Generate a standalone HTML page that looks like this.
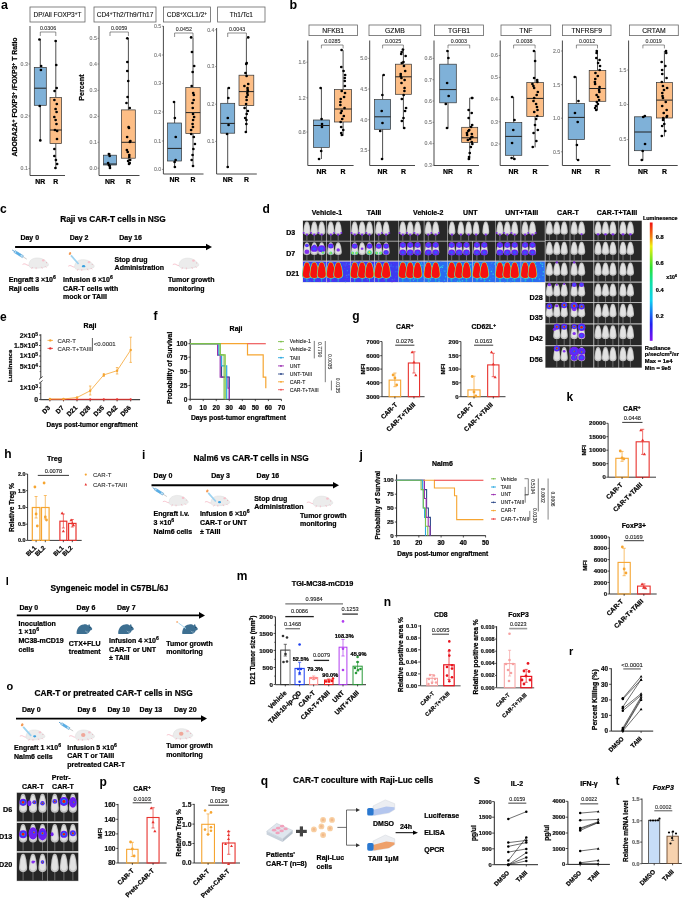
<!DOCTYPE html>
<html><head><meta charset="utf-8"><style>
html,body{margin:0;padding:0;background:#fff;}
svg{display:block;font-family:"Liberation Sans", sans-serif;filter:blur(0.4px);}
</style></head><body>
<svg width="685" height="898" viewBox="0 0 685 898">
<rect width="685" height="898" fill="#fff"/>
<text x="1.00" y="8.80" font-size="12.5" font-weight="bold">a</text>
<text x="289.50" y="8.80" font-size="12.5" font-weight="bold">b</text>
<rect x="30.00" y="7.00" width="55.00" height="15.00" fill="#fff" stroke="#666" stroke-width="0.8"/>
<text x="57.50" y="16.84" font-size="6.5" text-anchor="middle" fill="#111" stroke="#111" stroke-width="0.12">DP/All FOXP3<tspan font-size="72%" baseline-shift="super">+</tspan>T</text>
<line x1="30.00" y1="26.00" x2="30.00" y2="175.50" stroke="#333" stroke-width="0.9"/>
<line x1="30.00" y1="175.50" x2="65.00" y2="175.50" stroke="#333" stroke-width="0.9"/>
<line x1="28.50" y1="64.00" x2="30.00" y2="64.00" stroke="#555" stroke-width="0.6"/>
<text x="27.80" y="65.87" font-size="5.2" text-anchor="end" fill="#777" stroke="#777" stroke-width="0.12">0.3</text>
<line x1="28.50" y1="116.00" x2="30.00" y2="116.00" stroke="#555" stroke-width="0.6"/>
<text x="27.80" y="117.87" font-size="5.2" text-anchor="end" fill="#777" stroke="#777" stroke-width="0.12">0.2</text>
<line x1="28.50" y1="168.60" x2="30.00" y2="168.60" stroke="#555" stroke-width="0.6"/>
<text x="27.80" y="170.47" font-size="5.2" text-anchor="end" fill="#777" stroke="#777" stroke-width="0.12">0.1</text>
<line x1="40.30" y1="39.40" x2="40.30" y2="67.40" stroke="#222" stroke-width="0.8"/>
<line x1="40.30" y1="105.30" x2="40.30" y2="140.40" stroke="#222" stroke-width="0.8"/>
<rect x="34.30" y="67.40" width="12.00" height="37.90" fill="#7fb1d8" stroke="#333" stroke-width="0.7"/>
<line x1="34.30" y1="88.20" x2="46.30" y2="88.20" stroke="#222" stroke-width="1.0"/>
<circle cx="39.42" cy="39.50" r="1.35" fill="#000"/>
<circle cx="41.13" cy="66.00" r="1.35" fill="#000"/>
<circle cx="40.93" cy="70.00" r="1.35" fill="#000"/>
<circle cx="39.71" cy="106.00" r="1.35" fill="#000"/>
<circle cx="40.29" cy="140.40" r="1.35" fill="#000"/>
<line x1="55.80" y1="41.00" x2="55.80" y2="97.40" stroke="#222" stroke-width="0.8"/>
<line x1="55.80" y1="143.60" x2="55.80" y2="168.60" stroke="#222" stroke-width="0.8"/>
<rect x="50.00" y="97.40" width="11.60" height="46.20" fill="#fdbe86" stroke="#333" stroke-width="0.7"/>
<line x1="50.00" y1="130.00" x2="61.60" y2="130.00" stroke="#222" stroke-width="1.0"/>
<circle cx="55.65" cy="41.00" r="1.35" fill="#000"/>
<circle cx="56.25" cy="65.00" r="1.35" fill="#000"/>
<circle cx="56.67" cy="88.00" r="1.35" fill="#000"/>
<circle cx="54.58" cy="91.00" r="1.35" fill="#000"/>
<circle cx="54.39" cy="100.00" r="1.35" fill="#000"/>
<circle cx="56.81" cy="104.00" r="1.35" fill="#000"/>
<circle cx="55.60" cy="109.00" r="1.35" fill="#000"/>
<circle cx="56.59" cy="112.00" r="1.35" fill="#000"/>
<circle cx="54.31" cy="117.00" r="1.35" fill="#000"/>
<circle cx="55.64" cy="120.00" r="1.35" fill="#000"/>
<circle cx="56.46" cy="124.00" r="1.35" fill="#000"/>
<circle cx="54.99" cy="130.00" r="1.35" fill="#000"/>
<circle cx="57.14" cy="131.00" r="1.35" fill="#000"/>
<circle cx="57.00" cy="139.00" r="1.35" fill="#000"/>
<circle cx="54.39" cy="149.00" r="1.35" fill="#000"/>
<circle cx="54.38" cy="156.00" r="1.35" fill="#000"/>
<circle cx="55.92" cy="160.00" r="1.35" fill="#000"/>
<circle cx="57.12" cy="164.00" r="1.35" fill="#000"/>
<circle cx="55.44" cy="168.00" r="1.35" fill="#000"/>
<path d="M40.30,36.00V32.00H55.80V36.00" fill="none" stroke="#444" stroke-width="0.6"/>
<text x="48.05" y="29.71" font-size="5.3" text-anchor="middle" fill="#333" stroke="#333" stroke-width="0.12">0.0306</text>
<text x="40.30" y="183.78" font-size="6.9" font-weight="bold" text-anchor="middle" fill="#000" stroke="#000" stroke-width="0.22">NR</text>
<text x="55.80" y="183.78" font-size="6.9" font-weight="bold" text-anchor="middle" fill="#000" stroke="#000" stroke-width="0.22">R</text>
<rect x="94.00" y="7.00" width="62.00" height="15.00" fill="#fff" stroke="#666" stroke-width="0.8"/>
<text x="125.00" y="16.84" font-size="6.5" text-anchor="middle" fill="#111" stroke="#111" stroke-width="0.12">CD4<tspan font-size="72%" baseline-shift="super">+</tspan>Th2/Th9/Th17</text>
<line x1="99.00" y1="26.00" x2="99.00" y2="175.50" stroke="#333" stroke-width="0.9"/>
<line x1="99.00" y1="175.50" x2="139.50" y2="175.50" stroke="#333" stroke-width="0.9"/>
<line x1="97.50" y1="38.30" x2="99.00" y2="38.30" stroke="#555" stroke-width="0.6"/>
<text x="96.80" y="40.17" font-size="5.2" text-anchor="end" fill="#777" stroke="#777" stroke-width="0.12">0.5</text>
<line x1="97.50" y1="64.00" x2="99.00" y2="64.00" stroke="#555" stroke-width="0.6"/>
<text x="96.80" y="65.87" font-size="5.2" text-anchor="end" fill="#777" stroke="#777" stroke-width="0.12">0.4</text>
<line x1="97.50" y1="90.40" x2="99.00" y2="90.40" stroke="#555" stroke-width="0.6"/>
<text x="96.80" y="92.27" font-size="5.2" text-anchor="end" fill="#777" stroke="#777" stroke-width="0.12">0.3</text>
<line x1="97.50" y1="116.30" x2="99.00" y2="116.30" stroke="#555" stroke-width="0.6"/>
<text x="96.80" y="118.17" font-size="5.2" text-anchor="end" fill="#777" stroke="#777" stroke-width="0.12">0.2</text>
<line x1="97.50" y1="142.30" x2="99.00" y2="142.30" stroke="#555" stroke-width="0.6"/>
<text x="96.80" y="144.17" font-size="5.2" text-anchor="end" fill="#777" stroke="#777" stroke-width="0.12">0.1</text>
<line x1="97.50" y1="168.20" x2="99.00" y2="168.20" stroke="#555" stroke-width="0.6"/>
<text x="96.80" y="170.07" font-size="5.2" text-anchor="end" fill="#777" stroke="#777" stroke-width="0.12">0.0</text>
<line x1="110.00" y1="153.00" x2="110.00" y2="155.20" stroke="#222" stroke-width="0.8"/>
<line x1="110.00" y1="165.00" x2="110.00" y2="168.00" stroke="#222" stroke-width="0.8"/>
<rect x="103.50" y="155.20" width="13.00" height="9.80" fill="#7fb1d8" stroke="#333" stroke-width="0.7"/>
<line x1="103.50" y1="164.00" x2="116.50" y2="164.00" stroke="#222" stroke-width="1.0"/>
<circle cx="108.87" cy="154.00" r="1.35" fill="#000"/>
<circle cx="109.69" cy="156.00" r="1.35" fill="#000"/>
<circle cx="108.12" cy="163.00" r="1.35" fill="#000"/>
<circle cx="108.89" cy="165.00" r="1.35" fill="#000"/>
<circle cx="109.75" cy="166.00" r="1.35" fill="#000"/>
<circle cx="109.98" cy="168.00" r="1.35" fill="#000"/>
<line x1="128.40" y1="38.30" x2="128.40" y2="109.90" stroke="#222" stroke-width="0.8"/>
<line x1="128.40" y1="158.20" x2="128.40" y2="165.00" stroke="#222" stroke-width="0.8"/>
<rect x="121.50" y="109.90" width="13.80" height="48.30" fill="#fdbe86" stroke="#333" stroke-width="0.7"/>
<line x1="121.50" y1="142.30" x2="135.30" y2="142.30" stroke="#222" stroke-width="1.0"/>
<circle cx="127.33" cy="38.30" r="1.35" fill="#000"/>
<circle cx="127.32" cy="62.00" r="1.35" fill="#000"/>
<circle cx="127.28" cy="71.00" r="1.35" fill="#000"/>
<circle cx="128.24" cy="81.00" r="1.35" fill="#000"/>
<circle cx="127.56" cy="97.00" r="1.35" fill="#000"/>
<circle cx="126.49" cy="103.00" r="1.35" fill="#000"/>
<circle cx="129.75" cy="108.00" r="1.35" fill="#000"/>
<circle cx="128.63" cy="127.00" r="1.35" fill="#000"/>
<circle cx="128.97" cy="128.00" r="1.35" fill="#000"/>
<circle cx="127.14" cy="137.00" r="1.35" fill="#000"/>
<circle cx="130.37" cy="141.00" r="1.35" fill="#000"/>
<circle cx="129.84" cy="142.00" r="1.35" fill="#000"/>
<circle cx="126.88" cy="150.00" r="1.35" fill="#000"/>
<circle cx="127.73" cy="152.00" r="1.35" fill="#000"/>
<circle cx="129.29" cy="155.00" r="1.35" fill="#000"/>
<circle cx="129.24" cy="157.00" r="1.35" fill="#000"/>
<circle cx="130.15" cy="160.00" r="1.35" fill="#000"/>
<circle cx="128.09" cy="161.00" r="1.35" fill="#000"/>
<circle cx="129.72" cy="163.00" r="1.35" fill="#000"/>
<circle cx="129.08" cy="164.00" r="1.35" fill="#000"/>
<path d="M110.00,36.00V32.00H128.40V36.00" fill="none" stroke="#444" stroke-width="0.6"/>
<text x="119.20" y="29.71" font-size="5.3" text-anchor="middle" fill="#333" stroke="#333" stroke-width="0.12">0.0059</text>
<text x="110.00" y="183.78" font-size="6.9" font-weight="bold" text-anchor="middle" fill="#000" stroke="#000" stroke-width="0.22">NR</text>
<text x="128.40" y="183.78" font-size="6.9" font-weight="bold" text-anchor="middle" fill="#000" stroke="#000" stroke-width="0.22">R</text>
<rect x="163.40" y="7.00" width="47.10" height="15.00" fill="#fff" stroke="#666" stroke-width="0.8"/>
<text x="186.95" y="16.84" font-size="6.5" text-anchor="middle" fill="#111" stroke="#111" stroke-width="0.12">CD8<tspan font-size="72%" baseline-shift="super">+</tspan>XCL1/2<tspan font-size="72%" baseline-shift="super">+</tspan></text>
<line x1="163.40" y1="26.00" x2="163.40" y2="174.00" stroke="#333" stroke-width="0.9"/>
<line x1="163.40" y1="174.00" x2="203.50" y2="174.00" stroke="#333" stroke-width="0.9"/>
<line x1="161.90" y1="26.20" x2="163.40" y2="26.20" stroke="#555" stroke-width="0.6"/>
<text x="161.20" y="28.07" font-size="5.2" text-anchor="end" fill="#777" stroke="#777" stroke-width="0.12">0.5</text>
<line x1="161.90" y1="55.00" x2="163.40" y2="55.00" stroke="#555" stroke-width="0.6"/>
<text x="161.20" y="56.87" font-size="5.2" text-anchor="end" fill="#777" stroke="#777" stroke-width="0.12">0.4</text>
<line x1="161.90" y1="83.40" x2="163.40" y2="83.40" stroke="#555" stroke-width="0.6"/>
<text x="161.20" y="85.27" font-size="5.2" text-anchor="end" fill="#777" stroke="#777" stroke-width="0.12">0.3</text>
<line x1="161.90" y1="112.00" x2="163.40" y2="112.00" stroke="#555" stroke-width="0.6"/>
<text x="161.20" y="113.87" font-size="5.2" text-anchor="end" fill="#777" stroke="#777" stroke-width="0.12">0.2</text>
<line x1="161.90" y1="141.00" x2="163.40" y2="141.00" stroke="#555" stroke-width="0.6"/>
<text x="161.20" y="142.87" font-size="5.2" text-anchor="end" fill="#777" stroke="#777" stroke-width="0.12">0.1</text>
<line x1="161.90" y1="169.40" x2="163.40" y2="169.40" stroke="#555" stroke-width="0.6"/>
<text x="161.20" y="171.27" font-size="5.2" text-anchor="end" fill="#777" stroke="#777" stroke-width="0.12">0.0</text>
<line x1="174.60" y1="102.00" x2="174.60" y2="123.00" stroke="#222" stroke-width="0.8"/>
<line x1="174.60" y1="161.00" x2="174.60" y2="167.00" stroke="#222" stroke-width="0.8"/>
<rect x="167.60" y="123.00" width="14.00" height="38.00" fill="#7fb1d8" stroke="#333" stroke-width="0.7"/>
<line x1="167.60" y1="148.40" x2="181.60" y2="148.40" stroke="#222" stroke-width="1.0"/>
<circle cx="174.01" cy="102.00" r="1.35" fill="#000"/>
<circle cx="174.86" cy="118.00" r="1.35" fill="#000"/>
<circle cx="175.75" cy="137.00" r="1.35" fill="#000"/>
<circle cx="175.64" cy="160.00" r="1.35" fill="#000"/>
<circle cx="174.62" cy="162.00" r="1.35" fill="#000"/>
<circle cx="174.87" cy="167.00" r="1.35" fill="#000"/>
<line x1="193.00" y1="37.40" x2="193.00" y2="87.60" stroke="#222" stroke-width="0.8"/>
<line x1="193.00" y1="133.60" x2="193.00" y2="166.40" stroke="#222" stroke-width="0.8"/>
<rect x="185.80" y="87.60" width="14.40" height="46.00" fill="#fdbe86" stroke="#333" stroke-width="0.7"/>
<line x1="185.80" y1="112.60" x2="200.20" y2="112.60" stroke="#222" stroke-width="1.0"/>
<circle cx="191.14" cy="37.40" r="1.35" fill="#000"/>
<circle cx="191.97" cy="52.00" r="1.35" fill="#000"/>
<circle cx="194.19" cy="66.00" r="1.35" fill="#000"/>
<circle cx="192.66" cy="72.00" r="1.35" fill="#000"/>
<circle cx="191.69" cy="86.00" r="1.35" fill="#000"/>
<circle cx="193.20" cy="93.00" r="1.35" fill="#000"/>
<circle cx="193.81" cy="95.00" r="1.35" fill="#000"/>
<circle cx="193.70" cy="100.00" r="1.35" fill="#000"/>
<circle cx="192.50" cy="103.00" r="1.35" fill="#000"/>
<circle cx="192.76" cy="108.00" r="1.35" fill="#000"/>
<circle cx="193.03" cy="114.00" r="1.35" fill="#000"/>
<circle cx="194.11" cy="117.00" r="1.35" fill="#000"/>
<circle cx="193.08" cy="120.00" r="1.35" fill="#000"/>
<circle cx="192.57" cy="124.00" r="1.35" fill="#000"/>
<circle cx="192.96" cy="127.00" r="1.35" fill="#000"/>
<circle cx="191.12" cy="130.00" r="1.35" fill="#000"/>
<circle cx="191.17" cy="134.00" r="1.35" fill="#000"/>
<circle cx="193.81" cy="137.00" r="1.35" fill="#000"/>
<circle cx="194.93" cy="144.00" r="1.35" fill="#000"/>
<circle cx="193.37" cy="149.00" r="1.35" fill="#000"/>
<circle cx="192.57" cy="155.00" r="1.35" fill="#000"/>
<circle cx="191.68" cy="160.00" r="1.35" fill="#000"/>
<circle cx="193.01" cy="166.00" r="1.35" fill="#000"/>
<path d="M174.60,37.00V33.00H193.00V37.00" fill="none" stroke="#444" stroke-width="0.6"/>
<text x="183.80" y="30.71" font-size="5.3" text-anchor="middle" fill="#333" stroke="#333" stroke-width="0.12">0.0452</text>
<text x="174.60" y="182.28" font-size="6.9" font-weight="bold" text-anchor="middle" fill="#000" stroke="#000" stroke-width="0.22">NR</text>
<text x="193.00" y="182.28" font-size="6.9" font-weight="bold" text-anchor="middle" fill="#000" stroke="#000" stroke-width="0.22">R</text>
<rect x="217.60" y="7.00" width="47.40" height="15.00" fill="#fff" stroke="#666" stroke-width="0.8"/>
<text x="241.30" y="16.84" font-size="6.5" text-anchor="middle" fill="#111" stroke="#111" stroke-width="0.12">Th1/Tc1</text>
<line x1="216.60" y1="28.00" x2="216.60" y2="174.00" stroke="#333" stroke-width="0.9"/>
<line x1="216.60" y1="174.00" x2="256.80" y2="174.00" stroke="#333" stroke-width="0.9"/>
<line x1="215.10" y1="29.70" x2="216.60" y2="29.70" stroke="#555" stroke-width="0.6"/>
<text x="214.40" y="31.57" font-size="5.2" text-anchor="end" fill="#777" stroke="#777" stroke-width="0.12">0.4</text>
<line x1="215.10" y1="66.60" x2="216.60" y2="66.60" stroke="#555" stroke-width="0.6"/>
<text x="214.40" y="68.47" font-size="5.2" text-anchor="end" fill="#777" stroke="#777" stroke-width="0.12">0.3</text>
<line x1="215.10" y1="104.20" x2="216.60" y2="104.20" stroke="#555" stroke-width="0.6"/>
<text x="214.40" y="106.07" font-size="5.2" text-anchor="end" fill="#777" stroke="#777" stroke-width="0.12">0.2</text>
<line x1="215.10" y1="141.40" x2="216.60" y2="141.40" stroke="#555" stroke-width="0.6"/>
<text x="214.40" y="143.27" font-size="5.2" text-anchor="end" fill="#777" stroke="#777" stroke-width="0.12">0.1</text>
<line x1="227.70" y1="87.60" x2="227.70" y2="103.30" stroke="#222" stroke-width="0.8"/>
<line x1="227.70" y1="133.20" x2="227.70" y2="167.00" stroke="#222" stroke-width="0.8"/>
<rect x="220.70" y="103.30" width="14.00" height="29.90" fill="#7fb1d8" stroke="#333" stroke-width="0.7"/>
<line x1="220.70" y1="123.40" x2="234.70" y2="123.40" stroke="#222" stroke-width="1.0"/>
<circle cx="228.86" cy="88.00" r="1.35" fill="#000"/>
<circle cx="228.35" cy="98.00" r="1.35" fill="#000"/>
<circle cx="227.80" cy="118.00" r="1.35" fill="#000"/>
<circle cx="228.56" cy="125.00" r="1.35" fill="#000"/>
<circle cx="227.06" cy="134.00" r="1.35" fill="#000"/>
<circle cx="227.73" cy="167.00" r="1.35" fill="#000"/>
<line x1="246.40" y1="37.40" x2="246.40" y2="75.20" stroke="#222" stroke-width="0.8"/>
<line x1="246.40" y1="105.60" x2="246.40" y2="132.50" stroke="#222" stroke-width="0.8"/>
<rect x="239.00" y="75.20" width="14.80" height="30.40" fill="#fdbe86" stroke="#333" stroke-width="0.7"/>
<line x1="239.00" y1="91.60" x2="253.80" y2="91.60" stroke="#222" stroke-width="1.0"/>
<circle cx="248.21" cy="37.40" r="1.35" fill="#000"/>
<circle cx="246.71" cy="63.00" r="1.35" fill="#000"/>
<circle cx="246.24" cy="64.00" r="1.35" fill="#000"/>
<circle cx="245.48" cy="73.00" r="1.35" fill="#000"/>
<circle cx="246.59" cy="76.00" r="1.35" fill="#000"/>
<circle cx="248.23" cy="84.00" r="1.35" fill="#000"/>
<circle cx="244.42" cy="86.00" r="1.35" fill="#000"/>
<circle cx="247.53" cy="88.00" r="1.35" fill="#000"/>
<circle cx="247.68" cy="90.00" r="1.35" fill="#000"/>
<circle cx="247.94" cy="91.00" r="1.35" fill="#000"/>
<circle cx="247.36" cy="93.00" r="1.35" fill="#000"/>
<circle cx="247.64" cy="95.00" r="1.35" fill="#000"/>
<circle cx="246.47" cy="97.00" r="1.35" fill="#000"/>
<circle cx="246.65" cy="100.00" r="1.35" fill="#000"/>
<circle cx="246.10" cy="104.00" r="1.35" fill="#000"/>
<circle cx="244.62" cy="108.00" r="1.35" fill="#000"/>
<circle cx="247.88" cy="111.00" r="1.35" fill="#000"/>
<circle cx="246.68" cy="114.00" r="1.35" fill="#000"/>
<circle cx="245.20" cy="118.00" r="1.35" fill="#000"/>
<circle cx="246.42" cy="120.00" r="1.35" fill="#000"/>
<circle cx="246.34" cy="124.00" r="1.35" fill="#000"/>
<circle cx="245.83" cy="132.00" r="1.35" fill="#000"/>
<path d="M227.70,37.00V33.00H246.40V37.00" fill="none" stroke="#444" stroke-width="0.6"/>
<text x="237.05" y="30.71" font-size="5.3" text-anchor="middle" fill="#333" stroke="#333" stroke-width="0.12">0.0043</text>
<text x="227.70" y="182.28" font-size="6.9" font-weight="bold" text-anchor="middle" fill="#000" stroke="#000" stroke-width="0.22">NR</text>
<text x="246.40" y="182.28" font-size="6.9" font-weight="bold" text-anchor="middle" fill="#000" stroke="#000" stroke-width="0.22">R</text>
<rect x="309.00" y="25.00" width="48.40" height="10.60" fill="#fff" stroke="#666" stroke-width="0.8"/>
<text x="333.20" y="32.75" font-size="6.8" text-anchor="middle" fill="#111" stroke="#111" stroke-width="0.12">NFKB1</text>
<line x1="307.80" y1="40.50" x2="307.80" y2="165.50" stroke="#333" stroke-width="0.9"/>
<line x1="307.80" y1="165.50" x2="353.60" y2="165.50" stroke="#333" stroke-width="0.9"/>
<line x1="306.30" y1="62.20" x2="307.80" y2="62.20" stroke="#555" stroke-width="0.6"/>
<text x="305.60" y="64.07" font-size="5.2" text-anchor="end" fill="#777" stroke="#777" stroke-width="0.12">1.6</text>
<line x1="306.30" y1="97.80" x2="307.80" y2="97.80" stroke="#555" stroke-width="0.6"/>
<text x="305.60" y="99.67" font-size="5.2" text-anchor="end" fill="#777" stroke="#777" stroke-width="0.12">1.2</text>
<line x1="306.30" y1="132.00" x2="307.80" y2="132.00" stroke="#555" stroke-width="0.6"/>
<text x="305.60" y="133.87" font-size="5.2" text-anchor="end" fill="#777" stroke="#777" stroke-width="0.12">0.8</text>
<line x1="321.40" y1="87.60" x2="321.40" y2="120.00" stroke="#222" stroke-width="0.8"/>
<line x1="321.40" y1="147.40" x2="321.40" y2="159.00" stroke="#222" stroke-width="0.8"/>
<rect x="313.40" y="120.00" width="16.00" height="27.40" fill="#7fb1d8" stroke="#333" stroke-width="0.7"/>
<line x1="313.40" y1="125.50" x2="329.40" y2="125.50" stroke="#222" stroke-width="1.0"/>
<circle cx="320.63" cy="88.00" r="1.35" fill="#000"/>
<circle cx="321.59" cy="119.00" r="1.35" fill="#000"/>
<circle cx="322.02" cy="124.00" r="1.35" fill="#000"/>
<circle cx="321.96" cy="127.00" r="1.35" fill="#000"/>
<circle cx="321.19" cy="151.00" r="1.35" fill="#000"/>
<circle cx="319.04" cy="159.00" r="1.35" fill="#000"/>
<line x1="343.10" y1="50.20" x2="343.10" y2="89.60" stroke="#222" stroke-width="0.8"/>
<line x1="343.10" y1="122.00" x2="343.10" y2="135.80" stroke="#222" stroke-width="0.8"/>
<rect x="334.60" y="89.60" width="17.00" height="32.40" fill="#fdbe86" stroke="#333" stroke-width="0.7"/>
<line x1="334.60" y1="109.00" x2="351.60" y2="109.00" stroke="#222" stroke-width="1.0"/>
<circle cx="341.59" cy="50.00" r="1.35" fill="#000"/>
<circle cx="341.29" cy="67.00" r="1.35" fill="#000"/>
<circle cx="343.57" cy="71.00" r="1.35" fill="#000"/>
<circle cx="345.12" cy="75.00" r="1.35" fill="#000"/>
<circle cx="344.77" cy="78.00" r="1.35" fill="#000"/>
<circle cx="344.76" cy="81.00" r="1.35" fill="#000"/>
<circle cx="344.87" cy="86.00" r="1.35" fill="#000"/>
<circle cx="341.73" cy="91.00" r="1.35" fill="#000"/>
<circle cx="345.01" cy="93.00" r="1.35" fill="#000"/>
<circle cx="344.07" cy="97.00" r="1.35" fill="#000"/>
<circle cx="340.77" cy="99.00" r="1.35" fill="#000"/>
<circle cx="340.39" cy="102.00" r="1.35" fill="#000"/>
<circle cx="340.38" cy="105.00" r="1.35" fill="#000"/>
<circle cx="344.53" cy="108.00" r="1.35" fill="#000"/>
<circle cx="341.70" cy="111.00" r="1.35" fill="#000"/>
<circle cx="340.91" cy="113.00" r="1.35" fill="#000"/>
<circle cx="343.80" cy="116.00" r="1.35" fill="#000"/>
<circle cx="342.23" cy="119.00" r="1.35" fill="#000"/>
<circle cx="340.69" cy="122.00" r="1.35" fill="#000"/>
<circle cx="341.19" cy="127.00" r="1.35" fill="#000"/>
<circle cx="343.25" cy="130.00" r="1.35" fill="#000"/>
<circle cx="341.24" cy="133.00" r="1.35" fill="#000"/>
<circle cx="341.83" cy="135.00" r="1.35" fill="#000"/>
<path d="M321.40,48.40V45.00H343.10V48.40" fill="none" stroke="#444" stroke-width="0.6"/>
<text x="332.25" y="42.71" font-size="5.3" text-anchor="middle" fill="#333" stroke="#333" stroke-width="0.12"></text>
<text x="321.40" y="173.78" font-size="6.9" font-weight="bold" text-anchor="middle" fill="#000" stroke="#000" stroke-width="0.22">NR</text>
<text x="343.10" y="173.78" font-size="6.9" font-weight="bold" text-anchor="middle" fill="#000" stroke="#000" stroke-width="0.22">R</text>
<rect x="369.00" y="25.00" width="51.80" height="10.60" fill="#fff" stroke="#666" stroke-width="0.8"/>
<text x="394.90" y="32.75" font-size="6.8" text-anchor="middle" fill="#111" stroke="#111" stroke-width="0.12">GZMB</text>
<line x1="369.70" y1="40.50" x2="369.70" y2="165.50" stroke="#333" stroke-width="0.9"/>
<line x1="369.70" y1="165.50" x2="415.00" y2="165.50" stroke="#333" stroke-width="0.9"/>
<line x1="368.20" y1="58.40" x2="369.70" y2="58.40" stroke="#555" stroke-width="0.6"/>
<text x="367.50" y="60.27" font-size="5.2" text-anchor="end" fill="#777" stroke="#777" stroke-width="0.12">5.0</text>
<line x1="368.20" y1="89.00" x2="369.70" y2="89.00" stroke="#555" stroke-width="0.6"/>
<text x="367.50" y="90.87" font-size="5.2" text-anchor="end" fill="#777" stroke="#777" stroke-width="0.12">4.5</text>
<line x1="368.20" y1="119.70" x2="369.70" y2="119.70" stroke="#555" stroke-width="0.6"/>
<text x="367.50" y="121.57" font-size="5.2" text-anchor="end" fill="#777" stroke="#777" stroke-width="0.12">4.0</text>
<line x1="368.20" y1="150.40" x2="369.70" y2="150.40" stroke="#555" stroke-width="0.6"/>
<text x="367.50" y="152.27" font-size="5.2" text-anchor="end" fill="#777" stroke="#777" stroke-width="0.12">3.5</text>
<line x1="382.60" y1="75.00" x2="382.60" y2="99.60" stroke="#222" stroke-width="0.8"/>
<line x1="382.60" y1="129.30" x2="382.60" y2="159.00" stroke="#222" stroke-width="0.8"/>
<rect x="374.60" y="99.60" width="16.00" height="29.70" fill="#7fb1d8" stroke="#333" stroke-width="0.7"/>
<line x1="374.60" y1="116.80" x2="390.60" y2="116.80" stroke="#222" stroke-width="1.0"/>
<circle cx="383.66" cy="75.00" r="1.35" fill="#000"/>
<circle cx="382.37" cy="95.00" r="1.35" fill="#000"/>
<circle cx="381.71" cy="111.00" r="1.35" fill="#000"/>
<circle cx="382.47" cy="123.00" r="1.35" fill="#000"/>
<circle cx="380.22" cy="131.00" r="1.35" fill="#000"/>
<circle cx="382.03" cy="159.00" r="1.35" fill="#000"/>
<line x1="403.40" y1="49.60" x2="403.40" y2="64.20" stroke="#222" stroke-width="0.8"/>
<line x1="403.40" y1="94.30" x2="403.40" y2="128.80" stroke="#222" stroke-width="0.8"/>
<rect x="395.40" y="64.20" width="16.00" height="30.10" fill="#fdbe86" stroke="#333" stroke-width="0.7"/>
<line x1="395.40" y1="76.80" x2="411.40" y2="76.80" stroke="#222" stroke-width="1.0"/>
<circle cx="402.96" cy="49.60" r="1.35" fill="#000"/>
<circle cx="401.65" cy="52.00" r="1.35" fill="#000"/>
<circle cx="401.21" cy="54.00" r="1.35" fill="#000"/>
<circle cx="405.64" cy="56.00" r="1.35" fill="#000"/>
<circle cx="403.46" cy="62.00" r="1.35" fill="#000"/>
<circle cx="401.77" cy="63.00" r="1.35" fill="#000"/>
<circle cx="403.99" cy="66.00" r="1.35" fill="#000"/>
<circle cx="405.18" cy="71.00" r="1.35" fill="#000"/>
<circle cx="400.72" cy="74.00" r="1.35" fill="#000"/>
<circle cx="400.70" cy="76.00" r="1.35" fill="#000"/>
<circle cx="401.42" cy="78.00" r="1.35" fill="#000"/>
<circle cx="404.63" cy="80.00" r="1.35" fill="#000"/>
<circle cx="401.50" cy="83.00" r="1.35" fill="#000"/>
<circle cx="404.55" cy="88.00" r="1.35" fill="#000"/>
<circle cx="404.40" cy="91.00" r="1.35" fill="#000"/>
<circle cx="403.65" cy="95.00" r="1.35" fill="#000"/>
<circle cx="401.84" cy="99.00" r="1.35" fill="#000"/>
<circle cx="406.06" cy="108.00" r="1.35" fill="#000"/>
<circle cx="405.07" cy="111.00" r="1.35" fill="#000"/>
<circle cx="403.49" cy="118.00" r="1.35" fill="#000"/>
<circle cx="401.85" cy="121.00" r="1.35" fill="#000"/>
<circle cx="404.23" cy="128.00" r="1.35" fill="#000"/>
<path d="M382.60,48.40V45.00H403.40V48.40" fill="none" stroke="#444" stroke-width="0.6"/>
<text x="393.00" y="42.71" font-size="5.3" text-anchor="middle" fill="#333" stroke="#333" stroke-width="0.12"></text>
<text x="382.60" y="173.78" font-size="6.9" font-weight="bold" text-anchor="middle" fill="#000" stroke="#000" stroke-width="0.22">NR</text>
<text x="403.40" y="173.78" font-size="6.9" font-weight="bold" text-anchor="middle" fill="#000" stroke="#000" stroke-width="0.22">R</text>
<rect x="434.50" y="25.00" width="49.00" height="10.60" fill="#fff" stroke="#666" stroke-width="0.8"/>
<text x="459.00" y="32.75" font-size="6.8" text-anchor="middle" fill="#111" stroke="#111" stroke-width="0.12">TGFB1</text>
<line x1="434.00" y1="40.50" x2="434.00" y2="165.50" stroke="#333" stroke-width="0.9"/>
<line x1="434.00" y1="165.50" x2="479.00" y2="165.50" stroke="#333" stroke-width="0.9"/>
<line x1="432.50" y1="58.40" x2="434.00" y2="58.40" stroke="#555" stroke-width="0.6"/>
<text x="431.80" y="60.27" font-size="5.2" text-anchor="end" fill="#777" stroke="#777" stroke-width="0.12">0.8</text>
<line x1="432.50" y1="79.70" x2="434.00" y2="79.70" stroke="#555" stroke-width="0.6"/>
<text x="431.80" y="81.57" font-size="5.2" text-anchor="end" fill="#777" stroke="#777" stroke-width="0.12">0.7</text>
<line x1="432.50" y1="101.00" x2="434.00" y2="101.00" stroke="#555" stroke-width="0.6"/>
<text x="431.80" y="102.87" font-size="5.2" text-anchor="end" fill="#777" stroke="#777" stroke-width="0.12">0.6</text>
<line x1="432.50" y1="122.30" x2="434.00" y2="122.30" stroke="#555" stroke-width="0.6"/>
<text x="431.80" y="124.17" font-size="5.2" text-anchor="end" fill="#777" stroke="#777" stroke-width="0.12">0.5</text>
<line x1="432.50" y1="143.60" x2="434.00" y2="143.60" stroke="#555" stroke-width="0.6"/>
<text x="431.80" y="145.47" font-size="5.2" text-anchor="end" fill="#777" stroke="#777" stroke-width="0.12">0.4</text>
<line x1="432.50" y1="165.30" x2="434.00" y2="165.30" stroke="#555" stroke-width="0.6"/>
<text x="431.80" y="167.17" font-size="5.2" text-anchor="end" fill="#777" stroke="#777" stroke-width="0.12">0.3</text>
<line x1="448.00" y1="51.00" x2="448.00" y2="64.20" stroke="#222" stroke-width="0.8"/>
<line x1="448.00" y1="102.80" x2="448.00" y2="128.50" stroke="#222" stroke-width="0.8"/>
<rect x="439.70" y="64.20" width="16.60" height="38.60" fill="#7fb1d8" stroke="#333" stroke-width="0.7"/>
<line x1="439.70" y1="89.60" x2="456.30" y2="89.60" stroke="#222" stroke-width="1.0"/>
<circle cx="447.47" cy="51.00" r="1.35" fill="#000"/>
<circle cx="448.38" cy="58.00" r="1.35" fill="#000"/>
<circle cx="447.11" cy="83.00" r="1.35" fill="#000"/>
<circle cx="448.65" cy="96.00" r="1.35" fill="#000"/>
<circle cx="445.79" cy="104.00" r="1.35" fill="#000"/>
<circle cx="446.99" cy="128.00" r="1.35" fill="#000"/>
<line x1="469.70" y1="97.80" x2="469.70" y2="127.30" stroke="#222" stroke-width="0.8"/>
<line x1="469.70" y1="142.50" x2="469.70" y2="159.70" stroke="#222" stroke-width="0.8"/>
<rect x="461.70" y="127.30" width="16.00" height="15.20" fill="#fdbe86" stroke="#333" stroke-width="0.7"/>
<line x1="461.70" y1="137.80" x2="477.70" y2="137.80" stroke="#222" stroke-width="1.0"/>
<circle cx="472.32" cy="98.00" r="1.35" fill="#000"/>
<circle cx="471.80" cy="98.00" r="1.35" fill="#000"/>
<circle cx="468.62" cy="110.00" r="1.35" fill="#000"/>
<circle cx="471.71" cy="113.00" r="1.35" fill="#000"/>
<circle cx="468.64" cy="118.00" r="1.35" fill="#000"/>
<circle cx="472.16" cy="125.00" r="1.35" fill="#000"/>
<circle cx="471.07" cy="127.00" r="1.35" fill="#000"/>
<circle cx="469.23" cy="130.00" r="1.35" fill="#000"/>
<circle cx="468.31" cy="131.00" r="1.35" fill="#000"/>
<circle cx="466.95" cy="133.00" r="1.35" fill="#000"/>
<circle cx="471.82" cy="134.00" r="1.35" fill="#000"/>
<circle cx="467.11" cy="135.00" r="1.35" fill="#000"/>
<circle cx="471.49" cy="137.00" r="1.35" fill="#000"/>
<circle cx="472.29" cy="137.00" r="1.35" fill="#000"/>
<circle cx="470.09" cy="139.00" r="1.35" fill="#000"/>
<circle cx="467.86" cy="140.00" r="1.35" fill="#000"/>
<circle cx="471.76" cy="142.00" r="1.35" fill="#000"/>
<circle cx="472.35" cy="144.00" r="1.35" fill="#000"/>
<circle cx="470.84" cy="147.00" r="1.35" fill="#000"/>
<circle cx="469.75" cy="153.00" r="1.35" fill="#000"/>
<circle cx="469.02" cy="157.00" r="1.35" fill="#000"/>
<circle cx="468.84" cy="159.00" r="1.35" fill="#000"/>
<path d="M448.00,48.40V45.00H469.70V48.40" fill="none" stroke="#444" stroke-width="0.6"/>
<text x="458.85" y="42.71" font-size="5.3" text-anchor="middle" fill="#333" stroke="#333" stroke-width="0.12"></text>
<text x="448.00" y="173.78" font-size="6.9" font-weight="bold" text-anchor="middle" fill="#000" stroke="#000" stroke-width="0.22">NR</text>
<text x="469.70" y="173.78" font-size="6.9" font-weight="bold" text-anchor="middle" fill="#000" stroke="#000" stroke-width="0.22">R</text>
<rect x="501.00" y="25.00" width="49.70" height="10.60" fill="#fff" stroke="#666" stroke-width="0.8"/>
<text x="525.85" y="32.75" font-size="6.8" text-anchor="middle" fill="#111" stroke="#111" stroke-width="0.12">TNF</text>
<line x1="500.20" y1="40.50" x2="500.20" y2="165.50" stroke="#333" stroke-width="0.9"/>
<line x1="500.20" y1="165.50" x2="548.60" y2="165.50" stroke="#333" stroke-width="0.9"/>
<line x1="498.70" y1="55.50" x2="500.20" y2="55.50" stroke="#555" stroke-width="0.6"/>
<text x="498.00" y="57.37" font-size="5.2" text-anchor="end" fill="#777" stroke="#777" stroke-width="0.12">0.6</text>
<line x1="498.70" y1="77.40" x2="500.20" y2="77.40" stroke="#555" stroke-width="0.6"/>
<text x="498.00" y="79.27" font-size="5.2" text-anchor="end" fill="#777" stroke="#777" stroke-width="0.12">0.5</text>
<line x1="498.70" y1="99.60" x2="500.20" y2="99.60" stroke="#555" stroke-width="0.6"/>
<text x="498.00" y="101.47" font-size="5.2" text-anchor="end" fill="#777" stroke="#777" stroke-width="0.12">0.4</text>
<line x1="498.70" y1="121.80" x2="500.20" y2="121.80" stroke="#555" stroke-width="0.6"/>
<text x="498.00" y="123.67" font-size="5.2" text-anchor="end" fill="#777" stroke="#777" stroke-width="0.12">0.3</text>
<line x1="498.70" y1="144.00" x2="500.20" y2="144.00" stroke="#555" stroke-width="0.6"/>
<text x="498.00" y="145.87" font-size="5.2" text-anchor="end" fill="#777" stroke="#777" stroke-width="0.12">0.2</text>
<line x1="513.60" y1="97.00" x2="513.60" y2="122.60" stroke="#222" stroke-width="0.8"/>
<line x1="513.60" y1="155.30" x2="513.60" y2="160.00" stroke="#222" stroke-width="0.8"/>
<rect x="505.40" y="122.60" width="16.40" height="32.70" fill="#7fb1d8" stroke="#333" stroke-width="0.7"/>
<line x1="505.40" y1="136.40" x2="521.80" y2="136.40" stroke="#222" stroke-width="1.0"/>
<circle cx="512.13" cy="97.00" r="1.35" fill="#000"/>
<circle cx="514.47" cy="120.00" r="1.35" fill="#000"/>
<circle cx="513.26" cy="130.00" r="1.35" fill="#000"/>
<circle cx="512.07" cy="143.00" r="1.35" fill="#000"/>
<circle cx="511.62" cy="158.00" r="1.35" fill="#000"/>
<circle cx="514.43" cy="159.00" r="1.35" fill="#000"/>
<line x1="535.10" y1="51.00" x2="535.10" y2="82.60" stroke="#222" stroke-width="0.8"/>
<line x1="535.10" y1="116.50" x2="535.10" y2="147.40" stroke="#222" stroke-width="0.8"/>
<rect x="526.80" y="82.60" width="16.60" height="33.90" fill="#fdbe86" stroke="#333" stroke-width="0.7"/>
<line x1="526.80" y1="98.40" x2="543.40" y2="98.40" stroke="#222" stroke-width="1.0"/>
<circle cx="533.96" cy="51.00" r="1.35" fill="#000"/>
<circle cx="535.10" cy="61.00" r="1.35" fill="#000"/>
<circle cx="534.12" cy="78.00" r="1.35" fill="#000"/>
<circle cx="537.18" cy="80.00" r="1.35" fill="#000"/>
<circle cx="537.34" cy="82.00" r="1.35" fill="#000"/>
<circle cx="532.40" cy="84.00" r="1.35" fill="#000"/>
<circle cx="533.42" cy="86.00" r="1.35" fill="#000"/>
<circle cx="534.14" cy="88.00" r="1.35" fill="#000"/>
<circle cx="537.83" cy="92.00" r="1.35" fill="#000"/>
<circle cx="536.68" cy="95.00" r="1.35" fill="#000"/>
<circle cx="534.20" cy="98.00" r="1.35" fill="#000"/>
<circle cx="533.49" cy="101.00" r="1.35" fill="#000"/>
<circle cx="536.08" cy="104.00" r="1.35" fill="#000"/>
<circle cx="536.99" cy="107.00" r="1.35" fill="#000"/>
<circle cx="537.52" cy="110.00" r="1.35" fill="#000"/>
<circle cx="534.23" cy="112.00" r="1.35" fill="#000"/>
<circle cx="537.24" cy="116.00" r="1.35" fill="#000"/>
<circle cx="536.15" cy="119.00" r="1.35" fill="#000"/>
<circle cx="535.01" cy="125.00" r="1.35" fill="#000"/>
<circle cx="537.82" cy="130.00" r="1.35" fill="#000"/>
<circle cx="533.61" cy="133.00" r="1.35" fill="#000"/>
<circle cx="536.36" cy="141.00" r="1.35" fill="#000"/>
<circle cx="532.77" cy="147.00" r="1.35" fill="#000"/>
<path d="M513.60,48.40V45.00H535.10V48.40" fill="none" stroke="#444" stroke-width="0.6"/>
<text x="524.35" y="42.71" font-size="5.3" text-anchor="middle" fill="#333" stroke="#333" stroke-width="0.12"></text>
<text x="513.60" y="173.78" font-size="6.9" font-weight="bold" text-anchor="middle" fill="#000" stroke="#000" stroke-width="0.22">NR</text>
<text x="535.10" y="173.78" font-size="6.9" font-weight="bold" text-anchor="middle" fill="#000" stroke="#000" stroke-width="0.22">R</text>
<rect x="562.40" y="25.00" width="48.60" height="10.60" fill="#fff" stroke="#666" stroke-width="0.8"/>
<text x="586.70" y="32.75" font-size="6.8" text-anchor="middle" fill="#111" stroke="#111" stroke-width="0.12">TNFRSF9</text>
<line x1="562.40" y1="40.50" x2="562.40" y2="165.50" stroke="#333" stroke-width="0.9"/>
<line x1="562.40" y1="165.50" x2="610.50" y2="165.50" stroke="#333" stroke-width="0.9"/>
<line x1="560.90" y1="51.00" x2="562.40" y2="51.00" stroke="#555" stroke-width="0.6"/>
<text x="560.20" y="52.87" font-size="5.2" text-anchor="end" fill="#777" stroke="#777" stroke-width="0.12">2.0</text>
<line x1="560.90" y1="84.70" x2="562.40" y2="84.70" stroke="#555" stroke-width="0.6"/>
<text x="560.20" y="86.57" font-size="5.2" text-anchor="end" fill="#777" stroke="#777" stroke-width="0.12">1.5</text>
<line x1="560.90" y1="118.20" x2="562.40" y2="118.20" stroke="#555" stroke-width="0.6"/>
<text x="560.20" y="120.07" font-size="5.2" text-anchor="end" fill="#777" stroke="#777" stroke-width="0.12">1.0</text>
<line x1="560.90" y1="151.80" x2="562.40" y2="151.80" stroke="#555" stroke-width="0.6"/>
<text x="560.20" y="153.67" font-size="5.2" text-anchor="end" fill="#777" stroke="#777" stroke-width="0.12">0.5</text>
<line x1="576.40" y1="76.50" x2="576.40" y2="103.60" stroke="#222" stroke-width="0.8"/>
<line x1="576.40" y1="139.60" x2="576.40" y2="160.00" stroke="#222" stroke-width="0.8"/>
<rect x="568.20" y="103.60" width="16.40" height="36.00" fill="#7fb1d8" stroke="#333" stroke-width="0.7"/>
<line x1="568.20" y1="117.40" x2="584.60" y2="117.40" stroke="#222" stroke-width="1.0"/>
<circle cx="574.75" cy="77.00" r="1.35" fill="#000"/>
<circle cx="578.45" cy="101.00" r="1.35" fill="#000"/>
<circle cx="574.96" cy="113.00" r="1.35" fill="#000"/>
<circle cx="577.70" cy="122.00" r="1.35" fill="#000"/>
<circle cx="576.90" cy="145.00" r="1.35" fill="#000"/>
<circle cx="578.11" cy="160.00" r="1.35" fill="#000"/>
<line x1="597.50" y1="51.00" x2="597.50" y2="70.40" stroke="#222" stroke-width="0.8"/>
<line x1="597.50" y1="101.30" x2="597.50" y2="110.40" stroke="#222" stroke-width="0.8"/>
<rect x="589.20" y="70.40" width="16.60" height="30.90" fill="#fdbe86" stroke="#333" stroke-width="0.7"/>
<line x1="589.20" y1="88.50" x2="605.80" y2="88.50" stroke="#222" stroke-width="1.0"/>
<circle cx="596.76" cy="51.00" r="1.35" fill="#000"/>
<circle cx="596.61" cy="53.00" r="1.35" fill="#000"/>
<circle cx="596.33" cy="58.00" r="1.35" fill="#000"/>
<circle cx="599.56" cy="60.00" r="1.35" fill="#000"/>
<circle cx="598.08" cy="63.00" r="1.35" fill="#000"/>
<circle cx="600.04" cy="66.00" r="1.35" fill="#000"/>
<circle cx="599.67" cy="70.00" r="1.35" fill="#000"/>
<circle cx="595.46" cy="73.00" r="1.35" fill="#000"/>
<circle cx="597.79" cy="76.00" r="1.35" fill="#000"/>
<circle cx="595.28" cy="79.00" r="1.35" fill="#000"/>
<circle cx="594.92" cy="82.00" r="1.35" fill="#000"/>
<circle cx="595.11" cy="84.00" r="1.35" fill="#000"/>
<circle cx="599.55" cy="87.00" r="1.35" fill="#000"/>
<circle cx="599.11" cy="90.00" r="1.35" fill="#000"/>
<circle cx="599.34" cy="92.00" r="1.35" fill="#000"/>
<circle cx="596.61" cy="95.00" r="1.35" fill="#000"/>
<circle cx="598.15" cy="97.00" r="1.35" fill="#000"/>
<circle cx="599.08" cy="100.00" r="1.35" fill="#000"/>
<circle cx="596.82" cy="102.00" r="1.35" fill="#000"/>
<circle cx="597.90" cy="104.00" r="1.35" fill="#000"/>
<circle cx="595.95" cy="106.00" r="1.35" fill="#000"/>
<circle cx="595.16" cy="108.00" r="1.35" fill="#000"/>
<circle cx="596.19" cy="110.00" r="1.35" fill="#000"/>
<path d="M576.40,48.40V45.00H597.50V48.40" fill="none" stroke="#444" stroke-width="0.6"/>
<text x="586.95" y="42.71" font-size="5.3" text-anchor="middle" fill="#333" stroke="#333" stroke-width="0.12"></text>
<text x="576.40" y="173.78" font-size="6.9" font-weight="bold" text-anchor="middle" fill="#000" stroke="#000" stroke-width="0.22">NR</text>
<text x="597.50" y="173.78" font-size="6.9" font-weight="bold" text-anchor="middle" fill="#000" stroke="#000" stroke-width="0.22">R</text>
<rect x="629.50" y="25.00" width="48.80" height="10.60" fill="#fff" stroke="#666" stroke-width="0.8"/>
<text x="653.90" y="32.75" font-size="6.8" text-anchor="middle" fill="#111" stroke="#111" stroke-width="0.12">CRTAM</text>
<line x1="628.60" y1="40.50" x2="628.60" y2="165.50" stroke="#333" stroke-width="0.9"/>
<line x1="628.60" y1="165.50" x2="677.70" y2="165.50" stroke="#333" stroke-width="0.9"/>
<line x1="627.10" y1="70.00" x2="628.60" y2="70.00" stroke="#555" stroke-width="0.6"/>
<text x="626.40" y="71.87" font-size="5.2" text-anchor="end" fill="#777" stroke="#777" stroke-width="0.12">1.5</text>
<line x1="627.10" y1="104.50" x2="628.60" y2="104.50" stroke="#555" stroke-width="0.6"/>
<text x="626.40" y="106.37" font-size="5.2" text-anchor="end" fill="#777" stroke="#777" stroke-width="0.12">1.0</text>
<line x1="627.10" y1="139.60" x2="628.60" y2="139.60" stroke="#555" stroke-width="0.6"/>
<text x="626.40" y="141.47" font-size="5.2" text-anchor="end" fill="#777" stroke="#777" stroke-width="0.12">0.5</text>
<line x1="642.90" y1="116.00" x2="642.90" y2="116.80" stroke="#222" stroke-width="0.8"/>
<line x1="642.90" y1="150.70" x2="642.90" y2="160.60" stroke="#222" stroke-width="0.8"/>
<rect x="634.50" y="116.80" width="16.80" height="33.90" fill="#7fb1d8" stroke="#333" stroke-width="0.7"/>
<line x1="634.50" y1="132.00" x2="651.30" y2="132.00" stroke="#222" stroke-width="1.0"/>
<circle cx="644.85" cy="116.00" r="1.35" fill="#000"/>
<circle cx="643.22" cy="117.00" r="1.35" fill="#000"/>
<circle cx="645.03" cy="144.00" r="1.35" fill="#000"/>
<circle cx="642.69" cy="151.00" r="1.35" fill="#000"/>
<circle cx="641.79" cy="160.00" r="1.35" fill="#000"/>
<line x1="664.40" y1="51.00" x2="664.40" y2="82.60" stroke="#222" stroke-width="0.8"/>
<line x1="664.40" y1="118.00" x2="664.40" y2="136.40" stroke="#222" stroke-width="0.8"/>
<rect x="656.40" y="82.60" width="16.00" height="35.40" fill="#fdbe86" stroke="#333" stroke-width="0.7"/>
<line x1="656.40" y1="100.10" x2="672.40" y2="100.10" stroke="#222" stroke-width="1.0"/>
<circle cx="666.01" cy="51.00" r="1.35" fill="#000"/>
<circle cx="666.24" cy="53.00" r="1.35" fill="#000"/>
<circle cx="661.67" cy="62.00" r="1.35" fill="#000"/>
<circle cx="665.35" cy="66.00" r="1.35" fill="#000"/>
<circle cx="662.11" cy="70.00" r="1.35" fill="#000"/>
<circle cx="662.24" cy="74.00" r="1.35" fill="#000"/>
<circle cx="666.56" cy="78.00" r="1.35" fill="#000"/>
<circle cx="661.82" cy="82.00" r="1.35" fill="#000"/>
<circle cx="662.94" cy="86.00" r="1.35" fill="#000"/>
<circle cx="667.13" cy="88.00" r="1.35" fill="#000"/>
<circle cx="663.96" cy="90.00" r="1.35" fill="#000"/>
<circle cx="662.25" cy="93.00" r="1.35" fill="#000"/>
<circle cx="662.54" cy="96.00" r="1.35" fill="#000"/>
<circle cx="662.95" cy="98.00" r="1.35" fill="#000"/>
<circle cx="665.77" cy="102.00" r="1.35" fill="#000"/>
<circle cx="662.18" cy="106.00" r="1.35" fill="#000"/>
<circle cx="666.70" cy="110.00" r="1.35" fill="#000"/>
<circle cx="663.72" cy="113.00" r="1.35" fill="#000"/>
<circle cx="667.03" cy="116.00" r="1.35" fill="#000"/>
<circle cx="666.69" cy="117.00" r="1.35" fill="#000"/>
<circle cx="663.25" cy="118.00" r="1.35" fill="#000"/>
<circle cx="663.02" cy="120.00" r="1.35" fill="#000"/>
<circle cx="664.27" cy="124.00" r="1.35" fill="#000"/>
<circle cx="662.16" cy="126.00" r="1.35" fill="#000"/>
<circle cx="665.25" cy="131.00" r="1.35" fill="#000"/>
<circle cx="661.82" cy="136.00" r="1.35" fill="#000"/>
<path d="M642.90,48.40V45.00H664.40V48.40" fill="none" stroke="#444" stroke-width="0.6"/>
<text x="653.65" y="42.71" font-size="5.3" text-anchor="middle" fill="#333" stroke="#333" stroke-width="0.12"></text>
<text x="642.90" y="173.78" font-size="6.9" font-weight="bold" text-anchor="middle" fill="#000" stroke="#000" stroke-width="0.22">NR</text>
<text x="664.40" y="173.78" font-size="6.9" font-weight="bold" text-anchor="middle" fill="#000" stroke="#000" stroke-width="0.22">R</text>
<text x="332.30" y="43.11" font-size="5.3" text-anchor="middle" fill="#333" stroke="#333" stroke-width="0.12">0.0285</text>
<text x="393.00" y="43.11" font-size="5.3" text-anchor="middle" fill="#333" stroke="#333" stroke-width="0.12">0.0025</text>
<text x="458.90" y="43.11" font-size="5.3" text-anchor="middle" fill="#333" stroke="#333" stroke-width="0.12">0.0003</text>
<text x="524.40" y="43.11" font-size="5.3" text-anchor="middle" fill="#333" stroke="#333" stroke-width="0.12">0.0038</text>
<text x="587.00" y="43.11" font-size="5.3" text-anchor="middle" fill="#333" stroke="#333" stroke-width="0.12">0.0012</text>
<text x="653.70" y="43.11" font-size="5.3" text-anchor="middle" fill="#333" stroke="#333" stroke-width="0.12">0.0019</text>
<text x="0" y="2.48" font-size="6.9" font-weight="bold" text-anchor="middle" fill="#000" transform="translate(14.50,97.00) rotate(-90)" stroke="#000" stroke-width="0.22">ADORA2A<tspan font-size="72%" baseline-shift="super">+</tspan> FOXP3<tspan font-size="72%" baseline-shift="super">+</tspan> /FOXP3<tspan font-size="72%" baseline-shift="super">+</tspan> T Ratio</text>
<text x="0" y="2.59" font-size="7.2" font-weight="bold" text-anchor="middle" fill="#000" transform="translate(81.00,87.60) rotate(-90)" stroke="#000" stroke-width="0.22">Percent</text>
<text x="0.00" y="212.70" font-size="12" font-weight="bold">c</text>
<text x="60.20" y="222.39" font-size="8.3" font-weight="bold" text-anchor="start" fill="#000" stroke="#000" stroke-width="0.22">Raji vs CAR-T cells in NSG</text>
<text x="20.40" y="239.82" font-size="7.0" font-weight="bold" text-anchor="start" fill="#000" stroke="#000" stroke-width="0.22">Day 0</text>
<text x="69.70" y="239.82" font-size="7.0" font-weight="bold" text-anchor="start" fill="#000" stroke="#000" stroke-width="0.22">Day 2</text>
<text x="119.30" y="239.82" font-size="7.0" font-weight="bold" text-anchor="start" fill="#000" stroke="#000" stroke-width="0.22">Day 16</text>
<line x1="15.10" y1="247.00" x2="206.50" y2="247.00" stroke="#000" stroke-width="1.9"/>
<path d="M212.00,247.00L206.00,243.70L206.00,250.30Z" fill="#000"/>
<g transform="translate(25.30,257.30) scale(0.9)">
<path d="M4,9 C1,9 0,6 -3,8" fill="none" stroke="#f2a0b0" stroke-width="0.7"/>
<path d="M4,9 C4,2.5 9,0.3 15,0.8 C19.5,1.2 22.5,3.5 25,6.5 C26.5,8 26,9.5 24,10 C20,12 14,12.5 9,12 C6,11.7 4,11 4,9 Z" fill="#ececec" stroke="#dadada" stroke-width="0.5"/>
<ellipse cx="20" cy="3.5" rx="1.6" ry="1.2" fill="#f6c2cc"/>
<path d="M8,11 l-1,2 M12,11.2 l0,2 M18,10.6 l1,2 M22,10 l1.5,1.5" stroke="#f2a0b0" stroke-width="0.6"/>
<circle cx="23.5" cy="6" r="0.5" fill="#e08090"/>
</g>
<g transform="translate(14.50,251.45) scale(0.9) rotate(32)">
<rect x="0" y="-1.2" width="11" height="2.4" fill="#bfe3f7" stroke="#3a8cc8" stroke-width="0.5"/>
<rect x="2" y="-1.2" width="6" height="2.4" fill="#58aee6"/>
<line x1="-3" y1="0" x2="0" y2="0" stroke="#3a8cc8" stroke-width="0.8"/>
<line x1="11" y1="0" x2="16" y2="0" stroke="#777" stroke-width="0.4"/>
</g>
<g transform="translate(71.00,259.00) scale(0.9)">
<path d="M4,9 C1,9 0,6 -3,8" fill="none" stroke="#f2a0b0" stroke-width="0.7"/>
<path d="M4,9 C4,2.5 9,0.3 15,0.8 C19.5,1.2 22.5,3.5 25,6.5 C26.5,8 26,9.5 24,10 C20,12 14,12.5 9,12 C6,11.7 4,11 4,9 Z" fill="#ececec" stroke="#dadada" stroke-width="0.5"/>
<ellipse cx="20" cy="3.5" rx="1.6" ry="1.2" fill="#f6c2cc"/>
<path d="M8,11 l-1,2 M12,11.2 l0,2 M18,10.6 l1,2 M22,10 l1.5,1.5" stroke="#f2a0b0" stroke-width="0.6"/>
<circle cx="23.5" cy="6" r="0.5" fill="#e08090"/>
<ellipse cx="14" cy="8" rx="1.8" ry="1.3" fill="#3aa0e0"/>
</g>
<g transform="translate(70.00,253.50) scale(0.95)">
<ellipse cx="0" cy="0" rx="1.2" ry="1.6" fill="#f39a55" transform="rotate(30)"/>
<line x1="1" y1="2" x2="9" y2="11" stroke="#9cd2f0" stroke-width="1.8"/>
</g>
<g transform="translate(175.50,257.50) scale(0.9)">
<path d="M4,9 C1,9 0,6 -3,8" fill="none" stroke="#f2a0b0" stroke-width="0.7"/>
<path d="M4,9 C4,2.5 9,0.3 15,0.8 C19.5,1.2 22.5,3.5 25,6.5 C26.5,8 26,9.5 24,10 C20,12 14,12.5 9,12 C6,11.7 4,11 4,9 Z" fill="#ececec" stroke="#dadada" stroke-width="0.5"/>
<ellipse cx="20" cy="3.5" rx="1.6" ry="1.2" fill="#f6c2cc"/>
<path d="M8,11 l-1,2 M12,11.2 l0,2 M18,10.6 l1,2 M22,10 l1.5,1.5" stroke="#f2a0b0" stroke-width="0.6"/>
<circle cx="23.5" cy="6" r="0.5" fill="#e08090"/>
</g>
<text x="114.60" y="261.52" font-size="7.0" font-weight="bold" text-anchor="start" fill="#000" stroke="#000" stroke-width="0.22">Stop drug</text>
<text x="114.60" y="270.12" font-size="7.0" font-weight="bold" text-anchor="start" fill="#000" stroke="#000" stroke-width="0.22">Administration</text>
<text x="8.80" y="281.82" font-size="7.0" font-weight="bold" text-anchor="start" fill="#000" stroke="#000" stroke-width="0.22">Engraft 3 ×10<tspan font-size="72%" baseline-shift="super">6</tspan></text>
<text x="8.80" y="290.52" font-size="7.0" font-weight="bold" text-anchor="start" fill="#000" stroke="#000" stroke-width="0.22">Raji cells</text>
<text x="63.00" y="281.82" font-size="7.0" font-weight="bold" text-anchor="start" fill="#000" stroke="#000" stroke-width="0.22">Infusion 6 ×10<tspan font-size="72%" baseline-shift="super">6</tspan></text>
<text x="63.00" y="290.52" font-size="7.0" font-weight="bold" text-anchor="start" fill="#000" stroke="#000" stroke-width="0.22">CAR-T cells with</text>
<text x="63.00" y="299.02" font-size="7.0" font-weight="bold" text-anchor="start" fill="#000" stroke="#000" stroke-width="0.22">mock or TAIII</text>
<text x="167.90" y="282.22" font-size="7.0" font-weight="bold" text-anchor="start" fill="#000" stroke="#000" stroke-width="0.22">Tumor growth</text>
<text x="167.90" y="291.12" font-size="7.0" font-weight="bold" text-anchor="start" fill="#000" stroke="#000" stroke-width="0.22">monitoring</text>
<text x="262.50" y="212.70" font-size="12" font-weight="bold">d</text>
<text x="327.00" y="215.32" font-size="7.0" font-weight="bold" text-anchor="middle" fill="#000" stroke="#000" stroke-width="0.22">Vehicle-1</text>
<text x="374.00" y="215.32" font-size="7.0" font-weight="bold" text-anchor="middle" fill="#000" stroke="#000" stroke-width="0.22">TAIII</text>
<text x="428.30" y="215.32" font-size="7.0" font-weight="bold" text-anchor="middle" fill="#000" stroke="#000" stroke-width="0.22">Vehicle-2</text>
<text x="470.30" y="215.32" font-size="7.0" font-weight="bold" text-anchor="middle" fill="#000" stroke="#000" stroke-width="0.22">UNT</text>
<text x="521.70" y="215.32" font-size="7.0" font-weight="bold" text-anchor="middle" fill="#000" stroke="#000" stroke-width="0.22">UNT+TAIII</text>
<text x="568.00" y="215.32" font-size="7.0" font-weight="bold" text-anchor="middle" fill="#000" stroke="#000" stroke-width="0.22">CAR-T</text>
<text x="617.00" y="215.32" font-size="7.0" font-weight="bold" text-anchor="middle" fill="#000" stroke="#000" stroke-width="0.22">CAR-T+TAIII</text>
<text x="643.00" y="220.24" font-size="5.4" font-weight="bold" text-anchor="start" fill="#000" stroke="#000" stroke-width="0.22">Luminesence</text>
<text x="286.30" y="235.12" font-size="7" font-weight="bold" text-anchor="start" fill="#000" stroke="#000" stroke-width="0.22">D3</text>
<text x="286.30" y="255.92" font-size="7" font-weight="bold" text-anchor="start" fill="#000" stroke="#000" stroke-width="0.22">D7</text>
<text x="286.30" y="276.22" font-size="7" font-weight="bold" text-anchor="start" fill="#000" stroke="#000" stroke-width="0.22">D21</text>
<text x="529.60" y="299.59" font-size="7.2" font-weight="bold" text-anchor="start" fill="#000" stroke="#000" stroke-width="0.22">D28</text>
<text x="529.60" y="320.29" font-size="7.2" font-weight="bold" text-anchor="start" fill="#000" stroke="#000" stroke-width="0.22">D35</text>
<text x="529.60" y="341.29" font-size="7.2" font-weight="bold" text-anchor="start" fill="#000" stroke="#000" stroke-width="0.22">D42</text>
<text x="529.60" y="362.19" font-size="7.2" font-weight="bold" text-anchor="start" fill="#000" stroke="#000" stroke-width="0.22">D56</text>
<rect x="302.50" y="220.30" width="242.80" height="62.30" fill="#d8d8d8" stroke="none" stroke-width="0.8"/>
<rect x="545.00" y="220.30" width="97.00" height="147.60" fill="#d8d8d8" stroke="none" stroke-width="0.8"/>
<rect x="303.00" y="220.80" width="23.30" height="20.00" fill="#282828" stroke="none" stroke-width="0.8"/>
<line x1="306.90" y1="233.90" x2="306.90" y2="240.60" stroke="#8a8a8a" stroke-width="0.7"/>
<path d="M0.5,0 C0.68,0 0.74,0.08 0.78,0.18 L0.86,0.32 L0.95,0.72 C0.99,0.9 0.82,1 0.5,1 C0.18,1 0.01,0.9 0.05,0.72 L0.14,0.32 L0.22,0.18 C0.26,0.08 0.32,0 0.5,0 Z" fill="#c2c2c2" transform="translate(302.90,221.60) scale(8.00,13.30)"/>
<path d="M0.5,0 C0.68,0 0.74,0.08 0.78,0.18 L0.86,0.32 L0.95,0.72 C0.99,0.9 0.82,1 0.5,1 C0.18,1 0.01,0.9 0.05,0.72 L0.14,0.32 L0.22,0.18 C0.26,0.08 0.32,0 0.5,0 Z" fill="#e2e2e2" transform="translate(304.02,222.93) scale(5.76,10.64)"/>
<ellipse cx="306.90" cy="234.63" rx="1.21" ry="1.10" fill="#7a1ef0" opacity="0.9"/>
<ellipse cx="303.70" cy="232.91" rx="0.99" ry="0.90" fill="#7a1ef0" opacity="0.9"/>
<line x1="314.30" y1="233.90" x2="314.30" y2="240.60" stroke="#8a8a8a" stroke-width="0.7"/>
<path d="M0.5,0 C0.68,0 0.74,0.08 0.78,0.18 L0.86,0.32 L0.95,0.72 C0.99,0.9 0.82,1 0.5,1 C0.18,1 0.01,0.9 0.05,0.72 L0.14,0.32 L0.22,0.18 C0.26,0.08 0.32,0 0.5,0 Z" fill="#c2c2c2" transform="translate(310.30,221.60) scale(8.00,13.30)"/>
<path d="M0.5,0 C0.68,0 0.74,0.08 0.78,0.18 L0.86,0.32 L0.95,0.72 C0.99,0.9 0.82,1 0.5,1 C0.18,1 0.01,0.9 0.05,0.72 L0.14,0.32 L0.22,0.18 C0.26,0.08 0.32,0 0.5,0 Z" fill="#e2e2e2" transform="translate(311.42,222.93) scale(5.76,10.64)"/>
<ellipse cx="314.30" cy="234.63" rx="1.21" ry="1.10" fill="#7a1ef0" opacity="0.9"/>
<ellipse cx="311.10" cy="232.91" rx="0.99" ry="0.90" fill="#7a1ef0" opacity="0.9"/>
<line x1="321.70" y1="233.90" x2="321.70" y2="240.60" stroke="#8a8a8a" stroke-width="0.7"/>
<path d="M0.5,0 C0.68,0 0.74,0.08 0.78,0.18 L0.86,0.32 L0.95,0.72 C0.99,0.9 0.82,1 0.5,1 C0.18,1 0.01,0.9 0.05,0.72 L0.14,0.32 L0.22,0.18 C0.26,0.08 0.32,0 0.5,0 Z" fill="#c2c2c2" transform="translate(317.70,221.60) scale(8.00,13.30)"/>
<path d="M0.5,0 C0.68,0 0.74,0.08 0.78,0.18 L0.86,0.32 L0.95,0.72 C0.99,0.9 0.82,1 0.5,1 C0.18,1 0.01,0.9 0.05,0.72 L0.14,0.32 L0.22,0.18 C0.26,0.08 0.32,0 0.5,0 Z" fill="#e2e2e2" transform="translate(318.82,222.93) scale(5.76,10.64)"/>
<ellipse cx="321.70" cy="234.63" rx="1.21" ry="1.10" fill="#7a1ef0" opacity="0.9"/>
<ellipse cx="318.50" cy="232.91" rx="0.99" ry="0.90" fill="#7a1ef0" opacity="0.9"/>
<rect x="326.90" y="220.80" width="23.30" height="20.00" fill="#282828" stroke="none" stroke-width="0.8"/>
<line x1="330.80" y1="233.90" x2="330.80" y2="240.60" stroke="#8a8a8a" stroke-width="0.7"/>
<path d="M0.5,0 C0.68,0 0.74,0.08 0.78,0.18 L0.86,0.32 L0.95,0.72 C0.99,0.9 0.82,1 0.5,1 C0.18,1 0.01,0.9 0.05,0.72 L0.14,0.32 L0.22,0.18 C0.26,0.08 0.32,0 0.5,0 Z" fill="#c2c2c2" transform="translate(326.80,221.60) scale(8.00,13.30)"/>
<path d="M0.5,0 C0.68,0 0.74,0.08 0.78,0.18 L0.86,0.32 L0.95,0.72 C0.99,0.9 0.82,1 0.5,1 C0.18,1 0.01,0.9 0.05,0.72 L0.14,0.32 L0.22,0.18 C0.26,0.08 0.32,0 0.5,0 Z" fill="#e2e2e2" transform="translate(327.92,222.93) scale(5.76,10.64)"/>
<ellipse cx="330.80" cy="234.63" rx="1.21" ry="1.10" fill="#7a1ef0" opacity="0.9"/>
<ellipse cx="334.00" cy="232.91" rx="0.99" ry="0.90" fill="#7a1ef0" opacity="0.9"/>
<line x1="338.20" y1="233.90" x2="338.20" y2="240.60" stroke="#8a8a8a" stroke-width="0.7"/>
<path d="M0.5,0 C0.68,0 0.74,0.08 0.78,0.18 L0.86,0.32 L0.95,0.72 C0.99,0.9 0.82,1 0.5,1 C0.18,1 0.01,0.9 0.05,0.72 L0.14,0.32 L0.22,0.18 C0.26,0.08 0.32,0 0.5,0 Z" fill="#c2c2c2" transform="translate(334.20,221.60) scale(8.00,13.30)"/>
<path d="M0.5,0 C0.68,0 0.74,0.08 0.78,0.18 L0.86,0.32 L0.95,0.72 C0.99,0.9 0.82,1 0.5,1 C0.18,1 0.01,0.9 0.05,0.72 L0.14,0.32 L0.22,0.18 C0.26,0.08 0.32,0 0.5,0 Z" fill="#e2e2e2" transform="translate(335.32,222.93) scale(5.76,10.64)"/>
<ellipse cx="338.20" cy="234.63" rx="1.21" ry="1.10" fill="#7a1ef0" opacity="0.9"/>
<ellipse cx="341.40" cy="232.91" rx="0.99" ry="0.90" fill="#7a1ef0" opacity="0.9"/>
<rect x="303.00" y="241.50" width="23.30" height="19.10" fill="#282828" stroke="none" stroke-width="0.8"/>
<line x1="306.90" y1="253.97" x2="306.90" y2="260.40" stroke="#8a8a8a" stroke-width="0.7"/>
<path d="M0.5,0 C0.68,0 0.74,0.08 0.78,0.18 L0.86,0.32 L0.95,0.72 C0.99,0.9 0.82,1 0.5,1 C0.18,1 0.01,0.9 0.05,0.72 L0.14,0.32 L0.22,0.18 C0.26,0.08 0.32,0 0.5,0 Z" fill="#c2c2c2" transform="translate(302.90,242.30) scale(8.00,12.67)"/>
<path d="M0.5,0 C0.68,0 0.74,0.08 0.78,0.18 L0.86,0.32 L0.95,0.72 C0.99,0.9 0.82,1 0.5,1 C0.18,1 0.01,0.9 0.05,0.72 L0.14,0.32 L0.22,0.18 C0.26,0.08 0.32,0 0.5,0 Z" fill="#e2e2e2" transform="translate(304.02,243.57) scale(5.76,10.14)"/>
<ellipse cx="306.90" cy="245.47" rx="1.98" ry="1.80" fill="#6a22f2"/>
<ellipse cx="306.90" cy="245.47" rx="1.08" ry="0.99" fill="#3a50ff"/>
<ellipse cx="306.90" cy="251.80" rx="2.42" ry="2.20" fill="#7a1ef0" opacity="0.9"/>
<line x1="314.30" y1="253.97" x2="314.30" y2="260.40" stroke="#8a8a8a" stroke-width="0.7"/>
<path d="M0.5,0 C0.68,0 0.74,0.08 0.78,0.18 L0.86,0.32 L0.95,0.72 C0.99,0.9 0.82,1 0.5,1 C0.18,1 0.01,0.9 0.05,0.72 L0.14,0.32 L0.22,0.18 C0.26,0.08 0.32,0 0.5,0 Z" fill="#c2c2c2" transform="translate(310.30,242.30) scale(8.00,12.67)"/>
<path d="M0.5,0 C0.68,0 0.74,0.08 0.78,0.18 L0.86,0.32 L0.95,0.72 C0.99,0.9 0.82,1 0.5,1 C0.18,1 0.01,0.9 0.05,0.72 L0.14,0.32 L0.22,0.18 C0.26,0.08 0.32,0 0.5,0 Z" fill="#e2e2e2" transform="translate(311.42,243.57) scale(5.76,10.14)"/>
<ellipse cx="314.30" cy="248.64" rx="3.52" ry="3.20" fill="#6a22f2"/>
<ellipse cx="314.30" cy="248.64" rx="1.92" ry="1.76" fill="#3a50ff"/>
<ellipse cx="314.30" cy="246.10" rx="1.65" ry="1.50" fill="#6a22f2"/>
<ellipse cx="314.30" cy="246.10" rx="0.90" ry="0.83" fill="#3a50ff"/>
<line x1="321.70" y1="253.97" x2="321.70" y2="260.40" stroke="#8a8a8a" stroke-width="0.7"/>
<path d="M0.5,0 C0.68,0 0.74,0.08 0.78,0.18 L0.86,0.32 L0.95,0.72 C0.99,0.9 0.82,1 0.5,1 C0.18,1 0.01,0.9 0.05,0.72 L0.14,0.32 L0.22,0.18 C0.26,0.08 0.32,0 0.5,0 Z" fill="#c2c2c2" transform="translate(317.70,242.30) scale(8.00,12.67)"/>
<path d="M0.5,0 C0.68,0 0.74,0.08 0.78,0.18 L0.86,0.32 L0.95,0.72 C0.99,0.9 0.82,1 0.5,1 C0.18,1 0.01,0.9 0.05,0.72 L0.14,0.32 L0.22,0.18 C0.26,0.08 0.32,0 0.5,0 Z" fill="#e2e2e2" transform="translate(318.82,243.57) scale(5.76,10.14)"/>
<ellipse cx="321.70" cy="248.64" rx="3.85" ry="3.50" fill="#6a22f2"/>
<ellipse cx="321.70" cy="248.64" rx="2.10" ry="1.93" fill="#3a50ff"/>
<circle cx="322.90" cy="252.44" r="1.30" fill="#30e0a0"/>
<circle cx="322.90" cy="252.44" r="0.65" fill="#f0e020"/>
<rect x="326.90" y="241.50" width="23.30" height="19.10" fill="#282828" stroke="none" stroke-width="0.8"/>
<line x1="330.80" y1="253.97" x2="330.80" y2="260.40" stroke="#8a8a8a" stroke-width="0.7"/>
<path d="M0.5,0 C0.68,0 0.74,0.08 0.78,0.18 L0.86,0.32 L0.95,0.72 C0.99,0.9 0.82,1 0.5,1 C0.18,1 0.01,0.9 0.05,0.72 L0.14,0.32 L0.22,0.18 C0.26,0.08 0.32,0 0.5,0 Z" fill="#c2c2c2" transform="translate(326.80,242.30) scale(8.00,12.67)"/>
<path d="M0.5,0 C0.68,0 0.74,0.08 0.78,0.18 L0.86,0.32 L0.95,0.72 C0.99,0.9 0.82,1 0.5,1 C0.18,1 0.01,0.9 0.05,0.72 L0.14,0.32 L0.22,0.18 C0.26,0.08 0.32,0 0.5,0 Z" fill="#e2e2e2" transform="translate(327.92,243.57) scale(5.76,10.14)"/>
<ellipse cx="330.80" cy="246.10" rx="2.75" ry="2.50" fill="#6a22f2"/>
<ellipse cx="330.80" cy="246.10" rx="1.50" ry="1.38" fill="#3a50ff"/>
<circle cx="330.80" cy="253.07" r="1.50" fill="#30e0a0"/>
<circle cx="330.80" cy="253.07" r="0.75" fill="#f0e020"/>
<line x1="338.20" y1="253.97" x2="338.20" y2="260.40" stroke="#8a8a8a" stroke-width="0.7"/>
<path d="M0.5,0 C0.68,0 0.74,0.08 0.78,0.18 L0.86,0.32 L0.95,0.72 C0.99,0.9 0.82,1 0.5,1 C0.18,1 0.01,0.9 0.05,0.72 L0.14,0.32 L0.22,0.18 C0.26,0.08 0.32,0 0.5,0 Z" fill="#c2c2c2" transform="translate(334.20,242.30) scale(8.00,12.67)"/>
<path d="M0.5,0 C0.68,0 0.74,0.08 0.78,0.18 L0.86,0.32 L0.95,0.72 C0.99,0.9 0.82,1 0.5,1 C0.18,1 0.01,0.9 0.05,0.72 L0.14,0.32 L0.22,0.18 C0.26,0.08 0.32,0 0.5,0 Z" fill="#e2e2e2" transform="translate(335.32,243.57) scale(5.76,10.14)"/>
<ellipse cx="338.20" cy="249.90" rx="1.76" ry="1.60" fill="#7a1ef0" opacity="0.9"/>
<rect x="303.00" y="261.60" width="23.30" height="20.40" fill="#3c3cf0" stroke="none" stroke-width="0.8"/>
<rect x="310.22" y="264.53" width="1.30" height="1.30" fill="#3a5af2" stroke="none" stroke-width="0.8"/>
<rect x="304.62" y="272.00" width="1.30" height="1.30" fill="#3a70f0" stroke="none" stroke-width="0.8"/>
<rect x="316.00" y="279.25" width="1.30" height="1.30" fill="#5a30f0" stroke="none" stroke-width="0.8"/>
<rect x="303.84" y="270.01" width="1.30" height="1.30" fill="#3a5af2" stroke="none" stroke-width="0.8"/>
<rect x="308.37" y="272.29" width="1.30" height="1.30" fill="#3a5af2" stroke="none" stroke-width="0.8"/>
<rect x="321.44" y="264.00" width="1.30" height="1.30" fill="#5a30f0" stroke="none" stroke-width="0.8"/>
<rect x="317.06" y="272.91" width="1.30" height="1.30" fill="#3a5af2" stroke="none" stroke-width="0.8"/>
<rect x="315.87" y="269.30" width="1.30" height="1.30" fill="#5a30f0" stroke="none" stroke-width="0.8"/>
<rect x="304.04" y="278.25" width="1.30" height="1.30" fill="#3a70f0" stroke="none" stroke-width="0.8"/>
<rect x="312.35" y="272.09" width="1.30" height="1.30" fill="#3a70f0" stroke="none" stroke-width="0.8"/>
<rect x="315.49" y="274.83" width="1.30" height="1.30" fill="#3a5af2" stroke="none" stroke-width="0.8"/>
<rect x="315.97" y="273.99" width="1.30" height="1.30" fill="#3a70f0" stroke="none" stroke-width="0.8"/>
<rect x="305.17" y="275.41" width="1.30" height="1.30" fill="#3a5af2" stroke="none" stroke-width="0.8"/>
<rect x="316.80" y="271.23" width="1.30" height="1.30" fill="#6030f0" stroke="none" stroke-width="0.8"/>
<rect x="320.33" y="270.63" width="1.30" height="1.30" fill="#6030f0" stroke="none" stroke-width="0.8"/>
<rect x="311.06" y="266.42" width="1.30" height="1.30" fill="#5a30f0" stroke="none" stroke-width="0.8"/>
<rect x="318.59" y="266.34" width="1.30" height="1.30" fill="#3a70f0" stroke="none" stroke-width="0.8"/>
<rect x="314.71" y="278.58" width="1.30" height="1.30" fill="#6030f0" stroke="none" stroke-width="0.8"/>
<rect x="309.42" y="280.62" width="1.30" height="1.30" fill="#3a5af2" stroke="none" stroke-width="0.8"/>
<rect x="314.42" y="264.80" width="1.30" height="1.30" fill="#3a70f0" stroke="none" stroke-width="0.8"/>
<rect x="306.39" y="271.09" width="1.30" height="1.30" fill="#3a5af2" stroke="none" stroke-width="0.8"/>
<rect x="324.45" y="263.11" width="1.30" height="1.30" fill="#3a70f0" stroke="none" stroke-width="0.8"/>
<rect x="310.58" y="268.39" width="1.30" height="1.30" fill="#6030f0" stroke="none" stroke-width="0.8"/>
<rect x="315.93" y="270.45" width="1.30" height="1.30" fill="#3a5af2" stroke="none" stroke-width="0.8"/>
<rect x="324.07" y="270.80" width="1.30" height="1.30" fill="#3a5af2" stroke="none" stroke-width="0.8"/>
<rect x="304.35" y="275.21" width="1.30" height="1.30" fill="#6030f0" stroke="none" stroke-width="0.8"/>
<rect x="309.35" y="269.08" width="1.30" height="1.30" fill="#3a70f0" stroke="none" stroke-width="0.8"/>
<rect x="303.50" y="270.56" width="1.30" height="1.30" fill="#5a30f0" stroke="none" stroke-width="0.8"/>
<rect x="316.62" y="271.18" width="1.30" height="1.30" fill="#5a30f0" stroke="none" stroke-width="0.8"/>
<rect x="320.13" y="264.11" width="1.30" height="1.30" fill="#5a30f0" stroke="none" stroke-width="0.8"/>
<rect x="311.87" y="279.39" width="1.30" height="1.30" fill="#6030f0" stroke="none" stroke-width="0.8"/>
<rect x="304.80" y="270.31" width="1.30" height="1.30" fill="#3a70f0" stroke="none" stroke-width="0.8"/>
<rect x="322.70" y="277.49" width="1.30" height="1.30" fill="#3a70f0" stroke="none" stroke-width="0.8"/>
<rect x="318.75" y="280.74" width="1.30" height="1.30" fill="#6030f0" stroke="none" stroke-width="0.8"/>
<rect x="324.36" y="264.53" width="1.30" height="1.30" fill="#5a30f0" stroke="none" stroke-width="0.8"/>
<rect x="306.37" y="274.38" width="1.30" height="1.30" fill="#3a5af2" stroke="none" stroke-width="0.8"/>
<rect x="313.81" y="273.03" width="1.30" height="1.30" fill="#3a70f0" stroke="none" stroke-width="0.8"/>
<rect x="309.29" y="264.43" width="1.30" height="1.30" fill="#3a70f0" stroke="none" stroke-width="0.8"/>
<rect x="316.60" y="267.78" width="1.30" height="1.30" fill="#5a30f0" stroke="none" stroke-width="0.8"/>
<rect x="318.40" y="271.60" width="1.30" height="1.30" fill="#3a5af2" stroke="none" stroke-width="0.8"/>
<rect x="313.18" y="278.50" width="1.30" height="1.30" fill="#6030f0" stroke="none" stroke-width="0.8"/>
<rect x="311.88" y="269.25" width="1.30" height="1.30" fill="#6030f0" stroke="none" stroke-width="0.8"/>
<rect x="317.14" y="262.81" width="1.30" height="1.30" fill="#3a5af2" stroke="none" stroke-width="0.8"/>
<rect x="324.96" y="270.15" width="1.30" height="1.30" fill="#3a5af2" stroke="none" stroke-width="0.8"/>
<rect x="310.58" y="262.62" width="1.30" height="1.30" fill="#3a5af2" stroke="none" stroke-width="0.8"/>
<rect x="315.64" y="272.01" width="1.30" height="1.30" fill="#3a70f0" stroke="none" stroke-width="0.8"/>
<rect x="316.69" y="262.96" width="1.30" height="1.30" fill="#5a30f0" stroke="none" stroke-width="0.8"/>
<rect x="316.69" y="264.48" width="1.30" height="1.30" fill="#3a70f0" stroke="none" stroke-width="0.8"/>
<rect x="324.31" y="273.28" width="1.30" height="1.30" fill="#6030f0" stroke="none" stroke-width="0.8"/>
<rect x="305.74" y="278.07" width="1.30" height="1.30" fill="#6030f0" stroke="none" stroke-width="0.8"/>
<rect x="313.71" y="267.65" width="1.30" height="1.30" fill="#5a30f0" stroke="none" stroke-width="0.8"/>
<rect x="305.28" y="268.25" width="1.30" height="1.30" fill="#3a70f0" stroke="none" stroke-width="0.8"/>
<rect x="313.67" y="275.03" width="1.30" height="1.30" fill="#3a5af2" stroke="none" stroke-width="0.8"/>
<rect x="307.58" y="280.07" width="1.30" height="1.30" fill="#3a70f0" stroke="none" stroke-width="0.8"/>
<rect x="306.27" y="272.14" width="1.30" height="1.30" fill="#3a5af2" stroke="none" stroke-width="0.8"/>
<rect x="319.91" y="267.38" width="1.30" height="1.30" fill="#3a5af2" stroke="none" stroke-width="0.8"/>
<rect x="318.53" y="266.67" width="1.30" height="1.30" fill="#3a70f0" stroke="none" stroke-width="0.8"/>
<rect x="323.25" y="268.50" width="1.30" height="1.30" fill="#5a30f0" stroke="none" stroke-width="0.8"/>
<rect x="314.88" y="276.71" width="1.30" height="1.30" fill="#3a70f0" stroke="none" stroke-width="0.8"/>
<rect x="317.19" y="273.50" width="1.30" height="1.30" fill="#5a30f0" stroke="none" stroke-width="0.8"/>
<rect x="320.98" y="277.48" width="1.30" height="1.30" fill="#5a30f0" stroke="none" stroke-width="0.8"/>
<rect x="307.46" y="271.16" width="1.30" height="1.30" fill="#3a5af2" stroke="none" stroke-width="0.8"/>
<rect x="325.07" y="276.93" width="1.30" height="1.30" fill="#6030f0" stroke="none" stroke-width="0.8"/>
<rect x="308.78" y="275.03" width="1.30" height="1.30" fill="#3a70f0" stroke="none" stroke-width="0.8"/>
<rect x="312.97" y="279.78" width="1.30" height="1.30" fill="#3a70f0" stroke="none" stroke-width="0.8"/>
<rect x="324.30" y="268.67" width="1.30" height="1.30" fill="#5a30f0" stroke="none" stroke-width="0.8"/>
<rect x="305.28" y="270.72" width="1.30" height="1.30" fill="#3a70f0" stroke="none" stroke-width="0.8"/>
<line x1="306.90" y1="277.92" x2="306.90" y2="281.80" stroke="#20b8d0" stroke-width="0.9"/>
<path d="M0.5,0 C0.68,0 0.74,0.08 0.78,0.18 L0.86,0.32 L0.95,0.72 C0.99,0.9 0.82,1 0.5,1 C0.18,1 0.01,0.9 0.05,0.72 L0.14,0.32 L0.22,0.18 C0.26,0.08 0.32,0 0.5,0 Z" fill="#30c8e0" transform="translate(301.50,262.00) scale(10.80,16.72)"/>
<path d="M0.5,0 C0.68,0 0.74,0.08 0.78,0.18 L0.86,0.32 L0.95,0.72 C0.99,0.9 0.82,1 0.5,1 C0.18,1 0.01,0.9 0.05,0.72 L0.14,0.32 L0.22,0.18 C0.26,0.08 0.32,0 0.5,0 Z" fill="#c8e830" transform="translate(301.95,262.30) scale(9.90,16.02)"/>
<path d="M0.5,0 C0.68,0 0.74,0.08 0.78,0.18 L0.86,0.32 L0.95,0.72 C0.99,0.9 0.82,1 0.5,1 C0.18,1 0.01,0.9 0.05,0.72 L0.14,0.32 L0.22,0.18 C0.26,0.08 0.32,0 0.5,0 Z" fill="#f51010" transform="translate(302.40,262.60) scale(9.00,15.52)"/>
<line x1="314.30" y1="277.92" x2="314.30" y2="281.80" stroke="#20b8d0" stroke-width="0.9"/>
<path d="M0.5,0 C0.68,0 0.74,0.08 0.78,0.18 L0.86,0.32 L0.95,0.72 C0.99,0.9 0.82,1 0.5,1 C0.18,1 0.01,0.9 0.05,0.72 L0.14,0.32 L0.22,0.18 C0.26,0.08 0.32,0 0.5,0 Z" fill="#30c8e0" transform="translate(308.90,262.00) scale(10.80,16.72)"/>
<path d="M0.5,0 C0.68,0 0.74,0.08 0.78,0.18 L0.86,0.32 L0.95,0.72 C0.99,0.9 0.82,1 0.5,1 C0.18,1 0.01,0.9 0.05,0.72 L0.14,0.32 L0.22,0.18 C0.26,0.08 0.32,0 0.5,0 Z" fill="#c8e830" transform="translate(309.35,262.30) scale(9.90,16.02)"/>
<path d="M0.5,0 C0.68,0 0.74,0.08 0.78,0.18 L0.86,0.32 L0.95,0.72 C0.99,0.9 0.82,1 0.5,1 C0.18,1 0.01,0.9 0.05,0.72 L0.14,0.32 L0.22,0.18 C0.26,0.08 0.32,0 0.5,0 Z" fill="#f51010" transform="translate(309.80,262.60) scale(9.00,15.52)"/>
<line x1="321.70" y1="277.92" x2="321.70" y2="281.80" stroke="#20b8d0" stroke-width="0.9"/>
<path d="M0.5,0 C0.68,0 0.74,0.08 0.78,0.18 L0.86,0.32 L0.95,0.72 C0.99,0.9 0.82,1 0.5,1 C0.18,1 0.01,0.9 0.05,0.72 L0.14,0.32 L0.22,0.18 C0.26,0.08 0.32,0 0.5,0 Z" fill="#30c8e0" transform="translate(316.30,262.00) scale(10.80,16.72)"/>
<path d="M0.5,0 C0.68,0 0.74,0.08 0.78,0.18 L0.86,0.32 L0.95,0.72 C0.99,0.9 0.82,1 0.5,1 C0.18,1 0.01,0.9 0.05,0.72 L0.14,0.32 L0.22,0.18 C0.26,0.08 0.32,0 0.5,0 Z" fill="#c8e830" transform="translate(316.75,262.30) scale(9.90,16.02)"/>
<path d="M0.5,0 C0.68,0 0.74,0.08 0.78,0.18 L0.86,0.32 L0.95,0.72 C0.99,0.9 0.82,1 0.5,1 C0.18,1 0.01,0.9 0.05,0.72 L0.14,0.32 L0.22,0.18 C0.26,0.08 0.32,0 0.5,0 Z" fill="#f51010" transform="translate(317.20,262.60) scale(9.00,15.52)"/>
<rect x="326.90" y="261.60" width="23.30" height="20.40" fill="#3c3cf0" stroke="none" stroke-width="0.8"/>
<rect x="331.46" y="273.71" width="1.30" height="1.30" fill="#3a5af2" stroke="none" stroke-width="0.8"/>
<rect x="337.59" y="274.27" width="1.30" height="1.30" fill="#3a5af2" stroke="none" stroke-width="0.8"/>
<rect x="345.51" y="263.93" width="1.30" height="1.30" fill="#6030f0" stroke="none" stroke-width="0.8"/>
<rect x="344.35" y="276.15" width="1.30" height="1.30" fill="#6030f0" stroke="none" stroke-width="0.8"/>
<rect x="346.72" y="270.02" width="1.30" height="1.30" fill="#3a70f0" stroke="none" stroke-width="0.8"/>
<rect x="328.83" y="279.96" width="1.30" height="1.30" fill="#6030f0" stroke="none" stroke-width="0.8"/>
<rect x="337.23" y="276.02" width="1.30" height="1.30" fill="#3a5af2" stroke="none" stroke-width="0.8"/>
<rect x="343.06" y="264.90" width="1.30" height="1.30" fill="#5a30f0" stroke="none" stroke-width="0.8"/>
<rect x="327.51" y="273.06" width="1.30" height="1.30" fill="#6030f0" stroke="none" stroke-width="0.8"/>
<rect x="344.88" y="264.44" width="1.30" height="1.30" fill="#6030f0" stroke="none" stroke-width="0.8"/>
<rect x="341.56" y="268.40" width="1.30" height="1.30" fill="#5a30f0" stroke="none" stroke-width="0.8"/>
<rect x="327.38" y="277.11" width="1.30" height="1.30" fill="#3a5af2" stroke="none" stroke-width="0.8"/>
<rect x="338.64" y="279.71" width="1.30" height="1.30" fill="#6030f0" stroke="none" stroke-width="0.8"/>
<rect x="348.90" y="265.38" width="1.30" height="1.30" fill="#5a30f0" stroke="none" stroke-width="0.8"/>
<rect x="327.52" y="265.73" width="1.30" height="1.30" fill="#5a30f0" stroke="none" stroke-width="0.8"/>
<rect x="343.93" y="267.92" width="1.30" height="1.30" fill="#6030f0" stroke="none" stroke-width="0.8"/>
<rect x="345.50" y="262.78" width="1.30" height="1.30" fill="#3a70f0" stroke="none" stroke-width="0.8"/>
<rect x="346.92" y="274.45" width="1.30" height="1.30" fill="#6030f0" stroke="none" stroke-width="0.8"/>
<rect x="345.35" y="278.64" width="1.30" height="1.30" fill="#5a30f0" stroke="none" stroke-width="0.8"/>
<rect x="338.76" y="271.76" width="1.30" height="1.30" fill="#3a5af2" stroke="none" stroke-width="0.8"/>
<rect x="346.36" y="276.66" width="1.30" height="1.30" fill="#3a5af2" stroke="none" stroke-width="0.8"/>
<rect x="344.21" y="264.51" width="1.30" height="1.30" fill="#5a30f0" stroke="none" stroke-width="0.8"/>
<rect x="337.46" y="275.67" width="1.30" height="1.30" fill="#3a5af2" stroke="none" stroke-width="0.8"/>
<rect x="334.17" y="271.66" width="1.30" height="1.30" fill="#6030f0" stroke="none" stroke-width="0.8"/>
<rect x="344.39" y="263.66" width="1.30" height="1.30" fill="#3a5af2" stroke="none" stroke-width="0.8"/>
<rect x="332.44" y="266.97" width="1.30" height="1.30" fill="#3a5af2" stroke="none" stroke-width="0.8"/>
<rect x="338.22" y="272.50" width="1.30" height="1.30" fill="#3a5af2" stroke="none" stroke-width="0.8"/>
<rect x="336.78" y="273.48" width="1.30" height="1.30" fill="#5a30f0" stroke="none" stroke-width="0.8"/>
<rect x="342.35" y="270.38" width="1.30" height="1.30" fill="#6030f0" stroke="none" stroke-width="0.8"/>
<rect x="338.22" y="266.40" width="1.30" height="1.30" fill="#3a70f0" stroke="none" stroke-width="0.8"/>
<rect x="347.48" y="278.92" width="1.30" height="1.30" fill="#5a30f0" stroke="none" stroke-width="0.8"/>
<rect x="345.63" y="264.26" width="1.30" height="1.30" fill="#3a5af2" stroke="none" stroke-width="0.8"/>
<rect x="335.65" y="267.73" width="1.30" height="1.30" fill="#5a30f0" stroke="none" stroke-width="0.8"/>
<rect x="336.45" y="265.73" width="1.30" height="1.30" fill="#3a70f0" stroke="none" stroke-width="0.8"/>
<rect x="344.38" y="279.00" width="1.30" height="1.30" fill="#5a30f0" stroke="none" stroke-width="0.8"/>
<rect x="347.85" y="274.08" width="1.30" height="1.30" fill="#3a70f0" stroke="none" stroke-width="0.8"/>
<rect x="330.09" y="278.73" width="1.30" height="1.30" fill="#6030f0" stroke="none" stroke-width="0.8"/>
<rect x="331.80" y="280.08" width="1.30" height="1.30" fill="#6030f0" stroke="none" stroke-width="0.8"/>
<rect x="346.63" y="264.76" width="1.30" height="1.30" fill="#5a30f0" stroke="none" stroke-width="0.8"/>
<rect x="330.50" y="269.97" width="1.30" height="1.30" fill="#6030f0" stroke="none" stroke-width="0.8"/>
<rect x="334.46" y="265.40" width="1.30" height="1.30" fill="#3a70f0" stroke="none" stroke-width="0.8"/>
<rect x="328.96" y="268.70" width="1.30" height="1.30" fill="#3a70f0" stroke="none" stroke-width="0.8"/>
<rect x="339.26" y="270.14" width="1.30" height="1.30" fill="#3a5af2" stroke="none" stroke-width="0.8"/>
<rect x="335.47" y="271.64" width="1.30" height="1.30" fill="#3a70f0" stroke="none" stroke-width="0.8"/>
<rect x="338.32" y="262.85" width="1.30" height="1.30" fill="#5a30f0" stroke="none" stroke-width="0.8"/>
<rect x="348.57" y="263.63" width="1.30" height="1.30" fill="#3a70f0" stroke="none" stroke-width="0.8"/>
<rect x="332.96" y="279.17" width="1.30" height="1.30" fill="#5a30f0" stroke="none" stroke-width="0.8"/>
<rect x="332.93" y="264.11" width="1.30" height="1.30" fill="#6030f0" stroke="none" stroke-width="0.8"/>
<rect x="345.85" y="274.71" width="1.30" height="1.30" fill="#3a70f0" stroke="none" stroke-width="0.8"/>
<rect x="335.95" y="272.01" width="1.30" height="1.30" fill="#6030f0" stroke="none" stroke-width="0.8"/>
<rect x="342.52" y="263.34" width="1.30" height="1.30" fill="#3a5af2" stroke="none" stroke-width="0.8"/>
<rect x="344.73" y="265.16" width="1.30" height="1.30" fill="#3a5af2" stroke="none" stroke-width="0.8"/>
<rect x="332.90" y="261.93" width="1.30" height="1.30" fill="#3a5af2" stroke="none" stroke-width="0.8"/>
<rect x="344.78" y="263.22" width="1.30" height="1.30" fill="#5a30f0" stroke="none" stroke-width="0.8"/>
<rect x="328.39" y="278.34" width="1.30" height="1.30" fill="#6030f0" stroke="none" stroke-width="0.8"/>
<rect x="327.16" y="280.89" width="1.30" height="1.30" fill="#6030f0" stroke="none" stroke-width="0.8"/>
<rect x="347.56" y="266.80" width="1.30" height="1.30" fill="#5a30f0" stroke="none" stroke-width="0.8"/>
<rect x="327.86" y="275.37" width="1.30" height="1.30" fill="#3a5af2" stroke="none" stroke-width="0.8"/>
<rect x="348.51" y="266.68" width="1.30" height="1.30" fill="#5a30f0" stroke="none" stroke-width="0.8"/>
<rect x="331.40" y="267.65" width="1.30" height="1.30" fill="#3a70f0" stroke="none" stroke-width="0.8"/>
<rect x="338.74" y="265.59" width="1.30" height="1.30" fill="#6030f0" stroke="none" stroke-width="0.8"/>
<rect x="338.05" y="265.05" width="1.30" height="1.30" fill="#3a70f0" stroke="none" stroke-width="0.8"/>
<rect x="344.82" y="280.89" width="1.30" height="1.30" fill="#3a5af2" stroke="none" stroke-width="0.8"/>
<rect x="327.24" y="275.82" width="1.30" height="1.30" fill="#5a30f0" stroke="none" stroke-width="0.8"/>
<rect x="338.37" y="266.37" width="1.30" height="1.30" fill="#6030f0" stroke="none" stroke-width="0.8"/>
<rect x="329.27" y="277.49" width="1.30" height="1.30" fill="#6030f0" stroke="none" stroke-width="0.8"/>
<rect x="341.54" y="272.19" width="1.30" height="1.30" fill="#6030f0" stroke="none" stroke-width="0.8"/>
<line x1="330.80" y1="277.92" x2="330.80" y2="281.80" stroke="#20b8d0" stroke-width="0.9"/>
<path d="M0.5,0 C0.68,0 0.74,0.08 0.78,0.18 L0.86,0.32 L0.95,0.72 C0.99,0.9 0.82,1 0.5,1 C0.18,1 0.01,0.9 0.05,0.72 L0.14,0.32 L0.22,0.18 C0.26,0.08 0.32,0 0.5,0 Z" fill="#30c8e0" transform="translate(325.40,262.00) scale(10.80,16.72)"/>
<path d="M0.5,0 C0.68,0 0.74,0.08 0.78,0.18 L0.86,0.32 L0.95,0.72 C0.99,0.9 0.82,1 0.5,1 C0.18,1 0.01,0.9 0.05,0.72 L0.14,0.32 L0.22,0.18 C0.26,0.08 0.32,0 0.5,0 Z" fill="#c8e830" transform="translate(325.85,262.30) scale(9.90,16.02)"/>
<path d="M0.5,0 C0.68,0 0.74,0.08 0.78,0.18 L0.86,0.32 L0.95,0.72 C0.99,0.9 0.82,1 0.5,1 C0.18,1 0.01,0.9 0.05,0.72 L0.14,0.32 L0.22,0.18 C0.26,0.08 0.32,0 0.5,0 Z" fill="#f51010" transform="translate(326.30,262.60) scale(9.00,15.52)"/>
<line x1="338.20" y1="277.92" x2="338.20" y2="281.80" stroke="#20b8d0" stroke-width="0.9"/>
<path d="M0.5,0 C0.68,0 0.74,0.08 0.78,0.18 L0.86,0.32 L0.95,0.72 C0.99,0.9 0.82,1 0.5,1 C0.18,1 0.01,0.9 0.05,0.72 L0.14,0.32 L0.22,0.18 C0.26,0.08 0.32,0 0.5,0 Z" fill="#30c8e0" transform="translate(332.80,262.00) scale(10.80,16.72)"/>
<path d="M0.5,0 C0.68,0 0.74,0.08 0.78,0.18 L0.86,0.32 L0.95,0.72 C0.99,0.9 0.82,1 0.5,1 C0.18,1 0.01,0.9 0.05,0.72 L0.14,0.32 L0.22,0.18 C0.26,0.08 0.32,0 0.5,0 Z" fill="#c8e830" transform="translate(333.25,262.30) scale(9.90,16.02)"/>
<path d="M0.5,0 C0.68,0 0.74,0.08 0.78,0.18 L0.86,0.32 L0.95,0.72 C0.99,0.9 0.82,1 0.5,1 C0.18,1 0.01,0.9 0.05,0.72 L0.14,0.32 L0.22,0.18 C0.26,0.08 0.32,0 0.5,0 Z" fill="#f51010" transform="translate(333.70,262.60) scale(9.00,15.52)"/>
<rect x="350.80" y="220.80" width="23.40" height="20.00" fill="#282828" stroke="none" stroke-width="0.8"/>
<line x1="354.70" y1="233.90" x2="354.70" y2="240.60" stroke="#8a8a8a" stroke-width="0.7"/>
<path d="M0.5,0 C0.68,0 0.74,0.08 0.78,0.18 L0.86,0.32 L0.95,0.72 C0.99,0.9 0.82,1 0.5,1 C0.18,1 0.01,0.9 0.05,0.72 L0.14,0.32 L0.22,0.18 C0.26,0.08 0.32,0 0.5,0 Z" fill="#c2c2c2" transform="translate(350.70,221.60) scale(8.00,13.30)"/>
<path d="M0.5,0 C0.68,0 0.74,0.08 0.78,0.18 L0.86,0.32 L0.95,0.72 C0.99,0.9 0.82,1 0.5,1 C0.18,1 0.01,0.9 0.05,0.72 L0.14,0.32 L0.22,0.18 C0.26,0.08 0.32,0 0.5,0 Z" fill="#e2e2e2" transform="translate(351.82,222.93) scale(5.76,10.64)"/>
<ellipse cx="354.70" cy="234.63" rx="1.21" ry="1.10" fill="#7a1ef0" opacity="0.9"/>
<ellipse cx="351.50" cy="232.91" rx="0.99" ry="0.90" fill="#7a1ef0" opacity="0.9"/>
<line x1="362.10" y1="233.90" x2="362.10" y2="240.60" stroke="#8a8a8a" stroke-width="0.7"/>
<path d="M0.5,0 C0.68,0 0.74,0.08 0.78,0.18 L0.86,0.32 L0.95,0.72 C0.99,0.9 0.82,1 0.5,1 C0.18,1 0.01,0.9 0.05,0.72 L0.14,0.32 L0.22,0.18 C0.26,0.08 0.32,0 0.5,0 Z" fill="#c2c2c2" transform="translate(358.10,221.60) scale(8.00,13.30)"/>
<path d="M0.5,0 C0.68,0 0.74,0.08 0.78,0.18 L0.86,0.32 L0.95,0.72 C0.99,0.9 0.82,1 0.5,1 C0.18,1 0.01,0.9 0.05,0.72 L0.14,0.32 L0.22,0.18 C0.26,0.08 0.32,0 0.5,0 Z" fill="#e2e2e2" transform="translate(359.22,222.93) scale(5.76,10.64)"/>
<ellipse cx="362.10" cy="234.63" rx="1.21" ry="1.10" fill="#7a1ef0" opacity="0.9"/>
<ellipse cx="358.90" cy="232.91" rx="0.99" ry="0.90" fill="#7a1ef0" opacity="0.9"/>
<line x1="369.50" y1="233.90" x2="369.50" y2="240.60" stroke="#8a8a8a" stroke-width="0.7"/>
<path d="M0.5,0 C0.68,0 0.74,0.08 0.78,0.18 L0.86,0.32 L0.95,0.72 C0.99,0.9 0.82,1 0.5,1 C0.18,1 0.01,0.9 0.05,0.72 L0.14,0.32 L0.22,0.18 C0.26,0.08 0.32,0 0.5,0 Z" fill="#c2c2c2" transform="translate(365.50,221.60) scale(8.00,13.30)"/>
<path d="M0.5,0 C0.68,0 0.74,0.08 0.78,0.18 L0.86,0.32 L0.95,0.72 C0.99,0.9 0.82,1 0.5,1 C0.18,1 0.01,0.9 0.05,0.72 L0.14,0.32 L0.22,0.18 C0.26,0.08 0.32,0 0.5,0 Z" fill="#e2e2e2" transform="translate(366.62,222.93) scale(5.76,10.64)"/>
<ellipse cx="369.50" cy="234.63" rx="1.21" ry="1.10" fill="#7a1ef0" opacity="0.9"/>
<ellipse cx="366.30" cy="232.91" rx="0.99" ry="0.90" fill="#7a1ef0" opacity="0.9"/>
<rect x="374.80" y="220.80" width="23.60" height="20.00" fill="#282828" stroke="none" stroke-width="0.8"/>
<line x1="378.70" y1="233.90" x2="378.70" y2="240.60" stroke="#8a8a8a" stroke-width="0.7"/>
<path d="M0.5,0 C0.68,0 0.74,0.08 0.78,0.18 L0.86,0.32 L0.95,0.72 C0.99,0.9 0.82,1 0.5,1 C0.18,1 0.01,0.9 0.05,0.72 L0.14,0.32 L0.22,0.18 C0.26,0.08 0.32,0 0.5,0 Z" fill="#c2c2c2" transform="translate(374.70,221.60) scale(8.00,13.30)"/>
<path d="M0.5,0 C0.68,0 0.74,0.08 0.78,0.18 L0.86,0.32 L0.95,0.72 C0.99,0.9 0.82,1 0.5,1 C0.18,1 0.01,0.9 0.05,0.72 L0.14,0.32 L0.22,0.18 C0.26,0.08 0.32,0 0.5,0 Z" fill="#e2e2e2" transform="translate(375.82,222.93) scale(5.76,10.64)"/>
<ellipse cx="378.70" cy="234.63" rx="1.21" ry="1.10" fill="#7a1ef0" opacity="0.9"/>
<ellipse cx="381.90" cy="232.91" rx="0.99" ry="0.90" fill="#7a1ef0" opacity="0.9"/>
<line x1="386.10" y1="233.90" x2="386.10" y2="240.60" stroke="#8a8a8a" stroke-width="0.7"/>
<path d="M0.5,0 C0.68,0 0.74,0.08 0.78,0.18 L0.86,0.32 L0.95,0.72 C0.99,0.9 0.82,1 0.5,1 C0.18,1 0.01,0.9 0.05,0.72 L0.14,0.32 L0.22,0.18 C0.26,0.08 0.32,0 0.5,0 Z" fill="#c2c2c2" transform="translate(382.10,221.60) scale(8.00,13.30)"/>
<path d="M0.5,0 C0.68,0 0.74,0.08 0.78,0.18 L0.86,0.32 L0.95,0.72 C0.99,0.9 0.82,1 0.5,1 C0.18,1 0.01,0.9 0.05,0.72 L0.14,0.32 L0.22,0.18 C0.26,0.08 0.32,0 0.5,0 Z" fill="#e2e2e2" transform="translate(383.22,222.93) scale(5.76,10.64)"/>
<ellipse cx="386.10" cy="234.63" rx="1.21" ry="1.10" fill="#7a1ef0" opacity="0.9"/>
<ellipse cx="389.30" cy="232.91" rx="0.99" ry="0.90" fill="#7a1ef0" opacity="0.9"/>
<rect x="350.80" y="241.50" width="23.40" height="19.10" fill="#282828" stroke="none" stroke-width="0.8"/>
<line x1="354.70" y1="253.97" x2="354.70" y2="260.40" stroke="#8a8a8a" stroke-width="0.7"/>
<path d="M0.5,0 C0.68,0 0.74,0.08 0.78,0.18 L0.86,0.32 L0.95,0.72 C0.99,0.9 0.82,1 0.5,1 C0.18,1 0.01,0.9 0.05,0.72 L0.14,0.32 L0.22,0.18 C0.26,0.08 0.32,0 0.5,0 Z" fill="#c2c2c2" transform="translate(350.70,242.30) scale(8.00,12.67)"/>
<path d="M0.5,0 C0.68,0 0.74,0.08 0.78,0.18 L0.86,0.32 L0.95,0.72 C0.99,0.9 0.82,1 0.5,1 C0.18,1 0.01,0.9 0.05,0.72 L0.14,0.32 L0.22,0.18 C0.26,0.08 0.32,0 0.5,0 Z" fill="#e2e2e2" transform="translate(351.82,243.57) scale(5.76,10.14)"/>
<ellipse cx="354.70" cy="246.10" rx="2.86" ry="2.60" fill="#6a22f2"/>
<ellipse cx="354.70" cy="246.10" rx="1.56" ry="1.43" fill="#3a50ff"/>
<circle cx="352.70" cy="253.07" r="1.50" fill="#30e0a0"/>
<circle cx="352.70" cy="253.07" r="0.75" fill="#f0e020"/>
<circle cx="356.70" cy="253.07" r="1.50" fill="#30e0a0"/>
<circle cx="356.70" cy="253.07" r="0.75" fill="#f0e020"/>
<line x1="362.10" y1="253.97" x2="362.10" y2="260.40" stroke="#8a8a8a" stroke-width="0.7"/>
<path d="M0.5,0 C0.68,0 0.74,0.08 0.78,0.18 L0.86,0.32 L0.95,0.72 C0.99,0.9 0.82,1 0.5,1 C0.18,1 0.01,0.9 0.05,0.72 L0.14,0.32 L0.22,0.18 C0.26,0.08 0.32,0 0.5,0 Z" fill="#c2c2c2" transform="translate(358.10,242.30) scale(8.00,12.67)"/>
<path d="M0.5,0 C0.68,0 0.74,0.08 0.78,0.18 L0.86,0.32 L0.95,0.72 C0.99,0.9 0.82,1 0.5,1 C0.18,1 0.01,0.9 0.05,0.72 L0.14,0.32 L0.22,0.18 C0.26,0.08 0.32,0 0.5,0 Z" fill="#e2e2e2" transform="translate(359.22,243.57) scale(5.76,10.14)"/>
<ellipse cx="362.10" cy="248.64" rx="1.32" ry="1.20" fill="#7a1ef0" opacity="0.9"/>
<line x1="369.50" y1="253.97" x2="369.50" y2="260.40" stroke="#8a8a8a" stroke-width="0.7"/>
<path d="M0.5,0 C0.68,0 0.74,0.08 0.78,0.18 L0.86,0.32 L0.95,0.72 C0.99,0.9 0.82,1 0.5,1 C0.18,1 0.01,0.9 0.05,0.72 L0.14,0.32 L0.22,0.18 C0.26,0.08 0.32,0 0.5,0 Z" fill="#c2c2c2" transform="translate(365.50,242.30) scale(8.00,12.67)"/>
<path d="M0.5,0 C0.68,0 0.74,0.08 0.78,0.18 L0.86,0.32 L0.95,0.72 C0.99,0.9 0.82,1 0.5,1 C0.18,1 0.01,0.9 0.05,0.72 L0.14,0.32 L0.22,0.18 C0.26,0.08 0.32,0 0.5,0 Z" fill="#e2e2e2" transform="translate(366.62,243.57) scale(5.76,10.14)"/>
<ellipse cx="369.50" cy="246.10" rx="2.86" ry="2.60" fill="#6a22f2"/>
<ellipse cx="369.50" cy="246.10" rx="1.56" ry="1.43" fill="#3a50ff"/>
<circle cx="369.50" cy="252.44" r="2.20" fill="#30e0a0"/>
<circle cx="369.50" cy="252.44" r="1.10" fill="#f0e020"/>
<rect x="374.80" y="241.50" width="23.60" height="19.10" fill="#282828" stroke="none" stroke-width="0.8"/>
<line x1="378.70" y1="253.97" x2="378.70" y2="260.40" stroke="#8a8a8a" stroke-width="0.7"/>
<path d="M0.5,0 C0.68,0 0.74,0.08 0.78,0.18 L0.86,0.32 L0.95,0.72 C0.99,0.9 0.82,1 0.5,1 C0.18,1 0.01,0.9 0.05,0.72 L0.14,0.32 L0.22,0.18 C0.26,0.08 0.32,0 0.5,0 Z" fill="#c2c2c2" transform="translate(374.70,242.30) scale(8.00,12.67)"/>
<path d="M0.5,0 C0.68,0 0.74,0.08 0.78,0.18 L0.86,0.32 L0.95,0.72 C0.99,0.9 0.82,1 0.5,1 C0.18,1 0.01,0.9 0.05,0.72 L0.14,0.32 L0.22,0.18 C0.26,0.08 0.32,0 0.5,0 Z" fill="#e2e2e2" transform="translate(375.82,243.57) scale(5.76,10.14)"/>
<ellipse cx="378.70" cy="246.10" rx="2.86" ry="2.60" fill="#6a22f2"/>
<ellipse cx="378.70" cy="246.10" rx="1.56" ry="1.43" fill="#3a50ff"/>
<circle cx="376.70" cy="253.07" r="1.50" fill="#30e0a0"/>
<circle cx="376.70" cy="253.07" r="0.75" fill="#f0e020"/>
<circle cx="380.70" cy="253.07" r="1.50" fill="#30e0a0"/>
<circle cx="380.70" cy="253.07" r="0.75" fill="#f0e020"/>
<line x1="386.10" y1="253.97" x2="386.10" y2="260.40" stroke="#8a8a8a" stroke-width="0.7"/>
<path d="M0.5,0 C0.68,0 0.74,0.08 0.78,0.18 L0.86,0.32 L0.95,0.72 C0.99,0.9 0.82,1 0.5,1 C0.18,1 0.01,0.9 0.05,0.72 L0.14,0.32 L0.22,0.18 C0.26,0.08 0.32,0 0.5,0 Z" fill="#c2c2c2" transform="translate(382.10,242.30) scale(8.00,12.67)"/>
<path d="M0.5,0 C0.68,0 0.74,0.08 0.78,0.18 L0.86,0.32 L0.95,0.72 C0.99,0.9 0.82,1 0.5,1 C0.18,1 0.01,0.9 0.05,0.72 L0.14,0.32 L0.22,0.18 C0.26,0.08 0.32,0 0.5,0 Z" fill="#e2e2e2" transform="translate(383.22,243.57) scale(5.76,10.14)"/>
<ellipse cx="386.10" cy="246.10" rx="2.86" ry="2.60" fill="#6a22f2"/>
<ellipse cx="386.10" cy="246.10" rx="1.56" ry="1.43" fill="#3a50ff"/>
<ellipse cx="386.10" cy="252.44" rx="2.64" ry="2.40" fill="#6a22f2"/>
<ellipse cx="386.10" cy="252.44" rx="1.44" ry="1.32" fill="#3a50ff"/>
<rect x="350.80" y="261.60" width="23.40" height="20.40" fill="#3c3cf0" stroke="none" stroke-width="0.8"/>
<rect x="372.53" y="267.57" width="1.30" height="1.30" fill="#5a30f0" stroke="none" stroke-width="0.8"/>
<rect x="372.81" y="268.25" width="1.30" height="1.30" fill="#5a30f0" stroke="none" stroke-width="0.8"/>
<rect x="359.87" y="268.34" width="1.30" height="1.30" fill="#3a5af2" stroke="none" stroke-width="0.8"/>
<rect x="369.55" y="261.88" width="1.30" height="1.30" fill="#3a70f0" stroke="none" stroke-width="0.8"/>
<rect x="360.45" y="262.67" width="1.30" height="1.30" fill="#6030f0" stroke="none" stroke-width="0.8"/>
<rect x="370.30" y="274.61" width="1.30" height="1.30" fill="#3a70f0" stroke="none" stroke-width="0.8"/>
<rect x="364.21" y="275.04" width="1.30" height="1.30" fill="#3a5af2" stroke="none" stroke-width="0.8"/>
<rect x="361.09" y="264.66" width="1.30" height="1.30" fill="#6030f0" stroke="none" stroke-width="0.8"/>
<rect x="350.88" y="268.66" width="1.30" height="1.30" fill="#3a70f0" stroke="none" stroke-width="0.8"/>
<rect x="372.59" y="272.21" width="1.30" height="1.30" fill="#5a30f0" stroke="none" stroke-width="0.8"/>
<rect x="351.57" y="278.72" width="1.30" height="1.30" fill="#5a30f0" stroke="none" stroke-width="0.8"/>
<rect x="358.79" y="261.62" width="1.30" height="1.30" fill="#6030f0" stroke="none" stroke-width="0.8"/>
<rect x="352.68" y="267.01" width="1.30" height="1.30" fill="#5a30f0" stroke="none" stroke-width="0.8"/>
<rect x="356.36" y="276.66" width="1.30" height="1.30" fill="#3a5af2" stroke="none" stroke-width="0.8"/>
<rect x="356.72" y="263.34" width="1.30" height="1.30" fill="#6030f0" stroke="none" stroke-width="0.8"/>
<rect x="363.94" y="269.24" width="1.30" height="1.30" fill="#3a70f0" stroke="none" stroke-width="0.8"/>
<rect x="357.62" y="266.12" width="1.30" height="1.30" fill="#5a30f0" stroke="none" stroke-width="0.8"/>
<rect x="365.53" y="275.49" width="1.30" height="1.30" fill="#6030f0" stroke="none" stroke-width="0.8"/>
<rect x="367.92" y="275.58" width="1.30" height="1.30" fill="#6030f0" stroke="none" stroke-width="0.8"/>
<rect x="354.15" y="275.65" width="1.30" height="1.30" fill="#5a30f0" stroke="none" stroke-width="0.8"/>
<rect x="351.78" y="277.80" width="1.30" height="1.30" fill="#6030f0" stroke="none" stroke-width="0.8"/>
<rect x="367.24" y="277.36" width="1.30" height="1.30" fill="#5a30f0" stroke="none" stroke-width="0.8"/>
<rect x="371.18" y="276.21" width="1.30" height="1.30" fill="#3a5af2" stroke="none" stroke-width="0.8"/>
<rect x="369.31" y="272.93" width="1.30" height="1.30" fill="#5a30f0" stroke="none" stroke-width="0.8"/>
<rect x="352.71" y="262.41" width="1.30" height="1.30" fill="#3a70f0" stroke="none" stroke-width="0.8"/>
<rect x="372.29" y="268.91" width="1.30" height="1.30" fill="#6030f0" stroke="none" stroke-width="0.8"/>
<rect x="363.31" y="273.78" width="1.30" height="1.30" fill="#5a30f0" stroke="none" stroke-width="0.8"/>
<rect x="361.76" y="261.66" width="1.30" height="1.30" fill="#3a5af2" stroke="none" stroke-width="0.8"/>
<rect x="367.56" y="271.36" width="1.30" height="1.30" fill="#3a5af2" stroke="none" stroke-width="0.8"/>
<rect x="365.57" y="262.88" width="1.30" height="1.30" fill="#6030f0" stroke="none" stroke-width="0.8"/>
<rect x="356.45" y="263.04" width="1.30" height="1.30" fill="#3a70f0" stroke="none" stroke-width="0.8"/>
<rect x="356.06" y="276.27" width="1.30" height="1.30" fill="#5a30f0" stroke="none" stroke-width="0.8"/>
<rect x="367.37" y="280.53" width="1.30" height="1.30" fill="#6030f0" stroke="none" stroke-width="0.8"/>
<rect x="369.74" y="263.09" width="1.30" height="1.30" fill="#3a70f0" stroke="none" stroke-width="0.8"/>
<rect x="367.98" y="273.57" width="1.30" height="1.30" fill="#5a30f0" stroke="none" stroke-width="0.8"/>
<rect x="352.54" y="264.46" width="1.30" height="1.30" fill="#3a70f0" stroke="none" stroke-width="0.8"/>
<rect x="365.39" y="275.04" width="1.30" height="1.30" fill="#5a30f0" stroke="none" stroke-width="0.8"/>
<rect x="351.08" y="262.78" width="1.30" height="1.30" fill="#3a70f0" stroke="none" stroke-width="0.8"/>
<rect x="372.58" y="263.53" width="1.30" height="1.30" fill="#5a30f0" stroke="none" stroke-width="0.8"/>
<rect x="365.94" y="267.24" width="1.30" height="1.30" fill="#3a70f0" stroke="none" stroke-width="0.8"/>
<rect x="361.21" y="270.65" width="1.30" height="1.30" fill="#3a5af2" stroke="none" stroke-width="0.8"/>
<rect x="373.05" y="272.25" width="1.30" height="1.30" fill="#3a70f0" stroke="none" stroke-width="0.8"/>
<rect x="372.71" y="279.76" width="1.30" height="1.30" fill="#3a5af2" stroke="none" stroke-width="0.8"/>
<rect x="357.29" y="263.08" width="1.30" height="1.30" fill="#6030f0" stroke="none" stroke-width="0.8"/>
<rect x="373.06" y="269.10" width="1.30" height="1.30" fill="#5a30f0" stroke="none" stroke-width="0.8"/>
<rect x="352.47" y="263.35" width="1.30" height="1.30" fill="#3a70f0" stroke="none" stroke-width="0.8"/>
<rect x="372.14" y="264.17" width="1.30" height="1.30" fill="#3a70f0" stroke="none" stroke-width="0.8"/>
<rect x="370.67" y="275.24" width="1.30" height="1.30" fill="#5a30f0" stroke="none" stroke-width="0.8"/>
<rect x="361.95" y="278.60" width="1.30" height="1.30" fill="#6030f0" stroke="none" stroke-width="0.8"/>
<rect x="351.36" y="261.67" width="1.30" height="1.30" fill="#6030f0" stroke="none" stroke-width="0.8"/>
<rect x="366.07" y="269.47" width="1.30" height="1.30" fill="#5a30f0" stroke="none" stroke-width="0.8"/>
<rect x="360.12" y="268.90" width="1.30" height="1.30" fill="#3a5af2" stroke="none" stroke-width="0.8"/>
<rect x="369.62" y="261.63" width="1.30" height="1.30" fill="#3a70f0" stroke="none" stroke-width="0.8"/>
<rect x="369.60" y="263.93" width="1.30" height="1.30" fill="#5a30f0" stroke="none" stroke-width="0.8"/>
<rect x="366.77" y="279.09" width="1.30" height="1.30" fill="#3a70f0" stroke="none" stroke-width="0.8"/>
<rect x="356.47" y="262.86" width="1.30" height="1.30" fill="#6030f0" stroke="none" stroke-width="0.8"/>
<rect x="373.17" y="273.03" width="1.30" height="1.30" fill="#3a70f0" stroke="none" stroke-width="0.8"/>
<rect x="371.53" y="276.26" width="1.30" height="1.30" fill="#3a5af2" stroke="none" stroke-width="0.8"/>
<rect x="357.09" y="262.60" width="1.30" height="1.30" fill="#3a70f0" stroke="none" stroke-width="0.8"/>
<rect x="365.02" y="264.49" width="1.30" height="1.30" fill="#3a70f0" stroke="none" stroke-width="0.8"/>
<rect x="360.57" y="267.72" width="1.30" height="1.30" fill="#3a70f0" stroke="none" stroke-width="0.8"/>
<rect x="368.39" y="269.90" width="1.30" height="1.30" fill="#3a5af2" stroke="none" stroke-width="0.8"/>
<rect x="368.99" y="273.84" width="1.30" height="1.30" fill="#5a30f0" stroke="none" stroke-width="0.8"/>
<rect x="366.92" y="262.56" width="1.30" height="1.30" fill="#6030f0" stroke="none" stroke-width="0.8"/>
<rect x="360.90" y="276.20" width="1.30" height="1.30" fill="#3a70f0" stroke="none" stroke-width="0.8"/>
<rect x="361.68" y="279.29" width="1.30" height="1.30" fill="#5a30f0" stroke="none" stroke-width="0.8"/>
<rect x="354.63" y="269.65" width="1.30" height="1.30" fill="#3a70f0" stroke="none" stroke-width="0.8"/>
<rect x="357.47" y="275.94" width="1.30" height="1.30" fill="#3a70f0" stroke="none" stroke-width="0.8"/>
<line x1="354.70" y1="277.92" x2="354.70" y2="281.80" stroke="#20b8d0" stroke-width="0.9"/>
<path d="M0.5,0 C0.68,0 0.74,0.08 0.78,0.18 L0.86,0.32 L0.95,0.72 C0.99,0.9 0.82,1 0.5,1 C0.18,1 0.01,0.9 0.05,0.72 L0.14,0.32 L0.22,0.18 C0.26,0.08 0.32,0 0.5,0 Z" fill="#30c8e0" transform="translate(349.30,262.00) scale(10.80,16.72)"/>
<path d="M0.5,0 C0.68,0 0.74,0.08 0.78,0.18 L0.86,0.32 L0.95,0.72 C0.99,0.9 0.82,1 0.5,1 C0.18,1 0.01,0.9 0.05,0.72 L0.14,0.32 L0.22,0.18 C0.26,0.08 0.32,0 0.5,0 Z" fill="#c8e830" transform="translate(349.75,262.30) scale(9.90,16.02)"/>
<path d="M0.5,0 C0.68,0 0.74,0.08 0.78,0.18 L0.86,0.32 L0.95,0.72 C0.99,0.9 0.82,1 0.5,1 C0.18,1 0.01,0.9 0.05,0.72 L0.14,0.32 L0.22,0.18 C0.26,0.08 0.32,0 0.5,0 Z" fill="#f51010" transform="translate(350.20,262.60) scale(9.00,15.52)"/>
<line x1="362.10" y1="277.92" x2="362.10" y2="281.80" stroke="#20b8d0" stroke-width="0.9"/>
<path d="M0.5,0 C0.68,0 0.74,0.08 0.78,0.18 L0.86,0.32 L0.95,0.72 C0.99,0.9 0.82,1 0.5,1 C0.18,1 0.01,0.9 0.05,0.72 L0.14,0.32 L0.22,0.18 C0.26,0.08 0.32,0 0.5,0 Z" fill="#30c8e0" transform="translate(356.70,262.00) scale(10.80,16.72)"/>
<path d="M0.5,0 C0.68,0 0.74,0.08 0.78,0.18 L0.86,0.32 L0.95,0.72 C0.99,0.9 0.82,1 0.5,1 C0.18,1 0.01,0.9 0.05,0.72 L0.14,0.32 L0.22,0.18 C0.26,0.08 0.32,0 0.5,0 Z" fill="#c8e830" transform="translate(357.15,262.30) scale(9.90,16.02)"/>
<path d="M0.5,0 C0.68,0 0.74,0.08 0.78,0.18 L0.86,0.32 L0.95,0.72 C0.99,0.9 0.82,1 0.5,1 C0.18,1 0.01,0.9 0.05,0.72 L0.14,0.32 L0.22,0.18 C0.26,0.08 0.32,0 0.5,0 Z" fill="#f51010" transform="translate(357.60,262.60) scale(9.00,15.52)"/>
<line x1="369.50" y1="277.92" x2="369.50" y2="281.80" stroke="#20b8d0" stroke-width="0.9"/>
<path d="M0.5,0 C0.68,0 0.74,0.08 0.78,0.18 L0.86,0.32 L0.95,0.72 C0.99,0.9 0.82,1 0.5,1 C0.18,1 0.01,0.9 0.05,0.72 L0.14,0.32 L0.22,0.18 C0.26,0.08 0.32,0 0.5,0 Z" fill="#30c8e0" transform="translate(364.10,262.00) scale(10.80,16.72)"/>
<path d="M0.5,0 C0.68,0 0.74,0.08 0.78,0.18 L0.86,0.32 L0.95,0.72 C0.99,0.9 0.82,1 0.5,1 C0.18,1 0.01,0.9 0.05,0.72 L0.14,0.32 L0.22,0.18 C0.26,0.08 0.32,0 0.5,0 Z" fill="#c8e830" transform="translate(364.55,262.30) scale(9.90,16.02)"/>
<path d="M0.5,0 C0.68,0 0.74,0.08 0.78,0.18 L0.86,0.32 L0.95,0.72 C0.99,0.9 0.82,1 0.5,1 C0.18,1 0.01,0.9 0.05,0.72 L0.14,0.32 L0.22,0.18 C0.26,0.08 0.32,0 0.5,0 Z" fill="#f51010" transform="translate(365.00,262.60) scale(9.00,15.52)"/>
<rect x="374.80" y="261.60" width="23.60" height="20.40" fill="#3c3cf0" stroke="none" stroke-width="0.8"/>
<rect x="383.98" y="266.23" width="1.30" height="1.30" fill="#6030f0" stroke="none" stroke-width="0.8"/>
<rect x="387.40" y="269.25" width="1.30" height="1.30" fill="#5a30f0" stroke="none" stroke-width="0.8"/>
<rect x="389.34" y="263.06" width="1.30" height="1.30" fill="#6030f0" stroke="none" stroke-width="0.8"/>
<rect x="387.24" y="270.39" width="1.30" height="1.30" fill="#3a70f0" stroke="none" stroke-width="0.8"/>
<rect x="397.32" y="270.33" width="1.30" height="1.30" fill="#5a30f0" stroke="none" stroke-width="0.8"/>
<rect x="387.18" y="266.34" width="1.30" height="1.30" fill="#5a30f0" stroke="none" stroke-width="0.8"/>
<rect x="382.53" y="263.37" width="1.30" height="1.30" fill="#5a30f0" stroke="none" stroke-width="0.8"/>
<rect x="383.12" y="277.30" width="1.30" height="1.30" fill="#5a30f0" stroke="none" stroke-width="0.8"/>
<rect x="394.85" y="276.14" width="1.30" height="1.30" fill="#6030f0" stroke="none" stroke-width="0.8"/>
<rect x="383.45" y="276.07" width="1.30" height="1.30" fill="#5a30f0" stroke="none" stroke-width="0.8"/>
<rect x="383.32" y="268.16" width="1.30" height="1.30" fill="#3a5af2" stroke="none" stroke-width="0.8"/>
<rect x="386.06" y="272.74" width="1.30" height="1.30" fill="#3a70f0" stroke="none" stroke-width="0.8"/>
<rect x="377.64" y="271.37" width="1.30" height="1.30" fill="#5a30f0" stroke="none" stroke-width="0.8"/>
<rect x="376.89" y="279.00" width="1.30" height="1.30" fill="#6030f0" stroke="none" stroke-width="0.8"/>
<rect x="383.83" y="270.25" width="1.30" height="1.30" fill="#3a70f0" stroke="none" stroke-width="0.8"/>
<rect x="393.98" y="278.53" width="1.30" height="1.30" fill="#3a5af2" stroke="none" stroke-width="0.8"/>
<rect x="377.68" y="269.85" width="1.30" height="1.30" fill="#6030f0" stroke="none" stroke-width="0.8"/>
<rect x="396.68" y="271.10" width="1.30" height="1.30" fill="#3a5af2" stroke="none" stroke-width="0.8"/>
<rect x="383.65" y="279.58" width="1.30" height="1.30" fill="#6030f0" stroke="none" stroke-width="0.8"/>
<rect x="396.77" y="266.42" width="1.30" height="1.30" fill="#3a5af2" stroke="none" stroke-width="0.8"/>
<rect x="379.86" y="264.55" width="1.30" height="1.30" fill="#3a5af2" stroke="none" stroke-width="0.8"/>
<rect x="396.08" y="275.60" width="1.30" height="1.30" fill="#6030f0" stroke="none" stroke-width="0.8"/>
<rect x="376.72" y="276.67" width="1.30" height="1.30" fill="#3a5af2" stroke="none" stroke-width="0.8"/>
<rect x="392.48" y="266.11" width="1.30" height="1.30" fill="#3a5af2" stroke="none" stroke-width="0.8"/>
<rect x="389.39" y="267.49" width="1.30" height="1.30" fill="#5a30f0" stroke="none" stroke-width="0.8"/>
<rect x="388.96" y="271.85" width="1.30" height="1.30" fill="#6030f0" stroke="none" stroke-width="0.8"/>
<rect x="390.59" y="263.78" width="1.30" height="1.30" fill="#3a5af2" stroke="none" stroke-width="0.8"/>
<rect x="381.59" y="279.90" width="1.30" height="1.30" fill="#5a30f0" stroke="none" stroke-width="0.8"/>
<rect x="383.57" y="265.94" width="1.30" height="1.30" fill="#3a5af2" stroke="none" stroke-width="0.8"/>
<rect x="375.04" y="267.45" width="1.30" height="1.30" fill="#6030f0" stroke="none" stroke-width="0.8"/>
<rect x="381.10" y="267.74" width="1.30" height="1.30" fill="#5a30f0" stroke="none" stroke-width="0.8"/>
<rect x="385.54" y="266.15" width="1.30" height="1.30" fill="#5a30f0" stroke="none" stroke-width="0.8"/>
<rect x="375.46" y="269.59" width="1.30" height="1.30" fill="#3a70f0" stroke="none" stroke-width="0.8"/>
<rect x="376.05" y="265.37" width="1.30" height="1.30" fill="#6030f0" stroke="none" stroke-width="0.8"/>
<rect x="376.63" y="266.02" width="1.30" height="1.30" fill="#6030f0" stroke="none" stroke-width="0.8"/>
<rect x="395.71" y="266.00" width="1.30" height="1.30" fill="#3a5af2" stroke="none" stroke-width="0.8"/>
<rect x="390.53" y="275.54" width="1.30" height="1.30" fill="#3a70f0" stroke="none" stroke-width="0.8"/>
<rect x="390.23" y="265.44" width="1.30" height="1.30" fill="#3a70f0" stroke="none" stroke-width="0.8"/>
<rect x="391.50" y="271.39" width="1.30" height="1.30" fill="#5a30f0" stroke="none" stroke-width="0.8"/>
<rect x="386.00" y="265.49" width="1.30" height="1.30" fill="#5a30f0" stroke="none" stroke-width="0.8"/>
<rect x="380.02" y="265.90" width="1.30" height="1.30" fill="#3a70f0" stroke="none" stroke-width="0.8"/>
<rect x="377.26" y="273.70" width="1.30" height="1.30" fill="#5a30f0" stroke="none" stroke-width="0.8"/>
<rect x="395.06" y="271.01" width="1.30" height="1.30" fill="#3a5af2" stroke="none" stroke-width="0.8"/>
<rect x="396.24" y="264.44" width="1.30" height="1.30" fill="#6030f0" stroke="none" stroke-width="0.8"/>
<rect x="376.03" y="262.06" width="1.30" height="1.30" fill="#5a30f0" stroke="none" stroke-width="0.8"/>
<rect x="384.19" y="275.37" width="1.30" height="1.30" fill="#5a30f0" stroke="none" stroke-width="0.8"/>
<rect x="383.69" y="279.02" width="1.30" height="1.30" fill="#3a70f0" stroke="none" stroke-width="0.8"/>
<rect x="391.36" y="280.95" width="1.30" height="1.30" fill="#5a30f0" stroke="none" stroke-width="0.8"/>
<rect x="382.24" y="265.20" width="1.30" height="1.30" fill="#6030f0" stroke="none" stroke-width="0.8"/>
<rect x="375.52" y="274.49" width="1.30" height="1.30" fill="#6030f0" stroke="none" stroke-width="0.8"/>
<rect x="393.76" y="280.71" width="1.30" height="1.30" fill="#6030f0" stroke="none" stroke-width="0.8"/>
<rect x="378.63" y="261.66" width="1.30" height="1.30" fill="#3a70f0" stroke="none" stroke-width="0.8"/>
<rect x="376.63" y="269.75" width="1.30" height="1.30" fill="#3a5af2" stroke="none" stroke-width="0.8"/>
<rect x="387.48" y="276.32" width="1.30" height="1.30" fill="#6030f0" stroke="none" stroke-width="0.8"/>
<rect x="382.86" y="277.54" width="1.30" height="1.30" fill="#6030f0" stroke="none" stroke-width="0.8"/>
<rect x="376.78" y="275.28" width="1.30" height="1.30" fill="#5a30f0" stroke="none" stroke-width="0.8"/>
<rect x="383.22" y="279.44" width="1.30" height="1.30" fill="#5a30f0" stroke="none" stroke-width="0.8"/>
<rect x="382.11" y="275.90" width="1.30" height="1.30" fill="#6030f0" stroke="none" stroke-width="0.8"/>
<rect x="375.48" y="269.57" width="1.30" height="1.30" fill="#6030f0" stroke="none" stroke-width="0.8"/>
<rect x="375.72" y="262.28" width="1.30" height="1.30" fill="#3a5af2" stroke="none" stroke-width="0.8"/>
<rect x="392.96" y="262.80" width="1.30" height="1.30" fill="#5a30f0" stroke="none" stroke-width="0.8"/>
<rect x="391.69" y="279.03" width="1.30" height="1.30" fill="#3a70f0" stroke="none" stroke-width="0.8"/>
<rect x="383.00" y="268.10" width="1.30" height="1.30" fill="#3a5af2" stroke="none" stroke-width="0.8"/>
<rect x="380.73" y="275.50" width="1.30" height="1.30" fill="#3a70f0" stroke="none" stroke-width="0.8"/>
<rect x="395.69" y="267.37" width="1.30" height="1.30" fill="#3a5af2" stroke="none" stroke-width="0.8"/>
<rect x="375.35" y="266.14" width="1.30" height="1.30" fill="#6030f0" stroke="none" stroke-width="0.8"/>
<rect x="390.97" y="270.64" width="1.30" height="1.30" fill="#6030f0" stroke="none" stroke-width="0.8"/>
<rect x="392.65" y="279.32" width="1.30" height="1.30" fill="#6030f0" stroke="none" stroke-width="0.8"/>
<line x1="378.70" y1="277.92" x2="378.70" y2="281.80" stroke="#20b8d0" stroke-width="0.9"/>
<path d="M0.5,0 C0.68,0 0.74,0.08 0.78,0.18 L0.86,0.32 L0.95,0.72 C0.99,0.9 0.82,1 0.5,1 C0.18,1 0.01,0.9 0.05,0.72 L0.14,0.32 L0.22,0.18 C0.26,0.08 0.32,0 0.5,0 Z" fill="#30c8e0" transform="translate(373.30,262.00) scale(10.80,16.72)"/>
<path d="M0.5,0 C0.68,0 0.74,0.08 0.78,0.18 L0.86,0.32 L0.95,0.72 C0.99,0.9 0.82,1 0.5,1 C0.18,1 0.01,0.9 0.05,0.72 L0.14,0.32 L0.22,0.18 C0.26,0.08 0.32,0 0.5,0 Z" fill="#c8e830" transform="translate(373.75,262.30) scale(9.90,16.02)"/>
<path d="M0.5,0 C0.68,0 0.74,0.08 0.78,0.18 L0.86,0.32 L0.95,0.72 C0.99,0.9 0.82,1 0.5,1 C0.18,1 0.01,0.9 0.05,0.72 L0.14,0.32 L0.22,0.18 C0.26,0.08 0.32,0 0.5,0 Z" fill="#f51010" transform="translate(374.20,262.60) scale(9.00,15.52)"/>
<line x1="386.10" y1="277.92" x2="386.10" y2="281.80" stroke="#20b8d0" stroke-width="0.9"/>
<path d="M0.5,0 C0.68,0 0.74,0.08 0.78,0.18 L0.86,0.32 L0.95,0.72 C0.99,0.9 0.82,1 0.5,1 C0.18,1 0.01,0.9 0.05,0.72 L0.14,0.32 L0.22,0.18 C0.26,0.08 0.32,0 0.5,0 Z" fill="#30c8e0" transform="translate(380.70,262.00) scale(10.80,16.72)"/>
<path d="M0.5,0 C0.68,0 0.74,0.08 0.78,0.18 L0.86,0.32 L0.95,0.72 C0.99,0.9 0.82,1 0.5,1 C0.18,1 0.01,0.9 0.05,0.72 L0.14,0.32 L0.22,0.18 C0.26,0.08 0.32,0 0.5,0 Z" fill="#c8e830" transform="translate(381.15,262.30) scale(9.90,16.02)"/>
<path d="M0.5,0 C0.68,0 0.74,0.08 0.78,0.18 L0.86,0.32 L0.95,0.72 C0.99,0.9 0.82,1 0.5,1 C0.18,1 0.01,0.9 0.05,0.72 L0.14,0.32 L0.22,0.18 C0.26,0.08 0.32,0 0.5,0 Z" fill="#f51010" transform="translate(381.60,262.60) scale(9.00,15.52)"/>
<rect x="398.90" y="220.80" width="24.90" height="20.00" fill="#282828" stroke="none" stroke-width="0.8"/>
<line x1="402.80" y1="233.90" x2="402.80" y2="240.60" stroke="#8a8a8a" stroke-width="0.7"/>
<path d="M0.5,0 C0.68,0 0.74,0.08 0.78,0.18 L0.86,0.32 L0.95,0.72 C0.99,0.9 0.82,1 0.5,1 C0.18,1 0.01,0.9 0.05,0.72 L0.14,0.32 L0.22,0.18 C0.26,0.08 0.32,0 0.5,0 Z" fill="#c2c2c2" transform="translate(398.80,221.60) scale(8.00,13.30)"/>
<path d="M0.5,0 C0.68,0 0.74,0.08 0.78,0.18 L0.86,0.32 L0.95,0.72 C0.99,0.9 0.82,1 0.5,1 C0.18,1 0.01,0.9 0.05,0.72 L0.14,0.32 L0.22,0.18 C0.26,0.08 0.32,0 0.5,0 Z" fill="#e2e2e2" transform="translate(399.92,222.93) scale(5.76,10.64)"/>
<ellipse cx="402.80" cy="234.63" rx="1.21" ry="1.10" fill="#7a1ef0" opacity="0.9"/>
<ellipse cx="399.60" cy="232.91" rx="0.99" ry="0.90" fill="#7a1ef0" opacity="0.9"/>
<line x1="410.20" y1="233.90" x2="410.20" y2="240.60" stroke="#8a8a8a" stroke-width="0.7"/>
<path d="M0.5,0 C0.68,0 0.74,0.08 0.78,0.18 L0.86,0.32 L0.95,0.72 C0.99,0.9 0.82,1 0.5,1 C0.18,1 0.01,0.9 0.05,0.72 L0.14,0.32 L0.22,0.18 C0.26,0.08 0.32,0 0.5,0 Z" fill="#c2c2c2" transform="translate(406.20,221.60) scale(8.00,13.30)"/>
<path d="M0.5,0 C0.68,0 0.74,0.08 0.78,0.18 L0.86,0.32 L0.95,0.72 C0.99,0.9 0.82,1 0.5,1 C0.18,1 0.01,0.9 0.05,0.72 L0.14,0.32 L0.22,0.18 C0.26,0.08 0.32,0 0.5,0 Z" fill="#e2e2e2" transform="translate(407.32,222.93) scale(5.76,10.64)"/>
<ellipse cx="410.20" cy="234.63" rx="1.21" ry="1.10" fill="#7a1ef0" opacity="0.9"/>
<ellipse cx="407.00" cy="232.91" rx="0.99" ry="0.90" fill="#7a1ef0" opacity="0.9"/>
<line x1="417.60" y1="233.90" x2="417.60" y2="240.60" stroke="#8a8a8a" stroke-width="0.7"/>
<path d="M0.5,0 C0.68,0 0.74,0.08 0.78,0.18 L0.86,0.32 L0.95,0.72 C0.99,0.9 0.82,1 0.5,1 C0.18,1 0.01,0.9 0.05,0.72 L0.14,0.32 L0.22,0.18 C0.26,0.08 0.32,0 0.5,0 Z" fill="#c2c2c2" transform="translate(413.60,221.60) scale(8.00,13.30)"/>
<path d="M0.5,0 C0.68,0 0.74,0.08 0.78,0.18 L0.86,0.32 L0.95,0.72 C0.99,0.9 0.82,1 0.5,1 C0.18,1 0.01,0.9 0.05,0.72 L0.14,0.32 L0.22,0.18 C0.26,0.08 0.32,0 0.5,0 Z" fill="#e2e2e2" transform="translate(414.72,222.93) scale(5.76,10.64)"/>
<ellipse cx="417.60" cy="234.63" rx="1.21" ry="1.10" fill="#7a1ef0" opacity="0.9"/>
<ellipse cx="414.40" cy="232.91" rx="0.99" ry="0.90" fill="#7a1ef0" opacity="0.9"/>
<rect x="424.40" y="220.80" width="22.90" height="20.00" fill="#282828" stroke="none" stroke-width="0.8"/>
<line x1="428.30" y1="233.90" x2="428.30" y2="240.60" stroke="#8a8a8a" stroke-width="0.7"/>
<path d="M0.5,0 C0.68,0 0.74,0.08 0.78,0.18 L0.86,0.32 L0.95,0.72 C0.99,0.9 0.82,1 0.5,1 C0.18,1 0.01,0.9 0.05,0.72 L0.14,0.32 L0.22,0.18 C0.26,0.08 0.32,0 0.5,0 Z" fill="#c2c2c2" transform="translate(424.30,221.60) scale(8.00,13.30)"/>
<path d="M0.5,0 C0.68,0 0.74,0.08 0.78,0.18 L0.86,0.32 L0.95,0.72 C0.99,0.9 0.82,1 0.5,1 C0.18,1 0.01,0.9 0.05,0.72 L0.14,0.32 L0.22,0.18 C0.26,0.08 0.32,0 0.5,0 Z" fill="#e2e2e2" transform="translate(425.42,222.93) scale(5.76,10.64)"/>
<ellipse cx="428.30" cy="234.63" rx="1.21" ry="1.10" fill="#7a1ef0" opacity="0.9"/>
<ellipse cx="431.50" cy="232.91" rx="0.99" ry="0.90" fill="#7a1ef0" opacity="0.9"/>
<line x1="435.70" y1="233.90" x2="435.70" y2="240.60" stroke="#8a8a8a" stroke-width="0.7"/>
<path d="M0.5,0 C0.68,0 0.74,0.08 0.78,0.18 L0.86,0.32 L0.95,0.72 C0.99,0.9 0.82,1 0.5,1 C0.18,1 0.01,0.9 0.05,0.72 L0.14,0.32 L0.22,0.18 C0.26,0.08 0.32,0 0.5,0 Z" fill="#c2c2c2" transform="translate(431.70,221.60) scale(8.00,13.30)"/>
<path d="M0.5,0 C0.68,0 0.74,0.08 0.78,0.18 L0.86,0.32 L0.95,0.72 C0.99,0.9 0.82,1 0.5,1 C0.18,1 0.01,0.9 0.05,0.72 L0.14,0.32 L0.22,0.18 C0.26,0.08 0.32,0 0.5,0 Z" fill="#e2e2e2" transform="translate(432.82,222.93) scale(5.76,10.64)"/>
<ellipse cx="435.70" cy="234.63" rx="1.21" ry="1.10" fill="#7a1ef0" opacity="0.9"/>
<ellipse cx="438.90" cy="232.91" rx="0.99" ry="0.90" fill="#7a1ef0" opacity="0.9"/>
<rect x="398.90" y="241.50" width="24.90" height="19.10" fill="#282828" stroke="none" stroke-width="0.8"/>
<line x1="402.80" y1="253.97" x2="402.80" y2="260.40" stroke="#8a8a8a" stroke-width="0.7"/>
<path d="M0.5,0 C0.68,0 0.74,0.08 0.78,0.18 L0.86,0.32 L0.95,0.72 C0.99,0.9 0.82,1 0.5,1 C0.18,1 0.01,0.9 0.05,0.72 L0.14,0.32 L0.22,0.18 C0.26,0.08 0.32,0 0.5,0 Z" fill="#c2c2c2" transform="translate(398.80,242.30) scale(8.00,12.67)"/>
<path d="M0.5,0 C0.68,0 0.74,0.08 0.78,0.18 L0.86,0.32 L0.95,0.72 C0.99,0.9 0.82,1 0.5,1 C0.18,1 0.01,0.9 0.05,0.72 L0.14,0.32 L0.22,0.18 C0.26,0.08 0.32,0 0.5,0 Z" fill="#e2e2e2" transform="translate(399.92,243.57) scale(5.76,10.14)"/>
<ellipse cx="402.80" cy="245.09" rx="3.08" ry="2.80" fill="#6a22f2"/>
<ellipse cx="402.80" cy="245.09" rx="1.68" ry="1.54" fill="#3a50ff"/>
<ellipse cx="402.80" cy="252.44" rx="3.30" ry="3.00" fill="#6a22f2"/>
<ellipse cx="402.80" cy="252.44" rx="1.80" ry="1.65" fill="#3a50ff"/>
<circle cx="400.80" cy="253.70" r="1.00" fill="#6a1cf2"/>
<circle cx="400.80" cy="253.70" r="0.72" fill="#2a3cff"/>
<circle cx="400.80" cy="253.70" r="0.45" fill="#20c8e0"/>
<circle cx="400.80" cy="253.70" r="0.36" fill="#f01010"/>
<circle cx="404.80" cy="253.70" r="1.00" fill="#6a1cf2"/>
<circle cx="404.80" cy="253.70" r="0.72" fill="#2a3cff"/>
<circle cx="404.80" cy="253.70" r="0.45" fill="#20c8e0"/>
<circle cx="404.80" cy="253.70" r="0.36" fill="#f01010"/>
<line x1="410.20" y1="253.97" x2="410.20" y2="260.40" stroke="#8a8a8a" stroke-width="0.7"/>
<path d="M0.5,0 C0.68,0 0.74,0.08 0.78,0.18 L0.86,0.32 L0.95,0.72 C0.99,0.9 0.82,1 0.5,1 C0.18,1 0.01,0.9 0.05,0.72 L0.14,0.32 L0.22,0.18 C0.26,0.08 0.32,0 0.5,0 Z" fill="#c2c2c2" transform="translate(406.20,242.30) scale(8.00,12.67)"/>
<path d="M0.5,0 C0.68,0 0.74,0.08 0.78,0.18 L0.86,0.32 L0.95,0.72 C0.99,0.9 0.82,1 0.5,1 C0.18,1 0.01,0.9 0.05,0.72 L0.14,0.32 L0.22,0.18 C0.26,0.08 0.32,0 0.5,0 Z" fill="#e2e2e2" transform="translate(407.32,243.57) scale(5.76,10.14)"/>
<ellipse cx="410.20" cy="245.09" rx="3.08" ry="2.80" fill="#6a22f2"/>
<ellipse cx="410.20" cy="245.09" rx="1.68" ry="1.54" fill="#3a50ff"/>
<ellipse cx="410.20" cy="252.44" rx="3.30" ry="3.00" fill="#6a22f2"/>
<ellipse cx="410.20" cy="252.44" rx="1.80" ry="1.65" fill="#3a50ff"/>
<circle cx="408.20" cy="253.70" r="1.00" fill="#6a1cf2"/>
<circle cx="408.20" cy="253.70" r="0.72" fill="#2a3cff"/>
<circle cx="408.20" cy="253.70" r="0.45" fill="#20c8e0"/>
<circle cx="408.20" cy="253.70" r="0.36" fill="#f01010"/>
<circle cx="412.20" cy="253.70" r="1.00" fill="#6a1cf2"/>
<circle cx="412.20" cy="253.70" r="0.72" fill="#2a3cff"/>
<circle cx="412.20" cy="253.70" r="0.45" fill="#20c8e0"/>
<circle cx="412.20" cy="253.70" r="0.36" fill="#f01010"/>
<line x1="417.60" y1="253.97" x2="417.60" y2="260.40" stroke="#8a8a8a" stroke-width="0.7"/>
<path d="M0.5,0 C0.68,0 0.74,0.08 0.78,0.18 L0.86,0.32 L0.95,0.72 C0.99,0.9 0.82,1 0.5,1 C0.18,1 0.01,0.9 0.05,0.72 L0.14,0.32 L0.22,0.18 C0.26,0.08 0.32,0 0.5,0 Z" fill="#c2c2c2" transform="translate(413.60,242.30) scale(8.00,12.67)"/>
<path d="M0.5,0 C0.68,0 0.74,0.08 0.78,0.18 L0.86,0.32 L0.95,0.72 C0.99,0.9 0.82,1 0.5,1 C0.18,1 0.01,0.9 0.05,0.72 L0.14,0.32 L0.22,0.18 C0.26,0.08 0.32,0 0.5,0 Z" fill="#e2e2e2" transform="translate(414.72,243.57) scale(5.76,10.14)"/>
<ellipse cx="417.60" cy="245.09" rx="3.08" ry="2.80" fill="#6a22f2"/>
<ellipse cx="417.60" cy="245.09" rx="1.68" ry="1.54" fill="#3a50ff"/>
<ellipse cx="417.60" cy="252.44" rx="3.30" ry="3.00" fill="#6a22f2"/>
<ellipse cx="417.60" cy="252.44" rx="1.80" ry="1.65" fill="#3a50ff"/>
<circle cx="415.60" cy="253.70" r="1.00" fill="#6a1cf2"/>
<circle cx="415.60" cy="253.70" r="0.72" fill="#2a3cff"/>
<circle cx="415.60" cy="253.70" r="0.45" fill="#20c8e0"/>
<circle cx="415.60" cy="253.70" r="0.36" fill="#f01010"/>
<circle cx="419.60" cy="253.70" r="1.00" fill="#6a1cf2"/>
<circle cx="419.60" cy="253.70" r="0.72" fill="#2a3cff"/>
<circle cx="419.60" cy="253.70" r="0.45" fill="#20c8e0"/>
<circle cx="419.60" cy="253.70" r="0.36" fill="#f01010"/>
<rect x="424.40" y="241.50" width="22.90" height="19.10" fill="#282828" stroke="none" stroke-width="0.8"/>
<line x1="428.30" y1="253.97" x2="428.30" y2="260.40" stroke="#8a8a8a" stroke-width="0.7"/>
<path d="M0.5,0 C0.68,0 0.74,0.08 0.78,0.18 L0.86,0.32 L0.95,0.72 C0.99,0.9 0.82,1 0.5,1 C0.18,1 0.01,0.9 0.05,0.72 L0.14,0.32 L0.22,0.18 C0.26,0.08 0.32,0 0.5,0 Z" fill="#c2c2c2" transform="translate(424.30,242.30) scale(8.00,12.67)"/>
<path d="M0.5,0 C0.68,0 0.74,0.08 0.78,0.18 L0.86,0.32 L0.95,0.72 C0.99,0.9 0.82,1 0.5,1 C0.18,1 0.01,0.9 0.05,0.72 L0.14,0.32 L0.22,0.18 C0.26,0.08 0.32,0 0.5,0 Z" fill="#e2e2e2" transform="translate(425.42,243.57) scale(5.76,10.14)"/>
<ellipse cx="428.30" cy="245.09" rx="3.08" ry="2.80" fill="#6a22f2"/>
<ellipse cx="428.30" cy="245.09" rx="1.68" ry="1.54" fill="#3a50ff"/>
<ellipse cx="428.30" cy="252.44" rx="3.30" ry="3.00" fill="#6a22f2"/>
<ellipse cx="428.30" cy="252.44" rx="1.80" ry="1.65" fill="#3a50ff"/>
<circle cx="426.30" cy="253.70" r="1.00" fill="#6a1cf2"/>
<circle cx="426.30" cy="253.70" r="0.72" fill="#2a3cff"/>
<circle cx="426.30" cy="253.70" r="0.45" fill="#20c8e0"/>
<circle cx="426.30" cy="253.70" r="0.36" fill="#f01010"/>
<circle cx="430.30" cy="253.70" r="1.00" fill="#6a1cf2"/>
<circle cx="430.30" cy="253.70" r="0.72" fill="#2a3cff"/>
<circle cx="430.30" cy="253.70" r="0.45" fill="#20c8e0"/>
<circle cx="430.30" cy="253.70" r="0.36" fill="#f01010"/>
<line x1="435.70" y1="253.97" x2="435.70" y2="260.40" stroke="#8a8a8a" stroke-width="0.7"/>
<path d="M0.5,0 C0.68,0 0.74,0.08 0.78,0.18 L0.86,0.32 L0.95,0.72 C0.99,0.9 0.82,1 0.5,1 C0.18,1 0.01,0.9 0.05,0.72 L0.14,0.32 L0.22,0.18 C0.26,0.08 0.32,0 0.5,0 Z" fill="#c2c2c2" transform="translate(431.70,242.30) scale(8.00,12.67)"/>
<path d="M0.5,0 C0.68,0 0.74,0.08 0.78,0.18 L0.86,0.32 L0.95,0.72 C0.99,0.9 0.82,1 0.5,1 C0.18,1 0.01,0.9 0.05,0.72 L0.14,0.32 L0.22,0.18 C0.26,0.08 0.32,0 0.5,0 Z" fill="#e2e2e2" transform="translate(432.82,243.57) scale(5.76,10.14)"/>
<ellipse cx="435.70" cy="245.09" rx="3.08" ry="2.80" fill="#6a22f2"/>
<ellipse cx="435.70" cy="245.09" rx="1.68" ry="1.54" fill="#3a50ff"/>
<ellipse cx="435.70" cy="252.44" rx="3.30" ry="3.00" fill="#6a22f2"/>
<ellipse cx="435.70" cy="252.44" rx="1.80" ry="1.65" fill="#3a50ff"/>
<circle cx="433.70" cy="253.70" r="1.00" fill="#6a1cf2"/>
<circle cx="433.70" cy="253.70" r="0.72" fill="#2a3cff"/>
<circle cx="433.70" cy="253.70" r="0.45" fill="#20c8e0"/>
<circle cx="433.70" cy="253.70" r="0.36" fill="#f01010"/>
<circle cx="437.70" cy="253.70" r="1.00" fill="#6a1cf2"/>
<circle cx="437.70" cy="253.70" r="0.72" fill="#2a3cff"/>
<circle cx="437.70" cy="253.70" r="0.45" fill="#20c8e0"/>
<circle cx="437.70" cy="253.70" r="0.36" fill="#f01010"/>
<rect x="398.90" y="261.60" width="24.90" height="20.40" fill="#2a6cf0" stroke="none" stroke-width="0.8"/>
<rect x="402.07" y="271.23" width="1.30" height="1.30" fill="#3a5af2" stroke="none" stroke-width="0.8"/>
<rect x="418.08" y="275.93" width="1.30" height="1.30" fill="#2a80f0" stroke="none" stroke-width="0.8"/>
<rect x="413.41" y="267.96" width="1.30" height="1.30" fill="#30b0e8" stroke="none" stroke-width="0.8"/>
<rect x="409.91" y="276.81" width="1.30" height="1.30" fill="#30c8e0" stroke="none" stroke-width="0.8"/>
<rect x="400.79" y="265.43" width="1.30" height="1.30" fill="#2a80f0" stroke="none" stroke-width="0.8"/>
<rect x="404.81" y="262.86" width="1.30" height="1.30" fill="#3a5af2" stroke="none" stroke-width="0.8"/>
<rect x="410.41" y="272.17" width="1.30" height="1.30" fill="#2a80f0" stroke="none" stroke-width="0.8"/>
<rect x="422.33" y="278.74" width="1.30" height="1.30" fill="#3a5af2" stroke="none" stroke-width="0.8"/>
<rect x="405.23" y="263.23" width="1.30" height="1.30" fill="#3a5af2" stroke="none" stroke-width="0.8"/>
<rect x="408.96" y="280.78" width="1.30" height="1.30" fill="#3a70f0" stroke="none" stroke-width="0.8"/>
<rect x="403.04" y="264.18" width="1.30" height="1.30" fill="#3a70f0" stroke="none" stroke-width="0.8"/>
<rect x="413.73" y="274.68" width="1.30" height="1.30" fill="#30c8e0" stroke="none" stroke-width="0.8"/>
<rect x="419.14" y="274.49" width="1.30" height="1.30" fill="#3a5af2" stroke="none" stroke-width="0.8"/>
<rect x="417.54" y="267.30" width="1.30" height="1.30" fill="#30b0e8" stroke="none" stroke-width="0.8"/>
<rect x="412.45" y="268.84" width="1.30" height="1.30" fill="#30b0e8" stroke="none" stroke-width="0.8"/>
<rect x="403.66" y="266.40" width="1.30" height="1.30" fill="#2a80f0" stroke="none" stroke-width="0.8"/>
<rect x="404.53" y="267.06" width="1.30" height="1.30" fill="#30c8e0" stroke="none" stroke-width="0.8"/>
<rect x="403.40" y="262.86" width="1.30" height="1.30" fill="#30b0e8" stroke="none" stroke-width="0.8"/>
<rect x="422.62" y="271.44" width="1.30" height="1.30" fill="#2a80f0" stroke="none" stroke-width="0.8"/>
<rect x="414.43" y="263.55" width="1.30" height="1.30" fill="#3a70f0" stroke="none" stroke-width="0.8"/>
<rect x="422.58" y="263.59" width="1.30" height="1.30" fill="#3a70f0" stroke="none" stroke-width="0.8"/>
<rect x="420.00" y="266.08" width="1.30" height="1.30" fill="#3a70f0" stroke="none" stroke-width="0.8"/>
<rect x="420.75" y="262.38" width="1.30" height="1.30" fill="#30b0e8" stroke="none" stroke-width="0.8"/>
<rect x="404.47" y="262.58" width="1.30" height="1.30" fill="#30c8e0" stroke="none" stroke-width="0.8"/>
<rect x="422.15" y="272.91" width="1.30" height="1.30" fill="#3a5af2" stroke="none" stroke-width="0.8"/>
<rect x="407.80" y="278.40" width="1.30" height="1.30" fill="#3a70f0" stroke="none" stroke-width="0.8"/>
<rect x="413.31" y="276.63" width="1.30" height="1.30" fill="#3a5af2" stroke="none" stroke-width="0.8"/>
<rect x="401.43" y="273.17" width="1.30" height="1.30" fill="#30c8e0" stroke="none" stroke-width="0.8"/>
<rect x="407.26" y="262.33" width="1.30" height="1.30" fill="#30b0e8" stroke="none" stroke-width="0.8"/>
<rect x="402.28" y="265.56" width="1.30" height="1.30" fill="#30b0e8" stroke="none" stroke-width="0.8"/>
<rect x="399.81" y="275.81" width="1.30" height="1.30" fill="#2a80f0" stroke="none" stroke-width="0.8"/>
<rect x="418.37" y="277.49" width="1.30" height="1.30" fill="#3a70f0" stroke="none" stroke-width="0.8"/>
<rect x="415.11" y="265.19" width="1.30" height="1.30" fill="#30b0e8" stroke="none" stroke-width="0.8"/>
<rect x="400.76" y="262.21" width="1.30" height="1.30" fill="#3a70f0" stroke="none" stroke-width="0.8"/>
<rect x="412.00" y="262.83" width="1.30" height="1.30" fill="#3a5af2" stroke="none" stroke-width="0.8"/>
<rect x="417.92" y="274.48" width="1.30" height="1.30" fill="#2a80f0" stroke="none" stroke-width="0.8"/>
<rect x="414.18" y="263.37" width="1.30" height="1.30" fill="#2a80f0" stroke="none" stroke-width="0.8"/>
<rect x="408.41" y="266.86" width="1.30" height="1.30" fill="#30b0e8" stroke="none" stroke-width="0.8"/>
<rect x="414.86" y="269.71" width="1.30" height="1.30" fill="#3a5af2" stroke="none" stroke-width="0.8"/>
<rect x="406.37" y="272.59" width="1.30" height="1.30" fill="#30b0e8" stroke="none" stroke-width="0.8"/>
<rect x="408.80" y="261.95" width="1.30" height="1.30" fill="#30b0e8" stroke="none" stroke-width="0.8"/>
<rect x="414.30" y="269.18" width="1.30" height="1.30" fill="#3a70f0" stroke="none" stroke-width="0.8"/>
<rect x="403.77" y="261.71" width="1.30" height="1.30" fill="#2a80f0" stroke="none" stroke-width="0.8"/>
<rect x="409.03" y="277.52" width="1.30" height="1.30" fill="#3a70f0" stroke="none" stroke-width="0.8"/>
<rect x="412.71" y="268.68" width="1.30" height="1.30" fill="#2a80f0" stroke="none" stroke-width="0.8"/>
<rect x="402.01" y="262.60" width="1.30" height="1.30" fill="#2a80f0" stroke="none" stroke-width="0.8"/>
<rect x="414.21" y="279.25" width="1.30" height="1.30" fill="#3a5af2" stroke="none" stroke-width="0.8"/>
<rect x="412.59" y="279.59" width="1.30" height="1.30" fill="#30c8e0" stroke="none" stroke-width="0.8"/>
<rect x="403.00" y="268.35" width="1.30" height="1.30" fill="#2a80f0" stroke="none" stroke-width="0.8"/>
<rect x="411.36" y="279.55" width="1.30" height="1.30" fill="#3a5af2" stroke="none" stroke-width="0.8"/>
<rect x="408.07" y="276.22" width="1.30" height="1.30" fill="#2a80f0" stroke="none" stroke-width="0.8"/>
<rect x="406.11" y="277.84" width="1.30" height="1.30" fill="#3a5af2" stroke="none" stroke-width="0.8"/>
<rect x="422.22" y="270.97" width="1.30" height="1.30" fill="#3a5af2" stroke="none" stroke-width="0.8"/>
<rect x="413.42" y="273.95" width="1.30" height="1.30" fill="#3a5af2" stroke="none" stroke-width="0.8"/>
<rect x="420.51" y="273.63" width="1.30" height="1.30" fill="#2a80f0" stroke="none" stroke-width="0.8"/>
<rect x="414.20" y="278.22" width="1.30" height="1.30" fill="#30c8e0" stroke="none" stroke-width="0.8"/>
<rect x="408.57" y="278.02" width="1.30" height="1.30" fill="#3a70f0" stroke="none" stroke-width="0.8"/>
<rect x="403.27" y="265.83" width="1.30" height="1.30" fill="#3a70f0" stroke="none" stroke-width="0.8"/>
<rect x="421.33" y="264.64" width="1.30" height="1.30" fill="#30b0e8" stroke="none" stroke-width="0.8"/>
<rect x="401.84" y="266.39" width="1.30" height="1.30" fill="#2a80f0" stroke="none" stroke-width="0.8"/>
<rect x="399.88" y="272.51" width="1.30" height="1.30" fill="#3a5af2" stroke="none" stroke-width="0.8"/>
<rect x="414.86" y="267.89" width="1.30" height="1.30" fill="#3a70f0" stroke="none" stroke-width="0.8"/>
<rect x="413.23" y="272.27" width="1.30" height="1.30" fill="#30b0e8" stroke="none" stroke-width="0.8"/>
<rect x="414.41" y="267.58" width="1.30" height="1.30" fill="#2a80f0" stroke="none" stroke-width="0.8"/>
<rect x="409.08" y="274.38" width="1.30" height="1.30" fill="#3a70f0" stroke="none" stroke-width="0.8"/>
<rect x="410.94" y="265.07" width="1.30" height="1.30" fill="#3a5af2" stroke="none" stroke-width="0.8"/>
<rect x="413.69" y="271.10" width="1.30" height="1.30" fill="#2a80f0" stroke="none" stroke-width="0.8"/>
<rect x="409.58" y="273.60" width="1.30" height="1.30" fill="#3a70f0" stroke="none" stroke-width="0.8"/>
<rect x="418.89" y="277.32" width="1.30" height="1.30" fill="#3a70f0" stroke="none" stroke-width="0.8"/>
<rect x="401.46" y="264.09" width="1.30" height="1.30" fill="#3a70f0" stroke="none" stroke-width="0.8"/>
<rect x="407.63" y="277.16" width="1.30" height="1.30" fill="#30c8e0" stroke="none" stroke-width="0.8"/>
<rect x="411.09" y="262.39" width="1.30" height="1.30" fill="#2a80f0" stroke="none" stroke-width="0.8"/>
<line x1="402.80" y1="277.92" x2="402.80" y2="281.80" stroke="#20b8d0" stroke-width="0.9"/>
<path d="M0.5,0 C0.68,0 0.74,0.08 0.78,0.18 L0.86,0.32 L0.95,0.72 C0.99,0.9 0.82,1 0.5,1 C0.18,1 0.01,0.9 0.05,0.72 L0.14,0.32 L0.22,0.18 C0.26,0.08 0.32,0 0.5,0 Z" fill="#30c8e0" transform="translate(397.40,262.00) scale(10.80,16.72)"/>
<path d="M0.5,0 C0.68,0 0.74,0.08 0.78,0.18 L0.86,0.32 L0.95,0.72 C0.99,0.9 0.82,1 0.5,1 C0.18,1 0.01,0.9 0.05,0.72 L0.14,0.32 L0.22,0.18 C0.26,0.08 0.32,0 0.5,0 Z" fill="#c8e830" transform="translate(397.85,262.30) scale(9.90,16.02)"/>
<path d="M0.5,0 C0.68,0 0.74,0.08 0.78,0.18 L0.86,0.32 L0.95,0.72 C0.99,0.9 0.82,1 0.5,1 C0.18,1 0.01,0.9 0.05,0.72 L0.14,0.32 L0.22,0.18 C0.26,0.08 0.32,0 0.5,0 Z" fill="#f51010" transform="translate(398.30,262.60) scale(9.00,15.52)"/>
<line x1="410.20" y1="277.92" x2="410.20" y2="281.80" stroke="#20b8d0" stroke-width="0.9"/>
<path d="M0.5,0 C0.68,0 0.74,0.08 0.78,0.18 L0.86,0.32 L0.95,0.72 C0.99,0.9 0.82,1 0.5,1 C0.18,1 0.01,0.9 0.05,0.72 L0.14,0.32 L0.22,0.18 C0.26,0.08 0.32,0 0.5,0 Z" fill="#30c8e0" transform="translate(404.80,262.00) scale(10.80,16.72)"/>
<path d="M0.5,0 C0.68,0 0.74,0.08 0.78,0.18 L0.86,0.32 L0.95,0.72 C0.99,0.9 0.82,1 0.5,1 C0.18,1 0.01,0.9 0.05,0.72 L0.14,0.32 L0.22,0.18 C0.26,0.08 0.32,0 0.5,0 Z" fill="#c8e830" transform="translate(405.25,262.30) scale(9.90,16.02)"/>
<path d="M0.5,0 C0.68,0 0.74,0.08 0.78,0.18 L0.86,0.32 L0.95,0.72 C0.99,0.9 0.82,1 0.5,1 C0.18,1 0.01,0.9 0.05,0.72 L0.14,0.32 L0.22,0.18 C0.26,0.08 0.32,0 0.5,0 Z" fill="#f51010" transform="translate(405.70,262.60) scale(9.00,15.52)"/>
<line x1="417.60" y1="277.92" x2="417.60" y2="281.80" stroke="#20b8d0" stroke-width="0.9"/>
<path d="M0.5,0 C0.68,0 0.74,0.08 0.78,0.18 L0.86,0.32 L0.95,0.72 C0.99,0.9 0.82,1 0.5,1 C0.18,1 0.01,0.9 0.05,0.72 L0.14,0.32 L0.22,0.18 C0.26,0.08 0.32,0 0.5,0 Z" fill="#30c8e0" transform="translate(412.20,262.00) scale(10.80,16.72)"/>
<path d="M0.5,0 C0.68,0 0.74,0.08 0.78,0.18 L0.86,0.32 L0.95,0.72 C0.99,0.9 0.82,1 0.5,1 C0.18,1 0.01,0.9 0.05,0.72 L0.14,0.32 L0.22,0.18 C0.26,0.08 0.32,0 0.5,0 Z" fill="#c8e830" transform="translate(412.65,262.30) scale(9.90,16.02)"/>
<path d="M0.5,0 C0.68,0 0.74,0.08 0.78,0.18 L0.86,0.32 L0.95,0.72 C0.99,0.9 0.82,1 0.5,1 C0.18,1 0.01,0.9 0.05,0.72 L0.14,0.32 L0.22,0.18 C0.26,0.08 0.32,0 0.5,0 Z" fill="#f51010" transform="translate(413.10,262.60) scale(9.00,15.52)"/>
<rect x="424.40" y="261.60" width="22.90" height="20.40" fill="#2a6cf0" stroke="none" stroke-width="0.8"/>
<rect x="426.20" y="275.83" width="1.30" height="1.30" fill="#30c8e0" stroke="none" stroke-width="0.8"/>
<rect x="426.15" y="276.19" width="1.30" height="1.30" fill="#3a70f0" stroke="none" stroke-width="0.8"/>
<rect x="438.70" y="276.81" width="1.30" height="1.30" fill="#3a5af2" stroke="none" stroke-width="0.8"/>
<rect x="443.17" y="280.92" width="1.30" height="1.30" fill="#3a5af2" stroke="none" stroke-width="0.8"/>
<rect x="428.64" y="280.65" width="1.30" height="1.30" fill="#3a70f0" stroke="none" stroke-width="0.8"/>
<rect x="430.70" y="277.33" width="1.30" height="1.30" fill="#2a80f0" stroke="none" stroke-width="0.8"/>
<rect x="439.43" y="275.59" width="1.30" height="1.30" fill="#2a80f0" stroke="none" stroke-width="0.8"/>
<rect x="425.83" y="268.41" width="1.30" height="1.30" fill="#30b0e8" stroke="none" stroke-width="0.8"/>
<rect x="427.88" y="278.99" width="1.30" height="1.30" fill="#30b0e8" stroke="none" stroke-width="0.8"/>
<rect x="444.22" y="270.45" width="1.30" height="1.30" fill="#30b0e8" stroke="none" stroke-width="0.8"/>
<rect x="435.40" y="279.45" width="1.30" height="1.30" fill="#2a80f0" stroke="none" stroke-width="0.8"/>
<rect x="437.36" y="273.55" width="1.30" height="1.30" fill="#2a80f0" stroke="none" stroke-width="0.8"/>
<rect x="431.39" y="262.31" width="1.30" height="1.30" fill="#2a80f0" stroke="none" stroke-width="0.8"/>
<rect x="433.24" y="273.95" width="1.30" height="1.30" fill="#30b0e8" stroke="none" stroke-width="0.8"/>
<rect x="439.28" y="278.97" width="1.30" height="1.30" fill="#2a80f0" stroke="none" stroke-width="0.8"/>
<rect x="441.75" y="266.73" width="1.30" height="1.30" fill="#30c8e0" stroke="none" stroke-width="0.8"/>
<rect x="425.46" y="278.25" width="1.30" height="1.30" fill="#3a70f0" stroke="none" stroke-width="0.8"/>
<rect x="436.56" y="272.85" width="1.30" height="1.30" fill="#3a5af2" stroke="none" stroke-width="0.8"/>
<rect x="429.92" y="271.99" width="1.30" height="1.30" fill="#3a70f0" stroke="none" stroke-width="0.8"/>
<rect x="440.56" y="268.81" width="1.30" height="1.30" fill="#3a70f0" stroke="none" stroke-width="0.8"/>
<rect x="446.09" y="272.80" width="1.30" height="1.30" fill="#30b0e8" stroke="none" stroke-width="0.8"/>
<rect x="431.65" y="263.18" width="1.30" height="1.30" fill="#2a80f0" stroke="none" stroke-width="0.8"/>
<rect x="428.27" y="276.03" width="1.30" height="1.30" fill="#3a5af2" stroke="none" stroke-width="0.8"/>
<rect x="430.89" y="271.61" width="1.30" height="1.30" fill="#30b0e8" stroke="none" stroke-width="0.8"/>
<rect x="438.40" y="280.69" width="1.30" height="1.30" fill="#30c8e0" stroke="none" stroke-width="0.8"/>
<rect x="444.73" y="278.98" width="1.30" height="1.30" fill="#3a5af2" stroke="none" stroke-width="0.8"/>
<rect x="440.76" y="265.90" width="1.30" height="1.30" fill="#30b0e8" stroke="none" stroke-width="0.8"/>
<rect x="437.89" y="269.99" width="1.30" height="1.30" fill="#30c8e0" stroke="none" stroke-width="0.8"/>
<rect x="432.37" y="262.53" width="1.30" height="1.30" fill="#3a70f0" stroke="none" stroke-width="0.8"/>
<rect x="429.38" y="274.27" width="1.30" height="1.30" fill="#3a5af2" stroke="none" stroke-width="0.8"/>
<rect x="425.59" y="272.60" width="1.30" height="1.30" fill="#30b0e8" stroke="none" stroke-width="0.8"/>
<rect x="426.73" y="268.53" width="1.30" height="1.30" fill="#2a80f0" stroke="none" stroke-width="0.8"/>
<rect x="433.45" y="267.44" width="1.30" height="1.30" fill="#2a80f0" stroke="none" stroke-width="0.8"/>
<rect x="428.87" y="273.70" width="1.30" height="1.30" fill="#3a70f0" stroke="none" stroke-width="0.8"/>
<rect x="427.87" y="261.87" width="1.30" height="1.30" fill="#2a80f0" stroke="none" stroke-width="0.8"/>
<rect x="439.89" y="270.35" width="1.30" height="1.30" fill="#3a5af2" stroke="none" stroke-width="0.8"/>
<rect x="438.38" y="278.50" width="1.30" height="1.30" fill="#30b0e8" stroke="none" stroke-width="0.8"/>
<rect x="433.20" y="266.73" width="1.30" height="1.30" fill="#3a5af2" stroke="none" stroke-width="0.8"/>
<rect x="425.63" y="277.53" width="1.30" height="1.30" fill="#30b0e8" stroke="none" stroke-width="0.8"/>
<rect x="437.42" y="272.82" width="1.30" height="1.30" fill="#30c8e0" stroke="none" stroke-width="0.8"/>
<rect x="444.92" y="275.83" width="1.30" height="1.30" fill="#2a80f0" stroke="none" stroke-width="0.8"/>
<rect x="428.02" y="261.61" width="1.30" height="1.30" fill="#3a5af2" stroke="none" stroke-width="0.8"/>
<rect x="436.04" y="269.48" width="1.30" height="1.30" fill="#2a80f0" stroke="none" stroke-width="0.8"/>
<rect x="427.89" y="279.29" width="1.30" height="1.30" fill="#3a5af2" stroke="none" stroke-width="0.8"/>
<rect x="424.67" y="272.29" width="1.30" height="1.30" fill="#2a80f0" stroke="none" stroke-width="0.8"/>
<rect x="427.52" y="265.47" width="1.30" height="1.30" fill="#30c8e0" stroke="none" stroke-width="0.8"/>
<rect x="438.47" y="274.16" width="1.30" height="1.30" fill="#3a70f0" stroke="none" stroke-width="0.8"/>
<rect x="442.21" y="264.99" width="1.30" height="1.30" fill="#30b0e8" stroke="none" stroke-width="0.8"/>
<rect x="425.80" y="273.74" width="1.30" height="1.30" fill="#3a70f0" stroke="none" stroke-width="0.8"/>
<rect x="440.07" y="261.72" width="1.30" height="1.30" fill="#3a70f0" stroke="none" stroke-width="0.8"/>
<rect x="440.72" y="270.63" width="1.30" height="1.30" fill="#3a70f0" stroke="none" stroke-width="0.8"/>
<rect x="428.24" y="280.93" width="1.30" height="1.30" fill="#30b0e8" stroke="none" stroke-width="0.8"/>
<rect x="429.49" y="262.35" width="1.30" height="1.30" fill="#30b0e8" stroke="none" stroke-width="0.8"/>
<rect x="443.92" y="279.55" width="1.30" height="1.30" fill="#30b0e8" stroke="none" stroke-width="0.8"/>
<rect x="439.99" y="266.76" width="1.30" height="1.30" fill="#30c8e0" stroke="none" stroke-width="0.8"/>
<rect x="439.28" y="274.90" width="1.30" height="1.30" fill="#30c8e0" stroke="none" stroke-width="0.8"/>
<rect x="445.68" y="267.33" width="1.30" height="1.30" fill="#2a80f0" stroke="none" stroke-width="0.8"/>
<rect x="426.27" y="271.44" width="1.30" height="1.30" fill="#2a80f0" stroke="none" stroke-width="0.8"/>
<rect x="430.10" y="266.18" width="1.30" height="1.30" fill="#2a80f0" stroke="none" stroke-width="0.8"/>
<rect x="445.09" y="276.08" width="1.30" height="1.30" fill="#30b0e8" stroke="none" stroke-width="0.8"/>
<rect x="428.60" y="269.14" width="1.30" height="1.30" fill="#30c8e0" stroke="none" stroke-width="0.8"/>
<rect x="429.64" y="279.21" width="1.30" height="1.30" fill="#30c8e0" stroke="none" stroke-width="0.8"/>
<rect x="434.68" y="277.89" width="1.30" height="1.30" fill="#3a5af2" stroke="none" stroke-width="0.8"/>
<rect x="443.18" y="270.08" width="1.30" height="1.30" fill="#2a80f0" stroke="none" stroke-width="0.8"/>
<rect x="436.89" y="267.57" width="1.30" height="1.30" fill="#2a80f0" stroke="none" stroke-width="0.8"/>
<rect x="432.98" y="272.96" width="1.30" height="1.30" fill="#30c8e0" stroke="none" stroke-width="0.8"/>
<line x1="428.30" y1="277.92" x2="428.30" y2="281.80" stroke="#20b8d0" stroke-width="0.9"/>
<path d="M0.5,0 C0.68,0 0.74,0.08 0.78,0.18 L0.86,0.32 L0.95,0.72 C0.99,0.9 0.82,1 0.5,1 C0.18,1 0.01,0.9 0.05,0.72 L0.14,0.32 L0.22,0.18 C0.26,0.08 0.32,0 0.5,0 Z" fill="#30c8e0" transform="translate(422.90,262.00) scale(10.80,16.72)"/>
<path d="M0.5,0 C0.68,0 0.74,0.08 0.78,0.18 L0.86,0.32 L0.95,0.72 C0.99,0.9 0.82,1 0.5,1 C0.18,1 0.01,0.9 0.05,0.72 L0.14,0.32 L0.22,0.18 C0.26,0.08 0.32,0 0.5,0 Z" fill="#c8e830" transform="translate(423.35,262.30) scale(9.90,16.02)"/>
<path d="M0.5,0 C0.68,0 0.74,0.08 0.78,0.18 L0.86,0.32 L0.95,0.72 C0.99,0.9 0.82,1 0.5,1 C0.18,1 0.01,0.9 0.05,0.72 L0.14,0.32 L0.22,0.18 C0.26,0.08 0.32,0 0.5,0 Z" fill="#f51010" transform="translate(423.80,262.60) scale(9.00,15.52)"/>
<line x1="435.70" y1="277.92" x2="435.70" y2="281.80" stroke="#20b8d0" stroke-width="0.9"/>
<path d="M0.5,0 C0.68,0 0.74,0.08 0.78,0.18 L0.86,0.32 L0.95,0.72 C0.99,0.9 0.82,1 0.5,1 C0.18,1 0.01,0.9 0.05,0.72 L0.14,0.32 L0.22,0.18 C0.26,0.08 0.32,0 0.5,0 Z" fill="#30c8e0" transform="translate(430.30,262.00) scale(10.80,16.72)"/>
<path d="M0.5,0 C0.68,0 0.74,0.08 0.78,0.18 L0.86,0.32 L0.95,0.72 C0.99,0.9 0.82,1 0.5,1 C0.18,1 0.01,0.9 0.05,0.72 L0.14,0.32 L0.22,0.18 C0.26,0.08 0.32,0 0.5,0 Z" fill="#c8e830" transform="translate(430.75,262.30) scale(9.90,16.02)"/>
<path d="M0.5,0 C0.68,0 0.74,0.08 0.78,0.18 L0.86,0.32 L0.95,0.72 C0.99,0.9 0.82,1 0.5,1 C0.18,1 0.01,0.9 0.05,0.72 L0.14,0.32 L0.22,0.18 C0.26,0.08 0.32,0 0.5,0 Z" fill="#f51010" transform="translate(431.20,262.60) scale(9.00,15.52)"/>
<rect x="447.80" y="220.80" width="47.70" height="20.00" fill="#282828" stroke="none" stroke-width="0.8"/>
<line x1="452.00" y1="233.90" x2="452.00" y2="240.60" stroke="#8a8a8a" stroke-width="0.7"/>
<path d="M0.5,0 C0.68,0 0.74,0.08 0.78,0.18 L0.86,0.32 L0.95,0.72 C0.99,0.9 0.82,1 0.5,1 C0.18,1 0.01,0.9 0.05,0.72 L0.14,0.32 L0.22,0.18 C0.26,0.08 0.32,0 0.5,0 Z" fill="#c2c2c2" transform="translate(448.20,221.60) scale(7.60,13.30)"/>
<path d="M0.5,0 C0.68,0 0.74,0.08 0.78,0.18 L0.86,0.32 L0.95,0.72 C0.99,0.9 0.82,1 0.5,1 C0.18,1 0.01,0.9 0.05,0.72 L0.14,0.32 L0.22,0.18 C0.26,0.08 0.32,0 0.5,0 Z" fill="#e2e2e2" transform="translate(449.26,222.93) scale(5.47,10.64)"/>
<ellipse cx="452.00" cy="234.63" rx="1.21" ry="1.10" fill="#7a1ef0" opacity="0.9"/>
<line x1="460.90" y1="233.90" x2="460.90" y2="240.60" stroke="#8a8a8a" stroke-width="0.7"/>
<path d="M0.5,0 C0.68,0 0.74,0.08 0.78,0.18 L0.86,0.32 L0.95,0.72 C0.99,0.9 0.82,1 0.5,1 C0.18,1 0.01,0.9 0.05,0.72 L0.14,0.32 L0.22,0.18 C0.26,0.08 0.32,0 0.5,0 Z" fill="#c2c2c2" transform="translate(457.10,221.60) scale(7.60,13.30)"/>
<path d="M0.5,0 C0.68,0 0.74,0.08 0.78,0.18 L0.86,0.32 L0.95,0.72 C0.99,0.9 0.82,1 0.5,1 C0.18,1 0.01,0.9 0.05,0.72 L0.14,0.32 L0.22,0.18 C0.26,0.08 0.32,0 0.5,0 Z" fill="#e2e2e2" transform="translate(458.16,222.93) scale(5.47,10.64)"/>
<ellipse cx="460.90" cy="234.63" rx="1.21" ry="1.10" fill="#7a1ef0" opacity="0.9"/>
<line x1="468.60" y1="233.90" x2="468.60" y2="240.60" stroke="#8a8a8a" stroke-width="0.7"/>
<path d="M0.5,0 C0.68,0 0.74,0.08 0.78,0.18 L0.86,0.32 L0.95,0.72 C0.99,0.9 0.82,1 0.5,1 C0.18,1 0.01,0.9 0.05,0.72 L0.14,0.32 L0.22,0.18 C0.26,0.08 0.32,0 0.5,0 Z" fill="#c2c2c2" transform="translate(464.80,221.60) scale(7.60,13.30)"/>
<path d="M0.5,0 C0.68,0 0.74,0.08 0.78,0.18 L0.86,0.32 L0.95,0.72 C0.99,0.9 0.82,1 0.5,1 C0.18,1 0.01,0.9 0.05,0.72 L0.14,0.32 L0.22,0.18 C0.26,0.08 0.32,0 0.5,0 Z" fill="#e2e2e2" transform="translate(465.86,222.93) scale(5.47,10.64)"/>
<ellipse cx="468.60" cy="234.63" rx="1.21" ry="1.10" fill="#7a1ef0" opacity="0.9"/>
<line x1="476.10" y1="233.90" x2="476.10" y2="240.60" stroke="#8a8a8a" stroke-width="0.7"/>
<path d="M0.5,0 C0.68,0 0.74,0.08 0.78,0.18 L0.86,0.32 L0.95,0.72 C0.99,0.9 0.82,1 0.5,1 C0.18,1 0.01,0.9 0.05,0.72 L0.14,0.32 L0.22,0.18 C0.26,0.08 0.32,0 0.5,0 Z" fill="#c2c2c2" transform="translate(472.30,221.60) scale(7.60,13.30)"/>
<path d="M0.5,0 C0.68,0 0.74,0.08 0.78,0.18 L0.86,0.32 L0.95,0.72 C0.99,0.9 0.82,1 0.5,1 C0.18,1 0.01,0.9 0.05,0.72 L0.14,0.32 L0.22,0.18 C0.26,0.08 0.32,0 0.5,0 Z" fill="#e2e2e2" transform="translate(473.36,222.93) scale(5.47,10.64)"/>
<ellipse cx="476.10" cy="234.63" rx="1.21" ry="1.10" fill="#7a1ef0" opacity="0.9"/>
<line x1="485.80" y1="233.90" x2="485.80" y2="240.60" stroke="#8a8a8a" stroke-width="0.7"/>
<path d="M0.5,0 C0.68,0 0.74,0.08 0.78,0.18 L0.86,0.32 L0.95,0.72 C0.99,0.9 0.82,1 0.5,1 C0.18,1 0.01,0.9 0.05,0.72 L0.14,0.32 L0.22,0.18 C0.26,0.08 0.32,0 0.5,0 Z" fill="#c2c2c2" transform="translate(482.00,221.60) scale(7.60,13.30)"/>
<path d="M0.5,0 C0.68,0 0.74,0.08 0.78,0.18 L0.86,0.32 L0.95,0.72 C0.99,0.9 0.82,1 0.5,1 C0.18,1 0.01,0.9 0.05,0.72 L0.14,0.32 L0.22,0.18 C0.26,0.08 0.32,0 0.5,0 Z" fill="#e2e2e2" transform="translate(483.06,222.93) scale(5.47,10.64)"/>
<ellipse cx="485.80" cy="234.63" rx="1.21" ry="1.10" fill="#7a1ef0" opacity="0.9"/>
<rect x="447.80" y="241.50" width="24.60" height="19.10" fill="#282828" stroke="none" stroke-width="0.8"/>
<line x1="451.70" y1="253.97" x2="451.70" y2="260.40" stroke="#8a8a8a" stroke-width="0.7"/>
<path d="M0.5,0 C0.68,0 0.74,0.08 0.78,0.18 L0.86,0.32 L0.95,0.72 C0.99,0.9 0.82,1 0.5,1 C0.18,1 0.01,0.9 0.05,0.72 L0.14,0.32 L0.22,0.18 C0.26,0.08 0.32,0 0.5,0 Z" fill="#c2c2c2" transform="translate(447.70,242.30) scale(8.00,12.67)"/>
<path d="M0.5,0 C0.68,0 0.74,0.08 0.78,0.18 L0.86,0.32 L0.95,0.72 C0.99,0.9 0.82,1 0.5,1 C0.18,1 0.01,0.9 0.05,0.72 L0.14,0.32 L0.22,0.18 C0.26,0.08 0.32,0 0.5,0 Z" fill="#e2e2e2" transform="translate(448.82,243.57) scale(5.76,10.14)"/>
<ellipse cx="451.70" cy="245.09" rx="3.08" ry="2.80" fill="#6a22f2"/>
<ellipse cx="451.70" cy="245.09" rx="1.68" ry="1.54" fill="#3a50ff"/>
<ellipse cx="451.70" cy="252.44" rx="3.30" ry="3.00" fill="#6a22f2"/>
<ellipse cx="451.70" cy="252.44" rx="1.80" ry="1.65" fill="#3a50ff"/>
<circle cx="449.70" cy="253.70" r="1.00" fill="#6a1cf2"/>
<circle cx="449.70" cy="253.70" r="0.72" fill="#2a3cff"/>
<circle cx="449.70" cy="253.70" r="0.45" fill="#20c8e0"/>
<circle cx="449.70" cy="253.70" r="0.36" fill="#f01010"/>
<circle cx="453.70" cy="253.70" r="1.00" fill="#6a1cf2"/>
<circle cx="453.70" cy="253.70" r="0.72" fill="#2a3cff"/>
<circle cx="453.70" cy="253.70" r="0.45" fill="#20c8e0"/>
<circle cx="453.70" cy="253.70" r="0.36" fill="#f01010"/>
<line x1="459.10" y1="253.97" x2="459.10" y2="260.40" stroke="#8a8a8a" stroke-width="0.7"/>
<path d="M0.5,0 C0.68,0 0.74,0.08 0.78,0.18 L0.86,0.32 L0.95,0.72 C0.99,0.9 0.82,1 0.5,1 C0.18,1 0.01,0.9 0.05,0.72 L0.14,0.32 L0.22,0.18 C0.26,0.08 0.32,0 0.5,0 Z" fill="#c2c2c2" transform="translate(455.10,242.30) scale(8.00,12.67)"/>
<path d="M0.5,0 C0.68,0 0.74,0.08 0.78,0.18 L0.86,0.32 L0.95,0.72 C0.99,0.9 0.82,1 0.5,1 C0.18,1 0.01,0.9 0.05,0.72 L0.14,0.32 L0.22,0.18 C0.26,0.08 0.32,0 0.5,0 Z" fill="#e2e2e2" transform="translate(456.22,243.57) scale(5.76,10.14)"/>
<ellipse cx="459.10" cy="245.09" rx="3.08" ry="2.80" fill="#6a22f2"/>
<ellipse cx="459.10" cy="245.09" rx="1.68" ry="1.54" fill="#3a50ff"/>
<ellipse cx="459.10" cy="252.44" rx="3.30" ry="3.00" fill="#6a22f2"/>
<ellipse cx="459.10" cy="252.44" rx="1.80" ry="1.65" fill="#3a50ff"/>
<circle cx="457.10" cy="253.70" r="1.00" fill="#6a1cf2"/>
<circle cx="457.10" cy="253.70" r="0.72" fill="#2a3cff"/>
<circle cx="457.10" cy="253.70" r="0.45" fill="#20c8e0"/>
<circle cx="457.10" cy="253.70" r="0.36" fill="#f01010"/>
<circle cx="461.10" cy="253.70" r="1.00" fill="#6a1cf2"/>
<circle cx="461.10" cy="253.70" r="0.72" fill="#2a3cff"/>
<circle cx="461.10" cy="253.70" r="0.45" fill="#20c8e0"/>
<circle cx="461.10" cy="253.70" r="0.36" fill="#f01010"/>
<line x1="466.50" y1="253.97" x2="466.50" y2="260.40" stroke="#8a8a8a" stroke-width="0.7"/>
<path d="M0.5,0 C0.68,0 0.74,0.08 0.78,0.18 L0.86,0.32 L0.95,0.72 C0.99,0.9 0.82,1 0.5,1 C0.18,1 0.01,0.9 0.05,0.72 L0.14,0.32 L0.22,0.18 C0.26,0.08 0.32,0 0.5,0 Z" fill="#c2c2c2" transform="translate(462.50,242.30) scale(8.00,12.67)"/>
<path d="M0.5,0 C0.68,0 0.74,0.08 0.78,0.18 L0.86,0.32 L0.95,0.72 C0.99,0.9 0.82,1 0.5,1 C0.18,1 0.01,0.9 0.05,0.72 L0.14,0.32 L0.22,0.18 C0.26,0.08 0.32,0 0.5,0 Z" fill="#e2e2e2" transform="translate(463.62,243.57) scale(5.76,10.14)"/>
<ellipse cx="466.50" cy="245.09" rx="3.08" ry="2.80" fill="#6a22f2"/>
<ellipse cx="466.50" cy="245.09" rx="1.68" ry="1.54" fill="#3a50ff"/>
<ellipse cx="466.50" cy="252.44" rx="3.30" ry="3.00" fill="#6a22f2"/>
<ellipse cx="466.50" cy="252.44" rx="1.80" ry="1.65" fill="#3a50ff"/>
<circle cx="464.50" cy="253.70" r="1.00" fill="#6a1cf2"/>
<circle cx="464.50" cy="253.70" r="0.72" fill="#2a3cff"/>
<circle cx="464.50" cy="253.70" r="0.45" fill="#20c8e0"/>
<circle cx="464.50" cy="253.70" r="0.36" fill="#f01010"/>
<circle cx="468.50" cy="253.70" r="1.00" fill="#6a1cf2"/>
<circle cx="468.50" cy="253.70" r="0.72" fill="#2a3cff"/>
<circle cx="468.50" cy="253.70" r="0.45" fill="#20c8e0"/>
<circle cx="468.50" cy="253.70" r="0.36" fill="#f01010"/>
<rect x="473.00" y="241.50" width="22.50" height="19.10" fill="#282828" stroke="none" stroke-width="0.8"/>
<line x1="476.90" y1="253.97" x2="476.90" y2="260.40" stroke="#8a8a8a" stroke-width="0.7"/>
<path d="M0.5,0 C0.68,0 0.74,0.08 0.78,0.18 L0.86,0.32 L0.95,0.72 C0.99,0.9 0.82,1 0.5,1 C0.18,1 0.01,0.9 0.05,0.72 L0.14,0.32 L0.22,0.18 C0.26,0.08 0.32,0 0.5,0 Z" fill="#c2c2c2" transform="translate(472.90,242.30) scale(8.00,12.67)"/>
<path d="M0.5,0 C0.68,0 0.74,0.08 0.78,0.18 L0.86,0.32 L0.95,0.72 C0.99,0.9 0.82,1 0.5,1 C0.18,1 0.01,0.9 0.05,0.72 L0.14,0.32 L0.22,0.18 C0.26,0.08 0.32,0 0.5,0 Z" fill="#e2e2e2" transform="translate(474.02,243.57) scale(5.76,10.14)"/>
<ellipse cx="476.90" cy="245.09" rx="3.08" ry="2.80" fill="#6a22f2"/>
<ellipse cx="476.90" cy="245.09" rx="1.68" ry="1.54" fill="#3a50ff"/>
<ellipse cx="476.90" cy="252.44" rx="3.30" ry="3.00" fill="#6a22f2"/>
<ellipse cx="476.90" cy="252.44" rx="1.80" ry="1.65" fill="#3a50ff"/>
<circle cx="474.90" cy="253.70" r="1.00" fill="#6a1cf2"/>
<circle cx="474.90" cy="253.70" r="0.72" fill="#2a3cff"/>
<circle cx="474.90" cy="253.70" r="0.45" fill="#20c8e0"/>
<circle cx="474.90" cy="253.70" r="0.36" fill="#f01010"/>
<circle cx="478.90" cy="253.70" r="1.00" fill="#6a1cf2"/>
<circle cx="478.90" cy="253.70" r="0.72" fill="#2a3cff"/>
<circle cx="478.90" cy="253.70" r="0.45" fill="#20c8e0"/>
<circle cx="478.90" cy="253.70" r="0.36" fill="#f01010"/>
<line x1="484.30" y1="253.97" x2="484.30" y2="260.40" stroke="#8a8a8a" stroke-width="0.7"/>
<path d="M0.5,0 C0.68,0 0.74,0.08 0.78,0.18 L0.86,0.32 L0.95,0.72 C0.99,0.9 0.82,1 0.5,1 C0.18,1 0.01,0.9 0.05,0.72 L0.14,0.32 L0.22,0.18 C0.26,0.08 0.32,0 0.5,0 Z" fill="#c2c2c2" transform="translate(480.30,242.30) scale(8.00,12.67)"/>
<path d="M0.5,0 C0.68,0 0.74,0.08 0.78,0.18 L0.86,0.32 L0.95,0.72 C0.99,0.9 0.82,1 0.5,1 C0.18,1 0.01,0.9 0.05,0.72 L0.14,0.32 L0.22,0.18 C0.26,0.08 0.32,0 0.5,0 Z" fill="#e2e2e2" transform="translate(481.42,243.57) scale(5.76,10.14)"/>
<ellipse cx="484.30" cy="245.09" rx="3.08" ry="2.80" fill="#6a22f2"/>
<ellipse cx="484.30" cy="245.09" rx="1.68" ry="1.54" fill="#3a50ff"/>
<ellipse cx="484.30" cy="252.44" rx="3.30" ry="3.00" fill="#6a22f2"/>
<ellipse cx="484.30" cy="252.44" rx="1.80" ry="1.65" fill="#3a50ff"/>
<circle cx="482.30" cy="253.70" r="1.00" fill="#6a1cf2"/>
<circle cx="482.30" cy="253.70" r="0.72" fill="#2a3cff"/>
<circle cx="482.30" cy="253.70" r="0.45" fill="#20c8e0"/>
<circle cx="482.30" cy="253.70" r="0.36" fill="#f01010"/>
<circle cx="486.30" cy="253.70" r="1.00" fill="#6a1cf2"/>
<circle cx="486.30" cy="253.70" r="0.72" fill="#2a3cff"/>
<circle cx="486.30" cy="253.70" r="0.45" fill="#20c8e0"/>
<circle cx="486.30" cy="253.70" r="0.36" fill="#f01010"/>
<rect x="447.80" y="261.60" width="24.60" height="20.40" fill="#2a6cf0" stroke="none" stroke-width="0.8"/>
<rect x="469.29" y="264.41" width="1.30" height="1.30" fill="#3a5af2" stroke="none" stroke-width="0.8"/>
<rect x="450.44" y="273.67" width="1.30" height="1.30" fill="#2a80f0" stroke="none" stroke-width="0.8"/>
<rect x="455.94" y="264.35" width="1.30" height="1.30" fill="#3a5af2" stroke="none" stroke-width="0.8"/>
<rect x="448.53" y="264.29" width="1.30" height="1.30" fill="#3a5af2" stroke="none" stroke-width="0.8"/>
<rect x="464.25" y="275.89" width="1.30" height="1.30" fill="#3a5af2" stroke="none" stroke-width="0.8"/>
<rect x="468.01" y="276.38" width="1.30" height="1.30" fill="#2a80f0" stroke="none" stroke-width="0.8"/>
<rect x="467.09" y="277.50" width="1.30" height="1.30" fill="#3a5af2" stroke="none" stroke-width="0.8"/>
<rect x="468.56" y="276.26" width="1.30" height="1.30" fill="#3a70f0" stroke="none" stroke-width="0.8"/>
<rect x="450.33" y="265.59" width="1.30" height="1.30" fill="#3a5af2" stroke="none" stroke-width="0.8"/>
<rect x="448.60" y="280.02" width="1.30" height="1.30" fill="#3a5af2" stroke="none" stroke-width="0.8"/>
<rect x="467.27" y="273.85" width="1.30" height="1.30" fill="#30b0e8" stroke="none" stroke-width="0.8"/>
<rect x="459.06" y="264.17" width="1.30" height="1.30" fill="#2a80f0" stroke="none" stroke-width="0.8"/>
<rect x="454.75" y="268.13" width="1.30" height="1.30" fill="#30b0e8" stroke="none" stroke-width="0.8"/>
<rect x="448.29" y="266.58" width="1.30" height="1.30" fill="#30b0e8" stroke="none" stroke-width="0.8"/>
<rect x="448.94" y="276.34" width="1.30" height="1.30" fill="#30b0e8" stroke="none" stroke-width="0.8"/>
<rect x="465.95" y="273.28" width="1.30" height="1.30" fill="#3a70f0" stroke="none" stroke-width="0.8"/>
<rect x="467.89" y="273.59" width="1.30" height="1.30" fill="#3a5af2" stroke="none" stroke-width="0.8"/>
<rect x="466.42" y="262.21" width="1.30" height="1.30" fill="#30c8e0" stroke="none" stroke-width="0.8"/>
<rect x="466.04" y="268.33" width="1.30" height="1.30" fill="#3a5af2" stroke="none" stroke-width="0.8"/>
<rect x="460.49" y="265.80" width="1.30" height="1.30" fill="#3a5af2" stroke="none" stroke-width="0.8"/>
<rect x="461.36" y="267.17" width="1.30" height="1.30" fill="#3a70f0" stroke="none" stroke-width="0.8"/>
<rect x="447.83" y="265.52" width="1.30" height="1.30" fill="#3a5af2" stroke="none" stroke-width="0.8"/>
<rect x="447.90" y="271.12" width="1.30" height="1.30" fill="#3a70f0" stroke="none" stroke-width="0.8"/>
<rect x="464.21" y="277.61" width="1.30" height="1.30" fill="#3a70f0" stroke="none" stroke-width="0.8"/>
<rect x="461.78" y="280.17" width="1.30" height="1.30" fill="#30c8e0" stroke="none" stroke-width="0.8"/>
<rect x="453.95" y="279.91" width="1.30" height="1.30" fill="#30b0e8" stroke="none" stroke-width="0.8"/>
<rect x="467.04" y="279.80" width="1.30" height="1.30" fill="#2a80f0" stroke="none" stroke-width="0.8"/>
<rect x="459.56" y="263.73" width="1.30" height="1.30" fill="#3a5af2" stroke="none" stroke-width="0.8"/>
<rect x="459.37" y="280.83" width="1.30" height="1.30" fill="#30c8e0" stroke="none" stroke-width="0.8"/>
<rect x="466.37" y="273.78" width="1.30" height="1.30" fill="#30b0e8" stroke="none" stroke-width="0.8"/>
<rect x="450.05" y="279.61" width="1.30" height="1.30" fill="#3a5af2" stroke="none" stroke-width="0.8"/>
<rect x="457.76" y="274.13" width="1.30" height="1.30" fill="#30b0e8" stroke="none" stroke-width="0.8"/>
<rect x="452.66" y="266.71" width="1.30" height="1.30" fill="#30c8e0" stroke="none" stroke-width="0.8"/>
<rect x="459.63" y="268.96" width="1.30" height="1.30" fill="#2a80f0" stroke="none" stroke-width="0.8"/>
<rect x="470.08" y="264.06" width="1.30" height="1.30" fill="#30c8e0" stroke="none" stroke-width="0.8"/>
<rect x="465.61" y="276.21" width="1.30" height="1.30" fill="#3a5af2" stroke="none" stroke-width="0.8"/>
<rect x="456.02" y="267.94" width="1.30" height="1.30" fill="#2a80f0" stroke="none" stroke-width="0.8"/>
<rect x="468.28" y="270.34" width="1.30" height="1.30" fill="#30c8e0" stroke="none" stroke-width="0.8"/>
<rect x="465.31" y="264.89" width="1.30" height="1.30" fill="#3a70f0" stroke="none" stroke-width="0.8"/>
<rect x="464.06" y="266.59" width="1.30" height="1.30" fill="#2a80f0" stroke="none" stroke-width="0.8"/>
<rect x="450.77" y="270.56" width="1.30" height="1.30" fill="#2a80f0" stroke="none" stroke-width="0.8"/>
<rect x="459.78" y="266.79" width="1.30" height="1.30" fill="#30c8e0" stroke="none" stroke-width="0.8"/>
<rect x="451.45" y="264.63" width="1.30" height="1.30" fill="#2a80f0" stroke="none" stroke-width="0.8"/>
<rect x="464.87" y="273.30" width="1.30" height="1.30" fill="#30b0e8" stroke="none" stroke-width="0.8"/>
<rect x="451.60" y="267.96" width="1.30" height="1.30" fill="#2a80f0" stroke="none" stroke-width="0.8"/>
<rect x="453.91" y="280.13" width="1.30" height="1.30" fill="#3a5af2" stroke="none" stroke-width="0.8"/>
<rect x="451.68" y="274.36" width="1.30" height="1.30" fill="#2a80f0" stroke="none" stroke-width="0.8"/>
<rect x="456.87" y="280.69" width="1.30" height="1.30" fill="#30b0e8" stroke="none" stroke-width="0.8"/>
<rect x="465.11" y="270.04" width="1.30" height="1.30" fill="#2a80f0" stroke="none" stroke-width="0.8"/>
<rect x="450.38" y="279.28" width="1.30" height="1.30" fill="#30b0e8" stroke="none" stroke-width="0.8"/>
<rect x="452.67" y="269.13" width="1.30" height="1.30" fill="#3a5af2" stroke="none" stroke-width="0.8"/>
<rect x="448.10" y="278.17" width="1.30" height="1.30" fill="#3a70f0" stroke="none" stroke-width="0.8"/>
<rect x="464.17" y="271.31" width="1.30" height="1.30" fill="#30b0e8" stroke="none" stroke-width="0.8"/>
<rect x="458.73" y="264.35" width="1.30" height="1.30" fill="#30c8e0" stroke="none" stroke-width="0.8"/>
<rect x="465.22" y="261.71" width="1.30" height="1.30" fill="#2a80f0" stroke="none" stroke-width="0.8"/>
<rect x="469.23" y="269.94" width="1.30" height="1.30" fill="#30c8e0" stroke="none" stroke-width="0.8"/>
<rect x="461.66" y="274.16" width="1.30" height="1.30" fill="#2a80f0" stroke="none" stroke-width="0.8"/>
<rect x="463.56" y="274.26" width="1.30" height="1.30" fill="#30c8e0" stroke="none" stroke-width="0.8"/>
<rect x="467.92" y="274.78" width="1.30" height="1.30" fill="#3a5af2" stroke="none" stroke-width="0.8"/>
<rect x="458.51" y="267.67" width="1.30" height="1.30" fill="#3a5af2" stroke="none" stroke-width="0.8"/>
<rect x="468.92" y="266.30" width="1.30" height="1.30" fill="#3a70f0" stroke="none" stroke-width="0.8"/>
<rect x="464.63" y="273.81" width="1.30" height="1.30" fill="#30b0e8" stroke="none" stroke-width="0.8"/>
<rect x="467.85" y="270.97" width="1.30" height="1.30" fill="#3a5af2" stroke="none" stroke-width="0.8"/>
<rect x="462.47" y="269.54" width="1.30" height="1.30" fill="#2a80f0" stroke="none" stroke-width="0.8"/>
<rect x="468.91" y="267.96" width="1.30" height="1.30" fill="#3a5af2" stroke="none" stroke-width="0.8"/>
<rect x="456.97" y="271.10" width="1.30" height="1.30" fill="#3a5af2" stroke="none" stroke-width="0.8"/>
<rect x="448.70" y="272.14" width="1.30" height="1.30" fill="#2a80f0" stroke="none" stroke-width="0.8"/>
<rect x="464.70" y="280.06" width="1.30" height="1.30" fill="#2a80f0" stroke="none" stroke-width="0.8"/>
<rect x="460.05" y="263.56" width="1.30" height="1.30" fill="#30c8e0" stroke="none" stroke-width="0.8"/>
<rect x="458.58" y="265.58" width="1.30" height="1.30" fill="#3a70f0" stroke="none" stroke-width="0.8"/>
<rect x="459.89" y="274.00" width="1.30" height="1.30" fill="#30b0e8" stroke="none" stroke-width="0.8"/>
<line x1="451.70" y1="277.92" x2="451.70" y2="281.80" stroke="#20b8d0" stroke-width="0.9"/>
<path d="M0.5,0 C0.68,0 0.74,0.08 0.78,0.18 L0.86,0.32 L0.95,0.72 C0.99,0.9 0.82,1 0.5,1 C0.18,1 0.01,0.9 0.05,0.72 L0.14,0.32 L0.22,0.18 C0.26,0.08 0.32,0 0.5,0 Z" fill="#30c8e0" transform="translate(446.30,262.00) scale(10.80,16.72)"/>
<path d="M0.5,0 C0.68,0 0.74,0.08 0.78,0.18 L0.86,0.32 L0.95,0.72 C0.99,0.9 0.82,1 0.5,1 C0.18,1 0.01,0.9 0.05,0.72 L0.14,0.32 L0.22,0.18 C0.26,0.08 0.32,0 0.5,0 Z" fill="#c8e830" transform="translate(446.75,262.30) scale(9.90,16.02)"/>
<path d="M0.5,0 C0.68,0 0.74,0.08 0.78,0.18 L0.86,0.32 L0.95,0.72 C0.99,0.9 0.82,1 0.5,1 C0.18,1 0.01,0.9 0.05,0.72 L0.14,0.32 L0.22,0.18 C0.26,0.08 0.32,0 0.5,0 Z" fill="#f51010" transform="translate(447.20,262.60) scale(9.00,15.52)"/>
<line x1="459.10" y1="277.92" x2="459.10" y2="281.80" stroke="#20b8d0" stroke-width="0.9"/>
<path d="M0.5,0 C0.68,0 0.74,0.08 0.78,0.18 L0.86,0.32 L0.95,0.72 C0.99,0.9 0.82,1 0.5,1 C0.18,1 0.01,0.9 0.05,0.72 L0.14,0.32 L0.22,0.18 C0.26,0.08 0.32,0 0.5,0 Z" fill="#30c8e0" transform="translate(453.70,262.00) scale(10.80,16.72)"/>
<path d="M0.5,0 C0.68,0 0.74,0.08 0.78,0.18 L0.86,0.32 L0.95,0.72 C0.99,0.9 0.82,1 0.5,1 C0.18,1 0.01,0.9 0.05,0.72 L0.14,0.32 L0.22,0.18 C0.26,0.08 0.32,0 0.5,0 Z" fill="#c8e830" transform="translate(454.15,262.30) scale(9.90,16.02)"/>
<path d="M0.5,0 C0.68,0 0.74,0.08 0.78,0.18 L0.86,0.32 L0.95,0.72 C0.99,0.9 0.82,1 0.5,1 C0.18,1 0.01,0.9 0.05,0.72 L0.14,0.32 L0.22,0.18 C0.26,0.08 0.32,0 0.5,0 Z" fill="#f51010" transform="translate(454.60,262.60) scale(9.00,15.52)"/>
<line x1="466.50" y1="277.92" x2="466.50" y2="281.80" stroke="#20b8d0" stroke-width="0.9"/>
<path d="M0.5,0 C0.68,0 0.74,0.08 0.78,0.18 L0.86,0.32 L0.95,0.72 C0.99,0.9 0.82,1 0.5,1 C0.18,1 0.01,0.9 0.05,0.72 L0.14,0.32 L0.22,0.18 C0.26,0.08 0.32,0 0.5,0 Z" fill="#30c8e0" transform="translate(461.10,262.00) scale(10.80,16.72)"/>
<path d="M0.5,0 C0.68,0 0.74,0.08 0.78,0.18 L0.86,0.32 L0.95,0.72 C0.99,0.9 0.82,1 0.5,1 C0.18,1 0.01,0.9 0.05,0.72 L0.14,0.32 L0.22,0.18 C0.26,0.08 0.32,0 0.5,0 Z" fill="#c8e830" transform="translate(461.55,262.30) scale(9.90,16.02)"/>
<path d="M0.5,0 C0.68,0 0.74,0.08 0.78,0.18 L0.86,0.32 L0.95,0.72 C0.99,0.9 0.82,1 0.5,1 C0.18,1 0.01,0.9 0.05,0.72 L0.14,0.32 L0.22,0.18 C0.26,0.08 0.32,0 0.5,0 Z" fill="#f51010" transform="translate(462.00,262.60) scale(9.00,15.52)"/>
<rect x="473.00" y="261.60" width="22.50" height="20.40" fill="#2a6cf0" stroke="none" stroke-width="0.8"/>
<rect x="484.22" y="269.56" width="1.30" height="1.30" fill="#3a70f0" stroke="none" stroke-width="0.8"/>
<rect x="477.52" y="274.88" width="1.30" height="1.30" fill="#3a70f0" stroke="none" stroke-width="0.8"/>
<rect x="484.05" y="279.69" width="1.30" height="1.30" fill="#30c8e0" stroke="none" stroke-width="0.8"/>
<rect x="480.64" y="262.70" width="1.30" height="1.30" fill="#30b0e8" stroke="none" stroke-width="0.8"/>
<rect x="481.21" y="262.79" width="1.30" height="1.30" fill="#3a5af2" stroke="none" stroke-width="0.8"/>
<rect x="482.00" y="269.76" width="1.30" height="1.30" fill="#30b0e8" stroke="none" stroke-width="0.8"/>
<rect x="485.47" y="263.72" width="1.30" height="1.30" fill="#30b0e8" stroke="none" stroke-width="0.8"/>
<rect x="488.94" y="279.83" width="1.30" height="1.30" fill="#30c8e0" stroke="none" stroke-width="0.8"/>
<rect x="493.89" y="280.89" width="1.30" height="1.30" fill="#3a70f0" stroke="none" stroke-width="0.8"/>
<rect x="482.94" y="264.79" width="1.30" height="1.30" fill="#3a5af2" stroke="none" stroke-width="0.8"/>
<rect x="490.41" y="273.91" width="1.30" height="1.30" fill="#3a70f0" stroke="none" stroke-width="0.8"/>
<rect x="486.81" y="275.58" width="1.30" height="1.30" fill="#2a80f0" stroke="none" stroke-width="0.8"/>
<rect x="480.59" y="273.99" width="1.30" height="1.30" fill="#3a70f0" stroke="none" stroke-width="0.8"/>
<rect x="483.06" y="267.31" width="1.30" height="1.30" fill="#30c8e0" stroke="none" stroke-width="0.8"/>
<rect x="486.97" y="276.73" width="1.30" height="1.30" fill="#3a70f0" stroke="none" stroke-width="0.8"/>
<rect x="480.63" y="278.10" width="1.30" height="1.30" fill="#30b0e8" stroke="none" stroke-width="0.8"/>
<rect x="488.14" y="274.94" width="1.30" height="1.30" fill="#3a70f0" stroke="none" stroke-width="0.8"/>
<rect x="487.59" y="270.94" width="1.30" height="1.30" fill="#30b0e8" stroke="none" stroke-width="0.8"/>
<rect x="480.70" y="274.30" width="1.30" height="1.30" fill="#30b0e8" stroke="none" stroke-width="0.8"/>
<rect x="483.31" y="269.91" width="1.30" height="1.30" fill="#3a5af2" stroke="none" stroke-width="0.8"/>
<rect x="487.17" y="268.63" width="1.30" height="1.30" fill="#30b0e8" stroke="none" stroke-width="0.8"/>
<rect x="491.37" y="262.71" width="1.30" height="1.30" fill="#30c8e0" stroke="none" stroke-width="0.8"/>
<rect x="492.47" y="276.81" width="1.30" height="1.30" fill="#2a80f0" stroke="none" stroke-width="0.8"/>
<rect x="484.41" y="268.30" width="1.30" height="1.30" fill="#30c8e0" stroke="none" stroke-width="0.8"/>
<rect x="473.32" y="261.82" width="1.30" height="1.30" fill="#3a5af2" stroke="none" stroke-width="0.8"/>
<rect x="487.10" y="266.45" width="1.30" height="1.30" fill="#3a5af2" stroke="none" stroke-width="0.8"/>
<rect x="485.44" y="278.17" width="1.30" height="1.30" fill="#2a80f0" stroke="none" stroke-width="0.8"/>
<rect x="489.69" y="268.32" width="1.30" height="1.30" fill="#2a80f0" stroke="none" stroke-width="0.8"/>
<rect x="477.48" y="269.41" width="1.30" height="1.30" fill="#30c8e0" stroke="none" stroke-width="0.8"/>
<rect x="476.61" y="278.89" width="1.30" height="1.30" fill="#30c8e0" stroke="none" stroke-width="0.8"/>
<rect x="494.01" y="263.35" width="1.30" height="1.30" fill="#30c8e0" stroke="none" stroke-width="0.8"/>
<rect x="489.94" y="277.87" width="1.30" height="1.30" fill="#2a80f0" stroke="none" stroke-width="0.8"/>
<rect x="483.63" y="265.73" width="1.30" height="1.30" fill="#3a5af2" stroke="none" stroke-width="0.8"/>
<rect x="488.95" y="270.11" width="1.30" height="1.30" fill="#3a5af2" stroke="none" stroke-width="0.8"/>
<rect x="484.93" y="266.73" width="1.30" height="1.30" fill="#2a80f0" stroke="none" stroke-width="0.8"/>
<rect x="490.78" y="270.78" width="1.30" height="1.30" fill="#30c8e0" stroke="none" stroke-width="0.8"/>
<rect x="474.26" y="270.66" width="1.30" height="1.30" fill="#2a80f0" stroke="none" stroke-width="0.8"/>
<rect x="488.06" y="266.38" width="1.30" height="1.30" fill="#2a80f0" stroke="none" stroke-width="0.8"/>
<rect x="484.60" y="278.34" width="1.30" height="1.30" fill="#3a5af2" stroke="none" stroke-width="0.8"/>
<rect x="476.45" y="267.82" width="1.30" height="1.30" fill="#30c8e0" stroke="none" stroke-width="0.8"/>
<rect x="483.70" y="267.36" width="1.30" height="1.30" fill="#3a70f0" stroke="none" stroke-width="0.8"/>
<rect x="481.06" y="269.73" width="1.30" height="1.30" fill="#3a5af2" stroke="none" stroke-width="0.8"/>
<rect x="476.88" y="268.59" width="1.30" height="1.30" fill="#3a5af2" stroke="none" stroke-width="0.8"/>
<rect x="473.44" y="262.49" width="1.30" height="1.30" fill="#30b0e8" stroke="none" stroke-width="0.8"/>
<rect x="490.38" y="263.42" width="1.30" height="1.30" fill="#3a70f0" stroke="none" stroke-width="0.8"/>
<rect x="483.42" y="279.01" width="1.30" height="1.30" fill="#3a5af2" stroke="none" stroke-width="0.8"/>
<rect x="477.59" y="269.66" width="1.30" height="1.30" fill="#2a80f0" stroke="none" stroke-width="0.8"/>
<rect x="480.28" y="278.32" width="1.30" height="1.30" fill="#30b0e8" stroke="none" stroke-width="0.8"/>
<rect x="480.34" y="276.70" width="1.30" height="1.30" fill="#30c8e0" stroke="none" stroke-width="0.8"/>
<rect x="489.57" y="265.69" width="1.30" height="1.30" fill="#3a70f0" stroke="none" stroke-width="0.8"/>
<rect x="480.35" y="266.48" width="1.30" height="1.30" fill="#3a5af2" stroke="none" stroke-width="0.8"/>
<rect x="490.77" y="267.28" width="1.30" height="1.30" fill="#3a70f0" stroke="none" stroke-width="0.8"/>
<rect x="481.68" y="271.37" width="1.30" height="1.30" fill="#30b0e8" stroke="none" stroke-width="0.8"/>
<rect x="491.77" y="268.29" width="1.30" height="1.30" fill="#2a80f0" stroke="none" stroke-width="0.8"/>
<rect x="487.07" y="276.96" width="1.30" height="1.30" fill="#30b0e8" stroke="none" stroke-width="0.8"/>
<rect x="477.13" y="275.44" width="1.30" height="1.30" fill="#2a80f0" stroke="none" stroke-width="0.8"/>
<rect x="485.61" y="273.92" width="1.30" height="1.30" fill="#3a5af2" stroke="none" stroke-width="0.8"/>
<rect x="481.58" y="272.35" width="1.30" height="1.30" fill="#3a70f0" stroke="none" stroke-width="0.8"/>
<rect x="484.73" y="262.56" width="1.30" height="1.30" fill="#30b0e8" stroke="none" stroke-width="0.8"/>
<rect x="475.33" y="262.50" width="1.30" height="1.30" fill="#3a70f0" stroke="none" stroke-width="0.8"/>
<rect x="486.09" y="274.37" width="1.30" height="1.30" fill="#30c8e0" stroke="none" stroke-width="0.8"/>
<rect x="492.56" y="273.47" width="1.30" height="1.30" fill="#30c8e0" stroke="none" stroke-width="0.8"/>
<rect x="476.16" y="274.67" width="1.30" height="1.30" fill="#30c8e0" stroke="none" stroke-width="0.8"/>
<rect x="491.84" y="263.21" width="1.30" height="1.30" fill="#3a5af2" stroke="none" stroke-width="0.8"/>
<rect x="487.34" y="270.48" width="1.30" height="1.30" fill="#2a80f0" stroke="none" stroke-width="0.8"/>
<line x1="476.90" y1="277.92" x2="476.90" y2="281.80" stroke="#20b8d0" stroke-width="0.9"/>
<path d="M0.5,0 C0.68,0 0.74,0.08 0.78,0.18 L0.86,0.32 L0.95,0.72 C0.99,0.9 0.82,1 0.5,1 C0.18,1 0.01,0.9 0.05,0.72 L0.14,0.32 L0.22,0.18 C0.26,0.08 0.32,0 0.5,0 Z" fill="#30c8e0" transform="translate(471.50,262.00) scale(10.80,16.72)"/>
<path d="M0.5,0 C0.68,0 0.74,0.08 0.78,0.18 L0.86,0.32 L0.95,0.72 C0.99,0.9 0.82,1 0.5,1 C0.18,1 0.01,0.9 0.05,0.72 L0.14,0.32 L0.22,0.18 C0.26,0.08 0.32,0 0.5,0 Z" fill="#c8e830" transform="translate(471.95,262.30) scale(9.90,16.02)"/>
<path d="M0.5,0 C0.68,0 0.74,0.08 0.78,0.18 L0.86,0.32 L0.95,0.72 C0.99,0.9 0.82,1 0.5,1 C0.18,1 0.01,0.9 0.05,0.72 L0.14,0.32 L0.22,0.18 C0.26,0.08 0.32,0 0.5,0 Z" fill="#f51010" transform="translate(472.40,262.60) scale(9.00,15.52)"/>
<line x1="484.30" y1="277.92" x2="484.30" y2="281.80" stroke="#20b8d0" stroke-width="0.9"/>
<path d="M0.5,0 C0.68,0 0.74,0.08 0.78,0.18 L0.86,0.32 L0.95,0.72 C0.99,0.9 0.82,1 0.5,1 C0.18,1 0.01,0.9 0.05,0.72 L0.14,0.32 L0.22,0.18 C0.26,0.08 0.32,0 0.5,0 Z" fill="#30c8e0" transform="translate(478.90,262.00) scale(10.80,16.72)"/>
<path d="M0.5,0 C0.68,0 0.74,0.08 0.78,0.18 L0.86,0.32 L0.95,0.72 C0.99,0.9 0.82,1 0.5,1 C0.18,1 0.01,0.9 0.05,0.72 L0.14,0.32 L0.22,0.18 C0.26,0.08 0.32,0 0.5,0 Z" fill="#c8e830" transform="translate(479.35,262.30) scale(9.90,16.02)"/>
<path d="M0.5,0 C0.68,0 0.74,0.08 0.78,0.18 L0.86,0.32 L0.95,0.72 C0.99,0.9 0.82,1 0.5,1 C0.18,1 0.01,0.9 0.05,0.72 L0.14,0.32 L0.22,0.18 C0.26,0.08 0.32,0 0.5,0 Z" fill="#f51010" transform="translate(479.80,262.60) scale(9.00,15.52)"/>
<rect x="496.00" y="220.80" width="24.60" height="20.00" fill="#282828" stroke="none" stroke-width="0.8"/>
<line x1="499.90" y1="233.90" x2="499.90" y2="240.60" stroke="#8a8a8a" stroke-width="0.7"/>
<path d="M0.5,0 C0.68,0 0.74,0.08 0.78,0.18 L0.86,0.32 L0.95,0.72 C0.99,0.9 0.82,1 0.5,1 C0.18,1 0.01,0.9 0.05,0.72 L0.14,0.32 L0.22,0.18 C0.26,0.08 0.32,0 0.5,0 Z" fill="#c2c2c2" transform="translate(495.90,221.60) scale(8.00,13.30)"/>
<path d="M0.5,0 C0.68,0 0.74,0.08 0.78,0.18 L0.86,0.32 L0.95,0.72 C0.99,0.9 0.82,1 0.5,1 C0.18,1 0.01,0.9 0.05,0.72 L0.14,0.32 L0.22,0.18 C0.26,0.08 0.32,0 0.5,0 Z" fill="#e2e2e2" transform="translate(497.02,222.93) scale(5.76,10.64)"/>
<ellipse cx="499.90" cy="234.63" rx="1.21" ry="1.10" fill="#7a1ef0" opacity="0.9"/>
<ellipse cx="496.70" cy="232.91" rx="0.99" ry="0.90" fill="#7a1ef0" opacity="0.9"/>
<line x1="507.30" y1="233.90" x2="507.30" y2="240.60" stroke="#8a8a8a" stroke-width="0.7"/>
<path d="M0.5,0 C0.68,0 0.74,0.08 0.78,0.18 L0.86,0.32 L0.95,0.72 C0.99,0.9 0.82,1 0.5,1 C0.18,1 0.01,0.9 0.05,0.72 L0.14,0.32 L0.22,0.18 C0.26,0.08 0.32,0 0.5,0 Z" fill="#c2c2c2" transform="translate(503.30,221.60) scale(8.00,13.30)"/>
<path d="M0.5,0 C0.68,0 0.74,0.08 0.78,0.18 L0.86,0.32 L0.95,0.72 C0.99,0.9 0.82,1 0.5,1 C0.18,1 0.01,0.9 0.05,0.72 L0.14,0.32 L0.22,0.18 C0.26,0.08 0.32,0 0.5,0 Z" fill="#e2e2e2" transform="translate(504.42,222.93) scale(5.76,10.64)"/>
<ellipse cx="507.30" cy="234.63" rx="1.21" ry="1.10" fill="#7a1ef0" opacity="0.9"/>
<ellipse cx="504.10" cy="232.91" rx="0.99" ry="0.90" fill="#7a1ef0" opacity="0.9"/>
<line x1="514.70" y1="233.90" x2="514.70" y2="240.60" stroke="#8a8a8a" stroke-width="0.7"/>
<path d="M0.5,0 C0.68,0 0.74,0.08 0.78,0.18 L0.86,0.32 L0.95,0.72 C0.99,0.9 0.82,1 0.5,1 C0.18,1 0.01,0.9 0.05,0.72 L0.14,0.32 L0.22,0.18 C0.26,0.08 0.32,0 0.5,0 Z" fill="#c2c2c2" transform="translate(510.70,221.60) scale(8.00,13.30)"/>
<path d="M0.5,0 C0.68,0 0.74,0.08 0.78,0.18 L0.86,0.32 L0.95,0.72 C0.99,0.9 0.82,1 0.5,1 C0.18,1 0.01,0.9 0.05,0.72 L0.14,0.32 L0.22,0.18 C0.26,0.08 0.32,0 0.5,0 Z" fill="#e2e2e2" transform="translate(511.82,222.93) scale(5.76,10.64)"/>
<ellipse cx="514.70" cy="234.63" rx="1.21" ry="1.10" fill="#7a1ef0" opacity="0.9"/>
<ellipse cx="511.50" cy="232.91" rx="0.99" ry="0.90" fill="#7a1ef0" opacity="0.9"/>
<rect x="521.20" y="220.80" width="23.60" height="20.00" fill="#282828" stroke="none" stroke-width="0.8"/>
<line x1="525.10" y1="233.90" x2="525.10" y2="240.60" stroke="#8a8a8a" stroke-width="0.7"/>
<path d="M0.5,0 C0.68,0 0.74,0.08 0.78,0.18 L0.86,0.32 L0.95,0.72 C0.99,0.9 0.82,1 0.5,1 C0.18,1 0.01,0.9 0.05,0.72 L0.14,0.32 L0.22,0.18 C0.26,0.08 0.32,0 0.5,0 Z" fill="#c2c2c2" transform="translate(521.10,221.60) scale(8.00,13.30)"/>
<path d="M0.5,0 C0.68,0 0.74,0.08 0.78,0.18 L0.86,0.32 L0.95,0.72 C0.99,0.9 0.82,1 0.5,1 C0.18,1 0.01,0.9 0.05,0.72 L0.14,0.32 L0.22,0.18 C0.26,0.08 0.32,0 0.5,0 Z" fill="#e2e2e2" transform="translate(522.22,222.93) scale(5.76,10.64)"/>
<ellipse cx="525.10" cy="234.63" rx="1.21" ry="1.10" fill="#7a1ef0" opacity="0.9"/>
<ellipse cx="528.30" cy="232.91" rx="0.99" ry="0.90" fill="#7a1ef0" opacity="0.9"/>
<line x1="532.50" y1="233.90" x2="532.50" y2="240.60" stroke="#8a8a8a" stroke-width="0.7"/>
<path d="M0.5,0 C0.68,0 0.74,0.08 0.78,0.18 L0.86,0.32 L0.95,0.72 C0.99,0.9 0.82,1 0.5,1 C0.18,1 0.01,0.9 0.05,0.72 L0.14,0.32 L0.22,0.18 C0.26,0.08 0.32,0 0.5,0 Z" fill="#c2c2c2" transform="translate(528.50,221.60) scale(8.00,13.30)"/>
<path d="M0.5,0 C0.68,0 0.74,0.08 0.78,0.18 L0.86,0.32 L0.95,0.72 C0.99,0.9 0.82,1 0.5,1 C0.18,1 0.01,0.9 0.05,0.72 L0.14,0.32 L0.22,0.18 C0.26,0.08 0.32,0 0.5,0 Z" fill="#e2e2e2" transform="translate(529.62,222.93) scale(5.76,10.64)"/>
<ellipse cx="532.50" cy="234.63" rx="1.21" ry="1.10" fill="#7a1ef0" opacity="0.9"/>
<ellipse cx="535.70" cy="232.91" rx="0.99" ry="0.90" fill="#7a1ef0" opacity="0.9"/>
<rect x="496.00" y="241.50" width="24.60" height="19.10" fill="#282828" stroke="none" stroke-width="0.8"/>
<line x1="499.90" y1="253.97" x2="499.90" y2="260.40" stroke="#8a8a8a" stroke-width="0.7"/>
<path d="M0.5,0 C0.68,0 0.74,0.08 0.78,0.18 L0.86,0.32 L0.95,0.72 C0.99,0.9 0.82,1 0.5,1 C0.18,1 0.01,0.9 0.05,0.72 L0.14,0.32 L0.22,0.18 C0.26,0.08 0.32,0 0.5,0 Z" fill="#c2c2c2" transform="translate(495.90,242.30) scale(8.00,12.67)"/>
<path d="M0.5,0 C0.68,0 0.74,0.08 0.78,0.18 L0.86,0.32 L0.95,0.72 C0.99,0.9 0.82,1 0.5,1 C0.18,1 0.01,0.9 0.05,0.72 L0.14,0.32 L0.22,0.18 C0.26,0.08 0.32,0 0.5,0 Z" fill="#e2e2e2" transform="translate(497.02,243.57) scale(5.76,10.14)"/>
<ellipse cx="499.90" cy="245.09" rx="3.08" ry="2.80" fill="#6a22f2"/>
<ellipse cx="499.90" cy="245.09" rx="1.68" ry="1.54" fill="#3a50ff"/>
<ellipse cx="499.90" cy="252.44" rx="3.30" ry="3.00" fill="#6a22f2"/>
<ellipse cx="499.90" cy="252.44" rx="1.80" ry="1.65" fill="#3a50ff"/>
<circle cx="497.90" cy="253.70" r="1.00" fill="#6a1cf2"/>
<circle cx="497.90" cy="253.70" r="0.72" fill="#2a3cff"/>
<circle cx="497.90" cy="253.70" r="0.45" fill="#20c8e0"/>
<circle cx="497.90" cy="253.70" r="0.36" fill="#f01010"/>
<circle cx="501.90" cy="253.70" r="1.00" fill="#6a1cf2"/>
<circle cx="501.90" cy="253.70" r="0.72" fill="#2a3cff"/>
<circle cx="501.90" cy="253.70" r="0.45" fill="#20c8e0"/>
<circle cx="501.90" cy="253.70" r="0.36" fill="#f01010"/>
<line x1="507.30" y1="253.97" x2="507.30" y2="260.40" stroke="#8a8a8a" stroke-width="0.7"/>
<path d="M0.5,0 C0.68,0 0.74,0.08 0.78,0.18 L0.86,0.32 L0.95,0.72 C0.99,0.9 0.82,1 0.5,1 C0.18,1 0.01,0.9 0.05,0.72 L0.14,0.32 L0.22,0.18 C0.26,0.08 0.32,0 0.5,0 Z" fill="#c2c2c2" transform="translate(503.30,242.30) scale(8.00,12.67)"/>
<path d="M0.5,0 C0.68,0 0.74,0.08 0.78,0.18 L0.86,0.32 L0.95,0.72 C0.99,0.9 0.82,1 0.5,1 C0.18,1 0.01,0.9 0.05,0.72 L0.14,0.32 L0.22,0.18 C0.26,0.08 0.32,0 0.5,0 Z" fill="#e2e2e2" transform="translate(504.42,243.57) scale(5.76,10.14)"/>
<ellipse cx="507.30" cy="245.09" rx="3.08" ry="2.80" fill="#6a22f2"/>
<ellipse cx="507.30" cy="245.09" rx="1.68" ry="1.54" fill="#3a50ff"/>
<ellipse cx="507.30" cy="252.44" rx="3.30" ry="3.00" fill="#6a22f2"/>
<ellipse cx="507.30" cy="252.44" rx="1.80" ry="1.65" fill="#3a50ff"/>
<circle cx="505.30" cy="253.70" r="1.00" fill="#6a1cf2"/>
<circle cx="505.30" cy="253.70" r="0.72" fill="#2a3cff"/>
<circle cx="505.30" cy="253.70" r="0.45" fill="#20c8e0"/>
<circle cx="505.30" cy="253.70" r="0.36" fill="#f01010"/>
<circle cx="509.30" cy="253.70" r="1.00" fill="#6a1cf2"/>
<circle cx="509.30" cy="253.70" r="0.72" fill="#2a3cff"/>
<circle cx="509.30" cy="253.70" r="0.45" fill="#20c8e0"/>
<circle cx="509.30" cy="253.70" r="0.36" fill="#f01010"/>
<line x1="514.70" y1="253.97" x2="514.70" y2="260.40" stroke="#8a8a8a" stroke-width="0.7"/>
<path d="M0.5,0 C0.68,0 0.74,0.08 0.78,0.18 L0.86,0.32 L0.95,0.72 C0.99,0.9 0.82,1 0.5,1 C0.18,1 0.01,0.9 0.05,0.72 L0.14,0.32 L0.22,0.18 C0.26,0.08 0.32,0 0.5,0 Z" fill="#c2c2c2" transform="translate(510.70,242.30) scale(8.00,12.67)"/>
<path d="M0.5,0 C0.68,0 0.74,0.08 0.78,0.18 L0.86,0.32 L0.95,0.72 C0.99,0.9 0.82,1 0.5,1 C0.18,1 0.01,0.9 0.05,0.72 L0.14,0.32 L0.22,0.18 C0.26,0.08 0.32,0 0.5,0 Z" fill="#e2e2e2" transform="translate(511.82,243.57) scale(5.76,10.14)"/>
<ellipse cx="514.70" cy="245.09" rx="3.08" ry="2.80" fill="#6a22f2"/>
<ellipse cx="514.70" cy="245.09" rx="1.68" ry="1.54" fill="#3a50ff"/>
<ellipse cx="514.70" cy="252.44" rx="3.30" ry="3.00" fill="#6a22f2"/>
<ellipse cx="514.70" cy="252.44" rx="1.80" ry="1.65" fill="#3a50ff"/>
<circle cx="512.70" cy="253.70" r="1.00" fill="#6a1cf2"/>
<circle cx="512.70" cy="253.70" r="0.72" fill="#2a3cff"/>
<circle cx="512.70" cy="253.70" r="0.45" fill="#20c8e0"/>
<circle cx="512.70" cy="253.70" r="0.36" fill="#f01010"/>
<circle cx="516.70" cy="253.70" r="1.00" fill="#6a1cf2"/>
<circle cx="516.70" cy="253.70" r="0.72" fill="#2a3cff"/>
<circle cx="516.70" cy="253.70" r="0.45" fill="#20c8e0"/>
<circle cx="516.70" cy="253.70" r="0.36" fill="#f01010"/>
<rect x="521.20" y="241.50" width="23.60" height="19.10" fill="#282828" stroke="none" stroke-width="0.8"/>
<line x1="525.10" y1="253.97" x2="525.10" y2="260.40" stroke="#8a8a8a" stroke-width="0.7"/>
<path d="M0.5,0 C0.68,0 0.74,0.08 0.78,0.18 L0.86,0.32 L0.95,0.72 C0.99,0.9 0.82,1 0.5,1 C0.18,1 0.01,0.9 0.05,0.72 L0.14,0.32 L0.22,0.18 C0.26,0.08 0.32,0 0.5,0 Z" fill="#c2c2c2" transform="translate(521.10,242.30) scale(8.00,12.67)"/>
<path d="M0.5,0 C0.68,0 0.74,0.08 0.78,0.18 L0.86,0.32 L0.95,0.72 C0.99,0.9 0.82,1 0.5,1 C0.18,1 0.01,0.9 0.05,0.72 L0.14,0.32 L0.22,0.18 C0.26,0.08 0.32,0 0.5,0 Z" fill="#e2e2e2" transform="translate(522.22,243.57) scale(5.76,10.14)"/>
<ellipse cx="525.10" cy="245.09" rx="3.08" ry="2.80" fill="#6a22f2"/>
<ellipse cx="525.10" cy="245.09" rx="1.68" ry="1.54" fill="#3a50ff"/>
<ellipse cx="525.10" cy="252.44" rx="3.30" ry="3.00" fill="#6a22f2"/>
<ellipse cx="525.10" cy="252.44" rx="1.80" ry="1.65" fill="#3a50ff"/>
<circle cx="523.10" cy="253.70" r="1.00" fill="#6a1cf2"/>
<circle cx="523.10" cy="253.70" r="0.72" fill="#2a3cff"/>
<circle cx="523.10" cy="253.70" r="0.45" fill="#20c8e0"/>
<circle cx="523.10" cy="253.70" r="0.36" fill="#f01010"/>
<circle cx="527.10" cy="253.70" r="1.00" fill="#6a1cf2"/>
<circle cx="527.10" cy="253.70" r="0.72" fill="#2a3cff"/>
<circle cx="527.10" cy="253.70" r="0.45" fill="#20c8e0"/>
<circle cx="527.10" cy="253.70" r="0.36" fill="#f01010"/>
<line x1="532.50" y1="253.97" x2="532.50" y2="260.40" stroke="#8a8a8a" stroke-width="0.7"/>
<path d="M0.5,0 C0.68,0 0.74,0.08 0.78,0.18 L0.86,0.32 L0.95,0.72 C0.99,0.9 0.82,1 0.5,1 C0.18,1 0.01,0.9 0.05,0.72 L0.14,0.32 L0.22,0.18 C0.26,0.08 0.32,0 0.5,0 Z" fill="#c2c2c2" transform="translate(528.50,242.30) scale(8.00,12.67)"/>
<path d="M0.5,0 C0.68,0 0.74,0.08 0.78,0.18 L0.86,0.32 L0.95,0.72 C0.99,0.9 0.82,1 0.5,1 C0.18,1 0.01,0.9 0.05,0.72 L0.14,0.32 L0.22,0.18 C0.26,0.08 0.32,0 0.5,0 Z" fill="#e2e2e2" transform="translate(529.62,243.57) scale(5.76,10.14)"/>
<ellipse cx="532.50" cy="245.09" rx="3.08" ry="2.80" fill="#6a22f2"/>
<ellipse cx="532.50" cy="245.09" rx="1.68" ry="1.54" fill="#3a50ff"/>
<ellipse cx="532.50" cy="252.44" rx="3.30" ry="3.00" fill="#6a22f2"/>
<ellipse cx="532.50" cy="252.44" rx="1.80" ry="1.65" fill="#3a50ff"/>
<circle cx="530.50" cy="253.70" r="1.00" fill="#6a1cf2"/>
<circle cx="530.50" cy="253.70" r="0.72" fill="#2a3cff"/>
<circle cx="530.50" cy="253.70" r="0.45" fill="#20c8e0"/>
<circle cx="530.50" cy="253.70" r="0.36" fill="#f01010"/>
<circle cx="534.50" cy="253.70" r="1.00" fill="#6a1cf2"/>
<circle cx="534.50" cy="253.70" r="0.72" fill="#2a3cff"/>
<circle cx="534.50" cy="253.70" r="0.45" fill="#20c8e0"/>
<circle cx="534.50" cy="253.70" r="0.36" fill="#f01010"/>
<rect x="496.00" y="261.60" width="24.60" height="20.40" fill="#2a6cf0" stroke="none" stroke-width="0.8"/>
<rect x="498.39" y="265.12" width="1.30" height="1.30" fill="#3a5af2" stroke="none" stroke-width="0.8"/>
<rect x="505.95" y="263.55" width="1.30" height="1.30" fill="#3a5af2" stroke="none" stroke-width="0.8"/>
<rect x="504.71" y="277.56" width="1.30" height="1.30" fill="#30b0e8" stroke="none" stroke-width="0.8"/>
<rect x="509.27" y="266.61" width="1.30" height="1.30" fill="#30b0e8" stroke="none" stroke-width="0.8"/>
<rect x="500.36" y="262.26" width="1.30" height="1.30" fill="#3a5af2" stroke="none" stroke-width="0.8"/>
<rect x="506.16" y="274.05" width="1.30" height="1.30" fill="#3a5af2" stroke="none" stroke-width="0.8"/>
<rect x="507.75" y="271.73" width="1.30" height="1.30" fill="#3a5af2" stroke="none" stroke-width="0.8"/>
<rect x="514.26" y="269.77" width="1.30" height="1.30" fill="#3a70f0" stroke="none" stroke-width="0.8"/>
<rect x="506.54" y="261.87" width="1.30" height="1.30" fill="#3a70f0" stroke="none" stroke-width="0.8"/>
<rect x="510.02" y="280.87" width="1.30" height="1.30" fill="#2a80f0" stroke="none" stroke-width="0.8"/>
<rect x="507.22" y="269.60" width="1.30" height="1.30" fill="#3a5af2" stroke="none" stroke-width="0.8"/>
<rect x="497.96" y="270.76" width="1.30" height="1.30" fill="#2a80f0" stroke="none" stroke-width="0.8"/>
<rect x="510.79" y="269.88" width="1.30" height="1.30" fill="#3a5af2" stroke="none" stroke-width="0.8"/>
<rect x="512.14" y="263.96" width="1.30" height="1.30" fill="#3a5af2" stroke="none" stroke-width="0.8"/>
<rect x="501.15" y="263.95" width="1.30" height="1.30" fill="#3a70f0" stroke="none" stroke-width="0.8"/>
<rect x="496.42" y="275.56" width="1.30" height="1.30" fill="#2a80f0" stroke="none" stroke-width="0.8"/>
<rect x="506.64" y="276.04" width="1.30" height="1.30" fill="#3a5af2" stroke="none" stroke-width="0.8"/>
<rect x="504.63" y="276.10" width="1.30" height="1.30" fill="#2a80f0" stroke="none" stroke-width="0.8"/>
<rect x="513.22" y="263.24" width="1.30" height="1.30" fill="#30c8e0" stroke="none" stroke-width="0.8"/>
<rect x="512.74" y="270.54" width="1.30" height="1.30" fill="#30b0e8" stroke="none" stroke-width="0.8"/>
<rect x="517.56" y="262.62" width="1.30" height="1.30" fill="#3a5af2" stroke="none" stroke-width="0.8"/>
<rect x="496.27" y="261.89" width="1.30" height="1.30" fill="#30c8e0" stroke="none" stroke-width="0.8"/>
<rect x="497.88" y="267.63" width="1.30" height="1.30" fill="#30c8e0" stroke="none" stroke-width="0.8"/>
<rect x="499.92" y="278.30" width="1.30" height="1.30" fill="#3a70f0" stroke="none" stroke-width="0.8"/>
<rect x="510.37" y="267.74" width="1.30" height="1.30" fill="#30c8e0" stroke="none" stroke-width="0.8"/>
<rect x="513.18" y="270.71" width="1.30" height="1.30" fill="#2a80f0" stroke="none" stroke-width="0.8"/>
<rect x="499.42" y="277.07" width="1.30" height="1.30" fill="#30b0e8" stroke="none" stroke-width="0.8"/>
<rect x="518.51" y="264.78" width="1.30" height="1.30" fill="#3a70f0" stroke="none" stroke-width="0.8"/>
<rect x="507.26" y="276.70" width="1.30" height="1.30" fill="#3a70f0" stroke="none" stroke-width="0.8"/>
<rect x="518.30" y="276.82" width="1.30" height="1.30" fill="#30c8e0" stroke="none" stroke-width="0.8"/>
<rect x="503.88" y="267.03" width="1.30" height="1.30" fill="#30c8e0" stroke="none" stroke-width="0.8"/>
<rect x="518.99" y="275.24" width="1.30" height="1.30" fill="#30c8e0" stroke="none" stroke-width="0.8"/>
<rect x="503.84" y="273.35" width="1.30" height="1.30" fill="#3a5af2" stroke="none" stroke-width="0.8"/>
<rect x="515.62" y="273.26" width="1.30" height="1.30" fill="#30b0e8" stroke="none" stroke-width="0.8"/>
<rect x="509.80" y="280.54" width="1.30" height="1.30" fill="#2a80f0" stroke="none" stroke-width="0.8"/>
<rect x="504.89" y="274.89" width="1.30" height="1.30" fill="#30c8e0" stroke="none" stroke-width="0.8"/>
<rect x="514.21" y="266.15" width="1.30" height="1.30" fill="#3a70f0" stroke="none" stroke-width="0.8"/>
<rect x="502.69" y="261.63" width="1.30" height="1.30" fill="#30b0e8" stroke="none" stroke-width="0.8"/>
<rect x="502.33" y="264.65" width="1.30" height="1.30" fill="#3a5af2" stroke="none" stroke-width="0.8"/>
<rect x="502.81" y="264.33" width="1.30" height="1.30" fill="#30c8e0" stroke="none" stroke-width="0.8"/>
<rect x="499.47" y="280.52" width="1.30" height="1.30" fill="#30c8e0" stroke="none" stroke-width="0.8"/>
<rect x="512.16" y="279.33" width="1.30" height="1.30" fill="#30b0e8" stroke="none" stroke-width="0.8"/>
<rect x="508.62" y="272.08" width="1.30" height="1.30" fill="#3a70f0" stroke="none" stroke-width="0.8"/>
<rect x="514.82" y="265.49" width="1.30" height="1.30" fill="#2a80f0" stroke="none" stroke-width="0.8"/>
<rect x="503.30" y="262.72" width="1.30" height="1.30" fill="#3a70f0" stroke="none" stroke-width="0.8"/>
<rect x="506.98" y="265.61" width="1.30" height="1.30" fill="#30b0e8" stroke="none" stroke-width="0.8"/>
<rect x="509.84" y="261.78" width="1.30" height="1.30" fill="#3a70f0" stroke="none" stroke-width="0.8"/>
<rect x="506.85" y="263.30" width="1.30" height="1.30" fill="#30b0e8" stroke="none" stroke-width="0.8"/>
<rect x="514.22" y="266.12" width="1.30" height="1.30" fill="#30c8e0" stroke="none" stroke-width="0.8"/>
<rect x="508.30" y="266.64" width="1.30" height="1.30" fill="#30c8e0" stroke="none" stroke-width="0.8"/>
<rect x="503.58" y="271.42" width="1.30" height="1.30" fill="#2a80f0" stroke="none" stroke-width="0.8"/>
<rect x="500.46" y="265.33" width="1.30" height="1.30" fill="#2a80f0" stroke="none" stroke-width="0.8"/>
<rect x="515.02" y="267.22" width="1.30" height="1.30" fill="#30c8e0" stroke="none" stroke-width="0.8"/>
<rect x="509.32" y="269.41" width="1.30" height="1.30" fill="#30c8e0" stroke="none" stroke-width="0.8"/>
<rect x="516.22" y="266.38" width="1.30" height="1.30" fill="#3a70f0" stroke="none" stroke-width="0.8"/>
<rect x="504.83" y="263.66" width="1.30" height="1.30" fill="#3a70f0" stroke="none" stroke-width="0.8"/>
<rect x="514.58" y="264.63" width="1.30" height="1.30" fill="#30c8e0" stroke="none" stroke-width="0.8"/>
<rect x="496.72" y="267.04" width="1.30" height="1.30" fill="#30c8e0" stroke="none" stroke-width="0.8"/>
<rect x="496.49" y="262.25" width="1.30" height="1.30" fill="#30c8e0" stroke="none" stroke-width="0.8"/>
<rect x="507.48" y="272.60" width="1.30" height="1.30" fill="#30b0e8" stroke="none" stroke-width="0.8"/>
<rect x="517.84" y="267.03" width="1.30" height="1.30" fill="#3a5af2" stroke="none" stroke-width="0.8"/>
<rect x="518.34" y="276.48" width="1.30" height="1.30" fill="#30c8e0" stroke="none" stroke-width="0.8"/>
<rect x="518.74" y="266.53" width="1.30" height="1.30" fill="#3a5af2" stroke="none" stroke-width="0.8"/>
<rect x="504.00" y="280.90" width="1.30" height="1.30" fill="#3a70f0" stroke="none" stroke-width="0.8"/>
<rect x="497.97" y="262.59" width="1.30" height="1.30" fill="#30c8e0" stroke="none" stroke-width="0.8"/>
<rect x="504.72" y="275.29" width="1.30" height="1.30" fill="#3a70f0" stroke="none" stroke-width="0.8"/>
<rect x="518.35" y="279.25" width="1.30" height="1.30" fill="#3a5af2" stroke="none" stroke-width="0.8"/>
<rect x="516.37" y="274.01" width="1.30" height="1.30" fill="#3a5af2" stroke="none" stroke-width="0.8"/>
<rect x="512.67" y="263.35" width="1.30" height="1.30" fill="#30b0e8" stroke="none" stroke-width="0.8"/>
<rect x="509.32" y="274.03" width="1.30" height="1.30" fill="#30c8e0" stroke="none" stroke-width="0.8"/>
<rect x="505.28" y="270.30" width="1.30" height="1.30" fill="#2a80f0" stroke="none" stroke-width="0.8"/>
<line x1="499.90" y1="277.92" x2="499.90" y2="281.80" stroke="#20b8d0" stroke-width="0.9"/>
<path d="M0.5,0 C0.68,0 0.74,0.08 0.78,0.18 L0.86,0.32 L0.95,0.72 C0.99,0.9 0.82,1 0.5,1 C0.18,1 0.01,0.9 0.05,0.72 L0.14,0.32 L0.22,0.18 C0.26,0.08 0.32,0 0.5,0 Z" fill="#30c8e0" transform="translate(494.50,262.00) scale(10.80,16.72)"/>
<path d="M0.5,0 C0.68,0 0.74,0.08 0.78,0.18 L0.86,0.32 L0.95,0.72 C0.99,0.9 0.82,1 0.5,1 C0.18,1 0.01,0.9 0.05,0.72 L0.14,0.32 L0.22,0.18 C0.26,0.08 0.32,0 0.5,0 Z" fill="#c8e830" transform="translate(494.95,262.30) scale(9.90,16.02)"/>
<path d="M0.5,0 C0.68,0 0.74,0.08 0.78,0.18 L0.86,0.32 L0.95,0.72 C0.99,0.9 0.82,1 0.5,1 C0.18,1 0.01,0.9 0.05,0.72 L0.14,0.32 L0.22,0.18 C0.26,0.08 0.32,0 0.5,0 Z" fill="#f51010" transform="translate(495.40,262.60) scale(9.00,15.52)"/>
<line x1="507.30" y1="277.92" x2="507.30" y2="281.80" stroke="#20b8d0" stroke-width="0.9"/>
<path d="M0.5,0 C0.68,0 0.74,0.08 0.78,0.18 L0.86,0.32 L0.95,0.72 C0.99,0.9 0.82,1 0.5,1 C0.18,1 0.01,0.9 0.05,0.72 L0.14,0.32 L0.22,0.18 C0.26,0.08 0.32,0 0.5,0 Z" fill="#30c8e0" transform="translate(501.90,262.00) scale(10.80,16.72)"/>
<path d="M0.5,0 C0.68,0 0.74,0.08 0.78,0.18 L0.86,0.32 L0.95,0.72 C0.99,0.9 0.82,1 0.5,1 C0.18,1 0.01,0.9 0.05,0.72 L0.14,0.32 L0.22,0.18 C0.26,0.08 0.32,0 0.5,0 Z" fill="#c8e830" transform="translate(502.35,262.30) scale(9.90,16.02)"/>
<path d="M0.5,0 C0.68,0 0.74,0.08 0.78,0.18 L0.86,0.32 L0.95,0.72 C0.99,0.9 0.82,1 0.5,1 C0.18,1 0.01,0.9 0.05,0.72 L0.14,0.32 L0.22,0.18 C0.26,0.08 0.32,0 0.5,0 Z" fill="#f51010" transform="translate(502.80,262.60) scale(9.00,15.52)"/>
<line x1="514.70" y1="277.92" x2="514.70" y2="281.80" stroke="#20b8d0" stroke-width="0.9"/>
<path d="M0.5,0 C0.68,0 0.74,0.08 0.78,0.18 L0.86,0.32 L0.95,0.72 C0.99,0.9 0.82,1 0.5,1 C0.18,1 0.01,0.9 0.05,0.72 L0.14,0.32 L0.22,0.18 C0.26,0.08 0.32,0 0.5,0 Z" fill="#30c8e0" transform="translate(509.30,262.00) scale(10.80,16.72)"/>
<path d="M0.5,0 C0.68,0 0.74,0.08 0.78,0.18 L0.86,0.32 L0.95,0.72 C0.99,0.9 0.82,1 0.5,1 C0.18,1 0.01,0.9 0.05,0.72 L0.14,0.32 L0.22,0.18 C0.26,0.08 0.32,0 0.5,0 Z" fill="#c8e830" transform="translate(509.75,262.30) scale(9.90,16.02)"/>
<path d="M0.5,0 C0.68,0 0.74,0.08 0.78,0.18 L0.86,0.32 L0.95,0.72 C0.99,0.9 0.82,1 0.5,1 C0.18,1 0.01,0.9 0.05,0.72 L0.14,0.32 L0.22,0.18 C0.26,0.08 0.32,0 0.5,0 Z" fill="#f51010" transform="translate(510.20,262.60) scale(9.00,15.52)"/>
<rect x="521.20" y="261.60" width="23.60" height="20.40" fill="#2a6cf0" stroke="none" stroke-width="0.8"/>
<rect x="529.58" y="266.16" width="1.30" height="1.30" fill="#2a80f0" stroke="none" stroke-width="0.8"/>
<rect x="525.09" y="279.87" width="1.30" height="1.30" fill="#30b0e8" stroke="none" stroke-width="0.8"/>
<rect x="522.54" y="272.32" width="1.30" height="1.30" fill="#3a5af2" stroke="none" stroke-width="0.8"/>
<rect x="540.12" y="262.51" width="1.30" height="1.30" fill="#30c8e0" stroke="none" stroke-width="0.8"/>
<rect x="537.24" y="274.15" width="1.30" height="1.30" fill="#3a70f0" stroke="none" stroke-width="0.8"/>
<rect x="522.46" y="264.41" width="1.30" height="1.30" fill="#3a5af2" stroke="none" stroke-width="0.8"/>
<rect x="542.43" y="274.73" width="1.30" height="1.30" fill="#30b0e8" stroke="none" stroke-width="0.8"/>
<rect x="534.53" y="270.16" width="1.30" height="1.30" fill="#3a5af2" stroke="none" stroke-width="0.8"/>
<rect x="531.84" y="268.81" width="1.30" height="1.30" fill="#3a70f0" stroke="none" stroke-width="0.8"/>
<rect x="524.01" y="270.94" width="1.30" height="1.30" fill="#2a80f0" stroke="none" stroke-width="0.8"/>
<rect x="531.18" y="277.27" width="1.30" height="1.30" fill="#3a5af2" stroke="none" stroke-width="0.8"/>
<rect x="531.77" y="279.30" width="1.30" height="1.30" fill="#3a5af2" stroke="none" stroke-width="0.8"/>
<rect x="524.75" y="277.76" width="1.30" height="1.30" fill="#3a5af2" stroke="none" stroke-width="0.8"/>
<rect x="542.31" y="278.41" width="1.30" height="1.30" fill="#2a80f0" stroke="none" stroke-width="0.8"/>
<rect x="538.79" y="280.18" width="1.30" height="1.30" fill="#3a70f0" stroke="none" stroke-width="0.8"/>
<rect x="540.23" y="273.79" width="1.30" height="1.30" fill="#3a70f0" stroke="none" stroke-width="0.8"/>
<rect x="543.17" y="267.86" width="1.30" height="1.30" fill="#2a80f0" stroke="none" stroke-width="0.8"/>
<rect x="531.99" y="273.79" width="1.30" height="1.30" fill="#2a80f0" stroke="none" stroke-width="0.8"/>
<rect x="528.70" y="275.88" width="1.30" height="1.30" fill="#2a80f0" stroke="none" stroke-width="0.8"/>
<rect x="537.33" y="272.34" width="1.30" height="1.30" fill="#2a80f0" stroke="none" stroke-width="0.8"/>
<rect x="531.12" y="264.50" width="1.30" height="1.30" fill="#3a70f0" stroke="none" stroke-width="0.8"/>
<rect x="530.51" y="264.62" width="1.30" height="1.30" fill="#30b0e8" stroke="none" stroke-width="0.8"/>
<rect x="534.10" y="267.35" width="1.30" height="1.30" fill="#2a80f0" stroke="none" stroke-width="0.8"/>
<rect x="527.09" y="263.72" width="1.30" height="1.30" fill="#3a70f0" stroke="none" stroke-width="0.8"/>
<rect x="541.61" y="263.81" width="1.30" height="1.30" fill="#30c8e0" stroke="none" stroke-width="0.8"/>
<rect x="522.48" y="278.96" width="1.30" height="1.30" fill="#2a80f0" stroke="none" stroke-width="0.8"/>
<rect x="533.85" y="277.80" width="1.30" height="1.30" fill="#3a5af2" stroke="none" stroke-width="0.8"/>
<rect x="527.03" y="265.51" width="1.30" height="1.30" fill="#30b0e8" stroke="none" stroke-width="0.8"/>
<rect x="530.96" y="266.67" width="1.30" height="1.30" fill="#2a80f0" stroke="none" stroke-width="0.8"/>
<rect x="542.11" y="263.49" width="1.30" height="1.30" fill="#30b0e8" stroke="none" stroke-width="0.8"/>
<rect x="530.59" y="264.75" width="1.30" height="1.30" fill="#30b0e8" stroke="none" stroke-width="0.8"/>
<rect x="524.46" y="274.01" width="1.30" height="1.30" fill="#3a70f0" stroke="none" stroke-width="0.8"/>
<rect x="539.44" y="268.21" width="1.30" height="1.30" fill="#2a80f0" stroke="none" stroke-width="0.8"/>
<rect x="531.21" y="276.92" width="1.30" height="1.30" fill="#30c8e0" stroke="none" stroke-width="0.8"/>
<rect x="527.67" y="268.59" width="1.30" height="1.30" fill="#3a5af2" stroke="none" stroke-width="0.8"/>
<rect x="541.81" y="265.83" width="1.30" height="1.30" fill="#30c8e0" stroke="none" stroke-width="0.8"/>
<rect x="525.28" y="277.96" width="1.30" height="1.30" fill="#30c8e0" stroke="none" stroke-width="0.8"/>
<rect x="538.61" y="275.41" width="1.30" height="1.30" fill="#2a80f0" stroke="none" stroke-width="0.8"/>
<rect x="534.77" y="277.68" width="1.30" height="1.30" fill="#30c8e0" stroke="none" stroke-width="0.8"/>
<rect x="537.72" y="276.37" width="1.30" height="1.30" fill="#2a80f0" stroke="none" stroke-width="0.8"/>
<rect x="525.86" y="273.48" width="1.30" height="1.30" fill="#2a80f0" stroke="none" stroke-width="0.8"/>
<rect x="534.37" y="265.52" width="1.30" height="1.30" fill="#3a5af2" stroke="none" stroke-width="0.8"/>
<rect x="536.84" y="271.68" width="1.30" height="1.30" fill="#3a5af2" stroke="none" stroke-width="0.8"/>
<rect x="532.92" y="268.34" width="1.30" height="1.30" fill="#30b0e8" stroke="none" stroke-width="0.8"/>
<rect x="540.23" y="278.37" width="1.30" height="1.30" fill="#3a70f0" stroke="none" stroke-width="0.8"/>
<rect x="523.24" y="269.54" width="1.30" height="1.30" fill="#3a70f0" stroke="none" stroke-width="0.8"/>
<rect x="524.21" y="274.51" width="1.30" height="1.30" fill="#2a80f0" stroke="none" stroke-width="0.8"/>
<rect x="525.40" y="277.73" width="1.30" height="1.30" fill="#30b0e8" stroke="none" stroke-width="0.8"/>
<rect x="522.03" y="275.22" width="1.30" height="1.30" fill="#30c8e0" stroke="none" stroke-width="0.8"/>
<rect x="534.64" y="261.69" width="1.30" height="1.30" fill="#30c8e0" stroke="none" stroke-width="0.8"/>
<rect x="542.27" y="280.39" width="1.30" height="1.30" fill="#3a5af2" stroke="none" stroke-width="0.8"/>
<rect x="523.93" y="275.46" width="1.30" height="1.30" fill="#30b0e8" stroke="none" stroke-width="0.8"/>
<rect x="538.81" y="278.44" width="1.30" height="1.30" fill="#30c8e0" stroke="none" stroke-width="0.8"/>
<rect x="538.18" y="262.79" width="1.30" height="1.30" fill="#3a5af2" stroke="none" stroke-width="0.8"/>
<rect x="542.76" y="271.20" width="1.30" height="1.30" fill="#30c8e0" stroke="none" stroke-width="0.8"/>
<rect x="521.78" y="277.21" width="1.30" height="1.30" fill="#2a80f0" stroke="none" stroke-width="0.8"/>
<rect x="521.67" y="280.37" width="1.30" height="1.30" fill="#2a80f0" stroke="none" stroke-width="0.8"/>
<rect x="535.19" y="264.86" width="1.30" height="1.30" fill="#30b0e8" stroke="none" stroke-width="0.8"/>
<rect x="526.86" y="277.45" width="1.30" height="1.30" fill="#3a5af2" stroke="none" stroke-width="0.8"/>
<rect x="521.64" y="279.57" width="1.30" height="1.30" fill="#2a80f0" stroke="none" stroke-width="0.8"/>
<rect x="527.11" y="277.84" width="1.30" height="1.30" fill="#30c8e0" stroke="none" stroke-width="0.8"/>
<rect x="531.69" y="266.22" width="1.30" height="1.30" fill="#3a70f0" stroke="none" stroke-width="0.8"/>
<rect x="523.52" y="278.47" width="1.30" height="1.30" fill="#2a80f0" stroke="none" stroke-width="0.8"/>
<rect x="522.22" y="263.99" width="1.30" height="1.30" fill="#3a70f0" stroke="none" stroke-width="0.8"/>
<rect x="534.44" y="276.37" width="1.30" height="1.30" fill="#3a5af2" stroke="none" stroke-width="0.8"/>
<rect x="523.96" y="269.47" width="1.30" height="1.30" fill="#2a80f0" stroke="none" stroke-width="0.8"/>
<rect x="533.44" y="266.01" width="1.30" height="1.30" fill="#2a80f0" stroke="none" stroke-width="0.8"/>
<rect x="524.53" y="272.71" width="1.30" height="1.30" fill="#3a70f0" stroke="none" stroke-width="0.8"/>
<line x1="525.10" y1="277.92" x2="525.10" y2="281.80" stroke="#20b8d0" stroke-width="0.9"/>
<path d="M0.5,0 C0.68,0 0.74,0.08 0.78,0.18 L0.86,0.32 L0.95,0.72 C0.99,0.9 0.82,1 0.5,1 C0.18,1 0.01,0.9 0.05,0.72 L0.14,0.32 L0.22,0.18 C0.26,0.08 0.32,0 0.5,0 Z" fill="#30c8e0" transform="translate(519.70,262.00) scale(10.80,16.72)"/>
<path d="M0.5,0 C0.68,0 0.74,0.08 0.78,0.18 L0.86,0.32 L0.95,0.72 C0.99,0.9 0.82,1 0.5,1 C0.18,1 0.01,0.9 0.05,0.72 L0.14,0.32 L0.22,0.18 C0.26,0.08 0.32,0 0.5,0 Z" fill="#c8e830" transform="translate(520.15,262.30) scale(9.90,16.02)"/>
<path d="M0.5,0 C0.68,0 0.74,0.08 0.78,0.18 L0.86,0.32 L0.95,0.72 C0.99,0.9 0.82,1 0.5,1 C0.18,1 0.01,0.9 0.05,0.72 L0.14,0.32 L0.22,0.18 C0.26,0.08 0.32,0 0.5,0 Z" fill="#f51010" transform="translate(520.60,262.60) scale(9.00,15.52)"/>
<line x1="532.50" y1="277.92" x2="532.50" y2="281.80" stroke="#20b8d0" stroke-width="0.9"/>
<path d="M0.5,0 C0.68,0 0.74,0.08 0.78,0.18 L0.86,0.32 L0.95,0.72 C0.99,0.9 0.82,1 0.5,1 C0.18,1 0.01,0.9 0.05,0.72 L0.14,0.32 L0.22,0.18 C0.26,0.08 0.32,0 0.5,0 Z" fill="#30c8e0" transform="translate(527.10,262.00) scale(10.80,16.72)"/>
<path d="M0.5,0 C0.68,0 0.74,0.08 0.78,0.18 L0.86,0.32 L0.95,0.72 C0.99,0.9 0.82,1 0.5,1 C0.18,1 0.01,0.9 0.05,0.72 L0.14,0.32 L0.22,0.18 C0.26,0.08 0.32,0 0.5,0 Z" fill="#c8e830" transform="translate(527.55,262.30) scale(9.90,16.02)"/>
<path d="M0.5,0 C0.68,0 0.74,0.08 0.78,0.18 L0.86,0.32 L0.95,0.72 C0.99,0.9 0.82,1 0.5,1 C0.18,1 0.01,0.9 0.05,0.72 L0.14,0.32 L0.22,0.18 C0.26,0.08 0.32,0 0.5,0 Z" fill="#f51010" transform="translate(528.00,262.60) scale(9.00,15.52)"/>
<rect x="545.50" y="220.80" width="24.20" height="19.60" fill="#282828" stroke="none" stroke-width="0.8"/>
<line x1="549.40" y1="233.62" x2="549.40" y2="240.20" stroke="#8a8a8a" stroke-width="0.7"/>
<path d="M0.5,0 C0.68,0 0.74,0.08 0.78,0.18 L0.86,0.32 L0.95,0.72 C0.99,0.9 0.82,1 0.5,1 C0.18,1 0.01,0.9 0.05,0.72 L0.14,0.32 L0.22,0.18 C0.26,0.08 0.32,0 0.5,0 Z" fill="#c2c2c2" transform="translate(545.40,221.60) scale(8.00,13.02)"/>
<path d="M0.5,0 C0.68,0 0.74,0.08 0.78,0.18 L0.86,0.32 L0.95,0.72 C0.99,0.9 0.82,1 0.5,1 C0.18,1 0.01,0.9 0.05,0.72 L0.14,0.32 L0.22,0.18 C0.26,0.08 0.32,0 0.5,0 Z" fill="#e2e2e2" transform="translate(546.52,222.90) scale(5.76,10.42)"/>
<line x1="556.80" y1="233.62" x2="556.80" y2="240.20" stroke="#8a8a8a" stroke-width="0.7"/>
<path d="M0.5,0 C0.68,0 0.74,0.08 0.78,0.18 L0.86,0.32 L0.95,0.72 C0.99,0.9 0.82,1 0.5,1 C0.18,1 0.01,0.9 0.05,0.72 L0.14,0.32 L0.22,0.18 C0.26,0.08 0.32,0 0.5,0 Z" fill="#c2c2c2" transform="translate(552.80,221.60) scale(8.00,13.02)"/>
<path d="M0.5,0 C0.68,0 0.74,0.08 0.78,0.18 L0.86,0.32 L0.95,0.72 C0.99,0.9 0.82,1 0.5,1 C0.18,1 0.01,0.9 0.05,0.72 L0.14,0.32 L0.22,0.18 C0.26,0.08 0.32,0 0.5,0 Z" fill="#e2e2e2" transform="translate(553.92,222.90) scale(5.76,10.42)"/>
<line x1="564.20" y1="233.62" x2="564.20" y2="240.20" stroke="#8a8a8a" stroke-width="0.7"/>
<path d="M0.5,0 C0.68,0 0.74,0.08 0.78,0.18 L0.86,0.32 L0.95,0.72 C0.99,0.9 0.82,1 0.5,1 C0.18,1 0.01,0.9 0.05,0.72 L0.14,0.32 L0.22,0.18 C0.26,0.08 0.32,0 0.5,0 Z" fill="#c2c2c2" transform="translate(560.20,221.60) scale(8.00,13.02)"/>
<path d="M0.5,0 C0.68,0 0.74,0.08 0.78,0.18 L0.86,0.32 L0.95,0.72 C0.99,0.9 0.82,1 0.5,1 C0.18,1 0.01,0.9 0.05,0.72 L0.14,0.32 L0.22,0.18 C0.26,0.08 0.32,0 0.5,0 Z" fill="#e2e2e2" transform="translate(561.32,222.90) scale(5.76,10.42)"/>
<rect x="570.30" y="220.80" width="23.10" height="19.60" fill="#282828" stroke="none" stroke-width="0.8"/>
<line x1="574.20" y1="233.62" x2="574.20" y2="240.20" stroke="#8a8a8a" stroke-width="0.7"/>
<path d="M0.5,0 C0.68,0 0.74,0.08 0.78,0.18 L0.86,0.32 L0.95,0.72 C0.99,0.9 0.82,1 0.5,1 C0.18,1 0.01,0.9 0.05,0.72 L0.14,0.32 L0.22,0.18 C0.26,0.08 0.32,0 0.5,0 Z" fill="#c2c2c2" transform="translate(570.20,221.60) scale(8.00,13.02)"/>
<path d="M0.5,0 C0.68,0 0.74,0.08 0.78,0.18 L0.86,0.32 L0.95,0.72 C0.99,0.9 0.82,1 0.5,1 C0.18,1 0.01,0.9 0.05,0.72 L0.14,0.32 L0.22,0.18 C0.26,0.08 0.32,0 0.5,0 Z" fill="#e2e2e2" transform="translate(571.32,222.90) scale(5.76,10.42)"/>
<line x1="581.60" y1="233.62" x2="581.60" y2="240.20" stroke="#8a8a8a" stroke-width="0.7"/>
<path d="M0.5,0 C0.68,0 0.74,0.08 0.78,0.18 L0.86,0.32 L0.95,0.72 C0.99,0.9 0.82,1 0.5,1 C0.18,1 0.01,0.9 0.05,0.72 L0.14,0.32 L0.22,0.18 C0.26,0.08 0.32,0 0.5,0 Z" fill="#c2c2c2" transform="translate(577.60,221.60) scale(8.00,13.02)"/>
<path d="M0.5,0 C0.68,0 0.74,0.08 0.78,0.18 L0.86,0.32 L0.95,0.72 C0.99,0.9 0.82,1 0.5,1 C0.18,1 0.01,0.9 0.05,0.72 L0.14,0.32 L0.22,0.18 C0.26,0.08 0.32,0 0.5,0 Z" fill="#e2e2e2" transform="translate(578.72,222.90) scale(5.76,10.42)"/>
<ellipse cx="581.60" cy="234.36" rx="1.10" ry="1.00" fill="#7a1ef0" opacity="0.9"/>
<rect x="594.20" y="220.80" width="24.30" height="19.60" fill="#282828" stroke="none" stroke-width="0.8"/>
<line x1="598.10" y1="233.62" x2="598.10" y2="240.20" stroke="#8a8a8a" stroke-width="0.7"/>
<path d="M0.5,0 C0.68,0 0.74,0.08 0.78,0.18 L0.86,0.32 L0.95,0.72 C0.99,0.9 0.82,1 0.5,1 C0.18,1 0.01,0.9 0.05,0.72 L0.14,0.32 L0.22,0.18 C0.26,0.08 0.32,0 0.5,0 Z" fill="#c2c2c2" transform="translate(594.10,221.60) scale(8.00,13.02)"/>
<path d="M0.5,0 C0.68,0 0.74,0.08 0.78,0.18 L0.86,0.32 L0.95,0.72 C0.99,0.9 0.82,1 0.5,1 C0.18,1 0.01,0.9 0.05,0.72 L0.14,0.32 L0.22,0.18 C0.26,0.08 0.32,0 0.5,0 Z" fill="#e2e2e2" transform="translate(595.22,222.90) scale(5.76,10.42)"/>
<ellipse cx="598.10" cy="234.36" rx="1.32" ry="1.20" fill="#7a1ef0" opacity="0.9"/>
<line x1="605.50" y1="233.62" x2="605.50" y2="240.20" stroke="#8a8a8a" stroke-width="0.7"/>
<path d="M0.5,0 C0.68,0 0.74,0.08 0.78,0.18 L0.86,0.32 L0.95,0.72 C0.99,0.9 0.82,1 0.5,1 C0.18,1 0.01,0.9 0.05,0.72 L0.14,0.32 L0.22,0.18 C0.26,0.08 0.32,0 0.5,0 Z" fill="#c2c2c2" transform="translate(601.50,221.60) scale(8.00,13.02)"/>
<path d="M0.5,0 C0.68,0 0.74,0.08 0.78,0.18 L0.86,0.32 L0.95,0.72 C0.99,0.9 0.82,1 0.5,1 C0.18,1 0.01,0.9 0.05,0.72 L0.14,0.32 L0.22,0.18 C0.26,0.08 0.32,0 0.5,0 Z" fill="#e2e2e2" transform="translate(602.62,222.90) scale(5.76,10.42)"/>
<ellipse cx="605.50" cy="234.36" rx="1.32" ry="1.20" fill="#7a1ef0" opacity="0.9"/>
<line x1="612.90" y1="233.62" x2="612.90" y2="240.20" stroke="#8a8a8a" stroke-width="0.7"/>
<path d="M0.5,0 C0.68,0 0.74,0.08 0.78,0.18 L0.86,0.32 L0.95,0.72 C0.99,0.9 0.82,1 0.5,1 C0.18,1 0.01,0.9 0.05,0.72 L0.14,0.32 L0.22,0.18 C0.26,0.08 0.32,0 0.5,0 Z" fill="#c2c2c2" transform="translate(608.90,221.60) scale(8.00,13.02)"/>
<path d="M0.5,0 C0.68,0 0.74,0.08 0.78,0.18 L0.86,0.32 L0.95,0.72 C0.99,0.9 0.82,1 0.5,1 C0.18,1 0.01,0.9 0.05,0.72 L0.14,0.32 L0.22,0.18 C0.26,0.08 0.32,0 0.5,0 Z" fill="#e2e2e2" transform="translate(610.02,222.90) scale(5.76,10.42)"/>
<ellipse cx="612.90" cy="234.36" rx="1.32" ry="1.20" fill="#7a1ef0" opacity="0.9"/>
<rect x="619.10" y="220.80" width="22.60" height="19.60" fill="#282828" stroke="none" stroke-width="0.8"/>
<line x1="623.00" y1="233.62" x2="623.00" y2="240.20" stroke="#8a8a8a" stroke-width="0.7"/>
<path d="M0.5,0 C0.68,0 0.74,0.08 0.78,0.18 L0.86,0.32 L0.95,0.72 C0.99,0.9 0.82,1 0.5,1 C0.18,1 0.01,0.9 0.05,0.72 L0.14,0.32 L0.22,0.18 C0.26,0.08 0.32,0 0.5,0 Z" fill="#c2c2c2" transform="translate(619.00,221.60) scale(8.00,13.02)"/>
<path d="M0.5,0 C0.68,0 0.74,0.08 0.78,0.18 L0.86,0.32 L0.95,0.72 C0.99,0.9 0.82,1 0.5,1 C0.18,1 0.01,0.9 0.05,0.72 L0.14,0.32 L0.22,0.18 C0.26,0.08 0.32,0 0.5,0 Z" fill="#e2e2e2" transform="translate(620.12,222.90) scale(5.76,10.42)"/>
<ellipse cx="623.00" cy="234.36" rx="1.32" ry="1.20" fill="#7a1ef0" opacity="0.9"/>
<line x1="630.40" y1="233.62" x2="630.40" y2="240.20" stroke="#8a8a8a" stroke-width="0.7"/>
<path d="M0.5,0 C0.68,0 0.74,0.08 0.78,0.18 L0.86,0.32 L0.95,0.72 C0.99,0.9 0.82,1 0.5,1 C0.18,1 0.01,0.9 0.05,0.72 L0.14,0.32 L0.22,0.18 C0.26,0.08 0.32,0 0.5,0 Z" fill="#c2c2c2" transform="translate(626.40,221.60) scale(8.00,13.02)"/>
<path d="M0.5,0 C0.68,0 0.74,0.08 0.78,0.18 L0.86,0.32 L0.95,0.72 C0.99,0.9 0.82,1 0.5,1 C0.18,1 0.01,0.9 0.05,0.72 L0.14,0.32 L0.22,0.18 C0.26,0.08 0.32,0 0.5,0 Z" fill="#e2e2e2" transform="translate(627.52,222.90) scale(5.76,10.42)"/>
<ellipse cx="630.40" cy="234.36" rx="1.32" ry="1.20" fill="#7a1ef0" opacity="0.9"/>
<rect x="545.50" y="241.00" width="24.20" height="19.60" fill="#282828" stroke="none" stroke-width="0.8"/>
<line x1="549.40" y1="253.82" x2="549.40" y2="260.40" stroke="#8a8a8a" stroke-width="0.7"/>
<path d="M0.5,0 C0.68,0 0.74,0.08 0.78,0.18 L0.86,0.32 L0.95,0.72 C0.99,0.9 0.82,1 0.5,1 C0.18,1 0.01,0.9 0.05,0.72 L0.14,0.32 L0.22,0.18 C0.26,0.08 0.32,0 0.5,0 Z" fill="#c2c2c2" transform="translate(545.40,241.80) scale(8.00,13.02)"/>
<path d="M0.5,0 C0.68,0 0.74,0.08 0.78,0.18 L0.86,0.32 L0.95,0.72 C0.99,0.9 0.82,1 0.5,1 C0.18,1 0.01,0.9 0.05,0.72 L0.14,0.32 L0.22,0.18 C0.26,0.08 0.32,0 0.5,0 Z" fill="#e2e2e2" transform="translate(546.52,243.10) scale(5.76,10.42)"/>
<line x1="556.80" y1="253.82" x2="556.80" y2="260.40" stroke="#8a8a8a" stroke-width="0.7"/>
<path d="M0.5,0 C0.68,0 0.74,0.08 0.78,0.18 L0.86,0.32 L0.95,0.72 C0.99,0.9 0.82,1 0.5,1 C0.18,1 0.01,0.9 0.05,0.72 L0.14,0.32 L0.22,0.18 C0.26,0.08 0.32,0 0.5,0 Z" fill="#c2c2c2" transform="translate(552.80,241.80) scale(8.00,13.02)"/>
<path d="M0.5,0 C0.68,0 0.74,0.08 0.78,0.18 L0.86,0.32 L0.95,0.72 C0.99,0.9 0.82,1 0.5,1 C0.18,1 0.01,0.9 0.05,0.72 L0.14,0.32 L0.22,0.18 C0.26,0.08 0.32,0 0.5,0 Z" fill="#e2e2e2" transform="translate(553.92,243.10) scale(5.76,10.42)"/>
<line x1="564.20" y1="253.82" x2="564.20" y2="260.40" stroke="#8a8a8a" stroke-width="0.7"/>
<path d="M0.5,0 C0.68,0 0.74,0.08 0.78,0.18 L0.86,0.32 L0.95,0.72 C0.99,0.9 0.82,1 0.5,1 C0.18,1 0.01,0.9 0.05,0.72 L0.14,0.32 L0.22,0.18 C0.26,0.08 0.32,0 0.5,0 Z" fill="#c2c2c2" transform="translate(560.20,241.80) scale(8.00,13.02)"/>
<path d="M0.5,0 C0.68,0 0.74,0.08 0.78,0.18 L0.86,0.32 L0.95,0.72 C0.99,0.9 0.82,1 0.5,1 C0.18,1 0.01,0.9 0.05,0.72 L0.14,0.32 L0.22,0.18 C0.26,0.08 0.32,0 0.5,0 Z" fill="#e2e2e2" transform="translate(561.32,243.10) scale(5.76,10.42)"/>
<rect x="570.30" y="241.00" width="23.10" height="19.60" fill="#282828" stroke="none" stroke-width="0.8"/>
<line x1="574.20" y1="253.82" x2="574.20" y2="260.40" stroke="#8a8a8a" stroke-width="0.7"/>
<path d="M0.5,0 C0.68,0 0.74,0.08 0.78,0.18 L0.86,0.32 L0.95,0.72 C0.99,0.9 0.82,1 0.5,1 C0.18,1 0.01,0.9 0.05,0.72 L0.14,0.32 L0.22,0.18 C0.26,0.08 0.32,0 0.5,0 Z" fill="#c2c2c2" transform="translate(570.20,241.80) scale(8.00,13.02)"/>
<path d="M0.5,0 C0.68,0 0.74,0.08 0.78,0.18 L0.86,0.32 L0.95,0.72 C0.99,0.9 0.82,1 0.5,1 C0.18,1 0.01,0.9 0.05,0.72 L0.14,0.32 L0.22,0.18 C0.26,0.08 0.32,0 0.5,0 Z" fill="#e2e2e2" transform="translate(571.32,243.10) scale(5.76,10.42)"/>
<line x1="581.60" y1="253.82" x2="581.60" y2="260.40" stroke="#8a8a8a" stroke-width="0.7"/>
<path d="M0.5,0 C0.68,0 0.74,0.08 0.78,0.18 L0.86,0.32 L0.95,0.72 C0.99,0.9 0.82,1 0.5,1 C0.18,1 0.01,0.9 0.05,0.72 L0.14,0.32 L0.22,0.18 C0.26,0.08 0.32,0 0.5,0 Z" fill="#c2c2c2" transform="translate(577.60,241.80) scale(8.00,13.02)"/>
<path d="M0.5,0 C0.68,0 0.74,0.08 0.78,0.18 L0.86,0.32 L0.95,0.72 C0.99,0.9 0.82,1 0.5,1 C0.18,1 0.01,0.9 0.05,0.72 L0.14,0.32 L0.22,0.18 C0.26,0.08 0.32,0 0.5,0 Z" fill="#e2e2e2" transform="translate(578.72,243.10) scale(5.76,10.42)"/>
<rect x="594.20" y="241.00" width="24.30" height="19.60" fill="#282828" stroke="none" stroke-width="0.8"/>
<line x1="598.10" y1="253.82" x2="598.10" y2="260.40" stroke="#8a8a8a" stroke-width="0.7"/>
<path d="M0.5,0 C0.68,0 0.74,0.08 0.78,0.18 L0.86,0.32 L0.95,0.72 C0.99,0.9 0.82,1 0.5,1 C0.18,1 0.01,0.9 0.05,0.72 L0.14,0.32 L0.22,0.18 C0.26,0.08 0.32,0 0.5,0 Z" fill="#c2c2c2" transform="translate(594.10,241.80) scale(8.00,13.02)"/>
<path d="M0.5,0 C0.68,0 0.74,0.08 0.78,0.18 L0.86,0.32 L0.95,0.72 C0.99,0.9 0.82,1 0.5,1 C0.18,1 0.01,0.9 0.05,0.72 L0.14,0.32 L0.22,0.18 C0.26,0.08 0.32,0 0.5,0 Z" fill="#e2e2e2" transform="translate(595.22,243.10) scale(5.76,10.42)"/>
<line x1="605.50" y1="253.82" x2="605.50" y2="260.40" stroke="#8a8a8a" stroke-width="0.7"/>
<path d="M0.5,0 C0.68,0 0.74,0.08 0.78,0.18 L0.86,0.32 L0.95,0.72 C0.99,0.9 0.82,1 0.5,1 C0.18,1 0.01,0.9 0.05,0.72 L0.14,0.32 L0.22,0.18 C0.26,0.08 0.32,0 0.5,0 Z" fill="#c2c2c2" transform="translate(601.50,241.80) scale(8.00,13.02)"/>
<path d="M0.5,0 C0.68,0 0.74,0.08 0.78,0.18 L0.86,0.32 L0.95,0.72 C0.99,0.9 0.82,1 0.5,1 C0.18,1 0.01,0.9 0.05,0.72 L0.14,0.32 L0.22,0.18 C0.26,0.08 0.32,0 0.5,0 Z" fill="#e2e2e2" transform="translate(602.62,243.10) scale(5.76,10.42)"/>
<line x1="612.90" y1="253.82" x2="612.90" y2="260.40" stroke="#8a8a8a" stroke-width="0.7"/>
<path d="M0.5,0 C0.68,0 0.74,0.08 0.78,0.18 L0.86,0.32 L0.95,0.72 C0.99,0.9 0.82,1 0.5,1 C0.18,1 0.01,0.9 0.05,0.72 L0.14,0.32 L0.22,0.18 C0.26,0.08 0.32,0 0.5,0 Z" fill="#c2c2c2" transform="translate(608.90,241.80) scale(8.00,13.02)"/>
<path d="M0.5,0 C0.68,0 0.74,0.08 0.78,0.18 L0.86,0.32 L0.95,0.72 C0.99,0.9 0.82,1 0.5,1 C0.18,1 0.01,0.9 0.05,0.72 L0.14,0.32 L0.22,0.18 C0.26,0.08 0.32,0 0.5,0 Z" fill="#e2e2e2" transform="translate(610.02,243.10) scale(5.76,10.42)"/>
<rect x="619.10" y="241.00" width="22.60" height="19.60" fill="#282828" stroke="none" stroke-width="0.8"/>
<line x1="623.00" y1="253.82" x2="623.00" y2="260.40" stroke="#8a8a8a" stroke-width="0.7"/>
<path d="M0.5,0 C0.68,0 0.74,0.08 0.78,0.18 L0.86,0.32 L0.95,0.72 C0.99,0.9 0.82,1 0.5,1 C0.18,1 0.01,0.9 0.05,0.72 L0.14,0.32 L0.22,0.18 C0.26,0.08 0.32,0 0.5,0 Z" fill="#c2c2c2" transform="translate(619.00,241.80) scale(8.00,13.02)"/>
<path d="M0.5,0 C0.68,0 0.74,0.08 0.78,0.18 L0.86,0.32 L0.95,0.72 C0.99,0.9 0.82,1 0.5,1 C0.18,1 0.01,0.9 0.05,0.72 L0.14,0.32 L0.22,0.18 C0.26,0.08 0.32,0 0.5,0 Z" fill="#e2e2e2" transform="translate(620.12,243.10) scale(5.76,10.42)"/>
<line x1="630.40" y1="253.82" x2="630.40" y2="260.40" stroke="#8a8a8a" stroke-width="0.7"/>
<path d="M0.5,0 C0.68,0 0.74,0.08 0.78,0.18 L0.86,0.32 L0.95,0.72 C0.99,0.9 0.82,1 0.5,1 C0.18,1 0.01,0.9 0.05,0.72 L0.14,0.32 L0.22,0.18 C0.26,0.08 0.32,0 0.5,0 Z" fill="#c2c2c2" transform="translate(626.40,241.80) scale(8.00,13.02)"/>
<path d="M0.5,0 C0.68,0 0.74,0.08 0.78,0.18 L0.86,0.32 L0.95,0.72 C0.99,0.9 0.82,1 0.5,1 C0.18,1 0.01,0.9 0.05,0.72 L0.14,0.32 L0.22,0.18 C0.26,0.08 0.32,0 0.5,0 Z" fill="#e2e2e2" transform="translate(627.52,243.10) scale(5.76,10.42)"/>
<rect x="545.50" y="261.60" width="24.20" height="20.00" fill="#282828" stroke="none" stroke-width="0.8"/>
<line x1="549.40" y1="274.70" x2="549.40" y2="281.40" stroke="#8a8a8a" stroke-width="0.7"/>
<path d="M0.5,0 C0.68,0 0.74,0.08 0.78,0.18 L0.86,0.32 L0.95,0.72 C0.99,0.9 0.82,1 0.5,1 C0.18,1 0.01,0.9 0.05,0.72 L0.14,0.32 L0.22,0.18 C0.26,0.08 0.32,0 0.5,0 Z" fill="#c2c2c2" transform="translate(545.40,262.40) scale(8.00,13.30)"/>
<path d="M0.5,0 C0.68,0 0.74,0.08 0.78,0.18 L0.86,0.32 L0.95,0.72 C0.99,0.9 0.82,1 0.5,1 C0.18,1 0.01,0.9 0.05,0.72 L0.14,0.32 L0.22,0.18 C0.26,0.08 0.32,0 0.5,0 Z" fill="#e2e2e2" transform="translate(546.52,263.73) scale(5.76,10.64)"/>
<line x1="556.80" y1="274.70" x2="556.80" y2="281.40" stroke="#8a8a8a" stroke-width="0.7"/>
<path d="M0.5,0 C0.68,0 0.74,0.08 0.78,0.18 L0.86,0.32 L0.95,0.72 C0.99,0.9 0.82,1 0.5,1 C0.18,1 0.01,0.9 0.05,0.72 L0.14,0.32 L0.22,0.18 C0.26,0.08 0.32,0 0.5,0 Z" fill="#c2c2c2" transform="translate(552.80,262.40) scale(8.00,13.30)"/>
<path d="M0.5,0 C0.68,0 0.74,0.08 0.78,0.18 L0.86,0.32 L0.95,0.72 C0.99,0.9 0.82,1 0.5,1 C0.18,1 0.01,0.9 0.05,0.72 L0.14,0.32 L0.22,0.18 C0.26,0.08 0.32,0 0.5,0 Z" fill="#e2e2e2" transform="translate(553.92,263.73) scale(5.76,10.64)"/>
<ellipse cx="556.80" cy="262.40" rx="1.21" ry="1.10" fill="#7a1ef0" opacity="0.9"/>
<line x1="564.20" y1="274.70" x2="564.20" y2="281.40" stroke="#8a8a8a" stroke-width="0.7"/>
<path d="M0.5,0 C0.68,0 0.74,0.08 0.78,0.18 L0.86,0.32 L0.95,0.72 C0.99,0.9 0.82,1 0.5,1 C0.18,1 0.01,0.9 0.05,0.72 L0.14,0.32 L0.22,0.18 C0.26,0.08 0.32,0 0.5,0 Z" fill="#c2c2c2" transform="translate(560.20,262.40) scale(8.00,13.30)"/>
<path d="M0.5,0 C0.68,0 0.74,0.08 0.78,0.18 L0.86,0.32 L0.95,0.72 C0.99,0.9 0.82,1 0.5,1 C0.18,1 0.01,0.9 0.05,0.72 L0.14,0.32 L0.22,0.18 C0.26,0.08 0.32,0 0.5,0 Z" fill="#e2e2e2" transform="translate(561.32,263.73) scale(5.76,10.64)"/>
<rect x="570.30" y="261.60" width="23.10" height="20.00" fill="#282828" stroke="none" stroke-width="0.8"/>
<line x1="574.20" y1="274.70" x2="574.20" y2="281.40" stroke="#8a8a8a" stroke-width="0.7"/>
<path d="M0.5,0 C0.68,0 0.74,0.08 0.78,0.18 L0.86,0.32 L0.95,0.72 C0.99,0.9 0.82,1 0.5,1 C0.18,1 0.01,0.9 0.05,0.72 L0.14,0.32 L0.22,0.18 C0.26,0.08 0.32,0 0.5,0 Z" fill="#c2c2c2" transform="translate(570.20,262.40) scale(8.00,13.30)"/>
<path d="M0.5,0 C0.68,0 0.74,0.08 0.78,0.18 L0.86,0.32 L0.95,0.72 C0.99,0.9 0.82,1 0.5,1 C0.18,1 0.01,0.9 0.05,0.72 L0.14,0.32 L0.22,0.18 C0.26,0.08 0.32,0 0.5,0 Z" fill="#e2e2e2" transform="translate(571.32,263.73) scale(5.76,10.64)"/>
<ellipse cx="574.20" cy="262.40" rx="1.21" ry="1.10" fill="#7a1ef0" opacity="0.9"/>
<line x1="581.60" y1="274.70" x2="581.60" y2="281.40" stroke="#8a8a8a" stroke-width="0.7"/>
<path d="M0.5,0 C0.68,0 0.74,0.08 0.78,0.18 L0.86,0.32 L0.95,0.72 C0.99,0.9 0.82,1 0.5,1 C0.18,1 0.01,0.9 0.05,0.72 L0.14,0.32 L0.22,0.18 C0.26,0.08 0.32,0 0.5,0 Z" fill="#c2c2c2" transform="translate(577.60,262.40) scale(8.00,13.30)"/>
<path d="M0.5,0 C0.68,0 0.74,0.08 0.78,0.18 L0.86,0.32 L0.95,0.72 C0.99,0.9 0.82,1 0.5,1 C0.18,1 0.01,0.9 0.05,0.72 L0.14,0.32 L0.22,0.18 C0.26,0.08 0.32,0 0.5,0 Z" fill="#e2e2e2" transform="translate(578.72,263.73) scale(5.76,10.64)"/>
<rect x="594.20" y="261.60" width="24.30" height="20.00" fill="#282828" stroke="none" stroke-width="0.8"/>
<line x1="598.10" y1="274.70" x2="598.10" y2="281.40" stroke="#8a8a8a" stroke-width="0.7"/>
<path d="M0.5,0 C0.68,0 0.74,0.08 0.78,0.18 L0.86,0.32 L0.95,0.72 C0.99,0.9 0.82,1 0.5,1 C0.18,1 0.01,0.9 0.05,0.72 L0.14,0.32 L0.22,0.18 C0.26,0.08 0.32,0 0.5,0 Z" fill="#c2c2c2" transform="translate(594.10,262.40) scale(8.00,13.30)"/>
<path d="M0.5,0 C0.68,0 0.74,0.08 0.78,0.18 L0.86,0.32 L0.95,0.72 C0.99,0.9 0.82,1 0.5,1 C0.18,1 0.01,0.9 0.05,0.72 L0.14,0.32 L0.22,0.18 C0.26,0.08 0.32,0 0.5,0 Z" fill="#e2e2e2" transform="translate(595.22,263.73) scale(5.76,10.64)"/>
<line x1="605.50" y1="274.70" x2="605.50" y2="281.40" stroke="#8a8a8a" stroke-width="0.7"/>
<path d="M0.5,0 C0.68,0 0.74,0.08 0.78,0.18 L0.86,0.32 L0.95,0.72 C0.99,0.9 0.82,1 0.5,1 C0.18,1 0.01,0.9 0.05,0.72 L0.14,0.32 L0.22,0.18 C0.26,0.08 0.32,0 0.5,0 Z" fill="#c2c2c2" transform="translate(601.50,262.40) scale(8.00,13.30)"/>
<path d="M0.5,0 C0.68,0 0.74,0.08 0.78,0.18 L0.86,0.32 L0.95,0.72 C0.99,0.9 0.82,1 0.5,1 C0.18,1 0.01,0.9 0.05,0.72 L0.14,0.32 L0.22,0.18 C0.26,0.08 0.32,0 0.5,0 Z" fill="#e2e2e2" transform="translate(602.62,263.73) scale(5.76,10.64)"/>
<line x1="612.90" y1="274.70" x2="612.90" y2="281.40" stroke="#8a8a8a" stroke-width="0.7"/>
<path d="M0.5,0 C0.68,0 0.74,0.08 0.78,0.18 L0.86,0.32 L0.95,0.72 C0.99,0.9 0.82,1 0.5,1 C0.18,1 0.01,0.9 0.05,0.72 L0.14,0.32 L0.22,0.18 C0.26,0.08 0.32,0 0.5,0 Z" fill="#c2c2c2" transform="translate(608.90,262.40) scale(8.00,13.30)"/>
<path d="M0.5,0 C0.68,0 0.74,0.08 0.78,0.18 L0.86,0.32 L0.95,0.72 C0.99,0.9 0.82,1 0.5,1 C0.18,1 0.01,0.9 0.05,0.72 L0.14,0.32 L0.22,0.18 C0.26,0.08 0.32,0 0.5,0 Z" fill="#e2e2e2" transform="translate(610.02,263.73) scale(5.76,10.64)"/>
<rect x="619.10" y="261.60" width="22.60" height="20.00" fill="#282828" stroke="none" stroke-width="0.8"/>
<line x1="623.00" y1="274.70" x2="623.00" y2="281.40" stroke="#8a8a8a" stroke-width="0.7"/>
<path d="M0.5,0 C0.68,0 0.74,0.08 0.78,0.18 L0.86,0.32 L0.95,0.72 C0.99,0.9 0.82,1 0.5,1 C0.18,1 0.01,0.9 0.05,0.72 L0.14,0.32 L0.22,0.18 C0.26,0.08 0.32,0 0.5,0 Z" fill="#c2c2c2" transform="translate(619.00,262.40) scale(8.00,13.30)"/>
<path d="M0.5,0 C0.68,0 0.74,0.08 0.78,0.18 L0.86,0.32 L0.95,0.72 C0.99,0.9 0.82,1 0.5,1 C0.18,1 0.01,0.9 0.05,0.72 L0.14,0.32 L0.22,0.18 C0.26,0.08 0.32,0 0.5,0 Z" fill="#e2e2e2" transform="translate(620.12,263.73) scale(5.76,10.64)"/>
<line x1="630.40" y1="274.70" x2="630.40" y2="281.40" stroke="#8a8a8a" stroke-width="0.7"/>
<path d="M0.5,0 C0.68,0 0.74,0.08 0.78,0.18 L0.86,0.32 L0.95,0.72 C0.99,0.9 0.82,1 0.5,1 C0.18,1 0.01,0.9 0.05,0.72 L0.14,0.32 L0.22,0.18 C0.26,0.08 0.32,0 0.5,0 Z" fill="#c2c2c2" transform="translate(626.40,262.40) scale(8.00,13.30)"/>
<path d="M0.5,0 C0.68,0 0.74,0.08 0.78,0.18 L0.86,0.32 L0.95,0.72 C0.99,0.9 0.82,1 0.5,1 C0.18,1 0.01,0.9 0.05,0.72 L0.14,0.32 L0.22,0.18 C0.26,0.08 0.32,0 0.5,0 Z" fill="#e2e2e2" transform="translate(627.52,263.73) scale(5.76,10.64)"/>
<rect x="545.50" y="282.60" width="24.20" height="19.60" fill="#282828" stroke="none" stroke-width="0.8"/>
<line x1="549.40" y1="295.42" x2="549.40" y2="302.00" stroke="#8a8a8a" stroke-width="0.7"/>
<path d="M0.5,0 C0.68,0 0.74,0.08 0.78,0.18 L0.86,0.32 L0.95,0.72 C0.99,0.9 0.82,1 0.5,1 C0.18,1 0.01,0.9 0.05,0.72 L0.14,0.32 L0.22,0.18 C0.26,0.08 0.32,0 0.5,0 Z" fill="#c2c2c2" transform="translate(545.40,283.40) scale(8.00,13.02)"/>
<path d="M0.5,0 C0.68,0 0.74,0.08 0.78,0.18 L0.86,0.32 L0.95,0.72 C0.99,0.9 0.82,1 0.5,1 C0.18,1 0.01,0.9 0.05,0.72 L0.14,0.32 L0.22,0.18 C0.26,0.08 0.32,0 0.5,0 Z" fill="#e2e2e2" transform="translate(546.52,284.70) scale(5.76,10.42)"/>
<ellipse cx="549.40" cy="284.70" rx="1.76" ry="1.60" fill="#7a1ef0" opacity="0.9"/>
<line x1="556.80" y1="295.42" x2="556.80" y2="302.00" stroke="#8a8a8a" stroke-width="0.7"/>
<path d="M0.5,0 C0.68,0 0.74,0.08 0.78,0.18 L0.86,0.32 L0.95,0.72 C0.99,0.9 0.82,1 0.5,1 C0.18,1 0.01,0.9 0.05,0.72 L0.14,0.32 L0.22,0.18 C0.26,0.08 0.32,0 0.5,0 Z" fill="#c2c2c2" transform="translate(552.80,283.40) scale(8.00,13.02)"/>
<path d="M0.5,0 C0.68,0 0.74,0.08 0.78,0.18 L0.86,0.32 L0.95,0.72 C0.99,0.9 0.82,1 0.5,1 C0.18,1 0.01,0.9 0.05,0.72 L0.14,0.32 L0.22,0.18 C0.26,0.08 0.32,0 0.5,0 Z" fill="#e2e2e2" transform="translate(553.92,284.70) scale(5.76,10.42)"/>
<ellipse cx="556.80" cy="284.70" rx="1.10" ry="1.00" fill="#7a1ef0" opacity="0.9"/>
<line x1="564.20" y1="295.42" x2="564.20" y2="302.00" stroke="#8a8a8a" stroke-width="0.7"/>
<path d="M0.5,0 C0.68,0 0.74,0.08 0.78,0.18 L0.86,0.32 L0.95,0.72 C0.99,0.9 0.82,1 0.5,1 C0.18,1 0.01,0.9 0.05,0.72 L0.14,0.32 L0.22,0.18 C0.26,0.08 0.32,0 0.5,0 Z" fill="#c2c2c2" transform="translate(560.20,283.40) scale(8.00,13.02)"/>
<path d="M0.5,0 C0.68,0 0.74,0.08 0.78,0.18 L0.86,0.32 L0.95,0.72 C0.99,0.9 0.82,1 0.5,1 C0.18,1 0.01,0.9 0.05,0.72 L0.14,0.32 L0.22,0.18 C0.26,0.08 0.32,0 0.5,0 Z" fill="#e2e2e2" transform="translate(561.32,284.70) scale(5.76,10.42)"/>
<ellipse cx="564.20" cy="284.05" rx="1.10" ry="1.00" fill="#7a1ef0" opacity="0.9"/>
<rect x="570.30" y="282.60" width="23.10" height="19.60" fill="#282828" stroke="none" stroke-width="0.8"/>
<line x1="574.20" y1="295.42" x2="574.20" y2="302.00" stroke="#8a8a8a" stroke-width="0.7"/>
<path d="M0.5,0 C0.68,0 0.74,0.08 0.78,0.18 L0.86,0.32 L0.95,0.72 C0.99,0.9 0.82,1 0.5,1 C0.18,1 0.01,0.9 0.05,0.72 L0.14,0.32 L0.22,0.18 C0.26,0.08 0.32,0 0.5,0 Z" fill="#c2c2c2" transform="translate(570.20,283.40) scale(8.00,13.02)"/>
<path d="M0.5,0 C0.68,0 0.74,0.08 0.78,0.18 L0.86,0.32 L0.95,0.72 C0.99,0.9 0.82,1 0.5,1 C0.18,1 0.01,0.9 0.05,0.72 L0.14,0.32 L0.22,0.18 C0.26,0.08 0.32,0 0.5,0 Z" fill="#e2e2e2" transform="translate(571.32,284.70) scale(5.76,10.42)"/>
<ellipse cx="574.20" cy="284.70" rx="2.42" ry="2.20" fill="#6a22f2"/>
<ellipse cx="574.20" cy="284.70" rx="1.32" ry="1.21" fill="#3a50ff"/>
<line x1="581.60" y1="295.42" x2="581.60" y2="302.00" stroke="#8a8a8a" stroke-width="0.7"/>
<path d="M0.5,0 C0.68,0 0.74,0.08 0.78,0.18 L0.86,0.32 L0.95,0.72 C0.99,0.9 0.82,1 0.5,1 C0.18,1 0.01,0.9 0.05,0.72 L0.14,0.32 L0.22,0.18 C0.26,0.08 0.32,0 0.5,0 Z" fill="#c2c2c2" transform="translate(577.60,283.40) scale(8.00,13.02)"/>
<path d="M0.5,0 C0.68,0 0.74,0.08 0.78,0.18 L0.86,0.32 L0.95,0.72 C0.99,0.9 0.82,1 0.5,1 C0.18,1 0.01,0.9 0.05,0.72 L0.14,0.32 L0.22,0.18 C0.26,0.08 0.32,0 0.5,0 Z" fill="#e2e2e2" transform="translate(578.72,284.70) scale(5.76,10.42)"/>
<ellipse cx="581.60" cy="284.70" rx="2.42" ry="2.20" fill="#6a22f2"/>
<ellipse cx="581.60" cy="284.70" rx="1.32" ry="1.21" fill="#3a50ff"/>
<rect x="594.20" y="282.60" width="24.30" height="19.60" fill="#282828" stroke="none" stroke-width="0.8"/>
<line x1="598.10" y1="295.42" x2="598.10" y2="302.00" stroke="#8a8a8a" stroke-width="0.7"/>
<path d="M0.5,0 C0.68,0 0.74,0.08 0.78,0.18 L0.86,0.32 L0.95,0.72 C0.99,0.9 0.82,1 0.5,1 C0.18,1 0.01,0.9 0.05,0.72 L0.14,0.32 L0.22,0.18 C0.26,0.08 0.32,0 0.5,0 Z" fill="#c2c2c2" transform="translate(594.10,283.40) scale(8.00,13.02)"/>
<path d="M0.5,0 C0.68,0 0.74,0.08 0.78,0.18 L0.86,0.32 L0.95,0.72 C0.99,0.9 0.82,1 0.5,1 C0.18,1 0.01,0.9 0.05,0.72 L0.14,0.32 L0.22,0.18 C0.26,0.08 0.32,0 0.5,0 Z" fill="#e2e2e2" transform="translate(595.22,284.70) scale(5.76,10.42)"/>
<line x1="605.50" y1="295.42" x2="605.50" y2="302.00" stroke="#8a8a8a" stroke-width="0.7"/>
<path d="M0.5,0 C0.68,0 0.74,0.08 0.78,0.18 L0.86,0.32 L0.95,0.72 C0.99,0.9 0.82,1 0.5,1 C0.18,1 0.01,0.9 0.05,0.72 L0.14,0.32 L0.22,0.18 C0.26,0.08 0.32,0 0.5,0 Z" fill="#c2c2c2" transform="translate(601.50,283.40) scale(8.00,13.02)"/>
<path d="M0.5,0 C0.68,0 0.74,0.08 0.78,0.18 L0.86,0.32 L0.95,0.72 C0.99,0.9 0.82,1 0.5,1 C0.18,1 0.01,0.9 0.05,0.72 L0.14,0.32 L0.22,0.18 C0.26,0.08 0.32,0 0.5,0 Z" fill="#e2e2e2" transform="translate(602.62,284.70) scale(5.76,10.42)"/>
<line x1="612.90" y1="295.42" x2="612.90" y2="302.00" stroke="#8a8a8a" stroke-width="0.7"/>
<path d="M0.5,0 C0.68,0 0.74,0.08 0.78,0.18 L0.86,0.32 L0.95,0.72 C0.99,0.9 0.82,1 0.5,1 C0.18,1 0.01,0.9 0.05,0.72 L0.14,0.32 L0.22,0.18 C0.26,0.08 0.32,0 0.5,0 Z" fill="#c2c2c2" transform="translate(608.90,283.40) scale(8.00,13.02)"/>
<path d="M0.5,0 C0.68,0 0.74,0.08 0.78,0.18 L0.86,0.32 L0.95,0.72 C0.99,0.9 0.82,1 0.5,1 C0.18,1 0.01,0.9 0.05,0.72 L0.14,0.32 L0.22,0.18 C0.26,0.08 0.32,0 0.5,0 Z" fill="#e2e2e2" transform="translate(610.02,284.70) scale(5.76,10.42)"/>
<rect x="619.10" y="282.60" width="22.60" height="19.60" fill="#282828" stroke="none" stroke-width="0.8"/>
<line x1="623.00" y1="295.42" x2="623.00" y2="302.00" stroke="#8a8a8a" stroke-width="0.7"/>
<path d="M0.5,0 C0.68,0 0.74,0.08 0.78,0.18 L0.86,0.32 L0.95,0.72 C0.99,0.9 0.82,1 0.5,1 C0.18,1 0.01,0.9 0.05,0.72 L0.14,0.32 L0.22,0.18 C0.26,0.08 0.32,0 0.5,0 Z" fill="#c2c2c2" transform="translate(619.00,283.40) scale(8.00,13.02)"/>
<path d="M0.5,0 C0.68,0 0.74,0.08 0.78,0.18 L0.86,0.32 L0.95,0.72 C0.99,0.9 0.82,1 0.5,1 C0.18,1 0.01,0.9 0.05,0.72 L0.14,0.32 L0.22,0.18 C0.26,0.08 0.32,0 0.5,0 Z" fill="#e2e2e2" transform="translate(620.12,284.70) scale(5.76,10.42)"/>
<line x1="630.40" y1="295.42" x2="630.40" y2="302.00" stroke="#8a8a8a" stroke-width="0.7"/>
<path d="M0.5,0 C0.68,0 0.74,0.08 0.78,0.18 L0.86,0.32 L0.95,0.72 C0.99,0.9 0.82,1 0.5,1 C0.18,1 0.01,0.9 0.05,0.72 L0.14,0.32 L0.22,0.18 C0.26,0.08 0.32,0 0.5,0 Z" fill="#c2c2c2" transform="translate(626.40,283.40) scale(8.00,13.02)"/>
<path d="M0.5,0 C0.68,0 0.74,0.08 0.78,0.18 L0.86,0.32 L0.95,0.72 C0.99,0.9 0.82,1 0.5,1 C0.18,1 0.01,0.9 0.05,0.72 L0.14,0.32 L0.22,0.18 C0.26,0.08 0.32,0 0.5,0 Z" fill="#e2e2e2" transform="translate(627.52,284.70) scale(5.76,10.42)"/>
<rect x="545.50" y="303.00" width="24.20" height="20.40" fill="#282828" stroke="none" stroke-width="0.8"/>
<line x1="549.40" y1="316.38" x2="549.40" y2="323.20" stroke="#8a8a8a" stroke-width="0.7"/>
<path d="M0.5,0 C0.68,0 0.74,0.08 0.78,0.18 L0.86,0.32 L0.95,0.72 C0.99,0.9 0.82,1 0.5,1 C0.18,1 0.01,0.9 0.05,0.72 L0.14,0.32 L0.22,0.18 C0.26,0.08 0.32,0 0.5,0 Z" fill="#c2c2c2" transform="translate(545.40,303.80) scale(8.00,13.58)"/>
<path d="M0.5,0 C0.68,0 0.74,0.08 0.78,0.18 L0.86,0.32 L0.95,0.72 C0.99,0.9 0.82,1 0.5,1 C0.18,1 0.01,0.9 0.05,0.72 L0.14,0.32 L0.22,0.18 C0.26,0.08 0.32,0 0.5,0 Z" fill="#e2e2e2" transform="translate(546.52,305.16) scale(5.76,10.86)"/>
<circle cx="549.40" cy="306.24" r="3.00" fill="#6a1cf2"/>
<circle cx="549.40" cy="306.24" r="2.16" fill="#2a3cff"/>
<circle cx="549.40" cy="306.24" r="1.35" fill="#20c8e0"/>
<circle cx="549.40" cy="306.24" r="1.08" fill="#f01010"/>
<line x1="556.80" y1="316.38" x2="556.80" y2="323.20" stroke="#8a8a8a" stroke-width="0.7"/>
<path d="M0.5,0 C0.68,0 0.74,0.08 0.78,0.18 L0.86,0.32 L0.95,0.72 C0.99,0.9 0.82,1 0.5,1 C0.18,1 0.01,0.9 0.05,0.72 L0.14,0.32 L0.22,0.18 C0.26,0.08 0.32,0 0.5,0 Z" fill="#c2c2c2" transform="translate(552.80,303.80) scale(8.00,13.58)"/>
<path d="M0.5,0 C0.68,0 0.74,0.08 0.78,0.18 L0.86,0.32 L0.95,0.72 C0.99,0.9 0.82,1 0.5,1 C0.18,1 0.01,0.9 0.05,0.72 L0.14,0.32 L0.22,0.18 C0.26,0.08 0.32,0 0.5,0 Z" fill="#e2e2e2" transform="translate(553.92,305.16) scale(5.76,10.86)"/>
<ellipse cx="556.80" cy="305.84" rx="1.65" ry="1.50" fill="#7a1ef0" opacity="0.9"/>
<line x1="564.20" y1="316.38" x2="564.20" y2="323.20" stroke="#8a8a8a" stroke-width="0.7"/>
<path d="M0.5,0 C0.68,0 0.74,0.08 0.78,0.18 L0.86,0.32 L0.95,0.72 C0.99,0.9 0.82,1 0.5,1 C0.18,1 0.01,0.9 0.05,0.72 L0.14,0.32 L0.22,0.18 C0.26,0.08 0.32,0 0.5,0 Z" fill="#c2c2c2" transform="translate(560.20,303.80) scale(8.00,13.58)"/>
<path d="M0.5,0 C0.68,0 0.74,0.08 0.78,0.18 L0.86,0.32 L0.95,0.72 C0.99,0.9 0.82,1 0.5,1 C0.18,1 0.01,0.9 0.05,0.72 L0.14,0.32 L0.22,0.18 C0.26,0.08 0.32,0 0.5,0 Z" fill="#e2e2e2" transform="translate(561.32,305.16) scale(5.76,10.86)"/>
<circle cx="564.20" cy="305.16" r="3.00" fill="#6a1cf2"/>
<circle cx="564.20" cy="305.16" r="2.16" fill="#2a3cff"/>
<circle cx="564.20" cy="305.16" r="1.35" fill="#20c8e0"/>
<circle cx="564.20" cy="305.16" r="1.08" fill="#f01010"/>
<rect x="570.30" y="303.00" width="23.10" height="20.40" fill="#282828" stroke="none" stroke-width="0.8"/>
<line x1="574.20" y1="316.38" x2="574.20" y2="323.20" stroke="#8a8a8a" stroke-width="0.7"/>
<path d="M0.5,0 C0.68,0 0.74,0.08 0.78,0.18 L0.86,0.32 L0.95,0.72 C0.99,0.9 0.82,1 0.5,1 C0.18,1 0.01,0.9 0.05,0.72 L0.14,0.32 L0.22,0.18 C0.26,0.08 0.32,0 0.5,0 Z" fill="#c2c2c2" transform="translate(570.20,303.80) scale(8.00,13.58)"/>
<path d="M0.5,0 C0.68,0 0.74,0.08 0.78,0.18 L0.86,0.32 L0.95,0.72 C0.99,0.9 0.82,1 0.5,1 C0.18,1 0.01,0.9 0.05,0.72 L0.14,0.32 L0.22,0.18 C0.26,0.08 0.32,0 0.5,0 Z" fill="#e2e2e2" transform="translate(571.32,305.16) scale(5.76,10.86)"/>
<circle cx="574.20" cy="305.84" r="3.60" fill="#6a1cf2"/>
<circle cx="574.20" cy="305.84" r="2.59" fill="#2a3cff"/>
<circle cx="574.20" cy="305.84" r="1.62" fill="#20c8e0"/>
<circle cx="574.20" cy="305.84" r="1.30" fill="#f01010"/>
<ellipse cx="574.20" cy="309.23" rx="2.20" ry="2.00" fill="#7a1ef0" opacity="0.9"/>
<line x1="581.60" y1="316.38" x2="581.60" y2="323.20" stroke="#8a8a8a" stroke-width="0.7"/>
<path d="M0.5,0 C0.68,0 0.74,0.08 0.78,0.18 L0.86,0.32 L0.95,0.72 C0.99,0.9 0.82,1 0.5,1 C0.18,1 0.01,0.9 0.05,0.72 L0.14,0.32 L0.22,0.18 C0.26,0.08 0.32,0 0.5,0 Z" fill="#c2c2c2" transform="translate(577.60,303.80) scale(8.00,13.58)"/>
<path d="M0.5,0 C0.68,0 0.74,0.08 0.78,0.18 L0.86,0.32 L0.95,0.72 C0.99,0.9 0.82,1 0.5,1 C0.18,1 0.01,0.9 0.05,0.72 L0.14,0.32 L0.22,0.18 C0.26,0.08 0.32,0 0.5,0 Z" fill="#e2e2e2" transform="translate(578.72,305.16) scale(5.76,10.86)"/>
<circle cx="581.60" cy="306.52" r="3.00" fill="#6a1cf2"/>
<circle cx="581.60" cy="306.52" r="2.16" fill="#2a3cff"/>
<circle cx="581.60" cy="306.52" r="1.35" fill="#20c8e0"/>
<circle cx="581.60" cy="306.52" r="1.08" fill="#f01010"/>
<rect x="594.20" y="303.00" width="24.30" height="20.40" fill="#282828" stroke="none" stroke-width="0.8"/>
<line x1="598.10" y1="316.38" x2="598.10" y2="323.20" stroke="#8a8a8a" stroke-width="0.7"/>
<path d="M0.5,0 C0.68,0 0.74,0.08 0.78,0.18 L0.86,0.32 L0.95,0.72 C0.99,0.9 0.82,1 0.5,1 C0.18,1 0.01,0.9 0.05,0.72 L0.14,0.32 L0.22,0.18 C0.26,0.08 0.32,0 0.5,0 Z" fill="#c2c2c2" transform="translate(594.10,303.80) scale(8.00,13.58)"/>
<path d="M0.5,0 C0.68,0 0.74,0.08 0.78,0.18 L0.86,0.32 L0.95,0.72 C0.99,0.9 0.82,1 0.5,1 C0.18,1 0.01,0.9 0.05,0.72 L0.14,0.32 L0.22,0.18 C0.26,0.08 0.32,0 0.5,0 Z" fill="#e2e2e2" transform="translate(595.22,305.16) scale(5.76,10.86)"/>
<line x1="605.50" y1="316.38" x2="605.50" y2="323.20" stroke="#8a8a8a" stroke-width="0.7"/>
<path d="M0.5,0 C0.68,0 0.74,0.08 0.78,0.18 L0.86,0.32 L0.95,0.72 C0.99,0.9 0.82,1 0.5,1 C0.18,1 0.01,0.9 0.05,0.72 L0.14,0.32 L0.22,0.18 C0.26,0.08 0.32,0 0.5,0 Z" fill="#c2c2c2" transform="translate(601.50,303.80) scale(8.00,13.58)"/>
<path d="M0.5,0 C0.68,0 0.74,0.08 0.78,0.18 L0.86,0.32 L0.95,0.72 C0.99,0.9 0.82,1 0.5,1 C0.18,1 0.01,0.9 0.05,0.72 L0.14,0.32 L0.22,0.18 C0.26,0.08 0.32,0 0.5,0 Z" fill="#e2e2e2" transform="translate(602.62,305.16) scale(5.76,10.86)"/>
<line x1="612.90" y1="316.38" x2="612.90" y2="323.20" stroke="#8a8a8a" stroke-width="0.7"/>
<path d="M0.5,0 C0.68,0 0.74,0.08 0.78,0.18 L0.86,0.32 L0.95,0.72 C0.99,0.9 0.82,1 0.5,1 C0.18,1 0.01,0.9 0.05,0.72 L0.14,0.32 L0.22,0.18 C0.26,0.08 0.32,0 0.5,0 Z" fill="#c2c2c2" transform="translate(608.90,303.80) scale(8.00,13.58)"/>
<path d="M0.5,0 C0.68,0 0.74,0.08 0.78,0.18 L0.86,0.32 L0.95,0.72 C0.99,0.9 0.82,1 0.5,1 C0.18,1 0.01,0.9 0.05,0.72 L0.14,0.32 L0.22,0.18 C0.26,0.08 0.32,0 0.5,0 Z" fill="#e2e2e2" transform="translate(610.02,305.16) scale(5.76,10.86)"/>
<rect x="619.10" y="303.00" width="22.60" height="20.40" fill="#282828" stroke="none" stroke-width="0.8"/>
<line x1="623.00" y1="316.38" x2="623.00" y2="323.20" stroke="#8a8a8a" stroke-width="0.7"/>
<path d="M0.5,0 C0.68,0 0.74,0.08 0.78,0.18 L0.86,0.32 L0.95,0.72 C0.99,0.9 0.82,1 0.5,1 C0.18,1 0.01,0.9 0.05,0.72 L0.14,0.32 L0.22,0.18 C0.26,0.08 0.32,0 0.5,0 Z" fill="#c2c2c2" transform="translate(619.00,303.80) scale(8.00,13.58)"/>
<path d="M0.5,0 C0.68,0 0.74,0.08 0.78,0.18 L0.86,0.32 L0.95,0.72 C0.99,0.9 0.82,1 0.5,1 C0.18,1 0.01,0.9 0.05,0.72 L0.14,0.32 L0.22,0.18 C0.26,0.08 0.32,0 0.5,0 Z" fill="#e2e2e2" transform="translate(620.12,305.16) scale(5.76,10.86)"/>
<line x1="630.40" y1="316.38" x2="630.40" y2="323.20" stroke="#8a8a8a" stroke-width="0.7"/>
<path d="M0.5,0 C0.68,0 0.74,0.08 0.78,0.18 L0.86,0.32 L0.95,0.72 C0.99,0.9 0.82,1 0.5,1 C0.18,1 0.01,0.9 0.05,0.72 L0.14,0.32 L0.22,0.18 C0.26,0.08 0.32,0 0.5,0 Z" fill="#c2c2c2" transform="translate(626.40,303.80) scale(8.00,13.58)"/>
<path d="M0.5,0 C0.68,0 0.74,0.08 0.78,0.18 L0.86,0.32 L0.95,0.72 C0.99,0.9 0.82,1 0.5,1 C0.18,1 0.01,0.9 0.05,0.72 L0.14,0.32 L0.22,0.18 C0.26,0.08 0.32,0 0.5,0 Z" fill="#e2e2e2" transform="translate(627.52,305.16) scale(5.76,10.86)"/>
<rect x="545.50" y="324.40" width="24.20" height="20.80" fill="#282828" stroke="none" stroke-width="0.8"/>
<line x1="556.80" y1="338.06" x2="556.80" y2="345.00" stroke="#8a8a8a" stroke-width="0.7"/>
<path d="M0.5,0 C0.68,0 0.74,0.08 0.78,0.18 L0.86,0.32 L0.95,0.72 C0.99,0.9 0.82,1 0.5,1 C0.18,1 0.01,0.9 0.05,0.72 L0.14,0.32 L0.22,0.18 C0.26,0.08 0.32,0 0.5,0 Z" fill="#c2c2c2" transform="translate(552.80,325.20) scale(8.00,13.86)"/>
<path d="M0.5,0 C0.68,0 0.74,0.08 0.78,0.18 L0.86,0.32 L0.95,0.72 C0.99,0.9 0.82,1 0.5,1 C0.18,1 0.01,0.9 0.05,0.72 L0.14,0.32 L0.22,0.18 C0.26,0.08 0.32,0 0.5,0 Z" fill="#e2e2e2" transform="translate(553.92,326.59) scale(5.76,11.09)"/>
<circle cx="556.80" cy="326.86" r="3.00" fill="#6a1cf2"/>
<circle cx="556.80" cy="326.86" r="2.16" fill="#2a3cff"/>
<circle cx="556.80" cy="326.86" r="1.35" fill="#20c8e0"/>
<circle cx="556.80" cy="326.86" r="1.08" fill="#f01010"/>
<ellipse cx="554.40" cy="329.36" rx="1.65" ry="1.50" fill="#7a1ef0" opacity="0.9"/>
<line x1="564.20" y1="338.06" x2="564.20" y2="345.00" stroke="#8a8a8a" stroke-width="0.7"/>
<path d="M0.5,0 C0.68,0 0.74,0.08 0.78,0.18 L0.86,0.32 L0.95,0.72 C0.99,0.9 0.82,1 0.5,1 C0.18,1 0.01,0.9 0.05,0.72 L0.14,0.32 L0.22,0.18 C0.26,0.08 0.32,0 0.5,0 Z" fill="#c2c2c2" transform="translate(560.20,325.20) scale(8.00,13.86)"/>
<path d="M0.5,0 C0.68,0 0.74,0.08 0.78,0.18 L0.86,0.32 L0.95,0.72 C0.99,0.9 0.82,1 0.5,1 C0.18,1 0.01,0.9 0.05,0.72 L0.14,0.32 L0.22,0.18 C0.26,0.08 0.32,0 0.5,0 Z" fill="#e2e2e2" transform="translate(561.32,326.59) scale(5.76,11.09)"/>
<circle cx="564.20" cy="326.86" r="3.00" fill="#6a1cf2"/>
<circle cx="564.20" cy="326.86" r="2.16" fill="#2a3cff"/>
<circle cx="564.20" cy="326.86" r="1.35" fill="#20c8e0"/>
<circle cx="564.20" cy="326.86" r="1.08" fill="#f01010"/>
<rect x="570.30" y="324.40" width="23.10" height="20.80" fill="#282828" stroke="none" stroke-width="0.8"/>
<line x1="574.20" y1="338.06" x2="574.20" y2="345.00" stroke="#8a8a8a" stroke-width="0.7"/>
<path d="M0.5,0 C0.68,0 0.74,0.08 0.78,0.18 L0.86,0.32 L0.95,0.72 C0.99,0.9 0.82,1 0.5,1 C0.18,1 0.01,0.9 0.05,0.72 L0.14,0.32 L0.22,0.18 C0.26,0.08 0.32,0 0.5,0 Z" fill="#c2c2c2" transform="translate(570.20,325.20) scale(8.00,13.86)"/>
<path d="M0.5,0 C0.68,0 0.74,0.08 0.78,0.18 L0.86,0.32 L0.95,0.72 C0.99,0.9 0.82,1 0.5,1 C0.18,1 0.01,0.9 0.05,0.72 L0.14,0.32 L0.22,0.18 C0.26,0.08 0.32,0 0.5,0 Z" fill="#e2e2e2" transform="translate(571.32,326.59) scale(5.76,11.09)"/>
<circle cx="574.20" cy="326.59" r="2.60" fill="#6a1cf2"/>
<circle cx="574.20" cy="326.59" r="1.87" fill="#2a3cff"/>
<circle cx="574.20" cy="326.59" r="1.17" fill="#20c8e0"/>
<circle cx="574.20" cy="326.59" r="0.94" fill="#f01010"/>
<ellipse cx="574.20" cy="333.52" rx="1.65" ry="1.50" fill="#7a1ef0" opacity="0.9"/>
<line x1="581.60" y1="338.06" x2="581.60" y2="345.00" stroke="#8a8a8a" stroke-width="0.7"/>
<path d="M0.5,0 C0.68,0 0.74,0.08 0.78,0.18 L0.86,0.32 L0.95,0.72 C0.99,0.9 0.82,1 0.5,1 C0.18,1 0.01,0.9 0.05,0.72 L0.14,0.32 L0.22,0.18 C0.26,0.08 0.32,0 0.5,0 Z" fill="#c2c2c2" transform="translate(577.60,325.20) scale(8.00,13.86)"/>
<path d="M0.5,0 C0.68,0 0.74,0.08 0.78,0.18 L0.86,0.32 L0.95,0.72 C0.99,0.9 0.82,1 0.5,1 C0.18,1 0.01,0.9 0.05,0.72 L0.14,0.32 L0.22,0.18 C0.26,0.08 0.32,0 0.5,0 Z" fill="#e2e2e2" transform="translate(578.72,326.59) scale(5.76,11.09)"/>
<circle cx="581.60" cy="327.28" r="3.80" fill="#6a1cf2"/>
<circle cx="581.60" cy="327.28" r="2.74" fill="#2a3cff"/>
<circle cx="581.60" cy="327.28" r="1.71" fill="#20c8e0"/>
<circle cx="581.60" cy="327.28" r="1.37" fill="#f01010"/>
<ellipse cx="581.60" cy="335.59" rx="3.08" ry="2.80" fill="#6a22f2"/>
<ellipse cx="581.60" cy="335.59" rx="1.68" ry="1.54" fill="#3a50ff"/>
<rect x="594.20" y="324.40" width="24.30" height="20.80" fill="#282828" stroke="none" stroke-width="0.8"/>
<line x1="598.10" y1="338.06" x2="598.10" y2="345.00" stroke="#8a8a8a" stroke-width="0.7"/>
<path d="M0.5,0 C0.68,0 0.74,0.08 0.78,0.18 L0.86,0.32 L0.95,0.72 C0.99,0.9 0.82,1 0.5,1 C0.18,1 0.01,0.9 0.05,0.72 L0.14,0.32 L0.22,0.18 C0.26,0.08 0.32,0 0.5,0 Z" fill="#c2c2c2" transform="translate(594.10,325.20) scale(8.00,13.86)"/>
<path d="M0.5,0 C0.68,0 0.74,0.08 0.78,0.18 L0.86,0.32 L0.95,0.72 C0.99,0.9 0.82,1 0.5,1 C0.18,1 0.01,0.9 0.05,0.72 L0.14,0.32 L0.22,0.18 C0.26,0.08 0.32,0 0.5,0 Z" fill="#e2e2e2" transform="translate(595.22,326.59) scale(5.76,11.09)"/>
<line x1="605.50" y1="338.06" x2="605.50" y2="345.00" stroke="#8a8a8a" stroke-width="0.7"/>
<path d="M0.5,0 C0.68,0 0.74,0.08 0.78,0.18 L0.86,0.32 L0.95,0.72 C0.99,0.9 0.82,1 0.5,1 C0.18,1 0.01,0.9 0.05,0.72 L0.14,0.32 L0.22,0.18 C0.26,0.08 0.32,0 0.5,0 Z" fill="#c2c2c2" transform="translate(601.50,325.20) scale(8.00,13.86)"/>
<path d="M0.5,0 C0.68,0 0.74,0.08 0.78,0.18 L0.86,0.32 L0.95,0.72 C0.99,0.9 0.82,1 0.5,1 C0.18,1 0.01,0.9 0.05,0.72 L0.14,0.32 L0.22,0.18 C0.26,0.08 0.32,0 0.5,0 Z" fill="#e2e2e2" transform="translate(602.62,326.59) scale(5.76,11.09)"/>
<line x1="612.90" y1="338.06" x2="612.90" y2="345.00" stroke="#8a8a8a" stroke-width="0.7"/>
<path d="M0.5,0 C0.68,0 0.74,0.08 0.78,0.18 L0.86,0.32 L0.95,0.72 C0.99,0.9 0.82,1 0.5,1 C0.18,1 0.01,0.9 0.05,0.72 L0.14,0.32 L0.22,0.18 C0.26,0.08 0.32,0 0.5,0 Z" fill="#c2c2c2" transform="translate(608.90,325.20) scale(8.00,13.86)"/>
<path d="M0.5,0 C0.68,0 0.74,0.08 0.78,0.18 L0.86,0.32 L0.95,0.72 C0.99,0.9 0.82,1 0.5,1 C0.18,1 0.01,0.9 0.05,0.72 L0.14,0.32 L0.22,0.18 C0.26,0.08 0.32,0 0.5,0 Z" fill="#e2e2e2" transform="translate(610.02,326.59) scale(5.76,11.09)"/>
<rect x="619.10" y="324.40" width="22.60" height="20.80" fill="#282828" stroke="none" stroke-width="0.8"/>
<line x1="623.00" y1="338.06" x2="623.00" y2="345.00" stroke="#8a8a8a" stroke-width="0.7"/>
<path d="M0.5,0 C0.68,0 0.74,0.08 0.78,0.18 L0.86,0.32 L0.95,0.72 C0.99,0.9 0.82,1 0.5,1 C0.18,1 0.01,0.9 0.05,0.72 L0.14,0.32 L0.22,0.18 C0.26,0.08 0.32,0 0.5,0 Z" fill="#c2c2c2" transform="translate(619.00,325.20) scale(8.00,13.86)"/>
<path d="M0.5,0 C0.68,0 0.74,0.08 0.78,0.18 L0.86,0.32 L0.95,0.72 C0.99,0.9 0.82,1 0.5,1 C0.18,1 0.01,0.9 0.05,0.72 L0.14,0.32 L0.22,0.18 C0.26,0.08 0.32,0 0.5,0 Z" fill="#e2e2e2" transform="translate(620.12,326.59) scale(5.76,11.09)"/>
<line x1="630.40" y1="338.06" x2="630.40" y2="345.00" stroke="#8a8a8a" stroke-width="0.7"/>
<path d="M0.5,0 C0.68,0 0.74,0.08 0.78,0.18 L0.86,0.32 L0.95,0.72 C0.99,0.9 0.82,1 0.5,1 C0.18,1 0.01,0.9 0.05,0.72 L0.14,0.32 L0.22,0.18 C0.26,0.08 0.32,0 0.5,0 Z" fill="#c2c2c2" transform="translate(626.40,325.20) scale(8.00,13.86)"/>
<path d="M0.5,0 C0.68,0 0.74,0.08 0.78,0.18 L0.86,0.32 L0.95,0.72 C0.99,0.9 0.82,1 0.5,1 C0.18,1 0.01,0.9 0.05,0.72 L0.14,0.32 L0.22,0.18 C0.26,0.08 0.32,0 0.5,0 Z" fill="#e2e2e2" transform="translate(627.52,326.59) scale(5.76,11.09)"/>
<rect x="545.50" y="346.20" width="24.20" height="21.40" fill="#282828" stroke="none" stroke-width="0.8"/>
<line x1="556.80" y1="360.28" x2="556.80" y2="367.40" stroke="#8a8a8a" stroke-width="0.7"/>
<path d="M0.5,0 C0.68,0 0.74,0.08 0.78,0.18 L0.86,0.32 L0.95,0.72 C0.99,0.9 0.82,1 0.5,1 C0.18,1 0.01,0.9 0.05,0.72 L0.14,0.32 L0.22,0.18 C0.26,0.08 0.32,0 0.5,0 Z" fill="#c2c2c2" transform="translate(552.80,347.00) scale(8.00,14.28)"/>
<path d="M0.5,0 C0.68,0 0.74,0.08 0.78,0.18 L0.86,0.32 L0.95,0.72 C0.99,0.9 0.82,1 0.5,1 C0.18,1 0.01,0.9 0.05,0.72 L0.14,0.32 L0.22,0.18 C0.26,0.08 0.32,0 0.5,0 Z" fill="#e2e2e2" transform="translate(553.92,348.43) scale(5.76,11.42)"/>
<circle cx="556.80" cy="348.43" r="3.00" fill="#6a1cf2"/>
<circle cx="556.80" cy="348.43" r="2.16" fill="#2a3cff"/>
<circle cx="556.80" cy="348.43" r="1.35" fill="#20c8e0"/>
<circle cx="556.80" cy="348.43" r="1.08" fill="#f01010"/>
<line x1="564.20" y1="360.28" x2="564.20" y2="367.40" stroke="#8a8a8a" stroke-width="0.7"/>
<path d="M0.5,0 C0.68,0 0.74,0.08 0.78,0.18 L0.86,0.32 L0.95,0.72 C0.99,0.9 0.82,1 0.5,1 C0.18,1 0.01,0.9 0.05,0.72 L0.14,0.32 L0.22,0.18 C0.26,0.08 0.32,0 0.5,0 Z" fill="#c2c2c2" transform="translate(560.20,347.00) scale(8.00,14.28)"/>
<path d="M0.5,0 C0.68,0 0.74,0.08 0.78,0.18 L0.86,0.32 L0.95,0.72 C0.99,0.9 0.82,1 0.5,1 C0.18,1 0.01,0.9 0.05,0.72 L0.14,0.32 L0.22,0.18 C0.26,0.08 0.32,0 0.5,0 Z" fill="#e2e2e2" transform="translate(561.32,348.43) scale(5.76,11.42)"/>
<ellipse cx="564.20" cy="351.28" rx="1.32" ry="1.20" fill="#7a1ef0" opacity="0.9"/>
<rect x="570.30" y="346.20" width="23.10" height="21.40" fill="#282828" stroke="none" stroke-width="0.8"/>
<line x1="574.20" y1="360.28" x2="574.20" y2="367.40" stroke="#8a8a8a" stroke-width="0.7"/>
<path d="M0.5,0 C0.68,0 0.74,0.08 0.78,0.18 L0.86,0.32 L0.95,0.72 C0.99,0.9 0.82,1 0.5,1 C0.18,1 0.01,0.9 0.05,0.72 L0.14,0.32 L0.22,0.18 C0.26,0.08 0.32,0 0.5,0 Z" fill="#c2c2c2" transform="translate(570.20,347.00) scale(8.00,14.28)"/>
<path d="M0.5,0 C0.68,0 0.74,0.08 0.78,0.18 L0.86,0.32 L0.95,0.72 C0.99,0.9 0.82,1 0.5,1 C0.18,1 0.01,0.9 0.05,0.72 L0.14,0.32 L0.22,0.18 C0.26,0.08 0.32,0 0.5,0 Z" fill="#e2e2e2" transform="translate(571.32,348.43) scale(5.76,11.42)"/>
<ellipse cx="574.20" cy="351.28" rx="4.95" ry="4.50" fill="#6a22f2"/>
<ellipse cx="574.20" cy="351.28" rx="2.70" ry="2.48" fill="#3a50ff"/>
<circle cx="574.20" cy="351.28" r="2.00" fill="#6a1cf2"/>
<circle cx="574.20" cy="351.28" r="1.44" fill="#2a3cff"/>
<circle cx="574.20" cy="351.28" r="0.90" fill="#20c8e0"/>
<circle cx="574.20" cy="351.28" r="0.72" fill="#f01010"/>
<ellipse cx="574.20" cy="357.71" rx="3.30" ry="3.00" fill="#6a22f2"/>
<ellipse cx="574.20" cy="357.71" rx="1.80" ry="1.65" fill="#3a50ff"/>
<circle cx="575.40" cy="357.00" r="1.50" fill="#6a1cf2"/>
<circle cx="575.40" cy="357.00" r="1.08" fill="#2a3cff"/>
<circle cx="575.40" cy="357.00" r="0.68" fill="#20c8e0"/>
<circle cx="575.40" cy="357.00" r="0.54" fill="#f01010"/>
<line x1="581.60" y1="360.28" x2="581.60" y2="367.40" stroke="#8a8a8a" stroke-width="0.7"/>
<path d="M0.5,0 C0.68,0 0.74,0.08 0.78,0.18 L0.86,0.32 L0.95,0.72 C0.99,0.9 0.82,1 0.5,1 C0.18,1 0.01,0.9 0.05,0.72 L0.14,0.32 L0.22,0.18 C0.26,0.08 0.32,0 0.5,0 Z" fill="#c2c2c2" transform="translate(577.60,347.00) scale(8.00,14.28)"/>
<path d="M0.5,0 C0.68,0 0.74,0.08 0.78,0.18 L0.86,0.32 L0.95,0.72 C0.99,0.9 0.82,1 0.5,1 C0.18,1 0.01,0.9 0.05,0.72 L0.14,0.32 L0.22,0.18 C0.26,0.08 0.32,0 0.5,0 Z" fill="#e2e2e2" transform="translate(578.72,348.43) scale(5.76,11.42)"/>
<ellipse cx="581.60" cy="351.28" rx="3.85" ry="3.50" fill="#6a22f2"/>
<ellipse cx="581.60" cy="351.28" rx="2.10" ry="1.93" fill="#3a50ff"/>
<circle cx="581.60" cy="352.00" r="2.20" fill="#6a1cf2"/>
<circle cx="581.60" cy="352.00" r="1.58" fill="#2a3cff"/>
<circle cx="581.60" cy="352.00" r="0.99" fill="#20c8e0"/>
<circle cx="581.60" cy="352.00" r="0.79" fill="#f01010"/>
<ellipse cx="581.60" cy="357.71" rx="3.30" ry="3.00" fill="#6a22f2"/>
<ellipse cx="581.60" cy="357.71" rx="1.80" ry="1.65" fill="#3a50ff"/>
<rect x="594.20" y="346.20" width="24.30" height="21.40" fill="#282828" stroke="none" stroke-width="0.8"/>
<line x1="598.10" y1="360.28" x2="598.10" y2="367.40" stroke="#8a8a8a" stroke-width="0.7"/>
<path d="M0.5,0 C0.68,0 0.74,0.08 0.78,0.18 L0.86,0.32 L0.95,0.72 C0.99,0.9 0.82,1 0.5,1 C0.18,1 0.01,0.9 0.05,0.72 L0.14,0.32 L0.22,0.18 C0.26,0.08 0.32,0 0.5,0 Z" fill="#c2c2c2" transform="translate(594.10,347.00) scale(8.00,14.28)"/>
<path d="M0.5,0 C0.68,0 0.74,0.08 0.78,0.18 L0.86,0.32 L0.95,0.72 C0.99,0.9 0.82,1 0.5,1 C0.18,1 0.01,0.9 0.05,0.72 L0.14,0.32 L0.22,0.18 C0.26,0.08 0.32,0 0.5,0 Z" fill="#e2e2e2" transform="translate(595.22,348.43) scale(5.76,11.42)"/>
<line x1="605.50" y1="360.28" x2="605.50" y2="367.40" stroke="#8a8a8a" stroke-width="0.7"/>
<path d="M0.5,0 C0.68,0 0.74,0.08 0.78,0.18 L0.86,0.32 L0.95,0.72 C0.99,0.9 0.82,1 0.5,1 C0.18,1 0.01,0.9 0.05,0.72 L0.14,0.32 L0.22,0.18 C0.26,0.08 0.32,0 0.5,0 Z" fill="#c2c2c2" transform="translate(601.50,347.00) scale(8.00,14.28)"/>
<path d="M0.5,0 C0.68,0 0.74,0.08 0.78,0.18 L0.86,0.32 L0.95,0.72 C0.99,0.9 0.82,1 0.5,1 C0.18,1 0.01,0.9 0.05,0.72 L0.14,0.32 L0.22,0.18 C0.26,0.08 0.32,0 0.5,0 Z" fill="#e2e2e2" transform="translate(602.62,348.43) scale(5.76,11.42)"/>
<line x1="612.90" y1="360.28" x2="612.90" y2="367.40" stroke="#8a8a8a" stroke-width="0.7"/>
<path d="M0.5,0 C0.68,0 0.74,0.08 0.78,0.18 L0.86,0.32 L0.95,0.72 C0.99,0.9 0.82,1 0.5,1 C0.18,1 0.01,0.9 0.05,0.72 L0.14,0.32 L0.22,0.18 C0.26,0.08 0.32,0 0.5,0 Z" fill="#c2c2c2" transform="translate(608.90,347.00) scale(8.00,14.28)"/>
<path d="M0.5,0 C0.68,0 0.74,0.08 0.78,0.18 L0.86,0.32 L0.95,0.72 C0.99,0.9 0.82,1 0.5,1 C0.18,1 0.01,0.9 0.05,0.72 L0.14,0.32 L0.22,0.18 C0.26,0.08 0.32,0 0.5,0 Z" fill="#e2e2e2" transform="translate(610.02,348.43) scale(5.76,11.42)"/>
<rect x="619.10" y="346.20" width="22.60" height="21.40" fill="#282828" stroke="none" stroke-width="0.8"/>
<line x1="623.00" y1="360.28" x2="623.00" y2="367.40" stroke="#8a8a8a" stroke-width="0.7"/>
<path d="M0.5,0 C0.68,0 0.74,0.08 0.78,0.18 L0.86,0.32 L0.95,0.72 C0.99,0.9 0.82,1 0.5,1 C0.18,1 0.01,0.9 0.05,0.72 L0.14,0.32 L0.22,0.18 C0.26,0.08 0.32,0 0.5,0 Z" fill="#c2c2c2" transform="translate(619.00,347.00) scale(8.00,14.28)"/>
<path d="M0.5,0 C0.68,0 0.74,0.08 0.78,0.18 L0.86,0.32 L0.95,0.72 C0.99,0.9 0.82,1 0.5,1 C0.18,1 0.01,0.9 0.05,0.72 L0.14,0.32 L0.22,0.18 C0.26,0.08 0.32,0 0.5,0 Z" fill="#e2e2e2" transform="translate(620.12,348.43) scale(5.76,11.42)"/>
<line x1="630.40" y1="360.28" x2="630.40" y2="367.40" stroke="#8a8a8a" stroke-width="0.7"/>
<path d="M0.5,0 C0.68,0 0.74,0.08 0.78,0.18 L0.86,0.32 L0.95,0.72 C0.99,0.9 0.82,1 0.5,1 C0.18,1 0.01,0.9 0.05,0.72 L0.14,0.32 L0.22,0.18 C0.26,0.08 0.32,0 0.5,0 Z" fill="#c2c2c2" transform="translate(626.40,347.00) scale(8.00,14.28)"/>
<path d="M0.5,0 C0.68,0 0.74,0.08 0.78,0.18 L0.86,0.32 L0.95,0.72 C0.99,0.9 0.82,1 0.5,1 C0.18,1 0.01,0.9 0.05,0.72 L0.14,0.32 L0.22,0.18 C0.26,0.08 0.32,0 0.5,0 Z" fill="#e2e2e2" transform="translate(627.52,348.43) scale(5.76,11.42)"/>
<defs><linearGradient id="cb" x1="0" y1="0" x2="0" y2="1"><stop offset="0" stop-color="#f01010"/><stop offset="0.12" stop-color="#f08010"/><stop offset="0.2" stop-color="#f0f010"/><stop offset="0.38" stop-color="#30e030"/><stop offset="0.5" stop-color="#10e0a0"/><stop offset="0.66" stop-color="#10d0f0"/><stop offset="0.86" stop-color="#2020f0"/><stop offset="1" stop-color="#8010f0"/></linearGradient></defs>
<rect x="649.80" y="222.50" width="2.80" height="118.30" fill="url(#cb)" stroke="none" stroke-width="0.8"/>
<text x="655.80" y="238.72" font-size="5.6" font-weight="bold" text-anchor="start" fill="#000" stroke="#000" stroke-width="0.22">0.8</text>
<text x="655.80" y="265.02" font-size="5.6" font-weight="bold" text-anchor="start" fill="#000" stroke="#000" stroke-width="0.22">0.6</text>
<text x="655.80" y="291.72" font-size="5.6" font-weight="bold" text-anchor="start" fill="#000" stroke="#000" stroke-width="0.22">0.4</text>
<text x="655.80" y="318.42" font-size="5.6" font-weight="bold" text-anchor="start" fill="#000" stroke="#000" stroke-width="0.22">0.2</text>
<text x="666.30" y="278.87" font-size="5.2" font-weight="bold" text-anchor="start" fill="#000" stroke="#000" stroke-width="0.22">x10<tspan font-size="72%" baseline-shift="super">6</tspan></text>
<text x="644.80" y="349.69" font-size="5.8" font-weight="bold" text-anchor="start" fill="#000" stroke="#000" stroke-width="0.22">Radiance</text>
<text x="644.80" y="356.39" font-size="5.8" font-weight="bold" text-anchor="start" fill="#000" stroke="#000" stroke-width="0.22">p/sec/cm<tspan font-size="72%" baseline-shift="super">2</tspan>/sr</text>
<text x="644.80" y="363.09" font-size="5.8" font-weight="bold" text-anchor="start" fill="#000" stroke="#000" stroke-width="0.22">Max = 1e4</text>
<text x="644.80" y="369.79" font-size="5.8" font-weight="bold" text-anchor="start" fill="#000" stroke="#000" stroke-width="0.22">Min  = 9e5</text>
<text x="0.00" y="321.30" font-size="12" font-weight="bold">e</text>
<text x="90.00" y="328.02" font-size="7" font-weight="bold" text-anchor="middle" fill="#000" stroke="#000" stroke-width="0.22">Raji</text>
<line x1="40.80" y1="334.20" x2="40.80" y2="378.00" stroke="#222" stroke-width="0.9"/>
<line x1="40.80" y1="382.50" x2="40.80" y2="399.60" stroke="#222" stroke-width="0.9"/>
<line x1="39.00" y1="379.50" x2="42.60" y2="376.50" stroke="#222" stroke-width="0.8"/>
<line x1="39.00" y1="383.50" x2="42.60" y2="380.50" stroke="#222" stroke-width="0.8"/>
<line x1="40.50" y1="399.60" x2="140.10" y2="399.60" stroke="#444" stroke-width="1.4"/>
<line x1="39.00" y1="335.10" x2="40.80" y2="335.10" stroke="#222" stroke-width="0.8"/>
<text x="38.00" y="337.58" font-size="6.9" font-weight="bold" text-anchor="end" fill="#111" stroke="#111" stroke-width="0.22">2×10<tspan font-size="72%" baseline-shift="super">5</tspan></text>
<line x1="39.00" y1="345.50" x2="40.80" y2="345.50" stroke="#222" stroke-width="0.8"/>
<text x="38.00" y="347.98" font-size="6.9" font-weight="bold" text-anchor="end" fill="#111" stroke="#111" stroke-width="0.22">1.5×10<tspan font-size="72%" baseline-shift="super">5</tspan></text>
<line x1="39.00" y1="356.00" x2="40.80" y2="356.00" stroke="#222" stroke-width="0.8"/>
<text x="38.00" y="358.48" font-size="6.9" font-weight="bold" text-anchor="end" fill="#111" stroke="#111" stroke-width="0.22">1×10<tspan font-size="72%" baseline-shift="super">5</tspan></text>
<line x1="39.00" y1="366.40" x2="40.80" y2="366.40" stroke="#222" stroke-width="0.8"/>
<text x="38.00" y="368.88" font-size="6.9" font-weight="bold" text-anchor="end" fill="#111" stroke="#111" stroke-width="0.22">5×10<tspan font-size="72%" baseline-shift="super">4</tspan></text>
<line x1="39.00" y1="387.70" x2="40.80" y2="387.70" stroke="#222" stroke-width="0.8"/>
<text x="38.00" y="390.18" font-size="6.9" font-weight="bold" text-anchor="end" fill="#111" stroke="#111" stroke-width="0.22">1×10<tspan font-size="72%" baseline-shift="super">3</tspan></text>
<line x1="39.00" y1="399.60" x2="40.80" y2="399.60" stroke="#222" stroke-width="0.8"/>
<text x="38.00" y="402.08" font-size="6.9" font-weight="bold" text-anchor="end" fill="#111" stroke="#111" stroke-width="0.22">0</text>
<line x1="39.60" y1="340.30" x2="40.80" y2="340.30" stroke="#222" stroke-width="0.6"/>
<line x1="39.60" y1="350.70" x2="40.80" y2="350.70" stroke="#222" stroke-width="0.6"/>
<line x1="39.60" y1="361.20" x2="40.80" y2="361.20" stroke="#222" stroke-width="0.6"/>
<line x1="39.60" y1="371.60" x2="40.80" y2="371.60" stroke="#222" stroke-width="0.6"/>
<line x1="39.60" y1="393.60" x2="40.80" y2="393.60" stroke="#222" stroke-width="0.6"/>
<text x="0" y="2.23" font-size="6.2" font-weight="bold" text-anchor="middle" fill="#000" transform="translate(9.90,366.00) rotate(-90)" stroke="#000" stroke-width="0.22">Luminance</text>
<line x1="49.90" y1="399.60" x2="49.90" y2="401.40" stroke="#222" stroke-width="0.8"/>
<text x="0" y="0" font-size="6.5" font-weight="bold" text-anchor="end" stroke="#000" stroke-width="0.22" transform="translate(50.60,408.30) rotate(-45)">D3</text>
<line x1="63.50" y1="399.60" x2="63.50" y2="401.40" stroke="#222" stroke-width="0.8"/>
<text x="0" y="0" font-size="6.5" font-weight="bold" text-anchor="end" stroke="#000" stroke-width="0.22" transform="translate(64.20,408.30) rotate(-45)">D7</text>
<line x1="77.00" y1="399.60" x2="77.00" y2="401.40" stroke="#222" stroke-width="0.8"/>
<text x="0" y="0" font-size="6.5" font-weight="bold" text-anchor="end" stroke="#000" stroke-width="0.22" transform="translate(77.70,408.30) rotate(-45)">D21</text>
<line x1="90.20" y1="399.60" x2="90.20" y2="401.40" stroke="#222" stroke-width="0.8"/>
<text x="0" y="0" font-size="6.5" font-weight="bold" text-anchor="end" stroke="#000" stroke-width="0.22" transform="translate(90.90,408.30) rotate(-45)">D28</text>
<line x1="103.80" y1="399.60" x2="103.80" y2="401.40" stroke="#222" stroke-width="0.8"/>
<text x="0" y="0" font-size="6.5" font-weight="bold" text-anchor="end" stroke="#000" stroke-width="0.22" transform="translate(104.50,408.30) rotate(-45)">D35</text>
<line x1="117.10" y1="399.60" x2="117.10" y2="401.40" stroke="#222" stroke-width="0.8"/>
<text x="0" y="0" font-size="6.5" font-weight="bold" text-anchor="end" stroke="#000" stroke-width="0.22" transform="translate(117.80,408.30) rotate(-45)">D42</text>
<line x1="130.70" y1="399.60" x2="130.70" y2="401.40" stroke="#222" stroke-width="0.8"/>
<text x="0" y="0" font-size="6.5" font-weight="bold" text-anchor="end" stroke="#000" stroke-width="0.22" transform="translate(131.40,408.30) rotate(-45)">D56</text>
<text x="46.60" y="427.04" font-size="6.5" font-weight="bold" text-anchor="start" fill="#000" stroke="#000" stroke-width="0.22">Days post-tumor engraftment</text>
<line x1="49.90" y1="399.30" x2="130.70" y2="399.30" stroke="#e8322e" stroke-width="1.0"/>
<circle cx="49.90" cy="399.30" r="1.10" fill="#e8322e"/>
<circle cx="63.50" cy="399.30" r="1.10" fill="#e8322e"/>
<circle cx="77.00" cy="399.30" r="1.10" fill="#e8322e"/>
<circle cx="90.20" cy="399.30" r="1.10" fill="#e8322e"/>
<circle cx="103.80" cy="399.30" r="1.10" fill="#e8322e"/>
<circle cx="117.10" cy="399.30" r="1.10" fill="#e8322e"/>
<circle cx="130.70" cy="399.30" r="1.10" fill="#e8322e"/>
<polyline points="49.9,399.0 63.5,399.0 77.0,397.5 90.2,390.8 103.8,374.9 117.1,370.7 130.7,350.0" fill="none" stroke="#f6a531" stroke-width="0.8"/>
<circle cx="49.90" cy="399.00" r="1.20" fill="#f6a531"/>
<circle cx="63.50" cy="399.00" r="1.20" fill="#f6a531"/>
<circle cx="77.00" cy="397.50" r="1.20" fill="#f6a531"/>
<circle cx="90.20" cy="390.80" r="1.20" fill="#f6a531"/>
<circle cx="103.80" cy="374.90" r="1.20" fill="#f6a531"/>
<circle cx="117.10" cy="370.70" r="1.20" fill="#f6a531"/>
<circle cx="130.70" cy="350.00" r="1.20" fill="#f6a531"/>
<line x1="90.20" y1="386.00" x2="90.20" y2="395.00" stroke="#f6a531" stroke-width="0.7"/>
<line x1="88.95" y1="386.00" x2="91.45" y2="386.00" stroke="#f6a531" stroke-width="0.7"/>
<line x1="88.95" y1="395.00" x2="91.45" y2="395.00" stroke="#f6a531" stroke-width="0.7"/>
<line x1="117.10" y1="367.50" x2="117.10" y2="374.00" stroke="#f6a531" stroke-width="0.7"/>
<line x1="115.85" y1="367.50" x2="118.35" y2="367.50" stroke="#f6a531" stroke-width="0.7"/>
<line x1="115.85" y1="374.00" x2="118.35" y2="374.00" stroke="#f6a531" stroke-width="0.7"/>
<line x1="130.70" y1="337.20" x2="130.70" y2="362.40" stroke="#f6a531" stroke-width="0.7"/>
<line x1="129.45" y1="337.20" x2="131.95" y2="337.20" stroke="#f6a531" stroke-width="0.7"/>
<line x1="129.45" y1="362.40" x2="131.95" y2="362.40" stroke="#f6a531" stroke-width="0.7"/>
<line x1="103.80" y1="373.50" x2="103.80" y2="376.50" stroke="#f6a531" stroke-width="0.7"/>
<line x1="102.80" y1="373.50" x2="104.80" y2="373.50" stroke="#f6a531" stroke-width="0.7"/>
<line x1="102.80" y1="376.50" x2="104.80" y2="376.50" stroke="#f6a531" stroke-width="0.7"/>
<line x1="47.50" y1="340.40" x2="53.00" y2="340.40" stroke="#f6a531" stroke-width="0.8"/>
<circle cx="50.30" cy="340.40" r="1.20" fill="#f6a531"/>
<text x="57.50" y="342.56" font-size="6.0" text-anchor="start" fill="#333" stroke="#333" stroke-width="0.12">CAR-T</text>
<line x1="47.50" y1="348.40" x2="53.00" y2="348.40" stroke="#e8322e" stroke-width="0.8"/>
<circle cx="50.30" cy="348.40" r="1.20" fill="#e8322e"/>
<text x="57.50" y="350.56" font-size="6.0" text-anchor="start" fill="#333" stroke="#333" stroke-width="0.12">CAR-T+TAIII</text>
<line x1="92.40" y1="338.00" x2="92.40" y2="351.00" stroke="#333" stroke-width="0.8"/>
<text x="93.80" y="346.16" font-size="6.0" text-anchor="start" fill="#333" stroke="#333" stroke-width="0.12">&lt;0.0001</text>
<text x="153.40" y="320.00" font-size="12" font-weight="bold">f</text>
<text x="236.00" y="330.52" font-size="7" font-weight="bold" text-anchor="middle" fill="#000" stroke="#000" stroke-width="0.22">Raji</text>
<line x1="190.20" y1="339.00" x2="190.20" y2="399.30" stroke="#222" stroke-width="1.0"/>
<line x1="190.20" y1="399.30" x2="281.50" y2="399.30" stroke="#222" stroke-width="1.0"/>
<line x1="188.40" y1="343.70" x2="190.20" y2="343.70" stroke="#222" stroke-width="0.8"/>
<text x="187.40" y="346.08" font-size="6.6" font-weight="bold" text-anchor="end" fill="#111" stroke="#111" stroke-width="0.22">100</text>
<line x1="188.40" y1="357.20" x2="190.20" y2="357.20" stroke="#222" stroke-width="0.8"/>
<text x="187.40" y="359.58" font-size="6.6" font-weight="bold" text-anchor="end" fill="#111" stroke="#111" stroke-width="0.22">75</text>
<line x1="188.40" y1="371.50" x2="190.20" y2="371.50" stroke="#222" stroke-width="0.8"/>
<text x="187.40" y="373.88" font-size="6.6" font-weight="bold" text-anchor="end" fill="#111" stroke="#111" stroke-width="0.22">50</text>
<line x1="188.40" y1="385.50" x2="190.20" y2="385.50" stroke="#222" stroke-width="0.8"/>
<text x="187.40" y="387.88" font-size="6.6" font-weight="bold" text-anchor="end" fill="#111" stroke="#111" stroke-width="0.22">25</text>
<line x1="188.40" y1="399.30" x2="190.20" y2="399.30" stroke="#222" stroke-width="0.8"/>
<text x="187.40" y="401.68" font-size="6.6" font-weight="bold" text-anchor="end" fill="#111" stroke="#111" stroke-width="0.22">0</text>
<line x1="190.20" y1="399.30" x2="190.20" y2="401.10" stroke="#222" stroke-width="0.8"/>
<text x="190.20" y="409.68" font-size="6.6" font-weight="bold" text-anchor="middle" fill="#000" stroke="#000" stroke-width="0.22">0</text>
<line x1="203.23" y1="399.30" x2="203.23" y2="401.10" stroke="#222" stroke-width="0.8"/>
<text x="203.23" y="409.68" font-size="6.6" font-weight="bold" text-anchor="middle" fill="#000" stroke="#000" stroke-width="0.22">10</text>
<line x1="216.26" y1="399.30" x2="216.26" y2="401.10" stroke="#222" stroke-width="0.8"/>
<text x="216.26" y="409.68" font-size="6.6" font-weight="bold" text-anchor="middle" fill="#000" stroke="#000" stroke-width="0.22">20</text>
<line x1="229.29" y1="399.30" x2="229.29" y2="401.10" stroke="#222" stroke-width="0.8"/>
<text x="229.29" y="409.68" font-size="6.6" font-weight="bold" text-anchor="middle" fill="#000" stroke="#000" stroke-width="0.22">30</text>
<line x1="242.32" y1="399.30" x2="242.32" y2="401.10" stroke="#222" stroke-width="0.8"/>
<text x="242.32" y="409.68" font-size="6.6" font-weight="bold" text-anchor="middle" fill="#000" stroke="#000" stroke-width="0.22">40</text>
<line x1="255.35" y1="399.30" x2="255.35" y2="401.10" stroke="#222" stroke-width="0.8"/>
<text x="255.35" y="409.68" font-size="6.6" font-weight="bold" text-anchor="middle" fill="#000" stroke="#000" stroke-width="0.22">50</text>
<line x1="268.38" y1="399.30" x2="268.38" y2="401.10" stroke="#222" stroke-width="0.8"/>
<text x="268.38" y="409.68" font-size="6.6" font-weight="bold" text-anchor="middle" fill="#000" stroke="#000" stroke-width="0.22">60</text>
<line x1="281.41" y1="399.30" x2="281.41" y2="401.10" stroke="#222" stroke-width="0.8"/>
<text x="281.41" y="409.68" font-size="6.6" font-weight="bold" text-anchor="middle" fill="#000" stroke="#000" stroke-width="0.22">70</text>
<text x="190.90" y="420.25" font-size="6.8" font-weight="bold" text-anchor="start" fill="#000" stroke="#000" stroke-width="0.22">Days post-tumor engraftment</text>
<text x="0" y="2.47" font-size="6.85" font-weight="bold" text-anchor="middle" fill="#000" transform="translate(169.60,367.80) rotate(-90)" stroke="#000" stroke-width="0.22">Probability of Survival</text>
<polyline points="190.2,343.7 247.5,343.7 247.5,354.8 263.2,354.8 263.2,377.1 265.8,377.1 265.8,388.2" fill="none" stroke="#f6a531" stroke-width="1.2"/>
<polyline points="247.5,343.7 265.8,343.7" fill="none" stroke="#ee5a5a" stroke-width="1.2"/>
<polyline points="190.2,343.7 217.6,343.7 217.6,354.8 221.5,354.8 221.5,377.1 229.3,377.1 229.3,399.3" fill="none" stroke="#2f4a8a" stroke-width="1.2"/>
<polyline points="190.2,343.7 217.6,343.7 217.6,354.8 220.2,354.8 220.2,377.1 228.0,377.1 228.0,388.2 229.3,388.2 229.3,399.3" fill="none" stroke="#9a2fb0" stroke-width="1.2"/>
<polyline points="190.2,343.7 218.9,343.7 218.9,354.8 221.5,354.8 221.5,365.9 226.7,365.9 226.7,399.3" fill="none" stroke="#29a8e0" stroke-width="1.2"/>
<polyline points="190.2,343.7 220.2,343.7 220.2,354.8 225.4,354.8 225.4,399.3" fill="none" stroke="#a2d46a" stroke-width="1.2"/>
<polyline points="190.2,343.7 220.2,343.7 220.2,354.8 224.1,354.8 224.1,399.3" fill="none" stroke="#7cbf4a" stroke-width="1.2"/>
<line x1="278.00" y1="341.60" x2="284.00" y2="341.60" stroke="#7cbf4a" stroke-width="0.9"/>
<circle cx="281.00" cy="341.60" r="0.90" fill="#7cbf4a"/>
<text x="289.80" y="343.44" font-size="5.1" text-anchor="start" fill="#222" stroke="#222" stroke-width="0.12">Vehicle-1</text>
<line x1="278.00" y1="349.50" x2="284.00" y2="349.50" stroke="#a2d46a" stroke-width="0.9"/>
<circle cx="281.00" cy="349.50" r="0.90" fill="#a2d46a"/>
<text x="289.80" y="351.34" font-size="5.1" text-anchor="start" fill="#222" stroke="#222" stroke-width="0.12">Vehicle-2</text>
<line x1="278.00" y1="357.70" x2="284.00" y2="357.70" stroke="#29a8e0" stroke-width="0.9"/>
<circle cx="281.00" cy="357.70" r="0.90" fill="#29a8e0"/>
<text x="289.80" y="359.54" font-size="5.1" text-anchor="start" fill="#222" stroke="#222" stroke-width="0.12">TAIII</text>
<line x1="278.00" y1="365.90" x2="284.00" y2="365.90" stroke="#9a2fb0" stroke-width="0.9"/>
<circle cx="281.00" cy="365.90" r="0.90" fill="#9a2fb0"/>
<text x="289.80" y="367.74" font-size="5.1" text-anchor="start" fill="#222" stroke="#222" stroke-width="0.12">UNT</text>
<line x1="278.00" y1="374.00" x2="284.00" y2="374.00" stroke="#2f4a8a" stroke-width="0.9"/>
<circle cx="281.00" cy="374.00" r="0.90" fill="#2f4a8a"/>
<text x="289.80" y="375.84" font-size="5.1" text-anchor="start" fill="#222" stroke="#222" stroke-width="0.12">UNT-TAIII</text>
<line x1="278.00" y1="381.80" x2="284.00" y2="381.80" stroke="#f6a531" stroke-width="0.9"/>
<circle cx="281.00" cy="381.80" r="0.90" fill="#f6a531"/>
<text x="289.80" y="383.64" font-size="5.1" text-anchor="start" fill="#222" stroke="#222" stroke-width="0.12">CAR-T</text>
<line x1="278.00" y1="389.70" x2="284.00" y2="389.70" stroke="#ee5a5a" stroke-width="0.9"/>
<circle cx="281.00" cy="389.70" r="0.90" fill="#ee5a5a"/>
<text x="289.80" y="391.54" font-size="5.1" text-anchor="start" fill="#222" stroke="#222" stroke-width="0.12">CAR-T+TAIII</text>
<line x1="314.30" y1="340.90" x2="314.30" y2="358.40" stroke="#444" stroke-width="0.7"/>
<text x="0" y="1.80" font-size="5.0" text-anchor="middle" fill="#333" transform="translate(319.70,349.60) rotate(90)" stroke="#333" stroke-width="0.12">0.7790</text>
<line x1="325.30" y1="341.00" x2="325.30" y2="382.20" stroke="#444" stroke-width="0.7"/>
<text x="0" y="1.80" font-size="5.0" text-anchor="middle" fill="#333" transform="translate(329.80,361.60) rotate(90)" stroke="#333" stroke-width="0.12">0.0035</text>
<line x1="331.40" y1="380.60" x2="331.40" y2="390.40" stroke="#444" stroke-width="0.7"/>
<text x="0" y="1.80" font-size="5.0" text-anchor="middle" fill="#333" transform="translate(337.50,385.50) rotate(90)" stroke="#333" stroke-width="0.12">0.0135</text>
<text x="352.30" y="319.80" font-size="12" font-weight="bold">g</text>
<line x1="382.00" y1="341.50" x2="382.00" y2="396.70" stroke="#222" stroke-width="0.9"/>
<line x1="382.00" y1="396.70" x2="424.60" y2="396.70" stroke="#222" stroke-width="0.9"/>
<line x1="380.20" y1="341.50" x2="382.00" y2="341.50" stroke="#222" stroke-width="0.8"/>
<text x="379.70" y="343.66" font-size="6.0" font-weight="bold" text-anchor="end" fill="#111" stroke="#111" stroke-width="0.22">7000</text>
<line x1="380.20" y1="355.70" x2="382.00" y2="355.70" stroke="#222" stroke-width="0.8"/>
<text x="379.70" y="357.86" font-size="6.0" font-weight="bold" text-anchor="end" fill="#111" stroke="#111" stroke-width="0.22">6000</text>
<line x1="380.20" y1="369.10" x2="382.00" y2="369.10" stroke="#222" stroke-width="0.8"/>
<text x="379.70" y="371.26" font-size="6.0" font-weight="bold" text-anchor="end" fill="#111" stroke="#111" stroke-width="0.22">5000</text>
<line x1="380.20" y1="382.80" x2="382.00" y2="382.80" stroke="#222" stroke-width="0.8"/>
<text x="379.70" y="384.96" font-size="6.0" font-weight="bold" text-anchor="end" fill="#111" stroke="#111" stroke-width="0.22">4000</text>
<line x1="380.20" y1="396.70" x2="382.00" y2="396.70" stroke="#222" stroke-width="0.8"/>
<text x="379.70" y="398.86" font-size="6.0" font-weight="bold" text-anchor="end" fill="#111" stroke="#111" stroke-width="0.22">3000</text>
<rect x="389.15" y="380.10" width="11.50" height="16.60" fill="none" stroke="#f6a531" stroke-width="1.1"/>
<line x1="394.90" y1="373.00" x2="394.90" y2="386.70" stroke="#f6a531" stroke-width="0.7"/>
<line x1="393.30" y1="373.00" x2="396.50" y2="373.00" stroke="#f6a531" stroke-width="0.7"/>
<line x1="393.30" y1="386.70" x2="396.50" y2="386.70" stroke="#f6a531" stroke-width="0.7"/>
<circle cx="393.10" cy="375.00" r="1.40" fill="#f6a531"/>
<circle cx="394.90" cy="378.00" r="1.40" fill="#f6a531"/>
<circle cx="396.70" cy="385.00" r="1.40" fill="#f6a531"/>
<line x1="394.90" y1="396.70" x2="394.90" y2="398.50" stroke="#222" stroke-width="0.8"/>
<rect x="408.35" y="363.00" width="11.20" height="33.70" fill="none" stroke="#e8322e" stroke-width="1.1"/>
<line x1="413.95" y1="351.80" x2="413.95" y2="373.00" stroke="#e8322e" stroke-width="0.7"/>
<line x1="412.35" y1="351.80" x2="415.55" y2="351.80" stroke="#e8322e" stroke-width="0.7"/>
<line x1="412.35" y1="373.00" x2="415.55" y2="373.00" stroke="#e8322e" stroke-width="0.7"/>
<path d="M412.15,350.40L413.75,353.20L410.55,353.20Z" fill="#e8322e"/>
<path d="M413.95,360.40L415.55,363.20L412.35,363.20Z" fill="#e8322e"/>
<path d="M415.75,373.40L417.35,376.20L414.15,376.20Z" fill="#e8322e"/>
<line x1="413.95" y1="396.70" x2="413.95" y2="398.50" stroke="#222" stroke-width="0.8"/>
<line x1="395.20" y1="345.20" x2="414.40" y2="345.20" stroke="#222" stroke-width="0.9"/>
<text x="404.80" y="343.05" font-size="5.7" text-anchor="middle" fill="#222" stroke="#222" stroke-width="0.12">0.0276</text>
<text x="404.80" y="329.45" font-size="6.8" font-weight="bold" text-anchor="middle" fill="#000" stroke="#000" stroke-width="0.22">CAR<tspan font-size="72%" baseline-shift="super">+</tspan></text>
<text x="0" y="2.23" font-size="6.2" font-weight="bold" text-anchor="middle" fill="#000" transform="translate(362.30,369.10) rotate(-90)" stroke="#000" stroke-width="0.22">MFI</text>
<text x="0" y="0" font-size="6.5" font-weight="bold" text-anchor="end" stroke="#000" stroke-width="0.22" transform="translate(397.70,405.30) rotate(-45)">CAR-T</text>
<text x="0" y="0" font-size="6.5" font-weight="bold" text-anchor="end" stroke="#000" stroke-width="0.22" transform="translate(415.70,405.30) rotate(-45)">CAR-T+TAIII</text>
<line x1="460.90" y1="341.50" x2="460.90" y2="396.70" stroke="#222" stroke-width="0.9"/>
<line x1="460.90" y1="396.70" x2="505.50" y2="396.70" stroke="#222" stroke-width="0.9"/>
<line x1="459.10" y1="341.50" x2="460.90" y2="341.50" stroke="#222" stroke-width="0.8"/>
<text x="458.60" y="343.66" font-size="6.0" font-weight="bold" text-anchor="end" fill="#111" stroke="#111" stroke-width="0.22">200</text>
<line x1="459.10" y1="355.70" x2="460.90" y2="355.70" stroke="#222" stroke-width="0.8"/>
<text x="458.60" y="357.86" font-size="6.0" font-weight="bold" text-anchor="end" fill="#111" stroke="#111" stroke-width="0.22">150</text>
<line x1="459.10" y1="369.10" x2="460.90" y2="369.10" stroke="#222" stroke-width="0.8"/>
<text x="458.60" y="371.26" font-size="6.0" font-weight="bold" text-anchor="end" fill="#111" stroke="#111" stroke-width="0.22">100</text>
<line x1="459.10" y1="382.80" x2="460.90" y2="382.80" stroke="#222" stroke-width="0.8"/>
<text x="458.60" y="384.96" font-size="6.0" font-weight="bold" text-anchor="end" fill="#111" stroke="#111" stroke-width="0.22">50</text>
<line x1="459.10" y1="396.70" x2="460.90" y2="396.70" stroke="#222" stroke-width="0.8"/>
<text x="458.60" y="398.86" font-size="6.0" font-weight="bold" text-anchor="end" fill="#111" stroke="#111" stroke-width="0.22">0</text>
<rect x="467.95" y="389.90" width="12.10" height="6.80" fill="none" stroke="#f6a531" stroke-width="1.1"/>
<line x1="474.00" y1="376.20" x2="474.00" y2="396.70" stroke="#f6a531" stroke-width="0.7"/>
<line x1="472.40" y1="376.20" x2="475.60" y2="376.20" stroke="#f6a531" stroke-width="0.7"/>
<line x1="472.40" y1="396.70" x2="475.60" y2="396.70" stroke="#f6a531" stroke-width="0.7"/>
<circle cx="472.20" cy="376.50" r="1.40" fill="#f6a531"/>
<circle cx="474.00" cy="392.00" r="1.40" fill="#f6a531"/>
<circle cx="475.80" cy="396.00" r="1.40" fill="#f6a531"/>
<line x1="474.00" y1="396.70" x2="474.00" y2="398.50" stroke="#222" stroke-width="0.8"/>
<rect x="487.65" y="364.90" width="11.30" height="31.80" fill="none" stroke="#e8322e" stroke-width="1.1"/>
<line x1="493.30" y1="353.30" x2="493.30" y2="376.70" stroke="#e8322e" stroke-width="0.7"/>
<line x1="491.70" y1="353.30" x2="494.90" y2="353.30" stroke="#e8322e" stroke-width="0.7"/>
<line x1="491.70" y1="376.70" x2="494.90" y2="376.70" stroke="#e8322e" stroke-width="0.7"/>
<path d="M491.50,350.40L493.10,353.20L489.90,353.20Z" fill="#e8322e"/>
<path d="M493.30,362.40L494.90,365.20L491.70,365.20Z" fill="#e8322e"/>
<path d="M495.10,375.40L496.70,378.20L493.50,378.20Z" fill="#e8322e"/>
<line x1="493.30" y1="396.70" x2="493.30" y2="398.50" stroke="#222" stroke-width="0.8"/>
<line x1="474.00" y1="345.20" x2="493.20" y2="345.20" stroke="#222" stroke-width="0.9"/>
<text x="483.60" y="343.05" font-size="5.7" text-anchor="middle" fill="#222" stroke="#222" stroke-width="0.12">0.0163</text>
<text x="483.80" y="329.45" font-size="6.8" font-weight="bold" text-anchor="middle" fill="#000" stroke="#000" stroke-width="0.22">CD62L<tspan font-size="72%" baseline-shift="super">+</tspan></text>
<text x="0" y="2.23" font-size="6.2" font-weight="bold" text-anchor="middle" fill="#000" transform="translate(443.00,369.10) rotate(-90)" stroke="#000" stroke-width="0.22">MFI</text>
<text x="0" y="0" font-size="6.5" font-weight="bold" text-anchor="end" stroke="#000" stroke-width="0.22" transform="translate(473.70,405.30) rotate(-45)">CAR-T</text>
<text x="0" y="0" font-size="6.5" font-weight="bold" text-anchor="end" stroke="#000" stroke-width="0.22" transform="translate(493.20,405.30) rotate(-45)">CAR-T+TAIII</text>
<text x="4.30" y="457.60" font-size="12" font-weight="bold">h</text>
<text x="54.50" y="461.39" font-size="7.2" font-weight="bold" text-anchor="middle" fill="#000" stroke="#000" stroke-width="0.22">Treg</text>
<line x1="27.60" y1="474.00" x2="27.60" y2="540.40" stroke="#222" stroke-width="0.9"/>
<line x1="27.60" y1="540.40" x2="81.70" y2="540.40" stroke="#222" stroke-width="0.9"/>
<line x1="25.80" y1="474.00" x2="27.60" y2="474.00" stroke="#222" stroke-width="0.8"/>
<text x="25.40" y="475.94" font-size="5.4" font-weight="bold" text-anchor="end" fill="#111" stroke="#111" stroke-width="0.22">2.0</text>
<line x1="25.80" y1="490.70" x2="27.60" y2="490.70" stroke="#222" stroke-width="0.8"/>
<text x="25.40" y="492.64" font-size="5.4" font-weight="bold" text-anchor="end" fill="#111" stroke="#111" stroke-width="0.22">1.5</text>
<line x1="25.80" y1="507.50" x2="27.60" y2="507.50" stroke="#222" stroke-width="0.8"/>
<text x="25.40" y="509.44" font-size="5.4" font-weight="bold" text-anchor="end" fill="#111" stroke="#111" stroke-width="0.22">1.0</text>
<line x1="25.80" y1="524.20" x2="27.60" y2="524.20" stroke="#222" stroke-width="0.8"/>
<text x="25.40" y="526.14" font-size="5.4" font-weight="bold" text-anchor="end" fill="#111" stroke="#111" stroke-width="0.22">0.5</text>
<line x1="25.80" y1="540.40" x2="27.60" y2="540.40" stroke="#222" stroke-width="0.8"/>
<text x="25.40" y="542.34" font-size="5.4" font-weight="bold" text-anchor="end" fill="#111" stroke="#111" stroke-width="0.22">0.0</text>
<text x="0" y="2.38" font-size="6.6" font-weight="bold" text-anchor="middle" fill="#000" transform="translate(11.20,507.60) rotate(-90)" stroke="#000" stroke-width="0.22">Relative Treg %</text>
<rect x="32.30" y="507.50" width="7.60" height="32.90" fill="none" stroke="#f6a531" stroke-width="1.2"/>
<line x1="36.10" y1="496.50" x2="36.10" y2="518.00" stroke="#f6a531" stroke-width="0.7"/>
<line x1="34.60" y1="496.50" x2="37.60" y2="496.50" stroke="#f6a531" stroke-width="0.7"/>
<line x1="34.60" y1="518.00" x2="37.60" y2="518.00" stroke="#f6a531" stroke-width="0.7"/>
<circle cx="34.90" cy="487.00" r="1.40" fill="#f6a531"/>
<circle cx="36.10" cy="514.00" r="1.40" fill="#f6a531"/>
<circle cx="37.30" cy="526.00" r="1.40" fill="#f6a531"/>
<line x1="36.10" y1="540.40" x2="36.10" y2="542.20" stroke="#222" stroke-width="0.8"/>
<rect x="41.50" y="507.50" width="7.60" height="32.90" fill="none" stroke="#f6a531" stroke-width="1.2"/>
<line x1="45.30" y1="495.50" x2="45.30" y2="519.00" stroke="#f6a531" stroke-width="0.7"/>
<line x1="43.80" y1="495.50" x2="46.80" y2="495.50" stroke="#f6a531" stroke-width="0.7"/>
<line x1="43.80" y1="519.00" x2="46.80" y2="519.00" stroke="#f6a531" stroke-width="0.7"/>
<circle cx="44.10" cy="483.00" r="1.40" fill="#f6a531"/>
<circle cx="45.30" cy="517.00" r="1.40" fill="#f6a531"/>
<circle cx="46.50" cy="520.00" r="1.40" fill="#f6a531"/>
<line x1="45.30" y1="540.40" x2="45.30" y2="542.20" stroke="#222" stroke-width="0.8"/>
<rect x="59.90" y="521.20" width="6.90" height="19.20" fill="none" stroke="#e8322e" stroke-width="1.2"/>
<line x1="63.35" y1="514.00" x2="63.35" y2="528.00" stroke="#e8322e" stroke-width="0.7"/>
<line x1="61.85" y1="514.00" x2="64.85" y2="514.00" stroke="#e8322e" stroke-width="0.7"/>
<line x1="61.85" y1="528.00" x2="64.85" y2="528.00" stroke="#e8322e" stroke-width="0.7"/>
<path d="M62.15,511.40L63.75,514.20L60.55,514.20Z" fill="#e8322e"/>
<path d="M63.35,529.40L64.95,532.20L61.75,532.20Z" fill="#e8322e"/>
<line x1="63.35" y1="540.40" x2="63.35" y2="542.20" stroke="#222" stroke-width="0.8"/>
<rect x="68.60" y="523.40" width="7.40" height="17.00" fill="none" stroke="#e8322e" stroke-width="1.2"/>
<line x1="72.30" y1="519.50" x2="72.30" y2="527.00" stroke="#e8322e" stroke-width="0.7"/>
<line x1="70.80" y1="519.50" x2="73.80" y2="519.50" stroke="#e8322e" stroke-width="0.7"/>
<line x1="70.80" y1="527.00" x2="73.80" y2="527.00" stroke="#e8322e" stroke-width="0.7"/>
<path d="M71.10,518.40L72.70,521.20L69.50,521.20Z" fill="#e8322e"/>
<path d="M72.30,521.40L73.90,524.20L70.70,524.20Z" fill="#e8322e"/>
<path d="M73.50,523.40L75.10,526.20L71.90,526.20Z" fill="#e8322e"/>
<line x1="72.30" y1="540.40" x2="72.30" y2="542.20" stroke="#222" stroke-width="0.8"/>
<line x1="37.80" y1="475.40" x2="69.00" y2="475.40" stroke="#222" stroke-width="0.9"/>
<text x="53.40" y="473.25" font-size="5.7" text-anchor="middle" fill="#222" stroke="#222" stroke-width="0.12">0.0078</text>
<circle cx="85.80" cy="474.60" r="1.10" fill="#f6a531"/>
<text x="93.00" y="476.76" font-size="6.0" text-anchor="start" fill="#333" stroke="#333" stroke-width="0.12">CAR-T</text>
<path d="M85.80,483.10L87.10,485.38L84.50,485.38Z" fill="#e8322e"/>
<text x="93.00" y="486.56" font-size="6.0" text-anchor="start" fill="#333" stroke="#333" stroke-width="0.12">CAR-T+TAIII</text>
<text x="0" y="0" font-size="6.2" font-weight="bold" text-anchor="end" stroke="#000" stroke-width="0.22" transform="translate(36.70,548.30) rotate(-45)">BL1</text>
<text x="0" y="0" font-size="6.2" font-weight="bold" text-anchor="end" stroke="#000" stroke-width="0.22" transform="translate(45.70,548.30) rotate(-45)">BL2</text>
<text x="0" y="0" font-size="6.2" font-weight="bold" text-anchor="end" stroke="#000" stroke-width="0.22" transform="translate(64.00,548.30) rotate(-45)">BL1</text>
<text x="0" y="0" font-size="6.2" font-weight="bold" text-anchor="end" stroke="#000" stroke-width="0.22" transform="translate(73.00,548.30) rotate(-45)">BL2</text>
<text x="142" y="459" font-size="12" font-weight="bold">i</text>
<text x="193.50" y="460.79" font-size="8.3" font-weight="bold" text-anchor="start" fill="#000" stroke="#000" stroke-width="0.22">Nalm6 vs CAR-T cells in NSG</text>
<text x="153.60" y="477.52" font-size="7.0" font-weight="bold" text-anchor="start" fill="#000" stroke="#000" stroke-width="0.22">Day 0</text>
<text x="211.20" y="477.52" font-size="7.0" font-weight="bold" text-anchor="start" fill="#000" stroke="#000" stroke-width="0.22">Day 3</text>
<text x="256.60" y="477.52" font-size="7.0" font-weight="bold" text-anchor="start" fill="#000" stroke="#000" stroke-width="0.22">Day 16</text>
<line x1="151.50" y1="485.20" x2="333.50" y2="485.20" stroke="#000" stroke-width="1.9"/>
<path d="M339.00,485.20L333.00,481.90L333.00,488.50Z" fill="#000"/>
<g transform="translate(165.50,494.80) scale(0.88)">
<path d="M4,9 C1,9 0,6 -3,8" fill="none" stroke="#f2a0b0" stroke-width="0.7"/>
<path d="M4,9 C4,2.5 9,0.3 15,0.8 C19.5,1.2 22.5,3.5 25,6.5 C26.5,8 26,9.5 24,10 C20,12 14,12.5 9,12 C6,11.7 4,11 4,9 Z" fill="#ececec" stroke="#dadada" stroke-width="0.5"/>
<ellipse cx="20" cy="3.5" rx="1.6" ry="1.2" fill="#f6c2cc"/>
<path d="M8,11 l-1,2 M12,11.2 l0,2 M18,10.6 l1,2 M22,10 l1.5,1.5" stroke="#f2a0b0" stroke-width="0.6"/>
<circle cx="23.5" cy="6" r="0.5" fill="#e08090"/>
</g>
<g transform="translate(154.94,489.08) scale(0.88) rotate(32)">
<rect x="0" y="-1.2" width="11" height="2.4" fill="#bfe3f7" stroke="#3a8cc8" stroke-width="0.5"/>
<rect x="2" y="-1.2" width="6" height="2.4" fill="#58aee6"/>
<line x1="-3" y1="0" x2="0" y2="0" stroke="#3a8cc8" stroke-width="0.8"/>
<line x1="11" y1="0" x2="16" y2="0" stroke="#777" stroke-width="0.4"/>
</g>
<g transform="translate(207.50,495.30) scale(0.86)">
<path d="M4,9 C1,9 0,6 -3,8" fill="none" stroke="#f2a0b0" stroke-width="0.7"/>
<path d="M4,9 C4,2.5 9,0.3 15,0.8 C19.5,1.2 22.5,3.5 25,6.5 C26.5,8 26,9.5 24,10 C20,12 14,12.5 9,12 C6,11.7 4,11 4,9 Z" fill="#ececec" stroke="#dadada" stroke-width="0.5"/>
<ellipse cx="20" cy="3.5" rx="1.6" ry="1.2" fill="#f6c2cc"/>
<path d="M8,11 l-1,2 M12,11.2 l0,2 M18,10.6 l1,2 M22,10 l1.5,1.5" stroke="#f2a0b0" stroke-width="0.6"/>
<circle cx="23.5" cy="6" r="0.5" fill="#e08090"/>
<ellipse cx="14" cy="8" rx="1.8" ry="1.3" fill="#3aa0e0"/>
</g>
<g transform="translate(207.30,491.00) scale(0.95)">
<ellipse cx="0" cy="0" rx="1.2" ry="1.6" fill="#f39a55" transform="rotate(30)"/>
<line x1="1" y1="2" x2="9" y2="11" stroke="#9cd2f0" stroke-width="1.8"/>
</g>
<g transform="translate(309.50,495.50) scale(0.9)">
<path d="M4,9 C1,9 0,6 -3,8" fill="none" stroke="#f2a0b0" stroke-width="0.7"/>
<path d="M4,9 C4,2.5 9,0.3 15,0.8 C19.5,1.2 22.5,3.5 25,6.5 C26.5,8 26,9.5 24,10 C20,12 14,12.5 9,12 C6,11.7 4,11 4,9 Z" fill="#ececec" stroke="#dadada" stroke-width="0.5"/>
<ellipse cx="20" cy="3.5" rx="1.6" ry="1.2" fill="#f6c2cc"/>
<path d="M8,11 l-1,2 M12,11.2 l0,2 M18,10.6 l1,2 M22,10 l1.5,1.5" stroke="#f2a0b0" stroke-width="0.6"/>
<circle cx="23.5" cy="6" r="0.5" fill="#e08090"/>
</g>
<text x="254.20" y="500.52" font-size="7.0" font-weight="bold" text-anchor="start" fill="#000" stroke="#000" stroke-width="0.22">Stop drug</text>
<text x="254.20" y="509.12" font-size="7.0" font-weight="bold" text-anchor="start" fill="#000" stroke="#000" stroke-width="0.22">Administration</text>
<text x="153.60" y="515.92" font-size="7.0" font-weight="bold" text-anchor="start" fill="#000" stroke="#000" stroke-width="0.22">Engraft i.v.</text>
<text x="153.60" y="524.52" font-size="7.0" font-weight="bold" text-anchor="start" fill="#000" stroke="#000" stroke-width="0.22">3 ×10<tspan font-size="72%" baseline-shift="super">6</tspan></text>
<text x="153.60" y="533.52" font-size="7.0" font-weight="bold" text-anchor="start" fill="#000" stroke="#000" stroke-width="0.22">Nalm6 cells</text>
<text x="199.90" y="515.92" font-size="7.0" font-weight="bold" text-anchor="start" fill="#000" stroke="#000" stroke-width="0.22">Infusion 6 ×10<tspan font-size="72%" baseline-shift="super">6</tspan></text>
<text x="199.90" y="524.52" font-size="7.0" font-weight="bold" text-anchor="start" fill="#000" stroke="#000" stroke-width="0.22">CAR-T or UNT</text>
<text x="199.90" y="533.52" font-size="7.0" font-weight="bold" text-anchor="start" fill="#000" stroke="#000" stroke-width="0.22">± TAIII</text>
<text x="300.10" y="517.72" font-size="7.0" font-weight="bold" text-anchor="start" fill="#000" stroke="#000" stroke-width="0.22">Tumor growth</text>
<text x="300.10" y="526.32" font-size="7.0" font-weight="bold" text-anchor="start" fill="#000" stroke="#000" stroke-width="0.22">monitoring</text>
<text x="359.5" y="459.2" font-size="12" font-weight="bold">j</text>
<text x="442.40" y="466.32" font-size="7" font-weight="bold" text-anchor="middle" fill="#000" stroke="#000" stroke-width="0.22">Nalm6</text>
<line x1="396.60" y1="474.40" x2="396.60" y2="535.70" stroke="#222" stroke-width="1.0"/>
<line x1="396.60" y1="535.70" x2="485.80" y2="535.70" stroke="#222" stroke-width="1.0"/>
<line x1="394.80" y1="480.20" x2="396.60" y2="480.20" stroke="#222" stroke-width="0.8"/>
<text x="393.80" y="482.43" font-size="6.2" font-weight="bold" text-anchor="end" fill="#111" stroke="#111" stroke-width="0.22">100</text>
<line x1="394.80" y1="494.20" x2="396.60" y2="494.20" stroke="#222" stroke-width="0.8"/>
<text x="393.80" y="496.43" font-size="6.2" font-weight="bold" text-anchor="end" fill="#111" stroke="#111" stroke-width="0.22">75</text>
<line x1="394.80" y1="508.00" x2="396.60" y2="508.00" stroke="#222" stroke-width="0.8"/>
<text x="393.80" y="510.23" font-size="6.2" font-weight="bold" text-anchor="end" fill="#111" stroke="#111" stroke-width="0.22">50</text>
<line x1="394.80" y1="522.00" x2="396.60" y2="522.00" stroke="#222" stroke-width="0.8"/>
<text x="393.80" y="524.23" font-size="6.2" font-weight="bold" text-anchor="end" fill="#111" stroke="#111" stroke-width="0.22">25</text>
<line x1="394.80" y1="535.70" x2="396.60" y2="535.70" stroke="#222" stroke-width="0.8"/>
<text x="393.80" y="537.93" font-size="6.2" font-weight="bold" text-anchor="end" fill="#111" stroke="#111" stroke-width="0.22">0</text>
<line x1="396.60" y1="535.70" x2="396.60" y2="537.50" stroke="#222" stroke-width="0.8"/>
<text x="396.60" y="544.90" font-size="6.4" font-weight="bold" text-anchor="middle" fill="#000" stroke="#000" stroke-width="0.22">10</text>
<line x1="418.85" y1="535.70" x2="418.85" y2="537.50" stroke="#222" stroke-width="0.8"/>
<text x="418.85" y="544.90" font-size="6.4" font-weight="bold" text-anchor="middle" fill="#000" stroke="#000" stroke-width="0.22">20</text>
<line x1="441.10" y1="535.70" x2="441.10" y2="537.50" stroke="#222" stroke-width="0.8"/>
<text x="441.10" y="544.90" font-size="6.4" font-weight="bold" text-anchor="middle" fill="#000" stroke="#000" stroke-width="0.22">30</text>
<line x1="463.35" y1="535.70" x2="463.35" y2="537.50" stroke="#222" stroke-width="0.8"/>
<text x="463.35" y="544.90" font-size="6.4" font-weight="bold" text-anchor="middle" fill="#000" stroke="#000" stroke-width="0.22">40</text>
<line x1="485.60" y1="535.70" x2="485.60" y2="537.50" stroke="#222" stroke-width="0.8"/>
<text x="485.60" y="544.90" font-size="6.4" font-weight="bold" text-anchor="middle" fill="#000" stroke="#000" stroke-width="0.22">50</text>
<text x="397.20" y="555.94" font-size="6.5" font-weight="bold" text-anchor="start" fill="#000" stroke="#000" stroke-width="0.22">Days post-tumor engraftment</text>
<text x="0" y="2.34" font-size="6.5" font-weight="bold" text-anchor="middle" fill="#000" transform="translate(377.30,505.20) rotate(-90)" stroke="#000" stroke-width="0.22">Probability of Survival</text>
<polyline points="396.6,480.2 424.4,480.2 424.4,489.6 426.6,489.6 426.6,508.0 428.4,508.0 428.4,517.4 430.4,517.4 430.4,526.3 430.4,535.7" fill="none" stroke="#2f4a8a" stroke-width="1.1"/>
<polyline points="396.6,480.2 424.4,480.2 424.4,498.5 426.2,498.5 426.2,517.4 428.2,517.4 428.2,526.3 430.0,526.3 430.0,535.7" fill="none" stroke="#9a2fb0" stroke-width="1.1"/>
<polyline points="396.6,480.2 422.6,480.2 422.6,489.6 423.3,489.6 423.3,508.0 424.6,508.0 424.6,517.4 425.5,517.4 425.5,535.7" fill="none" stroke="#29a8e0" stroke-width="1.1"/>
<polyline points="396.6,480.2 421.1,480.2 421.1,489.6 423.3,489.6 423.3,508.0 425.5,508.0 425.5,526.3 427.8,526.3 427.8,535.7" fill="none" stroke="#7cbf4a" stroke-width="1.1"/>
<polyline points="423.3,480.2 434.4,480.2 434.4,488.0 454.5,488.0 454.5,495.7 456.7,495.7 456.7,519.6 483.4,519.6" fill="none" stroke="#f6a531" stroke-width="1.1"/>
<polyline points="434.4,480.2 483.4,480.2" fill="none" stroke="#ee3a3a" stroke-width="1.1"/>
<line x1="491.00" y1="478.80" x2="496.00" y2="478.80" stroke="#7cbf4a" stroke-width="0.9"/>
<circle cx="493.50" cy="478.80" r="0.80" fill="#7cbf4a"/>
<text x="500.80" y="480.60" font-size="5.0" text-anchor="start" fill="#222" stroke="#222" stroke-width="0.12">Vehicle</text>
<line x1="491.00" y1="487.00" x2="496.00" y2="487.00" stroke="#29a8e0" stroke-width="0.9"/>
<circle cx="493.50" cy="487.00" r="0.80" fill="#29a8e0"/>
<text x="500.80" y="488.80" font-size="5.0" text-anchor="start" fill="#222" stroke="#222" stroke-width="0.12">TAIII</text>
<line x1="491.00" y1="494.60" x2="496.00" y2="494.60" stroke="#9a2fb0" stroke-width="0.9"/>
<circle cx="493.50" cy="494.60" r="0.80" fill="#9a2fb0"/>
<text x="500.80" y="496.40" font-size="5.0" text-anchor="start" fill="#222" stroke="#222" stroke-width="0.12">UNT</text>
<line x1="491.00" y1="502.40" x2="496.00" y2="502.40" stroke="#2f4a8a" stroke-width="0.9"/>
<circle cx="493.50" cy="502.40" r="0.80" fill="#2f4a8a"/>
<text x="500.80" y="504.20" font-size="5.0" text-anchor="start" fill="#222" stroke="#222" stroke-width="0.12">UNT+TAIII</text>
<line x1="491.00" y1="510.60" x2="496.00" y2="510.60" stroke="#f6a531" stroke-width="0.9"/>
<circle cx="493.50" cy="510.60" r="0.80" fill="#f6a531"/>
<text x="500.80" y="512.40" font-size="5.0" text-anchor="start" fill="#222" stroke="#222" stroke-width="0.12">CAR-T</text>
<line x1="491.00" y1="519.00" x2="496.00" y2="519.00" stroke="#ee3a3a" stroke-width="0.9"/>
<circle cx="493.50" cy="519.00" r="0.80" fill="#ee3a3a"/>
<text x="500.80" y="520.80" font-size="5.0" text-anchor="start" fill="#222" stroke="#222" stroke-width="0.12">CAR-T+TAIII</text>
<path d="M524.5,478.7H528.3V495H524.5" fill="none" stroke="#555" stroke-width="0.7"/>
<line x1="525.20" y1="486.90" x2="525.20" y2="502.70" stroke="#444" stroke-width="0.7"/>
<line x1="525.20" y1="494.50" x2="528.30" y2="494.50" stroke="#444" stroke-width="0.6"/>
<text x="0" y="1.76" font-size="4.9" text-anchor="middle" fill="#333" transform="translate(532.90,486.50) rotate(90)" stroke="#333" stroke-width="0.12">0.5104</text>
<line x1="538.30" y1="478.50" x2="538.30" y2="511.40" stroke="#444" stroke-width="0.7"/>
<text x="0" y="1.76" font-size="4.9" text-anchor="middle" fill="#333" transform="translate(543.10,495.30) rotate(90)" stroke="#333" stroke-width="0.12">0.0002</text>
<line x1="548.10" y1="478.50" x2="548.10" y2="519.60" stroke="#555" stroke-width="0.7"/>
<text x="0" y="1.76" font-size="4.9" text-anchor="middle" fill="#333" transform="translate(553.10,499.10) rotate(90)" stroke="#333" stroke-width="0.12">0.0006</text>
<line x1="529.80" y1="510.90" x2="529.80" y2="520.00" stroke="#666" stroke-width="0.8"/>
<text x="0" y="1.76" font-size="4.9" text-anchor="middle" fill="#333" transform="translate(534.70,515.50) rotate(90)" stroke="#333" stroke-width="0.12">0.0130</text>
<text x="566.50" y="400.50" font-size="12" font-weight="bold">k</text>
<line x1="608.10" y1="423.30" x2="608.10" y2="477.20" stroke="#222" stroke-width="0.9"/>
<line x1="608.10" y1="477.20" x2="656.00" y2="477.20" stroke="#222" stroke-width="0.9"/>
<line x1="606.30" y1="423.30" x2="608.10" y2="423.30" stroke="#222" stroke-width="0.8"/>
<text x="605.80" y="425.46" font-size="6.0" font-weight="bold" text-anchor="end" fill="#111" stroke="#111" stroke-width="0.22">20000</text>
<line x1="606.30" y1="436.70" x2="608.10" y2="436.70" stroke="#222" stroke-width="0.8"/>
<text x="605.80" y="438.86" font-size="6.0" font-weight="bold" text-anchor="end" fill="#111" stroke="#111" stroke-width="0.22">15000</text>
<line x1="606.30" y1="450.20" x2="608.10" y2="450.20" stroke="#222" stroke-width="0.8"/>
<text x="605.80" y="452.36" font-size="6.0" font-weight="bold" text-anchor="end" fill="#111" stroke="#111" stroke-width="0.22">10000</text>
<line x1="606.30" y1="463.70" x2="608.10" y2="463.70" stroke="#222" stroke-width="0.8"/>
<text x="605.80" y="465.86" font-size="6.0" font-weight="bold" text-anchor="end" fill="#111" stroke="#111" stroke-width="0.22">5000</text>
<line x1="606.30" y1="477.20" x2="608.10" y2="477.20" stroke="#222" stroke-width="0.8"/>
<text x="605.80" y="479.36" font-size="6.0" font-weight="bold" text-anchor="end" fill="#111" stroke="#111" stroke-width="0.22">0</text>
<rect x="615.85" y="458.30" width="12.40" height="18.90" fill="none" stroke="#f6a531" stroke-width="1.1"/>
<line x1="622.05" y1="451.40" x2="622.05" y2="461.30" stroke="#f6a531" stroke-width="0.7"/>
<line x1="620.45" y1="451.40" x2="623.65" y2="451.40" stroke="#f6a531" stroke-width="0.7"/>
<line x1="620.45" y1="461.30" x2="623.65" y2="461.30" stroke="#f6a531" stroke-width="0.7"/>
<circle cx="620.25" cy="451.00" r="1.40" fill="#f6a531"/>
<circle cx="622.05" cy="458.00" r="1.40" fill="#f6a531"/>
<circle cx="623.85" cy="459.00" r="1.40" fill="#f6a531"/>
<line x1="622.05" y1="477.20" x2="622.05" y2="479.00" stroke="#222" stroke-width="0.8"/>
<rect x="636.15" y="441.80" width="13.00" height="35.40" fill="none" stroke="#e8322e" stroke-width="1.1"/>
<line x1="642.65" y1="429.30" x2="642.65" y2="454.40" stroke="#e8322e" stroke-width="0.7"/>
<line x1="641.05" y1="429.30" x2="644.25" y2="429.30" stroke="#e8322e" stroke-width="0.7"/>
<line x1="641.05" y1="454.40" x2="644.25" y2="454.40" stroke="#e8322e" stroke-width="0.7"/>
<path d="M640.85,428.40L642.45,431.20L639.25,431.20Z" fill="#e8322e"/>
<path d="M642.65,438.40L644.25,441.20L641.05,441.20Z" fill="#e8322e"/>
<path d="M644.45,452.40L646.05,455.20L642.85,455.20Z" fill="#e8322e"/>
<line x1="642.65" y1="477.20" x2="642.65" y2="479.00" stroke="#222" stroke-width="0.8"/>
<line x1="622.20" y1="422.40" x2="642.50" y2="422.40" stroke="#222" stroke-width="0.9"/>
<text x="632.35" y="420.25" font-size="5.7" text-anchor="middle" fill="#222" stroke="#222" stroke-width="0.12">0.0448</text>
<text x="631.90" y="410.75" font-size="6.8" font-weight="bold" text-anchor="middle" fill="#000" stroke="#000" stroke-width="0.22">CAR<tspan font-size="72%" baseline-shift="super">+</tspan></text>
<text x="0" y="2.23" font-size="6.2" font-weight="bold" text-anchor="middle" fill="#000" transform="translate(583.30,450.25) rotate(-90)" stroke="#000" stroke-width="0.22">MFI</text>
<text x="0" y="0" font-size="6.6" font-weight="bold" text-anchor="end" stroke="#000" stroke-width="0.22" transform="translate(623.20,485.30) rotate(-45)">CAR-T</text>
<text x="0" y="0" font-size="6.6" font-weight="bold" text-anchor="end" stroke="#000" stroke-width="0.22" transform="translate(642.70,485.30) rotate(-45)">CAR-T+TAIII</text>
<line x1="609.30" y1="537.00" x2="609.30" y2="594.00" stroke="#222" stroke-width="0.9"/>
<line x1="609.30" y1="594.00" x2="656.70" y2="594.00" stroke="#222" stroke-width="0.9"/>
<line x1="607.50" y1="537.00" x2="609.30" y2="537.00" stroke="#222" stroke-width="0.8"/>
<text x="607.00" y="539.16" font-size="6.0" font-weight="bold" text-anchor="end" fill="#111" stroke="#111" stroke-width="0.22">10000</text>
<line x1="607.50" y1="548.30" x2="609.30" y2="548.30" stroke="#222" stroke-width="0.8"/>
<text x="607.00" y="550.46" font-size="6.0" font-weight="bold" text-anchor="end" fill="#111" stroke="#111" stroke-width="0.22">8000</text>
<line x1="607.50" y1="559.60" x2="609.30" y2="559.60" stroke="#222" stroke-width="0.8"/>
<text x="607.00" y="561.76" font-size="6.0" font-weight="bold" text-anchor="end" fill="#111" stroke="#111" stroke-width="0.22">6000</text>
<line x1="607.50" y1="571.10" x2="609.30" y2="571.10" stroke="#222" stroke-width="0.8"/>
<text x="607.00" y="573.26" font-size="6.0" font-weight="bold" text-anchor="end" fill="#111" stroke="#111" stroke-width="0.22">4000</text>
<line x1="607.50" y1="582.40" x2="609.30" y2="582.40" stroke="#222" stroke-width="0.8"/>
<text x="607.00" y="584.56" font-size="6.0" font-weight="bold" text-anchor="end" fill="#111" stroke="#111" stroke-width="0.22">2000</text>
<line x1="607.50" y1="594.00" x2="609.30" y2="594.00" stroke="#222" stroke-width="0.8"/>
<text x="607.00" y="596.16" font-size="6.0" font-weight="bold" text-anchor="end" fill="#111" stroke="#111" stroke-width="0.22">0</text>
<rect x="618.05" y="562.40" width="12.20" height="31.60" fill="none" stroke="#f6a531" stroke-width="1.1"/>
<line x1="624.15" y1="548.30" x2="624.15" y2="575.70" stroke="#f6a531" stroke-width="0.7"/>
<line x1="622.55" y1="548.30" x2="625.75" y2="548.30" stroke="#f6a531" stroke-width="0.7"/>
<line x1="622.55" y1="575.70" x2="625.75" y2="575.70" stroke="#f6a531" stroke-width="0.7"/>
<circle cx="622.35" cy="547.00" r="1.40" fill="#f6a531"/>
<circle cx="624.15" cy="569.00" r="1.40" fill="#f6a531"/>
<circle cx="625.95" cy="573.00" r="1.40" fill="#f6a531"/>
<line x1="624.15" y1="594.00" x2="624.15" y2="595.80" stroke="#222" stroke-width="0.8"/>
<rect x="637.55" y="586.10" width="12.60" height="7.90" fill="none" stroke="#e8322e" stroke-width="1.1"/>
<line x1="643.85" y1="583.90" x2="643.85" y2="588.50" stroke="#e8322e" stroke-width="0.7"/>
<line x1="642.25" y1="583.90" x2="645.45" y2="583.90" stroke="#e8322e" stroke-width="0.7"/>
<line x1="642.25" y1="588.50" x2="645.45" y2="588.50" stroke="#e8322e" stroke-width="0.7"/>
<path d="M642.05,582.40L643.65,585.20L640.45,585.20Z" fill="#e8322e"/>
<path d="M643.85,585.40L645.45,588.20L642.25,588.20Z" fill="#e8322e"/>
<path d="M645.65,586.40L647.25,589.20L644.05,589.20Z" fill="#e8322e"/>
<line x1="643.85" y1="594.00" x2="643.85" y2="595.80" stroke="#222" stroke-width="0.8"/>
<line x1="623.90" y1="540.70" x2="644.00" y2="540.70" stroke="#222" stroke-width="0.9"/>
<text x="633.95" y="538.55" font-size="5.7" text-anchor="middle" fill="#222" stroke="#222" stroke-width="0.12">0.0169</text>
<text x="633.90" y="527.95" font-size="6.8" font-weight="bold" text-anchor="middle" fill="#000" stroke="#000" stroke-width="0.22">FoxP3+</text>
<text x="0" y="2.23" font-size="6.2" font-weight="bold" text-anchor="middle" fill="#000" transform="translate(584.60,565.50) rotate(-90)" stroke="#000" stroke-width="0.22">MFI</text>
<text x="0" y="0" font-size="6.6" font-weight="bold" text-anchor="end" stroke="#000" stroke-width="0.22" transform="translate(623.70,601.80) rotate(-45)">CAR-T</text>
<text x="0" y="0" font-size="6.6" font-weight="bold" text-anchor="end" stroke="#000" stroke-width="0.22" transform="translate(643.70,601.80) rotate(-45)">CAR-T+TAIII</text>
<text x="5.8" y="584.5" font-size="11" font-weight="bold">l</text>
<text x="50.40" y="591.09" font-size="8.3" font-weight="bold" text-anchor="start" fill="#000" stroke="#000" stroke-width="0.22">Syngeneic model in C57BL/6J</text>
<text x="19.50" y="609.52" font-size="7.0" font-weight="bold" text-anchor="start" fill="#000" stroke="#000" stroke-width="0.22">Day 0</text>
<text x="76.60" y="609.52" font-size="7.0" font-weight="bold" text-anchor="start" fill="#000" stroke="#000" stroke-width="0.22">Day 6</text>
<text x="116.90" y="609.52" font-size="7.0" font-weight="bold" text-anchor="start" fill="#000" stroke="#000" stroke-width="0.22">Day 7</text>
<line x1="16.80" y1="615.40" x2="199.50" y2="615.40" stroke="#000" stroke-width="1.9"/>
<path d="M205.00,615.40L199.00,612.10L199.00,618.70Z" fill="#000"/>
<text x="18.50" y="626.32" font-size="7.0" font-weight="bold" text-anchor="start" fill="#000" stroke="#000" stroke-width="0.22">Inoculation</text>
<text x="18.50" y="634.32" font-size="7.0" font-weight="bold" text-anchor="start" fill="#000" stroke="#000" stroke-width="0.22">1 ×10<tspan font-size="72%" baseline-shift="super">6</tspan></text>
<text x="18.50" y="643.12" font-size="7.0" font-weight="bold" text-anchor="start" fill="#000" stroke="#000" stroke-width="0.22">MC38-mCD19</text>
<text x="18.50" y="651.52" font-size="7.0" font-weight="bold" text-anchor="start" fill="#000" stroke="#000" stroke-width="0.22">cells</text>
<g transform="translate(76.20,623.40) scale(1.0)">
<path d="M0.5,10.5 C0,6 2.5,1.5 7.5,1 C9.5,0.8 11,1.3 12,2.2 L12.6,0.8 C13.4,0.6 14,1.4 13.7,2.6 C14.8,3.4 15.6,4.4 16,5.4 C16.2,6.3 15.4,6.8 14,7 C13.5,8.6 12.4,9.8 10.8,10.4 L9.8,10.6 L3,10.6 Z" fill="#3d6f91"/>
<path d="M9,7.5 C10,8.5 11,9 12,8.5" fill="none" stroke="#b9d0de" stroke-width="0.6"/>
<circle cx="13.8" cy="4.2" r="0.5" fill="#1e3b52"/>
</g>
<g transform="translate(117.80,623.40) scale(1.0)">
<path d="M0.5,10.5 C0,6 2.5,1.5 7.5,1 C9.5,0.8 11,1.3 12,2.2 L12.6,0.8 C13.4,0.6 14,1.4 13.7,2.6 C14.8,3.4 15.6,4.4 16,5.4 C16.2,6.3 15.4,6.8 14,7 C13.5,8.6 12.4,9.8 10.8,10.4 L9.8,10.6 L3,10.6 Z" fill="#3d6f91"/>
<path d="M9,7.5 C10,8.5 11,9 12,8.5" fill="none" stroke="#b9d0de" stroke-width="0.6"/>
<circle cx="13.8" cy="4.2" r="0.5" fill="#1e3b52"/>
</g>
<g transform="translate(181.80,623.40) scale(1.0)">
<path d="M0.5,10.5 C0,6 2.5,1.5 7.5,1 C9.5,0.8 11,1.3 12,2.2 L12.6,0.8 C13.4,0.6 14,1.4 13.7,2.6 C14.8,3.4 15.6,4.4 16,5.4 C16.2,6.3 15.4,6.8 14,7 C13.5,8.6 12.4,9.8 10.8,10.4 L9.8,10.6 L3,10.6 Z" fill="#3d6f91"/>
<path d="M9,7.5 C10,8.5 11,9 12,8.5" fill="none" stroke="#b9d0de" stroke-width="0.6"/>
<circle cx="13.8" cy="4.2" r="0.5" fill="#1e3b52"/>
</g>
<ellipse cx="177.1" cy="622" rx="1" ry="0.7" fill="#f39a55"/>
<line x1="178.50" y1="623.00" x2="186.00" y2="628.50" stroke="#a8d8f0" stroke-width="1.0"/>
<text x="68.80" y="645.82" font-size="7.0" font-weight="bold" text-anchor="start" fill="#000" stroke="#000" stroke-width="0.22">CTX+FLU</text>
<text x="68.80" y="654.02" font-size="7.0" font-weight="bold" text-anchor="start" fill="#000" stroke="#000" stroke-width="0.22">treatment</text>
<text x="109.10" y="643.12" font-size="7.0" font-weight="bold" text-anchor="start" fill="#000" stroke="#000" stroke-width="0.22">Infusion 4 ×10<tspan font-size="72%" baseline-shift="super">6</tspan></text>
<text x="109.10" y="651.52" font-size="7.0" font-weight="bold" text-anchor="start" fill="#000" stroke="#000" stroke-width="0.22">CAR-T or UNT</text>
<text x="109.10" y="659.92" font-size="7.0" font-weight="bold" text-anchor="start" fill="#000" stroke="#000" stroke-width="0.22">± TAIII</text>
<text x="166.20" y="645.82" font-size="7.0" font-weight="bold" text-anchor="start" fill="#000" stroke="#000" stroke-width="0.22">Tumor growth</text>
<text x="166.20" y="654.02" font-size="7.0" font-weight="bold" text-anchor="start" fill="#000" stroke="#000" stroke-width="0.22">monitoring</text>
<text x="236.80" y="580.00" font-size="12" font-weight="bold">m</text>
<text x="322.50" y="585.93" font-size="7.3" font-weight="bold" text-anchor="middle" fill="#000" stroke="#000" stroke-width="0.22">TGI-MC38-mCD19</text>
<line x1="275.40" y1="616.70" x2="275.40" y2="684.60" stroke="#222" stroke-width="1.0"/>
<line x1="275.40" y1="684.60" x2="366.00" y2="684.60" stroke="#555" stroke-width="1.4"/>
<line x1="273.60" y1="616.70" x2="275.40" y2="616.70" stroke="#222" stroke-width="0.8"/>
<text x="272.90" y="618.93" font-size="6.2" font-weight="bold" text-anchor="end" fill="#111" stroke="#111" stroke-width="0.22">2000</text>
<line x1="273.60" y1="633.40" x2="275.40" y2="633.40" stroke="#222" stroke-width="0.8"/>
<text x="272.90" y="635.63" font-size="6.2" font-weight="bold" text-anchor="end" fill="#111" stroke="#111" stroke-width="0.22">1500</text>
<line x1="273.60" y1="650.40" x2="275.40" y2="650.40" stroke="#222" stroke-width="0.8"/>
<text x="272.90" y="652.63" font-size="6.2" font-weight="bold" text-anchor="end" fill="#111" stroke="#111" stroke-width="0.22">1000</text>
<line x1="273.60" y1="667.50" x2="275.40" y2="667.50" stroke="#222" stroke-width="0.8"/>
<text x="272.90" y="669.73" font-size="6.2" font-weight="bold" text-anchor="end" fill="#111" stroke="#111" stroke-width="0.22">500</text>
<line x1="273.60" y1="684.50" x2="275.40" y2="684.50" stroke="#222" stroke-width="0.8"/>
<text x="272.90" y="686.73" font-size="6.2" font-weight="bold" text-anchor="end" fill="#111" stroke="#111" stroke-width="0.22">0</text>
<text x="0" y="2.38" font-size="6.6" font-weight="bold" text-anchor="middle" fill="#000" transform="translate(252.80,650.00) rotate(-90)" stroke="#000" stroke-width="0.22">D21 Tumor size (mm<tspan font-size="72%" baseline-shift="super">3</tspan>)</text>
<rect x="280.70" y="650.10" width="9.20" height="34.50" fill="none" stroke="#333" stroke-width="1.0"/>
<line x1="289.80" y1="650.60" x2="289.80" y2="684.60" stroke="#c8c8c8" stroke-width="1.5"/>
<line x1="285.30" y1="644.30" x2="285.30" y2="656.00" stroke="#333" stroke-width="0.7"/>
<line x1="283.70" y1="644.30" x2="286.90" y2="644.30" stroke="#333" stroke-width="0.7"/>
<line x1="283.70" y1="656.00" x2="286.90" y2="656.00" stroke="#333" stroke-width="0.7"/>
<circle cx="283.00" cy="636.00" r="1.30" fill="#333"/>
<circle cx="287.00" cy="637.50" r="1.30" fill="#333"/>
<circle cx="283.50" cy="662.00" r="1.30" fill="#333"/>
<circle cx="287.00" cy="661.50" r="1.30" fill="#333"/>
<circle cx="285.50" cy="654.00" r="1.30" fill="#333"/>
<line x1="285.30" y1="684.60" x2="285.30" y2="686.40" stroke="#222" stroke-width="0.8"/>
<rect x="295.00" y="668.40" width="9.20" height="16.20" fill="none" stroke="#1a3ef0" stroke-width="1.0"/>
<line x1="299.60" y1="662.30" x2="299.60" y2="674.70" stroke="#1a3ef0" stroke-width="0.7"/>
<line x1="298.00" y1="662.30" x2="301.20" y2="662.30" stroke="#1a3ef0" stroke-width="0.7"/>
<line x1="298.00" y1="674.70" x2="301.20" y2="674.70" stroke="#1a3ef0" stroke-width="0.7"/>
<circle cx="299.60" cy="644.50" r="1.30" fill="#1a3ef0"/>
<circle cx="298.00" cy="669.00" r="1.30" fill="#1a3ef0"/>
<circle cx="301.00" cy="669.00" r="1.30" fill="#1a3ef0"/>
<circle cx="299.60" cy="681.70" r="1.30" fill="#1a3ef0"/>
<circle cx="299.60" cy="673.00" r="1.30" fill="#1a3ef0"/>
<line x1="299.60" y1="684.60" x2="299.60" y2="686.40" stroke="#222" stroke-width="0.8"/>
<rect x="309.60" y="677.60" width="8.10" height="7.00" fill="none" stroke="#ff8a8a" stroke-width="1.0"/>
<line x1="313.65" y1="676.00" x2="313.65" y2="679.50" stroke="#ff8a8a" stroke-width="0.7"/>
<line x1="312.05" y1="676.00" x2="315.25" y2="676.00" stroke="#ff8a8a" stroke-width="0.7"/>
<line x1="312.05" y1="679.50" x2="315.25" y2="679.50" stroke="#ff8a8a" stroke-width="0.7"/>
<circle cx="311.00" cy="678.00" r="1.30" fill="#ff8a8a"/>
<circle cx="316.00" cy="678.00" r="1.30" fill="#ff8a8a"/>
<circle cx="313.60" cy="679.00" r="1.30" fill="#ff8a8a"/>
<line x1="313.65" y1="684.60" x2="313.65" y2="686.40" stroke="#222" stroke-width="0.8"/>
<rect x="324.50" y="680.00" width="8.50" height="4.60" fill="none" stroke="#f01818" stroke-width="1.0"/>
<line x1="328.75" y1="679.00" x2="328.75" y2="682.00" stroke="#f01818" stroke-width="0.7"/>
<line x1="327.15" y1="679.00" x2="330.35" y2="679.00" stroke="#f01818" stroke-width="0.7"/>
<line x1="327.15" y1="682.00" x2="330.35" y2="682.00" stroke="#f01818" stroke-width="0.7"/>
<circle cx="326.00" cy="681.50" r="1.30" fill="#f01818"/>
<circle cx="329.00" cy="681.50" r="1.30" fill="#f01818"/>
<circle cx="332.00" cy="681.00" r="1.30" fill="#f01818"/>
<circle cx="333.00" cy="678.50" r="1.30" fill="#f01818"/>
<line x1="328.75" y1="684.60" x2="328.75" y2="686.40" stroke="#222" stroke-width="0.8"/>
<rect x="339.10" y="647.20" width="7.80" height="37.40" fill="none" stroke="#b23ef0" stroke-width="1.0"/>
<line x1="343.00" y1="639.50" x2="343.00" y2="656.00" stroke="#b23ef0" stroke-width="0.7"/>
<line x1="341.40" y1="639.50" x2="344.60" y2="639.50" stroke="#b23ef0" stroke-width="0.7"/>
<line x1="341.40" y1="656.00" x2="344.60" y2="656.00" stroke="#b23ef0" stroke-width="0.7"/>
<circle cx="343.00" cy="621.40" r="1.30" fill="#b23ef0"/>
<circle cx="343.00" cy="648.80" r="1.30" fill="#b23ef0"/>
<circle cx="343.00" cy="670.00" r="1.30" fill="#b23ef0"/>
<line x1="343.00" y1="684.60" x2="343.00" y2="686.40" stroke="#222" stroke-width="0.8"/>
<rect x="353.00" y="666.20" width="9.20" height="18.40" fill="none" stroke="#2a9a3a" stroke-width="1.0"/>
<line x1="357.60" y1="662.00" x2="357.60" y2="671.00" stroke="#2a9a3a" stroke-width="0.7"/>
<line x1="356.00" y1="662.00" x2="359.20" y2="662.00" stroke="#2a9a3a" stroke-width="0.7"/>
<line x1="356.00" y1="671.00" x2="359.20" y2="671.00" stroke="#2a9a3a" stroke-width="0.7"/>
<circle cx="357.60" cy="657.00" r="1.30" fill="#2a9a3a"/>
<circle cx="357.60" cy="662.00" r="1.30" fill="#2a9a3a"/>
<circle cx="355.00" cy="668.00" r="1.30" fill="#2a9a3a"/>
<circle cx="358.00" cy="670.00" r="1.30" fill="#2a9a3a"/>
<circle cx="360.50" cy="669.00" r="1.30" fill="#2a9a3a"/>
<circle cx="356.00" cy="673.00" r="1.30" fill="#2a9a3a"/>
<line x1="357.60" y1="684.60" x2="357.60" y2="686.40" stroke="#222" stroke-width="0.8"/>
<line x1="274.10" y1="625.10" x2="275.40" y2="625.10" stroke="#222" stroke-width="0.6"/>
<line x1="274.10" y1="642.30" x2="275.40" y2="642.30" stroke="#222" stroke-width="0.6"/>
<line x1="274.10" y1="659.30" x2="275.40" y2="659.30" stroke="#222" stroke-width="0.6"/>
<line x1="274.10" y1="676.10" x2="275.40" y2="676.10" stroke="#222" stroke-width="0.6"/>
<line x1="285.30" y1="603.90" x2="343.00" y2="603.90" stroke="#777" stroke-width="1.3"/>
<text x="314.15" y="600.72" font-size="5.6" text-anchor="middle" fill="#222" stroke="#222" stroke-width="0.12">0.9984</text>
<line x1="285.30" y1="616.60" x2="313.80" y2="616.60" stroke="#222" stroke-width="1.3"/>
<text x="299.55" y="613.42" font-size="5.6" text-anchor="middle" fill="#222" stroke="#222" stroke-width="0.12">0.0086</text>
<line x1="285.30" y1="628.70" x2="300.00" y2="628.70" stroke="#777" stroke-width="1.3"/>
<text x="292.65" y="625.52" font-size="5.6" text-anchor="middle" fill="#222" stroke="#222" stroke-width="0.12">0.1468</text>
<line x1="342.30" y1="614.10" x2="357.90" y2="614.10" stroke="#333" stroke-width="1.3"/>
<text x="350.10" y="610.92" font-size="5.6" text-anchor="middle" fill="#222" stroke="#222" stroke-width="0.12">0.1253</text>
<line x1="313.80" y1="660.40" x2="329.10" y2="660.40" stroke="#222" stroke-width="1.3"/>
<text x="321.45" y="657.22" font-size="5.6" text-anchor="middle" fill="#222" stroke="#222" stroke-width="0.12">0.0079</text>
<text x="300.70" y="660.62" font-size="5.6" font-weight="bold" text-anchor="middle" fill="#000" stroke="#000" stroke-width="0.22">52.5%</text>
<text x="307.20" y="671.32" font-size="5.6" font-weight="bold" text-anchor="start" fill="#000" stroke="#000" stroke-width="0.22">79.3%</text>
<text x="322.30" y="677.12" font-size="5.6" font-weight="bold" text-anchor="start" fill="#000" stroke="#000" stroke-width="0.22">90.0%</text>
<text x="344.20" y="638.02" font-size="5.6" font-weight="bold" text-anchor="middle" fill="#000" stroke="#000" stroke-width="0.22">108.3%</text>
<text x="350.60" y="656.22" font-size="5.6" font-weight="bold" text-anchor="start" fill="#000" stroke="#000" stroke-width="0.22">45.9%</text>
<text x="0" y="0" font-size="6.6" font-weight="bold" text-anchor="end" stroke="#000" stroke-width="0.22" transform="translate(287.00,693.30) rotate(-45)">Vehicle</text>
<text x="0" y="0" font-size="6.6" font-weight="bold" text-anchor="end" stroke="#000" stroke-width="0.22" transform="translate(301.70,693.30) rotate(-45)">TAIII-10-ip-QD</text>
<text x="0" y="0" font-size="6.6" font-weight="bold" text-anchor="end" stroke="#000" stroke-width="0.22" transform="translate(315.50,693.30) rotate(-45)">CAR-T</text>
<text x="0" y="0" font-size="6.6" font-weight="bold" text-anchor="end" stroke="#000" stroke-width="0.22" transform="translate(330.20,693.30) rotate(-45)">CAR-T+TAIII</text>
<text x="0" y="0" font-size="6.6" font-weight="bold" text-anchor="end" stroke="#000" stroke-width="0.22" transform="translate(344.70,693.30) rotate(-45)">UNT</text>
<text x="0" y="0" font-size="6.6" font-weight="bold" text-anchor="end" stroke="#000" stroke-width="0.22" transform="translate(359.40,693.30) rotate(-45)">UNT+TAIII</text>
<text x="383.80" y="605.90" font-size="12" font-weight="bold">n</text>
<line x1="420.60" y1="625.00" x2="420.60" y2="685.70" stroke="#222" stroke-width="1.0"/>
<line x1="420.60" y1="685.70" x2="460.60" y2="685.70" stroke="#888" stroke-width="1.6"/>
<line x1="418.10" y1="626.00" x2="420.60" y2="626.00" stroke="#222" stroke-width="0.8"/>
<text x="417.00" y="628.02" font-size="5.6" font-weight="bold" text-anchor="end" fill="#111" stroke="#111" stroke-width="0.22">0.10</text>
<line x1="418.10" y1="638.00" x2="420.60" y2="638.00" stroke="#222" stroke-width="0.8"/>
<text x="417.00" y="640.02" font-size="5.6" font-weight="bold" text-anchor="end" fill="#111" stroke="#111" stroke-width="0.22">0.08</text>
<line x1="418.10" y1="649.80" x2="420.60" y2="649.80" stroke="#222" stroke-width="0.8"/>
<text x="417.00" y="651.82" font-size="5.6" font-weight="bold" text-anchor="end" fill="#111" stroke="#111" stroke-width="0.22">0.06</text>
<line x1="418.10" y1="662.00" x2="420.60" y2="662.00" stroke="#222" stroke-width="0.8"/>
<text x="417.00" y="664.02" font-size="5.6" font-weight="bold" text-anchor="end" fill="#111" stroke="#111" stroke-width="0.22">0.04</text>
<line x1="418.10" y1="673.90" x2="420.60" y2="673.90" stroke="#222" stroke-width="0.8"/>
<text x="417.00" y="675.92" font-size="5.6" font-weight="bold" text-anchor="end" fill="#111" stroke="#111" stroke-width="0.22">0.02</text>
<line x1="418.10" y1="685.70" x2="420.60" y2="685.70" stroke="#222" stroke-width="0.8"/>
<text x="417.00" y="687.72" font-size="5.6" font-weight="bold" text-anchor="end" fill="#111" stroke="#111" stroke-width="0.22">0.00</text>
<text x="0" y="2.38" font-size="6.6" font-weight="bold" text-anchor="middle" fill="#000" transform="translate(400.60,654.80) rotate(-90)" stroke="#000" stroke-width="0.22">Relative positive area %</text>
<text x="440.80" y="616.95" font-size="6.8" font-weight="bold" text-anchor="middle" fill="#000" stroke="#000" stroke-width="0.22">CD8</text>
<rect x="426.80" y="678.30" width="10.70" height="7.40" fill="none" stroke="#f6a0a0" stroke-width="1.0"/>
<line x1="432.20" y1="674.50" x2="432.20" y2="682.00" stroke="#f6a0a0" stroke-width="0.7"/>
<line x1="430.70" y1="674.50" x2="433.70" y2="674.50" stroke="#f6a0a0" stroke-width="0.7"/>
<line x1="430.70" y1="682.00" x2="433.70" y2="682.00" stroke="#f6a0a0" stroke-width="0.7"/>
<circle cx="430.00" cy="675.00" r="1.20" fill="#f6a0a0"/>
<circle cx="434.00" cy="675.50" r="1.20" fill="#f6a0a0"/>
<circle cx="429.00" cy="679.00" r="1.20" fill="#f6a0a0"/>
<circle cx="435.00" cy="679.00" r="1.20" fill="#f6a0a0"/>
<circle cx="432.00" cy="683.00" r="1.20" fill="#f6a0a0"/>
<circle cx="436.00" cy="682.50" r="1.20" fill="#f6a0a0"/>
<circle cx="428.50" cy="684.00" r="1.20" fill="#f6a0a0"/>
<rect x="443.70" y="664.80" width="10.50" height="20.90" fill="none" stroke="#e8141e" stroke-width="1.2"/>
<line x1="449.00" y1="651.20" x2="449.00" y2="679.50" stroke="#e8141e" stroke-width="0.7"/>
<line x1="447.50" y1="651.20" x2="450.50" y2="651.20" stroke="#e8141e" stroke-width="0.7"/>
<line x1="447.50" y1="679.50" x2="450.50" y2="679.50" stroke="#e8141e" stroke-width="0.7"/>
<circle cx="449.30" cy="641.40" r="1.30" fill="#e8141e"/>
<circle cx="449.30" cy="650.30" r="1.30" fill="#e8141e"/>
<circle cx="449.30" cy="655.60" r="1.30" fill="#e8141e"/>
<circle cx="447.00" cy="667.00" r="1.30" fill="#e8141e"/>
<circle cx="452.00" cy="665.30" r="1.30" fill="#e8141e"/>
<circle cx="452.00" cy="668.60" r="1.30" fill="#e8141e"/>
<circle cx="447.00" cy="675.60" r="1.30" fill="#e8141e"/>
<circle cx="452.00" cy="677.30" r="1.30" fill="#e8141e"/>
<circle cx="449.30" cy="681.30" r="1.30" fill="#e8141e"/>
<line x1="432.00" y1="634.20" x2="449.00" y2="634.20" stroke="#222" stroke-width="0.9"/>
<text x="440.50" y="632.09" font-size="5.8" text-anchor="middle" fill="#222" stroke="#222" stroke-width="0.12">0.0095</text>
<text x="0" y="0" font-size="5.6" font-weight="bold" text-anchor="end" stroke="#000" stroke-width="0.22" transform="translate(434.70,693.80) rotate(-45)">CAR-T</text>
<text x="0" y="0" font-size="5.6" font-weight="bold" text-anchor="end" stroke="#000" stroke-width="0.22" transform="translate(450.20,693.80) rotate(-45)">CAR-T+TAIII</text>
<line x1="496.60" y1="626.20" x2="496.60" y2="687.70" stroke="#222" stroke-width="1.0"/>
<line x1="496.60" y1="687.70" x2="534.20" y2="687.70" stroke="#888" stroke-width="1.6"/>
<line x1="495.10" y1="626.90" x2="496.60" y2="626.90" stroke="#222" stroke-width="0.8"/>
<text x="494.60" y="628.88" font-size="5.5" font-weight="bold" text-anchor="end" fill="#111" stroke="#111" stroke-width="0.22">0.010</text>
<line x1="495.10" y1="639.10" x2="496.60" y2="639.10" stroke="#222" stroke-width="0.8"/>
<text x="494.60" y="641.08" font-size="5.5" font-weight="bold" text-anchor="end" fill="#111" stroke="#111" stroke-width="0.22">0.008</text>
<line x1="495.10" y1="651.20" x2="496.60" y2="651.20" stroke="#222" stroke-width="0.8"/>
<text x="494.60" y="653.18" font-size="5.5" font-weight="bold" text-anchor="end" fill="#111" stroke="#111" stroke-width="0.22">0.006</text>
<line x1="495.10" y1="663.40" x2="496.60" y2="663.40" stroke="#222" stroke-width="0.8"/>
<text x="494.60" y="665.38" font-size="5.5" font-weight="bold" text-anchor="end" fill="#111" stroke="#111" stroke-width="0.22">0.004</text>
<line x1="495.10" y1="675.50" x2="496.60" y2="675.50" stroke="#222" stroke-width="0.8"/>
<text x="494.60" y="677.48" font-size="5.5" font-weight="bold" text-anchor="end" fill="#111" stroke="#111" stroke-width="0.22">0.002</text>
<line x1="495.10" y1="687.70" x2="496.60" y2="687.70" stroke="#222" stroke-width="0.8"/>
<text x="494.60" y="689.68" font-size="5.5" font-weight="bold" text-anchor="end" fill="#111" stroke="#111" stroke-width="0.22">0.000</text>
<text x="0" y="2.38" font-size="6.6" font-weight="bold" text-anchor="middle" fill="#000" transform="translate(475.30,657.00) rotate(-90)" stroke="#000" stroke-width="0.22">Relative positive area %</text>
<text x="518.50" y="616.95" font-size="6.8" font-weight="bold" text-anchor="middle" fill="#000" stroke="#000" stroke-width="0.22">FoxP3</text>
<rect x="504.30" y="663.60" width="10.70" height="24.10" fill="none" stroke="#f6a0a0" stroke-width="1.0"/>
<line x1="509.60" y1="650.30" x2="509.60" y2="676.00" stroke="#f6a0a0" stroke-width="0.7"/>
<line x1="508.10" y1="650.30" x2="511.10" y2="650.30" stroke="#f6a0a0" stroke-width="0.7"/>
<line x1="508.10" y1="676.00" x2="511.10" y2="676.00" stroke="#f6a0a0" stroke-width="0.7"/>
<circle cx="509.50" cy="633.80" r="1.30" fill="#f6a0a0"/>
<circle cx="509.50" cy="660.00" r="1.30" fill="#f6a0a0"/>
<circle cx="506.00" cy="664.00" r="1.30" fill="#f6a0a0"/>
<circle cx="513.00" cy="664.00" r="1.30" fill="#f6a0a0"/>
<circle cx="508.00" cy="670.00" r="1.30" fill="#f6a0a0"/>
<circle cx="511.00" cy="673.00" r="1.30" fill="#f6a0a0"/>
<circle cx="509.00" cy="681.00" r="1.30" fill="#f6a0a0"/>
<rect x="520.80" y="676.40" width="10.90" height="11.30" fill="none" stroke="#e8141e" stroke-width="1.2"/>
<line x1="526.20" y1="669.40" x2="526.20" y2="682.30" stroke="#e8141e" stroke-width="0.7"/>
<line x1="524.70" y1="669.40" x2="527.70" y2="669.40" stroke="#e8141e" stroke-width="0.7"/>
<line x1="524.70" y1="682.30" x2="527.70" y2="682.30" stroke="#e8141e" stroke-width="0.7"/>
<circle cx="528.00" cy="663.40" r="1.40" fill="#e8141e"/>
<circle cx="524.00" cy="671.00" r="1.40" fill="#e8141e"/>
<circle cx="529.00" cy="671.50" r="1.40" fill="#e8141e"/>
<circle cx="526.00" cy="676.00" r="1.40" fill="#e8141e"/>
<circle cx="522.00" cy="680.00" r="1.40" fill="#e8141e"/>
<circle cx="530.00" cy="680.00" r="1.40" fill="#e8141e"/>
<circle cx="524.00" cy="684.00" r="1.40" fill="#e8141e"/>
<line x1="509.20" y1="628.60" x2="527.20" y2="628.60" stroke="#999" stroke-width="1.6"/>
<text x="518.20" y="625.84" font-size="5.4" text-anchor="middle" fill="#222" stroke="#222" stroke-width="0.12">0.0223</text>
<text x="0" y="0" font-size="5.6" font-weight="bold" text-anchor="end" stroke="#000" stroke-width="0.22" transform="translate(510.20,695.30) rotate(-45)">CAR-T</text>
<text x="0" y="0" font-size="5.6" font-weight="bold" text-anchor="end" stroke="#000" stroke-width="0.22" transform="translate(527.20,695.30) rotate(-45)">CAR-T+TAIII</text>
<text x="6.5" y="690.4" font-size="11" font-weight="bold">o</text>
<text x="34.50" y="696.29" font-size="8.3" font-weight="bold" text-anchor="start" fill="#000" stroke="#000" stroke-width="0.22">CAR-T or pretreated CAR-T cells in NSG</text>
<text x="21.90" y="712.32" font-size="7.0" font-weight="bold" text-anchor="start" fill="#000" stroke="#000" stroke-width="0.22">Day 0</text>
<text x="77.40" y="712.32" font-size="7.0" font-weight="bold" text-anchor="start" fill="#000" stroke="#000" stroke-width="0.22">Day 6</text>
<text x="107.40" y="712.32" font-size="7.0" font-weight="bold" text-anchor="start" fill="#000" stroke="#000" stroke-width="0.22">Day 10</text>
<text x="139.60" y="712.32" font-size="7.0" font-weight="bold" text-anchor="start" fill="#000" stroke="#000" stroke-width="0.22">Day 13</text>
<text x="174.00" y="712.32" font-size="7.0" font-weight="bold" text-anchor="start" fill="#000" stroke="#000" stroke-width="0.22">Day 20</text>
<line x1="16.00" y1="718.60" x2="201.50" y2="718.60" stroke="#000" stroke-width="1.9"/>
<path d="M207.00,718.60L201.00,715.30L201.00,721.90Z" fill="#000"/>
<g transform="translate(22.50,729.30) scale(0.87)">
<path d="M4,9 C1,9 0,6 -3,8" fill="none" stroke="#f2a0b0" stroke-width="0.7"/>
<path d="M4,9 C4,2.5 9,0.3 15,0.8 C19.5,1.2 22.5,3.5 25,6.5 C26.5,8 26,9.5 24,10 C20,12 14,12.5 9,12 C6,11.7 4,11 4,9 Z" fill="#ececec" stroke="#dadada" stroke-width="0.5"/>
<ellipse cx="20" cy="3.5" rx="1.6" ry="1.2" fill="#f6c2cc"/>
<path d="M8,11 l-1,2 M12,11.2 l0,2 M18,10.6 l1,2 M22,10 l1.5,1.5" stroke="#f2a0b0" stroke-width="0.6"/>
<circle cx="23.5" cy="6" r="0.5" fill="#e08090"/>
<ellipse cx="14" cy="8" rx="1.8" ry="1.3" fill="#3aa0e0"/>
</g>
<g transform="translate(22.20,724.80) scale(1.0)">
<ellipse cx="0" cy="0" rx="1.2" ry="1.6" fill="#f39a55" transform="rotate(30)"/>
<line x1="1" y1="2" x2="9" y2="11" stroke="#9cd2f0" stroke-width="1.8"/>
</g>
<g transform="translate(71.80,729.30) scale(0.88)">
<path d="M4,9 C1,9 0,6 -3,8" fill="none" stroke="#f2a0b0" stroke-width="0.7"/>
<path d="M4,9 C4,2.5 9,0.3 15,0.8 C19.5,1.2 22.5,3.5 25,6.5 C26.5,8 26,9.5 24,10 C20,12 14,12.5 9,12 C6,11.7 4,11 4,9 Z" fill="#ececec" stroke="#dadada" stroke-width="0.5"/>
<ellipse cx="20" cy="3.5" rx="1.6" ry="1.2" fill="#f6c2cc"/>
<path d="M8,11 l-1,2 M12,11.2 l0,2 M18,10.6 l1,2 M22,10 l1.5,1.5" stroke="#f2a0b0" stroke-width="0.6"/>
<circle cx="23.5" cy="6" r="0.5" fill="#e08090"/>
<ellipse cx="13" cy="6.5" rx="2.5" ry="2.2" fill="#f0a090" opacity="0.9"/>
</g>
<g transform="translate(61.24,723.58) scale(0.88) rotate(32)">
<rect x="0" y="-1.2" width="11" height="2.4" fill="#bfe3f7" stroke="#3a8cc8" stroke-width="0.5"/>
<rect x="2" y="-1.2" width="6" height="2.4" fill="#58aee6"/>
<line x1="-3" y1="0" x2="0" y2="0" stroke="#3a8cc8" stroke-width="0.8"/>
<line x1="11" y1="0" x2="16" y2="0" stroke="#777" stroke-width="0.4"/>
</g>
<g transform="translate(169.50,728.00) scale(0.9)">
<path d="M4,9 C1,9 0,6 -3,8" fill="none" stroke="#f2a0b0" stroke-width="0.7"/>
<path d="M4,9 C4,2.5 9,0.3 15,0.8 C19.5,1.2 22.5,3.5 25,6.5 C26.5,8 26,9.5 24,10 C20,12 14,12.5 9,12 C6,11.7 4,11 4,9 Z" fill="#ececec" stroke="#dadada" stroke-width="0.5"/>
<ellipse cx="20" cy="3.5" rx="1.6" ry="1.2" fill="#f6c2cc"/>
<path d="M8,11 l-1,2 M12,11.2 l0,2 M18,10.6 l1,2 M22,10 l1.5,1.5" stroke="#f2a0b0" stroke-width="0.6"/>
<circle cx="23.5" cy="6" r="0.5" fill="#e08090"/>
<ellipse cx="13" cy="6.5" rx="2.5" ry="2.2" fill="#f0a090" opacity="0.9"/>
</g>
<text x="14.00" y="749.72" font-size="7.0" font-weight="bold" text-anchor="start" fill="#000" stroke="#000" stroke-width="0.22">Engraft 1 ×10<tspan font-size="72%" baseline-shift="super">6</tspan></text>
<text x="14.00" y="759.02" font-size="7.0" font-weight="bold" text-anchor="start" fill="#000" stroke="#000" stroke-width="0.22">Nalm6 cells</text>
<text x="67.20" y="749.72" font-size="7.0" font-weight="bold" text-anchor="start" fill="#000" stroke="#000" stroke-width="0.22">Infusion 5 ×10<tspan font-size="72%" baseline-shift="super">6</tspan></text>
<text x="67.20" y="758.32" font-size="7.0" font-weight="bold" text-anchor="start" fill="#000" stroke="#000" stroke-width="0.22">CAR T or TAIII</text>
<text x="67.20" y="766.82" font-size="7.0" font-weight="bold" text-anchor="start" fill="#000" stroke="#000" stroke-width="0.22">pretreated CAR-T</text>
<text x="166.20" y="748.32" font-size="7.0" font-weight="bold" text-anchor="start" fill="#000" stroke="#000" stroke-width="0.22">Tumor growth</text>
<text x="166.20" y="757.12" font-size="7.0" font-weight="bold" text-anchor="start" fill="#000" stroke="#000" stroke-width="0.22">monitoring</text>
<text x="32.80" y="788.52" font-size="7.0" font-weight="bold" text-anchor="middle" fill="#000" stroke="#000" stroke-width="0.22">CAR-T</text>
<text x="61.20" y="779.72" font-size="7.0" font-weight="bold" text-anchor="middle" fill="#000" stroke="#000" stroke-width="0.22">Pretr-</text>
<text x="63.00" y="788.52" font-size="7.0" font-weight="bold" text-anchor="middle" fill="#000" stroke="#000" stroke-width="0.22">CAR-T</text>
<text x="12.20" y="811.59" font-size="7.2" font-weight="bold" text-anchor="end" fill="#000" stroke="#000" stroke-width="0.22">D6</text>
<text x="12.20" y="839.19" font-size="7.2" font-weight="bold" text-anchor="end" fill="#000" stroke="#000" stroke-width="0.22">D13</text>
<text x="12.20" y="867.29" font-size="7.2" font-weight="bold" text-anchor="end" fill="#000" stroke="#000" stroke-width="0.22">D20</text>
<rect x="16.40" y="792.30" width="62.30" height="89.00" fill="#d9d9d9" stroke="none" stroke-width="0.8"/>
<rect x="16.90" y="792.80" width="30.30" height="28.60" fill="#262626" stroke="none" stroke-width="0.8"/>
<line x1="23.10" y1="811.77" x2="23.10" y2="820.90" stroke="#8a8a8a" stroke-width="0.7"/>
<path d="M0.5,0 C0.68,0 0.74,0.08 0.78,0.18 L0.86,0.32 L0.95,0.72 C0.99,0.9 0.82,1 0.5,1 C0.18,1 0.01,0.9 0.05,0.72 L0.14,0.32 L0.22,0.18 C0.26,0.08 0.32,0 0.5,0 Z" fill="#c2c2c2" transform="translate(18.60,793.80) scale(9.00,18.97)"/>
<path d="M0.5,0 C0.68,0 0.74,0.08 0.78,0.18 L0.86,0.32 L0.95,0.72 C0.99,0.9 0.82,1 0.5,1 C0.18,1 0.01,0.9 0.05,0.72 L0.14,0.32 L0.22,0.18 C0.26,0.08 0.32,0 0.5,0 Z" fill="#e2e2e2" transform="translate(19.86,795.70) scale(6.48,15.18)"/>
<circle cx="23.10" cy="802.34" r="3.60" fill="#6a1cf2"/>
<circle cx="23.10" cy="802.34" r="2.59" fill="#2a3cff"/>
<circle cx="23.10" cy="802.34" r="1.62" fill="#20c8e0"/>
<circle cx="23.10" cy="802.34" r="1.30" fill="#f01010"/>
<line x1="33.00" y1="811.77" x2="33.00" y2="820.90" stroke="#8a8a8a" stroke-width="0.7"/>
<path d="M0.5,0 C0.68,0 0.74,0.08 0.78,0.18 L0.86,0.32 L0.95,0.72 C0.99,0.9 0.82,1 0.5,1 C0.18,1 0.01,0.9 0.05,0.72 L0.14,0.32 L0.22,0.18 C0.26,0.08 0.32,0 0.5,0 Z" fill="#c2c2c2" transform="translate(28.50,793.80) scale(9.00,18.97)"/>
<path d="M0.5,0 C0.68,0 0.74,0.08 0.78,0.18 L0.86,0.32 L0.95,0.72 C0.99,0.9 0.82,1 0.5,1 C0.18,1 0.01,0.9 0.05,0.72 L0.14,0.32 L0.22,0.18 C0.26,0.08 0.32,0 0.5,0 Z" fill="#e2e2e2" transform="translate(29.76,795.70) scale(6.48,15.18)"/>
<ellipse cx="29.40" cy="803.28" rx="2.00" ry="2.80" fill="#7020f0"/>
<circle cx="34.35" cy="802.34" r="2.00" fill="#6a1cf2"/>
<circle cx="34.35" cy="802.34" r="1.44" fill="#2a3cff"/>
<circle cx="34.35" cy="802.34" r="0.90" fill="#20c8e0"/>
<circle cx="34.35" cy="802.34" r="0.72" fill="#f01010"/>
<line x1="42.50" y1="811.77" x2="42.50" y2="820.90" stroke="#8a8a8a" stroke-width="0.7"/>
<path d="M0.5,0 C0.68,0 0.74,0.08 0.78,0.18 L0.86,0.32 L0.95,0.72 C0.99,0.9 0.82,1 0.5,1 C0.18,1 0.01,0.9 0.05,0.72 L0.14,0.32 L0.22,0.18 C0.26,0.08 0.32,0 0.5,0 Z" fill="#c2c2c2" transform="translate(38.00,793.80) scale(9.00,18.97)"/>
<path d="M0.5,0 C0.68,0 0.74,0.08 0.78,0.18 L0.86,0.32 L0.95,0.72 C0.99,0.9 0.82,1 0.5,1 C0.18,1 0.01,0.9 0.05,0.72 L0.14,0.32 L0.22,0.18 C0.26,0.08 0.32,0 0.5,0 Z" fill="#e2e2e2" transform="translate(39.26,795.70) scale(6.48,15.18)"/>
<circle cx="42.50" cy="803.28" r="2.20" fill="#6a1cf2"/>
<circle cx="42.50" cy="803.28" r="1.58" fill="#2a3cff"/>
<circle cx="42.50" cy="803.28" r="0.99" fill="#20c8e0"/>
<circle cx="42.50" cy="803.28" r="0.79" fill="#f01010"/>
<rect x="47.60" y="792.80" width="30.60" height="28.60" fill="#262626" stroke="none" stroke-width="0.8"/>
<line x1="54.80" y1="811.77" x2="54.80" y2="820.90" stroke="#8a8a8a" stroke-width="0.7"/>
<path d="M0.5,0 C0.68,0 0.74,0.08 0.78,0.18 L0.86,0.32 L0.95,0.72 C0.99,0.9 0.82,1 0.5,1 C0.18,1 0.01,0.9 0.05,0.72 L0.14,0.32 L0.22,0.18 C0.26,0.08 0.32,0 0.5,0 Z" fill="#c2c2c2" transform="translate(50.30,793.80) scale(9.00,18.97)"/>
<path d="M0.5,0 C0.68,0 0.74,0.08 0.78,0.18 L0.86,0.32 L0.95,0.72 C0.99,0.9 0.82,1 0.5,1 C0.18,1 0.01,0.9 0.05,0.72 L0.14,0.32 L0.22,0.18 C0.26,0.08 0.32,0 0.5,0 Z" fill="#e2e2e2" transform="translate(51.56,795.70) scale(6.48,15.18)"/>
<circle cx="54.80" cy="801.39" r="2.40" fill="#6a1cf2"/>
<circle cx="54.80" cy="801.39" r="1.73" fill="#2a3cff"/>
<circle cx="54.80" cy="801.39" r="1.08" fill="#20c8e0"/>
<circle cx="54.80" cy="801.39" r="0.86" fill="#f01010"/>
<line x1="63.90" y1="811.77" x2="63.90" y2="820.90" stroke="#8a8a8a" stroke-width="0.7"/>
<path d="M0.5,0 C0.68,0 0.74,0.08 0.78,0.18 L0.86,0.32 L0.95,0.72 C0.99,0.9 0.82,1 0.5,1 C0.18,1 0.01,0.9 0.05,0.72 L0.14,0.32 L0.22,0.18 C0.26,0.08 0.32,0 0.5,0 Z" fill="#c2c2c2" transform="translate(59.40,793.80) scale(9.00,18.97)"/>
<path d="M0.5,0 C0.68,0 0.74,0.08 0.78,0.18 L0.86,0.32 L0.95,0.72 C0.99,0.9 0.82,1 0.5,1 C0.18,1 0.01,0.9 0.05,0.72 L0.14,0.32 L0.22,0.18 C0.26,0.08 0.32,0 0.5,0 Z" fill="#e2e2e2" transform="translate(60.66,795.70) scale(6.48,15.18)"/>
<circle cx="63.90" cy="801.39" r="4.50" fill="#6a1cf2"/>
<circle cx="63.90" cy="801.39" r="3.24" fill="#2a3cff"/>
<circle cx="63.90" cy="801.39" r="2.02" fill="#20c8e0"/>
<circle cx="63.90" cy="801.39" r="1.62" fill="#f01010"/>
<line x1="72.90" y1="811.77" x2="72.90" y2="820.90" stroke="#8a8a8a" stroke-width="0.7"/>
<path d="M0.5,0 C0.68,0 0.74,0.08 0.78,0.18 L0.86,0.32 L0.95,0.72 C0.99,0.9 0.82,1 0.5,1 C0.18,1 0.01,0.9 0.05,0.72 L0.14,0.32 L0.22,0.18 C0.26,0.08 0.32,0 0.5,0 Z" fill="#c2c2c2" transform="translate(68.40,793.80) scale(9.00,18.97)"/>
<path d="M0.5,0 C0.68,0 0.74,0.08 0.78,0.18 L0.86,0.32 L0.95,0.72 C0.99,0.9 0.82,1 0.5,1 C0.18,1 0.01,0.9 0.05,0.72 L0.14,0.32 L0.22,0.18 C0.26,0.08 0.32,0 0.5,0 Z" fill="#e2e2e2" transform="translate(69.66,795.70) scale(6.48,15.18)"/>
<ellipse cx="72.90" cy="802.34" rx="3.80" ry="5.32" fill="#7020f0"/>
<circle cx="73.80" cy="802.34" r="2.00" fill="#6a1cf2"/>
<circle cx="73.80" cy="802.34" r="1.44" fill="#2a3cff"/>
<circle cx="73.80" cy="802.34" r="0.90" fill="#20c8e0"/>
<circle cx="73.80" cy="802.34" r="0.72" fill="#f01010"/>
<rect x="16.90" y="823.00" width="30.30" height="28.10" fill="#262626" stroke="none" stroke-width="0.8"/>
<line x1="23.10" y1="841.62" x2="23.10" y2="850.60" stroke="#8a8a8a" stroke-width="0.7"/>
<path d="M0.5,0 C0.68,0 0.74,0.08 0.78,0.18 L0.86,0.32 L0.95,0.72 C0.99,0.9 0.82,1 0.5,1 C0.18,1 0.01,0.9 0.05,0.72 L0.14,0.32 L0.22,0.18 C0.26,0.08 0.32,0 0.5,0 Z" fill="#c2c2c2" transform="translate(18.60,824.00) scale(9.00,18.62)"/>
<path d="M0.5,0 C0.68,0 0.74,0.08 0.78,0.18 L0.86,0.32 L0.95,0.72 C0.99,0.9 0.82,1 0.5,1 C0.18,1 0.01,0.9 0.05,0.72 L0.14,0.32 L0.22,0.18 C0.26,0.08 0.32,0 0.5,0 Z" fill="#e2e2e2" transform="translate(19.86,825.86) scale(6.48,14.90)"/>
<circle cx="23.10" cy="834.24" r="4.00" fill="#6a1cf2"/>
<circle cx="23.10" cy="834.24" r="2.88" fill="#2a3cff"/>
<circle cx="23.10" cy="834.24" r="1.80" fill="#20c8e0"/>
<circle cx="23.10" cy="834.24" r="1.44" fill="#f01010"/>
<line x1="33.00" y1="841.62" x2="33.00" y2="850.60" stroke="#8a8a8a" stroke-width="0.7"/>
<path d="M0.5,0 C0.68,0 0.74,0.08 0.78,0.18 L0.86,0.32 L0.95,0.72 C0.99,0.9 0.82,1 0.5,1 C0.18,1 0.01,0.9 0.05,0.72 L0.14,0.32 L0.22,0.18 C0.26,0.08 0.32,0 0.5,0 Z" fill="#c2c2c2" transform="translate(28.50,824.00) scale(9.00,18.62)"/>
<path d="M0.5,0 C0.68,0 0.74,0.08 0.78,0.18 L0.86,0.32 L0.95,0.72 C0.99,0.9 0.82,1 0.5,1 C0.18,1 0.01,0.9 0.05,0.72 L0.14,0.32 L0.22,0.18 C0.26,0.08 0.32,0 0.5,0 Z" fill="#e2e2e2" transform="translate(29.76,825.86) scale(6.48,14.90)"/>
<ellipse cx="33.00" cy="833.31" rx="4.40" ry="6.16" fill="#7020f0"/>
<circle cx="33.90" cy="832.38" r="2.40" fill="#6a1cf2"/>
<circle cx="33.90" cy="832.38" r="1.73" fill="#2a3cff"/>
<circle cx="33.90" cy="832.38" r="1.08" fill="#20c8e0"/>
<circle cx="33.90" cy="832.38" r="0.86" fill="#f01010"/>
<line x1="42.50" y1="841.62" x2="42.50" y2="850.60" stroke="#8a8a8a" stroke-width="0.7"/>
<path d="M0.5,0 C0.68,0 0.74,0.08 0.78,0.18 L0.86,0.32 L0.95,0.72 C0.99,0.9 0.82,1 0.5,1 C0.18,1 0.01,0.9 0.05,0.72 L0.14,0.32 L0.22,0.18 C0.26,0.08 0.32,0 0.5,0 Z" fill="#c2c2c2" transform="translate(38.00,824.00) scale(9.00,18.62)"/>
<path d="M0.5,0 C0.68,0 0.74,0.08 0.78,0.18 L0.86,0.32 L0.95,0.72 C0.99,0.9 0.82,1 0.5,1 C0.18,1 0.01,0.9 0.05,0.72 L0.14,0.32 L0.22,0.18 C0.26,0.08 0.32,0 0.5,0 Z" fill="#e2e2e2" transform="translate(39.26,825.86) scale(6.48,14.90)"/>
<ellipse cx="42.50" cy="834.24" rx="4.40" ry="6.16" fill="#7020f0"/>
<circle cx="42.50" cy="833.31" r="3.00" fill="#6a1cf2"/>
<circle cx="42.50" cy="833.31" r="2.16" fill="#2a3cff"/>
<circle cx="42.50" cy="833.31" r="1.35" fill="#20c8e0"/>
<circle cx="42.50" cy="833.31" r="1.08" fill="#f01010"/>
<rect x="47.60" y="823.00" width="30.60" height="28.10" fill="#262626" stroke="none" stroke-width="0.8"/>
<line x1="54.80" y1="841.62" x2="54.80" y2="850.60" stroke="#8a8a8a" stroke-width="0.7"/>
<path d="M0.5,0 C0.68,0 0.74,0.08 0.78,0.18 L0.86,0.32 L0.95,0.72 C0.99,0.9 0.82,1 0.5,1 C0.18,1 0.01,0.9 0.05,0.72 L0.14,0.32 L0.22,0.18 C0.26,0.08 0.32,0 0.5,0 Z" fill="#c2c2c2" transform="translate(50.30,824.00) scale(9.00,18.62)"/>
<path d="M0.5,0 C0.68,0 0.74,0.08 0.78,0.18 L0.86,0.32 L0.95,0.72 C0.99,0.9 0.82,1 0.5,1 C0.18,1 0.01,0.9 0.05,0.72 L0.14,0.32 L0.22,0.18 C0.26,0.08 0.32,0 0.5,0 Z" fill="#e2e2e2" transform="translate(51.56,825.86) scale(6.48,14.90)"/>
<ellipse cx="52.10" cy="834.24" rx="1.50" ry="2.10" fill="#7020f0"/>
<line x1="63.90" y1="841.62" x2="63.90" y2="850.60" stroke="#8a8a8a" stroke-width="0.7"/>
<path d="M0.5,0 C0.68,0 0.74,0.08 0.78,0.18 L0.86,0.32 L0.95,0.72 C0.99,0.9 0.82,1 0.5,1 C0.18,1 0.01,0.9 0.05,0.72 L0.14,0.32 L0.22,0.18 C0.26,0.08 0.32,0 0.5,0 Z" fill="#c2c2c2" transform="translate(59.40,824.00) scale(9.00,18.62)"/>
<path d="M0.5,0 C0.68,0 0.74,0.08 0.78,0.18 L0.86,0.32 L0.95,0.72 C0.99,0.9 0.82,1 0.5,1 C0.18,1 0.01,0.9 0.05,0.72 L0.14,0.32 L0.22,0.18 C0.26,0.08 0.32,0 0.5,0 Z" fill="#e2e2e2" transform="translate(60.66,825.86) scale(6.48,14.90)"/>
<circle cx="63.90" cy="834.24" r="3.60" fill="#6a1cf2"/>
<circle cx="63.90" cy="834.24" r="2.59" fill="#2a3cff"/>
<circle cx="63.90" cy="834.24" r="1.62" fill="#20c8e0"/>
<circle cx="63.90" cy="834.24" r="1.30" fill="#f01010"/>
<line x1="72.90" y1="841.62" x2="72.90" y2="850.60" stroke="#8a8a8a" stroke-width="0.7"/>
<path d="M0.5,0 C0.68,0 0.74,0.08 0.78,0.18 L0.86,0.32 L0.95,0.72 C0.99,0.9 0.82,1 0.5,1 C0.18,1 0.01,0.9 0.05,0.72 L0.14,0.32 L0.22,0.18 C0.26,0.08 0.32,0 0.5,0 Z" fill="#c2c2c2" transform="translate(68.40,824.00) scale(9.00,18.62)"/>
<path d="M0.5,0 C0.68,0 0.74,0.08 0.78,0.18 L0.86,0.32 L0.95,0.72 C0.99,0.9 0.82,1 0.5,1 C0.18,1 0.01,0.9 0.05,0.72 L0.14,0.32 L0.22,0.18 C0.26,0.08 0.32,0 0.5,0 Z" fill="#e2e2e2" transform="translate(69.66,825.86) scale(6.48,14.90)"/>
<circle cx="72.90" cy="833.31" r="3.00" fill="#6a1cf2"/>
<circle cx="72.90" cy="833.31" r="2.16" fill="#2a3cff"/>
<circle cx="72.90" cy="833.31" r="1.35" fill="#20c8e0"/>
<circle cx="72.90" cy="833.31" r="1.08" fill="#f01010"/>
<rect x="16.90" y="852.70" width="30.30" height="28.10" fill="#262626" stroke="none" stroke-width="0.8"/>
<line x1="23.10" y1="871.32" x2="23.10" y2="880.30" stroke="#8a8a8a" stroke-width="0.7"/>
<path d="M0.5,0 C0.68,0 0.74,0.08 0.78,0.18 L0.86,0.32 L0.95,0.72 C0.99,0.9 0.82,1 0.5,1 C0.18,1 0.01,0.9 0.05,0.72 L0.14,0.32 L0.22,0.18 C0.26,0.08 0.32,0 0.5,0 Z" fill="#c2c2c2" transform="translate(18.60,853.70) scale(9.00,18.62)"/>
<path d="M0.5,0 C0.68,0 0.74,0.08 0.78,0.18 L0.86,0.32 L0.95,0.72 C0.99,0.9 0.82,1 0.5,1 C0.18,1 0.01,0.9 0.05,0.72 L0.14,0.32 L0.22,0.18 C0.26,0.08 0.32,0 0.5,0 Z" fill="#e2e2e2" transform="translate(19.86,855.56) scale(6.48,14.90)"/>
<line x1="33.00" y1="871.32" x2="33.00" y2="880.30" stroke="#8a8a8a" stroke-width="0.7"/>
<path d="M0.5,0 C0.68,0 0.74,0.08 0.78,0.18 L0.86,0.32 L0.95,0.72 C0.99,0.9 0.82,1 0.5,1 C0.18,1 0.01,0.9 0.05,0.72 L0.14,0.32 L0.22,0.18 C0.26,0.08 0.32,0 0.5,0 Z" fill="#c2c2c2" transform="translate(28.50,853.70) scale(9.00,18.62)"/>
<path d="M0.5,0 C0.68,0 0.74,0.08 0.78,0.18 L0.86,0.32 L0.95,0.72 C0.99,0.9 0.82,1 0.5,1 C0.18,1 0.01,0.9 0.05,0.72 L0.14,0.32 L0.22,0.18 C0.26,0.08 0.32,0 0.5,0 Z" fill="#e2e2e2" transform="translate(29.76,855.56) scale(6.48,14.90)"/>
<ellipse cx="33.00" cy="862.08" rx="1.65" ry="1.50" fill="#7a1ef0" opacity="0.9"/>
<ellipse cx="34.35" cy="861.52" rx="0.88" ry="0.80" fill="#7a1ef0" opacity="0.9"/>
<line x1="42.50" y1="871.32" x2="42.50" y2="880.30" stroke="#8a8a8a" stroke-width="0.7"/>
<path d="M0.5,0 C0.68,0 0.74,0.08 0.78,0.18 L0.86,0.32 L0.95,0.72 C0.99,0.9 0.82,1 0.5,1 C0.18,1 0.01,0.9 0.05,0.72 L0.14,0.32 L0.22,0.18 C0.26,0.08 0.32,0 0.5,0 Z" fill="#c2c2c2" transform="translate(38.00,853.70) scale(9.00,18.62)"/>
<path d="M0.5,0 C0.68,0 0.74,0.08 0.78,0.18 L0.86,0.32 L0.95,0.72 C0.99,0.9 0.82,1 0.5,1 C0.18,1 0.01,0.9 0.05,0.72 L0.14,0.32 L0.22,0.18 C0.26,0.08 0.32,0 0.5,0 Z" fill="#e2e2e2" transform="translate(39.26,855.56) scale(6.48,14.90)"/>
<circle cx="42.50" cy="862.08" r="1.80" fill="#6a1cf2"/>
<circle cx="42.50" cy="862.08" r="1.30" fill="#2a3cff"/>
<circle cx="42.50" cy="862.08" r="0.81" fill="#20c8e0"/>
<circle cx="42.50" cy="862.08" r="0.65" fill="#f01010"/>
<rect x="47.60" y="852.70" width="30.60" height="28.10" fill="#262626" stroke="none" stroke-width="0.8"/>
<line x1="54.80" y1="871.32" x2="54.80" y2="880.30" stroke="#8a8a8a" stroke-width="0.7"/>
<path d="M0.5,0 C0.68,0 0.74,0.08 0.78,0.18 L0.86,0.32 L0.95,0.72 C0.99,0.9 0.82,1 0.5,1 C0.18,1 0.01,0.9 0.05,0.72 L0.14,0.32 L0.22,0.18 C0.26,0.08 0.32,0 0.5,0 Z" fill="#c2c2c2" transform="translate(50.30,853.70) scale(9.00,18.62)"/>
<path d="M0.5,0 C0.68,0 0.74,0.08 0.78,0.18 L0.86,0.32 L0.95,0.72 C0.99,0.9 0.82,1 0.5,1 C0.18,1 0.01,0.9 0.05,0.72 L0.14,0.32 L0.22,0.18 C0.26,0.08 0.32,0 0.5,0 Z" fill="#e2e2e2" transform="translate(51.56,855.56) scale(6.48,14.90)"/>
<line x1="63.90" y1="871.32" x2="63.90" y2="880.30" stroke="#8a8a8a" stroke-width="0.7"/>
<path d="M0.5,0 C0.68,0 0.74,0.08 0.78,0.18 L0.86,0.32 L0.95,0.72 C0.99,0.9 0.82,1 0.5,1 C0.18,1 0.01,0.9 0.05,0.72 L0.14,0.32 L0.22,0.18 C0.26,0.08 0.32,0 0.5,0 Z" fill="#c2c2c2" transform="translate(59.40,853.70) scale(9.00,18.62)"/>
<path d="M0.5,0 C0.68,0 0.74,0.08 0.78,0.18 L0.86,0.32 L0.95,0.72 C0.99,0.9 0.82,1 0.5,1 C0.18,1 0.01,0.9 0.05,0.72 L0.14,0.32 L0.22,0.18 C0.26,0.08 0.32,0 0.5,0 Z" fill="#e2e2e2" transform="translate(60.66,855.56) scale(6.48,14.90)"/>
<line x1="72.90" y1="871.32" x2="72.90" y2="880.30" stroke="#8a8a8a" stroke-width="0.7"/>
<path d="M0.5,0 C0.68,0 0.74,0.08 0.78,0.18 L0.86,0.32 L0.95,0.72 C0.99,0.9 0.82,1 0.5,1 C0.18,1 0.01,0.9 0.05,0.72 L0.14,0.32 L0.22,0.18 C0.26,0.08 0.32,0 0.5,0 Z" fill="#c2c2c2" transform="translate(68.40,853.70) scale(9.00,18.62)"/>
<path d="M0.5,0 C0.68,0 0.74,0.08 0.78,0.18 L0.86,0.32 L0.95,0.72 C0.99,0.9 0.82,1 0.5,1 C0.18,1 0.01,0.9 0.05,0.72 L0.14,0.32 L0.22,0.18 C0.26,0.08 0.32,0 0.5,0 Z" fill="#e2e2e2" transform="translate(69.66,855.56) scale(6.48,14.90)"/>
<text x="99.60" y="785.80" font-size="12" font-weight="bold">p</text>
<line x1="118.00" y1="803.90" x2="118.00" y2="863.00" stroke="#222" stroke-width="0.9"/>
<line x1="118.00" y1="863.00" x2="166.60" y2="863.00" stroke="#222" stroke-width="0.9"/>
<line x1="116.20" y1="804.60" x2="118.00" y2="804.60" stroke="#222" stroke-width="0.8"/>
<text x="115.50" y="806.98" font-size="6.6" font-weight="bold" text-anchor="end" fill="#111" stroke="#111" stroke-width="0.22">160</text>
<line x1="116.20" y1="819.30" x2="118.00" y2="819.30" stroke="#222" stroke-width="0.8"/>
<text x="115.50" y="821.68" font-size="6.6" font-weight="bold" text-anchor="end" fill="#111" stroke="#111" stroke-width="0.22">140</text>
<line x1="116.20" y1="833.90" x2="118.00" y2="833.90" stroke="#222" stroke-width="0.8"/>
<text x="115.50" y="836.28" font-size="6.6" font-weight="bold" text-anchor="end" fill="#111" stroke="#111" stroke-width="0.22">120</text>
<line x1="116.20" y1="848.40" x2="118.00" y2="848.40" stroke="#222" stroke-width="0.8"/>
<text x="115.50" y="850.78" font-size="6.6" font-weight="bold" text-anchor="end" fill="#111" stroke="#111" stroke-width="0.22">100</text>
<line x1="116.20" y1="863.00" x2="118.00" y2="863.00" stroke="#222" stroke-width="0.8"/>
<text x="115.50" y="865.38" font-size="6.6" font-weight="bold" text-anchor="end" fill="#111" stroke="#111" stroke-width="0.22">80</text>
<rect x="126.65" y="849.30" width="11.40" height="13.70" fill="none" stroke="#f6a531" stroke-width="1.1"/>
<line x1="132.35" y1="842.30" x2="132.35" y2="856.50" stroke="#f6a531" stroke-width="0.7"/>
<line x1="130.75" y1="842.30" x2="133.95" y2="842.30" stroke="#f6a531" stroke-width="0.7"/>
<line x1="130.75" y1="856.50" x2="133.95" y2="856.50" stroke="#f6a531" stroke-width="0.7"/>
<circle cx="130.55" cy="842.00" r="1.40" fill="#f6a531"/>
<circle cx="132.35" cy="849.00" r="1.40" fill="#f6a531"/>
<circle cx="134.15" cy="856.00" r="1.40" fill="#f6a531"/>
<line x1="132.35" y1="863.00" x2="132.35" y2="864.80" stroke="#222" stroke-width="0.8"/>
<rect x="147.05" y="817.50" width="12.00" height="45.50" fill="none" stroke="#e8322e" stroke-width="1.1"/>
<line x1="153.05" y1="807.70" x2="153.05" y2="828.00" stroke="#e8322e" stroke-width="0.7"/>
<line x1="151.45" y1="807.70" x2="154.65" y2="807.70" stroke="#e8322e" stroke-width="0.7"/>
<line x1="151.45" y1="828.00" x2="154.65" y2="828.00" stroke="#e8322e" stroke-width="0.7"/>
<path d="M151.25,806.40L152.85,809.20L149.65,809.20Z" fill="#e8322e"/>
<path d="M153.05,820.40L154.65,823.20L151.45,823.20Z" fill="#e8322e"/>
<path d="M154.85,829.40L156.45,832.20L153.25,832.20Z" fill="#e8322e"/>
<line x1="153.05" y1="863.00" x2="153.05" y2="864.80" stroke="#222" stroke-width="0.8"/>
<line x1="132.70" y1="802.80" x2="151.70" y2="802.80" stroke="#222" stroke-width="0.9"/>
<text x="142.20" y="800.65" font-size="5.7" text-anchor="middle" fill="#222" stroke="#222" stroke-width="0.12">0.0103</text>
<text x="142.00" y="791.05" font-size="6.8" font-weight="bold" text-anchor="middle" fill="#000" stroke="#000" stroke-width="0.22">CAR<tspan font-size="72%" baseline-shift="super">+</tspan></text>
<text x="0" y="2.23" font-size="6.2" font-weight="bold" text-anchor="middle" fill="#000" transform="translate(99.90,833.45) rotate(-90)" stroke="#000" stroke-width="0.22">MFI</text>
<text x="0" y="0" font-size="6.5" font-weight="bold" text-anchor="end" stroke="#000" stroke-width="0.22" transform="translate(134.20,871.30) rotate(-45)">CAR-T</text>
<text x="0" y="0" font-size="6.5" font-weight="bold" text-anchor="end" stroke="#000" stroke-width="0.22" transform="translate(154.50,871.30) rotate(-45)">Pretr-CAR-T</text>
<line x1="194.20" y1="803.90" x2="194.20" y2="863.00" stroke="#222" stroke-width="0.9"/>
<line x1="194.20" y1="863.00" x2="240.00" y2="863.00" stroke="#222" stroke-width="0.9"/>
<line x1="192.40" y1="804.40" x2="194.20" y2="804.40" stroke="#222" stroke-width="0.8"/>
<text x="191.50" y="806.85" font-size="6.8" font-weight="bold" text-anchor="end" fill="#111" stroke="#111" stroke-width="0.22">1.5</text>
<line x1="192.40" y1="824.10" x2="194.20" y2="824.10" stroke="#222" stroke-width="0.8"/>
<text x="191.50" y="826.55" font-size="6.8" font-weight="bold" text-anchor="end" fill="#111" stroke="#111" stroke-width="0.22">1.0</text>
<line x1="192.40" y1="843.50" x2="194.20" y2="843.50" stroke="#222" stroke-width="0.8"/>
<text x="191.50" y="845.95" font-size="6.8" font-weight="bold" text-anchor="end" fill="#111" stroke="#111" stroke-width="0.22">0.5</text>
<line x1="192.40" y1="863.00" x2="194.20" y2="863.00" stroke="#222" stroke-width="0.8"/>
<text x="191.50" y="865.45" font-size="6.8" font-weight="bold" text-anchor="end" fill="#111" stroke="#111" stroke-width="0.22">0.0</text>
<rect x="201.75" y="824.30" width="12.70" height="38.70" fill="none" stroke="#f6a531" stroke-width="1.1"/>
<line x1="208.10" y1="813.90" x2="208.10" y2="834.30" stroke="#f6a531" stroke-width="0.7"/>
<line x1="206.50" y1="813.90" x2="209.70" y2="813.90" stroke="#f6a531" stroke-width="0.7"/>
<line x1="206.50" y1="834.30" x2="209.70" y2="834.30" stroke="#f6a531" stroke-width="0.7"/>
<line x1="208.10" y1="863.00" x2="208.10" y2="864.80" stroke="#222" stroke-width="0.8"/>
<rect x="222.45" y="843.00" width="12.60" height="20.00" fill="none" stroke="#e8322e" stroke-width="1.1"/>
<line x1="228.75" y1="831.30" x2="228.75" y2="854.30" stroke="#e8322e" stroke-width="0.7"/>
<line x1="227.15" y1="831.30" x2="230.35" y2="831.30" stroke="#e8322e" stroke-width="0.7"/>
<line x1="227.15" y1="854.30" x2="230.35" y2="854.30" stroke="#e8322e" stroke-width="0.7"/>
<line x1="228.75" y1="863.00" x2="228.75" y2="864.80" stroke="#222" stroke-width="0.8"/>
<line x1="208.30" y1="805.20" x2="229.00" y2="805.20" stroke="#222" stroke-width="0.9"/>
<text x="218.65" y="803.05" font-size="5.7" text-anchor="middle" fill="#222" stroke="#222" stroke-width="0.12">0.0129</text>
<text x="218.10" y="791.05" font-size="6.8" font-weight="bold" text-anchor="middle" fill="#000" stroke="#000" stroke-width="0.22">Treg</text>
<text x="0" y="2.30" font-size="6.4" font-weight="bold" text-anchor="middle" fill="#000" transform="translate(178.40,832.80) rotate(-90)" stroke="#000" stroke-width="0.22">Relative Treg %</text>
<circle cx="205.10" cy="810.50" r="1.30" fill="#f6a531"/>
<circle cx="211.00" cy="812.40" r="1.30" fill="#f6a531"/>
<circle cx="205.00" cy="829.60" r="1.30" fill="#f6a531"/>
<circle cx="211.00" cy="827.30" r="1.30" fill="#f6a531"/>
<circle cx="211.00" cy="830.80" r="1.30" fill="#f6a531"/>
<circle cx="208.00" cy="834.50" r="1.30" fill="#f6a531"/>
<path d="M228.50,829.70L230.00,832.33L227.00,832.33Z" fill="#e8322e"/>
<path d="M228.50,833.50L230.00,836.12L227.00,836.12Z" fill="#e8322e"/>
<path d="M228.50,837.50L230.00,840.12L227.00,840.12Z" fill="#e8322e"/>
<path d="M225.60,842.50L227.10,845.12L224.10,845.12Z" fill="#e8322e"/>
<path d="M231.50,844.50L233.00,847.12L230.00,847.12Z" fill="#e8322e"/>
<path d="M228.50,862.50L230.00,865.12L227.00,865.12Z" fill="#e8322e"/>
<text x="0" y="0" font-size="6.5" font-weight="bold" text-anchor="end" stroke="#000" stroke-width="0.22" transform="translate(209.70,871.80) rotate(-45)">CAR-T</text>
<text x="0" y="0" font-size="6.5" font-weight="bold" text-anchor="end" stroke="#000" stroke-width="0.22" transform="translate(230.00,871.80) rotate(-45)">Pretr-CAR-T</text>
<text x="260.80" y="785.00" font-size="12" font-weight="bold">q</text>
<text x="293.00" y="782.59" font-size="8.3" font-weight="bold" text-anchor="start" fill="#000" stroke="#000" stroke-width="0.22">CAR-T coculture with Raji-Luc cells</text>
<g transform="translate(266.6,822.4)">
<path d="M0,9 L10,1 L26,8 L16,16.5 Z" fill="#dfe6ee" stroke="#b8c2cc" stroke-width="0.5"/>
<path d="M0,9 L16,16.5 L16,19.5 L0,12 Z" fill="#c9d2dc"/>
<path d="M16,16.5 L26,8 L26,11 L16,19.5 Z" fill="#b7c1cc"/>
<ellipse cx="7.5" cy="7.8" rx="2.2" ry="1.4" fill="#f2a2bc"/>
<ellipse cx="11.5" cy="5.8" rx="2.2" ry="1.4" fill="#f2a2bc"/>
<ellipse cx="15.5" cy="3.8" rx="2.2" ry="1.4" fill="#f2a2bc"/>
<ellipse cx="11" cy="10.5" rx="2.2" ry="1.4" fill="#f2a2bc"/>
<ellipse cx="15" cy="8.5" rx="2.2" ry="1.4" fill="#f2a2bc"/>
<ellipse cx="19" cy="6.5" rx="2.2" ry="1.4" fill="#f2a2bc"/>
</g>
<rect x="296.00" y="829.80" width="10.80" height="3.20" fill="#444" stroke="none" stroke-width="0.8"/>
<rect x="299.80" y="826.40" width="3.20" height="10.00" fill="#444" stroke="none" stroke-width="0.8"/>
<circle cx="323.1" cy="819.9" r="2.9" fill="#f8cfa2"/>
<circle cx="323.1" cy="819.9" r="1.4" fill="#f2b98a"/>
<circle cx="332" cy="819.9" r="2.9" fill="#f8cfa2"/>
<circle cx="332" cy="819.9" r="1.4" fill="#f2b98a"/>
<circle cx="313.9" cy="829.4" r="2.9" fill="#f8cfa2"/>
<circle cx="313.9" cy="829.4" r="1.4" fill="#f2b98a"/>
<circle cx="321.4" cy="826.4" r="2.9" fill="#f8cfa2"/>
<circle cx="321.4" cy="826.4" r="1.4" fill="#f2b98a"/>
<circle cx="330" cy="828.4" r="2.9" fill="#f8cfa2"/>
<circle cx="330" cy="828.4" r="1.4" fill="#f2b98a"/>
<circle cx="323.1" cy="835" r="2.9" fill="#f8cfa2"/>
<circle cx="323.1" cy="835" r="1.4" fill="#f2b98a"/>
<line x1="337.40" y1="827.40" x2="346.50" y2="827.40" stroke="#333" stroke-width="0.7"/>
<line x1="346.50" y1="810.00" x2="346.50" y2="845.20" stroke="#333" stroke-width="0.7"/>
<line x1="346.50" y1="810.00" x2="358.00" y2="810.00" stroke="#333" stroke-width="0.7"/>
<path d="M360,810 L356,808 L356,812 Z" fill="#333"/>
<line x1="346.50" y1="845.20" x2="358.00" y2="845.20" stroke="#333" stroke-width="0.7"/>
<path d="M360,845.2 L356,843.2 L356,847.2 Z" fill="#333"/>
<g transform="translate(367.20,799.70)">
<path d="M5.8,6.3 L18.1,0.2 L27.5,4 L27.5,9.8 L21.8,13.3 L6.3,15.9 Z" fill="#eceef2" stroke="#d2d6dc" stroke-width="0.5"/>
<path d="M5.8,10.2 L19,6.8 L27.3,7.6 L27.3,9.8 L21.8,13.1 L6.3,15.7 Z" fill="#b4c6ee"/>
<rect x="0" y="8.3" width="6.4" height="7.6" rx="1.6" fill="#2a78d0"/>
</g>
<g transform="translate(367.20,834.80)">
<path d="M5.8,6.3 L18.1,0.2 L27.5,4 L27.5,9.8 L21.8,13.3 L6.3,15.9 Z" fill="#eceef2" stroke="#d2d6dc" stroke-width="0.5"/>
<path d="M5.8,10.2 L19,6.8 L27.3,7.6 L27.3,9.8 L21.8,13.1 L6.3,15.7 Z" fill="#eea06a"/>
<rect x="0" y="8.3" width="6.4" height="7.6" rx="1.6" fill="#2a78d0"/>
</g>
<text x="383.50" y="825.72" font-size="7.0" font-weight="bold" text-anchor="middle" fill="#000" stroke="#000" stroke-width="0.22">DMSO</text>
<text x="383.20" y="861.02" font-size="7.0" font-weight="bold" text-anchor="middle" fill="#000" stroke="#000" stroke-width="0.22">TAIII 1μM</text>
<text x="406.00" y="828.52" font-size="7.0" font-weight="bold" text-anchor="middle" fill="#000" stroke="#000" stroke-width="0.22">24h</text>
<line x1="395.60" y1="832.70" x2="414.00" y2="832.70" stroke="#000" stroke-width="1.0"/>
<path d="M418,832.7 L413,830.6 L413,834.8 Z" fill="#000"/>
<text x="424.20" y="818.12" font-size="7.0" font-weight="bold" text-anchor="start" fill="#000" stroke="#000" stroke-width="0.22">Luciferase</text>
<text x="424.20" y="835.12" font-size="7.0" font-weight="bold" text-anchor="start" fill="#000" stroke="#000" stroke-width="0.22">ELISA</text>
<text x="424.20" y="851.92" font-size="7.0" font-weight="bold" text-anchor="start" fill="#000" stroke="#000" stroke-width="0.22">QPCR</text>
<text x="266.10" y="856.82" font-size="7.0" font-weight="bold" text-anchor="start" fill="#000" stroke="#000" stroke-width="0.22">Patients'</text>
<text x="266.10" y="866.32" font-size="7.0" font-weight="bold" text-anchor="start" fill="#000" stroke="#000" stroke-width="0.22">CAR-T (n=8)</text>
<text x="316.60" y="860.42" font-size="7.0" font-weight="bold" text-anchor="start" fill="#000" stroke="#000" stroke-width="0.22">Raji-Luc</text>
<text x="316.60" y="869.32" font-size="7.0" font-weight="bold" text-anchor="start" fill="#000" stroke="#000" stroke-width="0.22">cells</text>
<text x="569" y="655.2" font-size="11" font-weight="bold">r</text>
<line x1="611.30" y1="668.30" x2="611.30" y2="731.10" stroke="#222" stroke-width="1.0"/>
<line x1="611.30" y1="731.10" x2="653.20" y2="731.10" stroke="#222" stroke-width="1.0"/>
<line x1="609.10" y1="668.70" x2="611.30" y2="668.70" stroke="#222" stroke-width="0.8"/>
<text x="608.10" y="671.00" font-size="6.4" font-weight="bold" text-anchor="end" fill="#111" stroke="#111" stroke-width="0.22">40</text>
<line x1="609.10" y1="684.30" x2="611.30" y2="684.30" stroke="#222" stroke-width="0.8"/>
<text x="608.10" y="686.60" font-size="6.4" font-weight="bold" text-anchor="end" fill="#111" stroke="#111" stroke-width="0.22">30</text>
<line x1="609.10" y1="699.90" x2="611.30" y2="699.90" stroke="#222" stroke-width="0.8"/>
<text x="608.10" y="702.20" font-size="6.4" font-weight="bold" text-anchor="end" fill="#111" stroke="#111" stroke-width="0.22">20</text>
<line x1="609.10" y1="715.40" x2="611.30" y2="715.40" stroke="#222" stroke-width="0.8"/>
<text x="608.10" y="717.70" font-size="6.4" font-weight="bold" text-anchor="end" fill="#111" stroke="#111" stroke-width="0.22">10</text>
<line x1="609.10" y1="731.10" x2="611.30" y2="731.10" stroke="#222" stroke-width="0.8"/>
<text x="608.10" y="733.40" font-size="6.4" font-weight="bold" text-anchor="end" fill="#111" stroke="#111" stroke-width="0.22">0</text>
<line x1="622.80" y1="698.34" x2="641.10" y2="676.50" stroke="#111" stroke-width="0.6"/>
<circle cx="622.80" cy="698.34" r="1.25" fill="#000"/>
<path d="M641.10,675.10L642.50,677.55L639.70,677.55Z" fill="#000"/>
<line x1="622.80" y1="699.12" x2="641.10" y2="679.62" stroke="#111" stroke-width="0.6"/>
<circle cx="622.80" cy="699.12" r="1.25" fill="#000"/>
<path d="M641.10,678.22L642.50,680.67L639.70,680.67Z" fill="#000"/>
<line x1="622.80" y1="706.92" x2="641.10" y2="679.62" stroke="#111" stroke-width="0.6"/>
<circle cx="622.80" cy="706.92" r="1.25" fill="#000"/>
<path d="M641.10,678.22L642.50,680.67L639.70,680.67Z" fill="#000"/>
<line x1="622.80" y1="708.48" x2="641.10" y2="693.66" stroke="#111" stroke-width="0.6"/>
<circle cx="622.80" cy="708.48" r="1.25" fill="#000"/>
<path d="M641.10,692.26L642.50,694.71L639.70,694.71Z" fill="#000"/>
<line x1="622.80" y1="710.82" x2="641.10" y2="695.22" stroke="#111" stroke-width="0.6"/>
<circle cx="622.80" cy="710.82" r="1.25" fill="#000"/>
<path d="M641.10,693.82L642.50,696.27L639.70,696.27Z" fill="#000"/>
<line x1="622.80" y1="727.98" x2="641.10" y2="696.78" stroke="#111" stroke-width="0.6"/>
<circle cx="622.80" cy="727.98" r="1.25" fill="#000"/>
<path d="M641.10,695.38L642.50,697.83L639.70,697.83Z" fill="#000"/>
<line x1="622.80" y1="729.54" x2="641.10" y2="698.34" stroke="#111" stroke-width="0.6"/>
<circle cx="622.80" cy="729.54" r="1.25" fill="#000"/>
<path d="M641.10,696.94L642.50,699.39L639.70,699.39Z" fill="#000"/>
<line x1="622.80" y1="730.32" x2="641.10" y2="699.90" stroke="#111" stroke-width="0.6"/>
<circle cx="622.80" cy="730.32" r="1.25" fill="#000"/>
<path d="M641.10,698.50L642.50,700.95L639.70,700.95Z" fill="#000"/>
<line x1="622.80" y1="731.10" x2="641.10" y2="709.26" stroke="#111" stroke-width="0.6"/>
<circle cx="622.80" cy="731.10" r="1.25" fill="#000"/>
<path d="M641.10,707.86L642.50,710.31L639.70,710.31Z" fill="#000"/>
<line x1="622.80" y1="731.10" x2="622.80" y2="732.90" stroke="#222" stroke-width="0.8"/>
<line x1="641.10" y1="731.10" x2="641.10" y2="732.90" stroke="#222" stroke-width="0.8"/>
<line x1="623.30" y1="668.90" x2="640.80" y2="668.90" stroke="#888" stroke-width="1.5"/>
<text x="632.05" y="666.82" font-size="5.9" text-anchor="middle" fill="#222" stroke="#222" stroke-width="0.12">&lt;0.0001</text>
<text x="0" y="2.48" font-size="6.9" font-weight="bold" text-anchor="middle" fill="#000" transform="translate(594.60,699.70) rotate(-90)" stroke="#000" stroke-width="0.22">Percent Killing (%)</text>
<text x="0" y="0" font-size="6.2" font-weight="bold" text-anchor="end" stroke="#000" stroke-width="0.22" transform="translate(624.20,739.30) rotate(-45)">DMSO</text>
<text x="0" y="0" font-size="6.2" font-weight="bold" text-anchor="end" stroke="#000" stroke-width="0.22" transform="translate(642.20,739.30) rotate(-45)">TAIII</text>
<text x="473.40" y="783.80" font-size="12" font-weight="bold">s</text>
<text x="517.00" y="785.92" font-size="7" font-weight="bold" text-anchor="middle" fill="#000" stroke="#000" stroke-width="0.22">IL-2</text>
<line x1="494.30" y1="801.60" x2="494.30" y2="864.70" stroke="#222" stroke-width="1.0"/>
<line x1="494.30" y1="864.70" x2="538.00" y2="864.70" stroke="#222" stroke-width="1.0"/>
<line x1="492.10" y1="801.60" x2="494.30" y2="801.60" stroke="#222" stroke-width="0.8"/>
<text x="491.70" y="803.69" font-size="5.8" font-weight="bold" text-anchor="end" fill="#111" stroke="#111" stroke-width="0.22">2000</text>
<line x1="492.10" y1="817.20" x2="494.30" y2="817.20" stroke="#222" stroke-width="0.8"/>
<text x="491.70" y="819.29" font-size="5.8" font-weight="bold" text-anchor="end" fill="#111" stroke="#111" stroke-width="0.22">1500</text>
<line x1="492.10" y1="833.10" x2="494.30" y2="833.10" stroke="#222" stroke-width="0.8"/>
<text x="491.70" y="835.19" font-size="5.8" font-weight="bold" text-anchor="end" fill="#111" stroke="#111" stroke-width="0.22">1000</text>
<line x1="492.10" y1="848.80" x2="494.30" y2="848.80" stroke="#222" stroke-width="0.8"/>
<text x="491.70" y="850.89" font-size="5.8" font-weight="bold" text-anchor="end" fill="#111" stroke="#111" stroke-width="0.22">500</text>
<line x1="492.10" y1="864.70" x2="494.30" y2="864.70" stroke="#222" stroke-width="0.8"/>
<text x="491.70" y="866.79" font-size="5.8" font-weight="bold" text-anchor="end" fill="#111" stroke="#111" stroke-width="0.22">0</text>
<line x1="508.30" y1="818.95" x2="526.30" y2="811.70" stroke="#111" stroke-width="0.6"/>
<circle cx="508.30" cy="818.95" r="1.25" fill="#000"/>
<circle cx="526.30" cy="811.70" r="1.25" fill="#000"/>
<line x1="508.30" y1="842.62" x2="526.30" y2="840.41" stroke="#111" stroke-width="0.6"/>
<circle cx="508.30" cy="842.62" r="1.25" fill="#000"/>
<circle cx="526.30" cy="840.41" r="1.25" fill="#000"/>
<line x1="508.30" y1="846.40" x2="526.30" y2="842.62" stroke="#111" stroke-width="0.6"/>
<circle cx="508.30" cy="846.40" r="1.25" fill="#000"/>
<circle cx="526.30" cy="842.62" r="1.25" fill="#000"/>
<line x1="508.30" y1="852.08" x2="526.30" y2="848.93" stroke="#111" stroke-width="0.6"/>
<circle cx="508.30" cy="852.08" r="1.25" fill="#000"/>
<circle cx="526.30" cy="848.93" r="1.25" fill="#000"/>
<line x1="508.30" y1="860.60" x2="526.30" y2="837.57" stroke="#111" stroke-width="0.6"/>
<circle cx="508.30" cy="860.60" r="1.25" fill="#000"/>
<circle cx="526.30" cy="837.57" r="1.25" fill="#000"/>
<line x1="508.30" y1="864.70" x2="526.30" y2="852.71" stroke="#111" stroke-width="0.6"/>
<circle cx="508.30" cy="864.70" r="1.25" fill="#000"/>
<circle cx="526.30" cy="852.71" r="1.25" fill="#000"/>
<line x1="508.30" y1="864.70" x2="526.30" y2="857.44" stroke="#111" stroke-width="0.6"/>
<circle cx="508.30" cy="864.70" r="1.25" fill="#000"/>
<circle cx="526.30" cy="857.44" r="1.25" fill="#000"/>
<line x1="508.30" y1="864.70" x2="526.30" y2="860.91" stroke="#111" stroke-width="0.6"/>
<circle cx="508.30" cy="864.70" r="1.25" fill="#000"/>
<circle cx="526.30" cy="860.91" r="1.25" fill="#000"/>
<line x1="508.30" y1="864.70" x2="508.30" y2="866.50" stroke="#222" stroke-width="0.8"/>
<line x1="526.30" y1="864.70" x2="526.30" y2="866.50" stroke="#222" stroke-width="0.8"/>
<line x1="508.30" y1="803.20" x2="526.30" y2="803.20" stroke="#777" stroke-width="1.4"/>
<text x="517.30" y="800.87" font-size="5.2" text-anchor="middle" fill="#222" stroke="#222" stroke-width="0.12">0.0159</text>
<text x="0" y="2.38" font-size="6.6" font-weight="bold" text-anchor="middle" fill="#000" transform="translate(473.80,833.15) rotate(-90)" stroke="#000" stroke-width="0.22">pg/ul</text>
<text x="0" y="0" font-size="6.2" font-weight="bold" text-anchor="end" stroke="#000" stroke-width="0.22" transform="translate(509.70,873.30) rotate(-45)">DMSO</text>
<text x="0" y="0" font-size="6.2" font-weight="bold" text-anchor="end" stroke="#000" stroke-width="0.22" transform="translate(527.70,873.30) rotate(-45)">TAIII</text>
<text x="589.00" y="785.52" font-size="7" font-weight="bold" text-anchor="middle" fill="#000" stroke="#000" stroke-width="0.22">IFN-γ</text>
<line x1="567.90" y1="801.30" x2="567.90" y2="864.40" stroke="#222" stroke-width="1.0"/>
<line x1="567.90" y1="864.40" x2="609.90" y2="864.40" stroke="#222" stroke-width="1.0"/>
<line x1="565.70" y1="801.30" x2="567.90" y2="801.30" stroke="#222" stroke-width="0.8"/>
<text x="565.30" y="803.39" font-size="5.8" font-weight="bold" text-anchor="end" fill="#111" stroke="#111" stroke-width="0.22">4000</text>
<line x1="565.70" y1="817.20" x2="567.90" y2="817.20" stroke="#222" stroke-width="0.8"/>
<text x="565.30" y="819.29" font-size="5.8" font-weight="bold" text-anchor="end" fill="#111" stroke="#111" stroke-width="0.22">3000</text>
<line x1="565.70" y1="833.00" x2="567.90" y2="833.00" stroke="#222" stroke-width="0.8"/>
<text x="565.30" y="835.09" font-size="5.8" font-weight="bold" text-anchor="end" fill="#111" stroke="#111" stroke-width="0.22">2000</text>
<line x1="565.70" y1="848.50" x2="567.90" y2="848.50" stroke="#222" stroke-width="0.8"/>
<text x="565.30" y="850.59" font-size="5.8" font-weight="bold" text-anchor="end" fill="#111" stroke="#111" stroke-width="0.22">1000</text>
<line x1="565.70" y1="864.40" x2="567.90" y2="864.40" stroke="#222" stroke-width="0.8"/>
<text x="565.30" y="866.49" font-size="5.8" font-weight="bold" text-anchor="end" fill="#111" stroke="#111" stroke-width="0.22">0</text>
<line x1="580.20" y1="813.12" x2="598.20" y2="811.54" stroke="#111" stroke-width="0.6"/>
<circle cx="580.20" cy="813.12" r="1.25" fill="#000"/>
<path d="M598.20,810.14L599.60,812.59L596.80,812.59Z" fill="#000"/>
<line x1="580.20" y1="820.22" x2="598.20" y2="819.43" stroke="#111" stroke-width="0.6"/>
<circle cx="580.20" cy="820.22" r="1.25" fill="#000"/>
<path d="M598.20,818.03L599.60,820.48L596.80,820.48Z" fill="#000"/>
<line x1="580.20" y1="828.11" x2="598.20" y2="821.79" stroke="#111" stroke-width="0.6"/>
<circle cx="580.20" cy="828.11" r="1.25" fill="#000"/>
<path d="M598.20,820.39L599.60,822.84L596.80,822.84Z" fill="#000"/>
<line x1="580.20" y1="828.89" x2="598.20" y2="822.58" stroke="#111" stroke-width="0.6"/>
<circle cx="580.20" cy="828.89" r="1.25" fill="#000"/>
<path d="M598.20,821.18L599.60,823.63L596.80,823.63Z" fill="#000"/>
<line x1="580.20" y1="830.47" x2="598.20" y2="822.58" stroke="#111" stroke-width="0.6"/>
<circle cx="580.20" cy="830.47" r="1.25" fill="#000"/>
<path d="M598.20,821.18L599.60,823.63L596.80,823.63Z" fill="#000"/>
<line x1="580.20" y1="850.99" x2="598.20" y2="848.62" stroke="#111" stroke-width="0.6"/>
<circle cx="580.20" cy="850.99" r="1.25" fill="#000"/>
<path d="M598.20,847.22L599.60,849.67L596.80,849.67Z" fill="#000"/>
<line x1="580.20" y1="862.82" x2="598.20" y2="860.45" stroke="#111" stroke-width="0.6"/>
<circle cx="580.20" cy="862.82" r="1.25" fill="#000"/>
<path d="M598.20,859.05L599.60,861.50L596.80,861.50Z" fill="#000"/>
<line x1="580.20" y1="863.61" x2="598.20" y2="863.61" stroke="#111" stroke-width="0.6"/>
<circle cx="580.20" cy="863.61" r="1.25" fill="#000"/>
<path d="M598.20,862.21L599.60,864.66L596.80,864.66Z" fill="#000"/>
<line x1="580.20" y1="864.40" x2="580.20" y2="866.20" stroke="#222" stroke-width="0.8"/>
<line x1="598.20" y1="864.40" x2="598.20" y2="866.20" stroke="#222" stroke-width="0.8"/>
<line x1="580.20" y1="803.80" x2="598.20" y2="803.80" stroke="#777" stroke-width="1.4"/>
<text x="589.20" y="801.47" font-size="5.2" text-anchor="middle" fill="#222" stroke="#222" stroke-width="0.12">0.0022</text>
<text x="0" y="2.38" font-size="6.6" font-weight="bold" text-anchor="middle" fill="#000" transform="translate(546.60,832.85) rotate(-90)" stroke="#000" stroke-width="0.22">pg/ul</text>
<text x="0" y="0" font-size="6.2" font-weight="bold" text-anchor="end" stroke="#000" stroke-width="0.22" transform="translate(581.70,873.30) rotate(-45)">DMSO</text>
<text x="0" y="0" font-size="6.2" font-weight="bold" text-anchor="end" stroke="#000" stroke-width="0.22" transform="translate(599.70,873.30) rotate(-45)">TAIII</text>
<text x="615.5" y="785.2" font-size="12" font-weight="bold">t</text>
<text x="663.30" y="790.02" font-size="7" font-weight="bold" font-style="italic" text-anchor="middle" fill="#000" stroke="#000" stroke-width="0.22">FoxP3</text>
<line x1="642.00" y1="798.50" x2="642.00" y2="863.50" stroke="#444" stroke-width="1.0"/>
<line x1="642.00" y1="863.50" x2="681.80" y2="863.50" stroke="#444" stroke-width="1.0"/>
<line x1="640.20" y1="799.20" x2="642.00" y2="799.20" stroke="#222" stroke-width="0.8"/>
<text x="639.40" y="801.14" font-size="5.4" font-weight="bold" text-anchor="end" fill="#666" stroke="#666" stroke-width="0.22">1.5</text>
<line x1="640.20" y1="820.80" x2="642.00" y2="820.80" stroke="#222" stroke-width="0.8"/>
<text x="639.40" y="822.74" font-size="5.4" font-weight="bold" text-anchor="end" fill="#666" stroke="#666" stroke-width="0.22">1.0</text>
<line x1="640.20" y1="842.10" x2="642.00" y2="842.10" stroke="#222" stroke-width="0.8"/>
<text x="639.40" y="844.04" font-size="5.4" font-weight="bold" text-anchor="end" fill="#666" stroke="#666" stroke-width="0.22">0.5</text>
<line x1="640.20" y1="863.70" x2="642.00" y2="863.70" stroke="#222" stroke-width="0.8"/>
<text x="639.40" y="865.64" font-size="5.4" font-weight="bold" text-anchor="end" fill="#666" stroke="#666" stroke-width="0.22">0.0</text>
<text x="0" y="2.30" font-size="6.4" font-weight="bold" text-anchor="middle" fill="#000" transform="translate(625.70,831.20) rotate(-90)" stroke="#000" stroke-width="0.22">Relative mRNA level</text>
<rect x="648.50" y="820.30" width="11.20" height="43.20" fill="#c7ddf7" stroke="#555" stroke-width="0.9"/>
<rect x="667.00" y="836.20" width="11.30" height="27.30" fill="#f7d2ae" stroke="#6a4a30" stroke-width="0.9"/>
<line x1="672.60" y1="832.00" x2="672.60" y2="840.40" stroke="#333" stroke-width="0.7"/>
<line x1="671.10" y1="832.00" x2="674.10" y2="832.00" stroke="#333" stroke-width="0.7"/>
<line x1="671.10" y1="840.40" x2="674.10" y2="840.40" stroke="#333" stroke-width="0.7"/>
<circle cx="650.50" cy="820.50" r="1.10" fill="#000"/>
<circle cx="653.00" cy="820.50" r="1.10" fill="#000"/>
<circle cx="655.50" cy="820.50" r="1.10" fill="#000"/>
<circle cx="658.00" cy="820.30" r="1.10" fill="#000"/>
<circle cx="659.50" cy="818.70" r="1.10" fill="#000"/>
<circle cx="669.00" cy="832.50" r="1.10" fill="#000"/>
<circle cx="673.00" cy="831.50" r="1.10" fill="#000"/>
<circle cx="676.00" cy="833.50" r="1.10" fill="#000"/>
<circle cx="672.00" cy="838.00" r="1.10" fill="#000"/>
<circle cx="670.50" cy="843.50" r="1.10" fill="#000"/>
<line x1="654.30" y1="810.80" x2="672.30" y2="810.80" stroke="#555" stroke-width="1.0"/>
<text x="663.30" y="808.54" font-size="5.4" text-anchor="middle" fill="#333" stroke="#333" stroke-width="0.12">0.0002</text>
<line x1="654.20" y1="863.50" x2="654.20" y2="865.30" stroke="#222" stroke-width="0.8"/>
<line x1="672.60" y1="863.50" x2="672.60" y2="865.30" stroke="#222" stroke-width="0.8"/>
<text x="0" y="0" font-size="6.4" font-weight="bold" text-anchor="end" stroke="#000" stroke-width="0.22" transform="translate(655.70,872.30) rotate(-45)">DMSO</text>
<text x="0" y="0" font-size="6.4" font-weight="bold" text-anchor="end" stroke="#000" stroke-width="0.22" transform="translate(674.20,872.30) rotate(-45)">TAIII</text>
</svg></body></html>
